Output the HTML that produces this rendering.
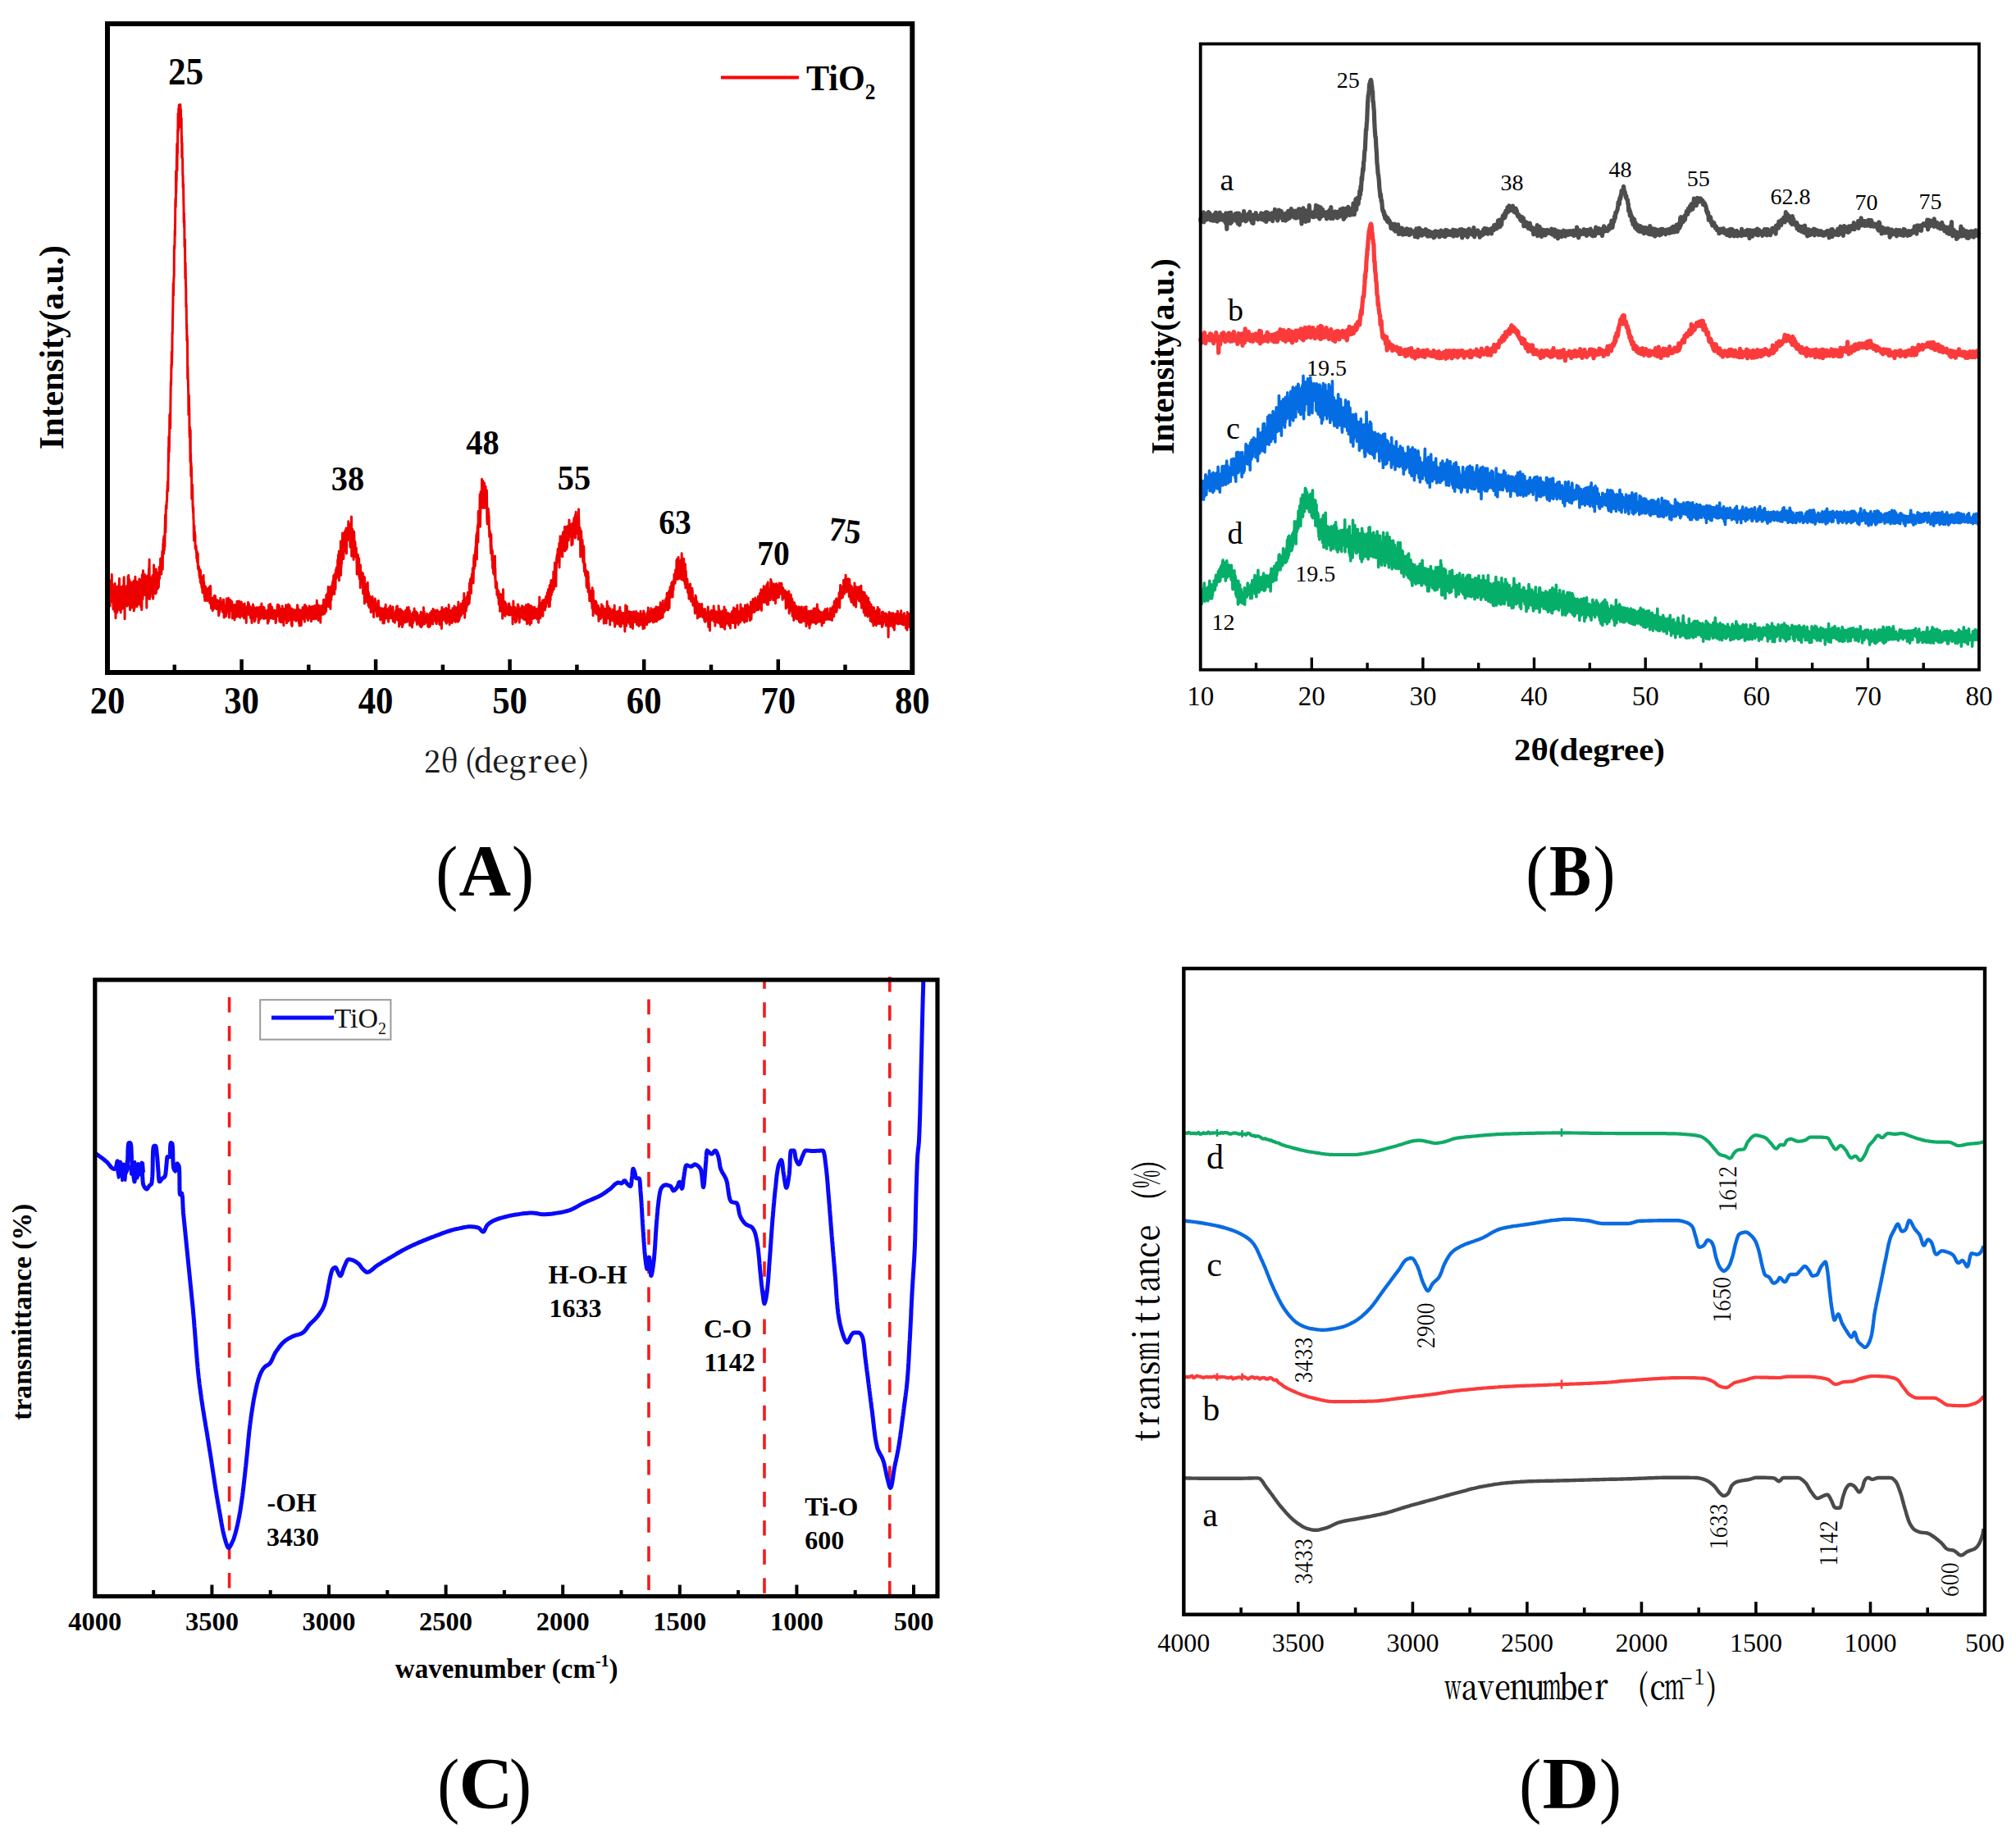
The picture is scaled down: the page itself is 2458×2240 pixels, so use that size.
<!DOCTYPE html>
<html lang="en"><head><meta charset="utf-8"><title>XRD and FTIR figure</title>
<style>
html,body{margin:0;padding:0;background:#fff;}
body{width:2458px;height:2240px;overflow:hidden;}
svg{display:block;}
text{white-space:pre;}
</style></head><body>
<svg width="2458" height="2240" viewBox="0 0 2458 2240">
<rect x="0" y="0" width="2458" height="2240" fill="#fff"/>
<g id="panelA">
<polyline points="131,731 131.2,734.6 131.4,727.7 131.6,720.4 131.8,725.6 132,719.2 132.2,731.6 132.4,746.8 132.6,725 132.8,723.5 133,736.6 133.2,735 133.5,732 133.7,719.7 133.9,730.4 134.1,739 134.3,714.7 134.5,725.2 134.7,708.1 134.9,715.3 135.1,708.7 135.3,727.8 135.5,715.5 135.7,733.8 135.9,732.4 136.1,728.3 136.3,700.6 136.5,724 136.7,729.8 136.9,731.7 137.1,712.2 137.3,724.7 137.5,718.7 137.7,720.7 138,742.9 138.2,720.7 138.4,729.8 138.6,740.7 138.8,723.2 139,728.8 139.2,731.4 139.4,730.9 139.6,715.5 139.8,730.9 140,746.2 140.2,711.6 140.4,740.2 140.6,731.4 140.8,722.3 141,753.7 141.2,738.9 141.4,715.6 141.6,718.3 141.8,736.6 142,727.5 142.2,737.8 142.4,728.9 142.7,737.6 142.9,746.7 143.1,721.5 143.3,732 143.5,724 143.7,731 143.9,715.3 144.1,722.5 144.3,727.1 144.5,740.1 144.7,743 144.9,713.5 145.1,719.8 145.3,736.9 145.5,705.5 145.7,723.7 145.9,728 146.1,744.1 146.3,737.3 146.5,725.1 146.7,724.6 146.9,726 147.2,747.1 147.4,723.8 147.6,725.2 147.8,733 148,727.3 148.2,726.4 148.4,715.4 148.6,728.5 148.8,723.3 149,742.5 149.2,736.4 149.4,728.2 149.6,736.5 149.8,724.4 150,741 150.2,728.3 150.4,735.3 150.6,712.9 150.8,732.4 151,708 151.2,703.8 151.4,724.5 151.6,717.3 151.9,730 152.1,754.8 152.3,718 152.5,720.5 152.7,730.3 152.9,733.7 153.1,725.7 153.3,725.3 153.5,736.1 153.7,733.9 153.9,715.2 154.1,726.6 154.3,727.9 154.5,714.8 154.7,730.5 154.9,717.1 155.1,739 155.3,729.6 155.5,728.3 155.7,720.1 155.9,725.7 156.1,703.1 156.4,713.5 156.6,731.3 156.8,701.4 157,737 157.2,705.9 157.4,735.8 157.6,716.6 157.8,736 158,728.2 158.2,708.1 158.4,741.5 158.6,743.7 158.8,725.6 159,723 159.2,724.3 159.4,714.5 159.6,739.3 159.8,719.6 160,725.4 160.2,716.4 160.4,718.4 160.6,710.5 160.8,740.9 161.1,723.9 161.3,737.3 161.5,725.8 161.7,717.2 161.9,721.5 162.1,718.7 162.3,725.4 162.5,720.8 162.7,721.6 162.9,708.6 163.1,715.4 163.3,744.9 163.5,716.9 163.7,712.2 163.9,728.9 164.1,741.6 164.3,707.2 164.5,722.1 164.7,716.9 164.9,703.3 165.1,733.2 165.3,724 165.5,725.1 165.8,715.1 166,729.6 166.2,717.5 166.4,722.2 166.6,710.6 166.8,709.2 167,739.7 167.2,717.5 167.4,727.1 167.6,723.1 167.8,718.1 168,717.2 168.2,730.8 168.4,719.5 168.6,721.3 168.8,723.3 169,737 169.2,731 169.4,727.3 169.6,715.9 169.8,706 170,733.9 170.3,734 170.5,720.6 170.7,728.7 170.9,731.5 171.1,732 171.3,733 171.5,716.5 171.7,739.8 171.9,706.9 172.1,731.9 172.3,727.4 172.5,731.8 172.7,743.6 172.9,738.9 173.1,707.6 173.3,701.1 173.5,730.6 173.7,708.9 173.9,720.7 174.1,730.6 174.3,701.3 174.5,695.7 174.7,723.5 175,720.8 175.2,717.4 175.4,720.6 175.6,710 175.8,702.3 176,717.9 176.2,708.5 176.4,700.6 176.6,725.4 176.8,718.7 177,724 177.2,707.9 177.4,711.6 177.6,707.6 177.8,708.8 178,721.1 178.2,709.9 178.4,722.7 178.6,722.4 178.8,741.3 179,702.7 179.2,728.2 179.5,717.2 179.7,717.9 179.9,701.9 180.1,712.8 180.3,725.9 180.5,716.7 180.7,718.4 180.9,714.3 181.1,729.9 181.3,717 181.5,693.4 181.7,709.6 181.9,695.8 182.1,682.2 182.3,711.1 182.5,730.6 182.7,716.9 182.9,704.1 183.1,706.4 183.3,727.8 183.5,717.6 183.7,716.3 183.9,715.2 184.2,716 184.4,723.6 184.6,720.9 184.8,717.4 185,704.7 185.2,720 185.4,708.1 185.6,717.3 185.8,702.2 186,713 186.2,714.1 186.4,701.4 186.6,730.2 186.8,727.5 187,709.2 187.2,720.5 187.4,716.7 187.6,688.9 187.8,715 188,712 188.2,713.1 188.4,702.4 188.7,709.5 188.9,710 189.1,721.9 189.3,714.1 189.5,710.8 189.7,723.9 189.9,705.5 190.1,706.6 190.3,694.1 190.5,722.7 190.7,717.2 190.9,716.4 191.1,713.9 191.3,708.8 191.5,709.2 191.7,704.9 191.9,704.9 192.1,706.5 192.3,718 192.5,709.6 192.7,704.1 192.9,699.3 193.1,698.2 193.4,715.9 193.6,706.3 193.8,702.1 194,698 194.2,691.2 194.4,698.8 194.6,705.6 194.8,694.6 195,695.1 195.2,694.3 195.4,696 195.6,681.3 195.8,691.2 196,685.2 196.2,698.2 196.4,683.6 196.6,693.4 196.8,699.9 197,683.6 197.2,679.9 197.4,685 197.6,682 197.9,672.2 198.1,682.8 198.3,694.2 198.5,673.4 198.7,672.1 198.9,663.1 199.1,672.8 199.3,657.4 199.5,656.5 199.7,675.2 199.9,653.8 200.1,669.1 200.3,670.7 200.5,657 200.7,657.1 200.9,667.4 201.1,644.9 201.3,638.3 201.5,628.1 201.7,638.3 201.9,649.1 202.1,640.9 202.3,618.9 202.6,616.2 202.8,616.1 203,620.5 203.2,611.6 203.4,612.1 203.6,608.9 203.8,598.5 204,597 204.2,595.2 204.4,587.6 204.6,589.2 204.8,598.9 205,580.4 205.2,569.7 205.4,546.1 205.6,562.8 205.8,532.6 206,532.8 206.2,551 206.4,543.6 206.6,528.6 206.8,506.1 207.1,514 207.3,504.4 207.5,511.8 207.7,522.2 207.9,494 208.1,476.6 208.3,465.5 208.5,470.2 208.7,461.7 208.9,444.1 209.1,449.9 209.3,429.1 209.5,445.2 209.7,436.9 209.9,429.3 210.1,404.9 210.3,407.3 210.5,392.4 210.7,381.5 210.9,373.7 211.1,355.3 211.3,345.5 211.5,360.5 211.8,341.8 212,337.6 212.2,337.3 212.4,300.2 212.6,301.7 212.8,303.3 213,297.1 213.2,280.7 213.4,287.1 213.6,270.3 213.8,247.3 214,242.2 214.2,252.5 214.4,241.1 214.6,208.8 214.8,235.4 215,220.3 215.2,221 215.4,196.1 215.6,190.5 215.8,175.5 216,207.9 216.3,173.8 216.5,186.9 216.7,158.4 216.9,162.2 217.1,138.7 217.3,148.3 217.5,159.1 217.7,132.6 217.9,154.2 218.1,144.3 218.3,128.1 218.5,132.4 218.7,131.9 218.9,135.8 219.1,130.8 219.3,128.2 219.5,134.6 219.7,128.5 219.9,127.6 220.1,142.9 220.3,155.4 220.5,133.4 220.7,153 221,150.1 221.2,144 221.4,174.9 221.6,165.7 221.8,192.2 222,174.1 222.2,192.4 222.4,192.3 222.6,193.4 222.8,214.2 223,213.5 223.2,228.7 223.4,229.4 223.6,224.6 223.8,244.2 224,253.8 224.2,271.3 224.4,259.9 224.6,277.2 224.8,268 225,301.1 225.2,291.4 225.5,292.3 225.7,319 225.9,339.7 226.1,320.6 226.3,333.7 226.5,345.7 226.7,350 226.9,374.2 227.1,370.1 227.3,379.2 227.5,401 227.7,395.1 227.9,415.6 228.1,408.8 228.3,414.1 228.5,415.4 228.7,461.7 228.9,446.4 229.1,459.7 229.3,464.2 229.5,473.4 229.7,479.3 229.9,505.7 230.2,481.8 230.4,483.1 230.6,495.4 230.8,498.5 231,526.6 231.2,533.5 231.4,521 231.6,522.5 231.8,539.1 232,563 232.2,524.6 232.4,565 232.6,553.5 232.8,580.8 233,563.7 233.2,576.9 233.4,568.9 233.6,579 233.8,608.3 234,606.8 234.2,598.3 234.4,597.6 234.6,591.2 234.9,610.6 235.1,618.1 235.3,621.3 235.5,624.8 235.7,618.4 235.9,631.9 236.1,635.4 236.3,650.9 236.5,659.1 236.7,643.7 236.9,641 237.1,650 237.3,648 237.5,649.5 237.7,657.9 237.9,652 238.1,668.3 238.3,664.6 238.5,669.7 238.7,668.3 238.9,665.9 239.1,666.2 239.4,673.8 239.6,673.2 239.8,681.1 240,681 240.2,672.2 240.4,684.8 240.6,675.6 240.8,682.7 241,686.6 241.2,674.7 241.4,692.2 241.6,693.9 241.8,692.9 242,692.2 242.2,693.7 242.4,690.5 242.6,696.7 242.8,695.7 243,701.3 243.2,693.2 243.4,704.3 243.6,704.5 243.8,703.4 244.1,702.3 244.3,709.9 244.5,695.5 244.7,710.9 244.9,710.1 245.1,707.8 245.3,712.5 245.5,706.2 245.7,709.5 245.9,716.2 246.1,715.4 246.3,714.5 246.5,703.7 246.7,717.9 246.9,722.6 247.1,722 247.3,717.5 247.5,706.3 247.7,723.1 247.9,716.5 248.1,701.6 248.3,720.9 248.6,709.3 248.8,711 249,715.7 249.2,728.3 249.4,718.2 249.6,722.7 249.8,732.5 250,731.8 250.2,721.5 250.4,721 250.6,715 250.8,718.9 251,726.2 251.2,726.4 251.4,724.9 251.6,730.7 251.8,720.1 252,724.8 252.2,730 252.4,729.4 252.6,732.7 252.8,728.8 253,724.7 253.3,729.1 253.5,721.1 253.7,717.4 253.9,731.3 254.1,727.6 254.3,730.1 254.5,718.2 254.7,726.5 254.9,725.3 255.1,724 255.3,715.8 255.5,727.6 255.7,735.3 255.9,732.4 256.1,726.7 256.3,730.4 256.5,735.3 256.7,714.4 256.9,730.4 257.1,734.6 257.3,735.6 257.5,741.8 257.8,738.6 258,733.9 258.2,734.1 258.4,737.1 258.6,729.4 258.8,732.6 259,738.3 259.2,744.7 259.4,732.4 259.6,733.2 259.8,734.8 260,741.7 260.2,733.8 260.4,742.7 260.6,728.6 260.8,733.3 261,733.4 261.2,739.3 261.4,740.9 261.6,726.2 261.8,729.8 262,737.2 262.2,731.6 262.5,726.7 262.7,741.7 262.9,738.6 263.1,738.8 263.3,733.3 263.5,742.1 263.7,734.9 263.9,742.7 264.1,731.3 264.3,731.7 264.5,737.9 264.7,732.8 264.9,740.9 265.1,738.6 265.3,731.9 265.5,737.7 265.7,735.4 265.9,742.8 266.1,734 266.3,735.2 266.5,744.7 266.7,750.7 267,749.4 267.2,738.5 267.4,739.4 267.6,747 267.8,737.7 268,732.9 268.2,739.2 268.4,741.2 268.6,734 268.8,729.5 269,730.8 269.2,742.8 269.4,734.8 269.6,738.4 269.8,740.5 270,742.8 270.2,737.5 270.4,742.3 270.6,734.5 270.8,737.6 271,733.9 271.2,746.2 271.4,739.7 271.7,735.8 271.9,738 272.1,738.8 272.3,744.1 272.5,731.3 272.7,734.5 272.9,738.2 273.1,753.1 273.3,745.8 273.5,739.9 273.7,744.6 273.9,752.2 274.1,739.4 274.3,738.8 274.5,747.6 274.7,743.7 274.9,744.7 275.1,738.2 275.3,751.8 275.5,750.7 275.7,744.4 275.9,745.1 276.2,730 276.4,744.9 276.6,740.4 276.8,743.9 277,745.4 277.2,739.7 277.4,732.3 277.6,743.8 277.8,737.6 278,740 278.2,738.5 278.4,740 278.6,729.2 278.8,748.8 279,743.5 279.2,748.3 279.4,753.1 279.6,742.3 279.8,732.3 280,737.4 280.2,735.7 280.4,739.6 280.6,742.9 280.9,731.4 281.1,744.4 281.3,734.2 281.5,744.3 281.7,742 281.9,741 282.1,742.3 282.3,739.8 282.5,739.4 282.7,733.6 282.9,742.7 283.1,753.1 283.3,753.9 283.5,750.3 283.7,746.9 283.9,739.4 284.1,751.1 284.3,742.9 284.5,742.8 284.7,741.6 284.9,743.8 285.1,740.9 285.4,742.9 285.6,737.4 285.8,741.4 286,756 286.2,743.1 286.4,742.2 286.6,746.5 286.8,747.5 287,737.5 287.2,742.5 287.4,748.7 287.6,745.2 287.8,744.4 288,752.3 288.2,740.1 288.4,744.3 288.6,741.1 288.8,752.1 289,733.3 289.2,740.3 289.4,741.1 289.6,747.7 289.8,747.4 290.1,751.7 290.3,735.6 290.5,748.3 290.7,742.6 290.9,740.6 291.1,747.2 291.3,739.3 291.5,733 291.7,742.3 291.9,736.2 292.1,740.9 292.3,746.5 292.5,746.2 292.7,753.2 292.9,743.5 293.1,736.2 293.3,740.5 293.5,739.6 293.7,738 293.9,747 294.1,741.2 294.3,734 294.5,748.5 294.8,744.2 295,746.8 295.2,745.4 295.4,748.3 295.6,745.1 295.8,751.6 296,747.3 296.2,747.1 296.4,747.2 296.6,737.1 296.8,744.2 297,743.7 297.2,746.2 297.4,737.8 297.6,754 297.8,745.7 298,738.6 298.2,736 298.4,743.7 298.6,744.8 298.8,741.4 299,745.8 299.3,741.9 299.5,740.9 299.7,741.5 299.9,745.2 300.1,750.7 300.3,759.4 300.5,740 300.7,743 300.9,741 301.1,749.8 301.3,739.4 301.5,743 301.7,745.5 301.9,740.4 302.1,740.5 302.3,743.1 302.5,734.4 302.7,737.9 302.9,743.5 303.1,746.6 303.3,744.8 303.5,736.3 303.7,743.4 304,750.2 304.2,748.9 304.4,745.5 304.6,741.2 304.8,749.4 305,742.9 305.2,739.7 305.4,741.7 305.6,753.9 305.8,747.3 306,746.3 306.2,743.6 306.4,751.2 306.6,742.9 306.8,745.4 307,759.6 307.2,750.4 307.4,743.6 307.6,745.8 307.8,748.1 308,752.9 308.2,743.7 308.5,737 308.7,744.9 308.9,746.5 309.1,747 309.3,753.6 309.5,748.2 309.7,750.9 309.9,740.6 310.1,751.2 310.3,757.9 310.5,750.8 310.7,748 310.9,747.5 311.1,756.3 311.3,741.7 311.5,746.1 311.7,749.2 311.9,750.8 312.1,744.4 312.3,748.5 312.5,745.3 312.7,747.5 312.9,746.1 313.2,740.7 313.4,746.8 313.6,751.6 313.8,741.7 314,745.7 314.2,750.6 314.4,741.3 314.6,748 314.8,741.4 315,753.2 315.2,759.5 315.4,758 315.6,746 315.8,751.1 316,747.8 316.2,747.7 316.4,755.5 316.6,740.1 316.8,752.9 317,747 317.2,754.9 317.4,748.3 317.7,743.7 317.9,748.8 318.1,751.3 318.3,747.6 318.5,750 318.7,744.6 318.9,736 319.1,752.3 319.3,751.3 319.5,748.3 319.7,747.9 319.9,753.1 320.1,745.1 320.3,743.8 320.5,746.6 320.7,754 320.9,740.2 321.1,754.1 321.3,744.3 321.5,741.8 321.7,754.5 321.9,747.2 322.1,740.8 322.4,745.9 322.6,752.8 322.8,754.2 323,745.6 323.2,750 323.4,751.7 323.6,744.5 323.8,749.8 324,747.8 324.2,745.1 324.4,745.3 324.6,748.4 324.8,748.2 325,745 325.2,745.8 325.4,754 325.6,749.2 325.8,752.9 326,754.6 326.2,751.3 326.4,760.3 326.6,743.8 326.9,752.5 327.1,746.5 327.3,758.2 327.5,757.4 327.7,737.8 327.9,743.1 328.1,751.9 328.3,752.6 328.5,752.3 328.7,748 328.9,750.8 329.1,751.9 329.3,748 329.5,754 329.7,736.4 329.9,751.9 330.1,743 330.3,753.7 330.5,747.3 330.7,743.8 330.9,750.6 331.1,743.7 331.3,743.7 331.6,740.2 331.8,748.5 332,751.3 332.2,754.2 332.4,747.9 332.6,754.3 332.8,748.8 333,748.2 333.2,751.8 333.4,754.4 333.6,747 333.8,747.5 334,748 334.2,749.3 334.4,744 334.6,754.4 334.8,746.7 335,751.4 335.2,744.5 335.4,750.9 335.6,751 335.8,746.7 336.1,759.8 336.3,751 336.5,758.5 336.7,754.2 336.9,745.5 337.1,744.6 337.3,751.4 337.5,749.4 337.7,749.4 337.9,747.6 338.1,739.4 338.3,747.9 338.5,737.3 338.7,751.2 338.9,745.3 339.1,745.4 339.3,748 339.5,750.7 339.7,741.6 339.9,739.9 340.1,743.6 340.3,738.3 340.5,744.1 340.8,757.8 341,743.7 341.2,752.8 341.4,742 341.6,751 341.8,747.7 342,749.1 342.2,752.5 342.4,758.8 342.6,750.5 342.8,750.1 343,744.2 343.2,752.6 343.4,748.2 343.6,754 343.8,749.3 344,758.8 344.2,738.9 344.4,748 344.6,754.3 344.8,747.7 345,745.3 345.3,748.2 345.5,742.2 345.7,750.2 345.9,762.7 346.1,755.8 346.3,743.7 346.5,745 346.7,747.5 346.9,755.1 347.1,745.3 347.3,746 347.5,754.4 347.7,754.3 347.9,747.7 348.1,743.7 348.3,741.4 348.5,746 348.7,737.8 348.9,753.8 349.1,746.4 349.3,752.4 349.5,759.8 349.7,756.1 350,743.6 350.2,754.5 350.4,756 350.6,745.8 350.8,744.7 351,749.2 351.2,741.2 351.4,757.7 351.6,736.9 351.8,743.9 352,748.4 352.2,748.7 352.4,750.8 352.6,751.3 352.8,748.7 353,756 353.2,738.4 353.4,749.9 353.6,746.1 353.8,750.6 354,751.1 354.2,745 354.5,746.5 354.7,754.2 354.9,751.8 355.1,746.3 355.3,760.9 355.5,762.4 355.7,742.1 355.9,751.6 356.1,763.4 356.3,754.2 356.5,751.1 356.7,748.8 356.9,747 357.1,748.8 357.3,747 357.5,754 357.7,747.8 357.9,747.6 358.1,743.5 358.3,749.7 358.5,745.2 358.7,749 358.9,755.6 359.2,751.9 359.4,752.7 359.6,751.9 359.8,750.3 360,749.3 360.2,748.3 360.4,754 360.6,744.1 360.8,757.2 361,750.1 361.2,745.9 361.4,747.3 361.6,746.3 361.8,750.8 362,746.1 362.2,756.1 362.4,745.7 362.6,737.7 362.8,746 363,739.1 363.2,749.7 363.4,755.6 363.6,753.4 363.9,742.7 364.1,745.8 364.3,759.5 364.5,751.6 364.7,749.9 364.9,755.5 365.1,763.1 365.3,756.8 365.5,750.6 365.7,751.7 365.9,753.1 366.1,746.5 366.3,744 366.5,750 366.7,744.6 366.9,749.4 367.1,750.2 367.3,762.4 367.5,745.1 367.7,749 367.9,748.8 368.1,752 368.4,755.3 368.6,747 368.8,745.2 369,740.7 369.2,744.6 369.4,752.5 369.6,749.8 369.8,744 370,747.5 370.2,749.7 370.4,752.2 370.6,746.3 370.8,748.1 371,739.6 371.2,743.2 371.4,758.2 371.6,737.5 371.8,747.5 372,750.5 372.2,747.3 372.4,744.9 372.6,748.9 372.8,749.2 373.1,748.8 373.3,739 373.5,748.4 373.7,744.5 373.9,746.1 374.1,750.3 374.3,752.6 374.5,753.9 374.7,746.3 374.9,754 375.1,755.4 375.3,755.1 375.5,756.5 375.7,748.1 375.9,747.9 376.1,753.3 376.3,741.3 376.5,749.9 376.7,745.8 376.9,746.6 377.1,739.1 377.3,743.7 377.6,748.4 377.8,753.4 378,753.9 378.2,748 378.4,747.4 378.6,743.8 378.8,750.5 379,745.5 379.2,751.6 379.4,757.8 379.6,748 379.8,739.9 380,743.3 380.2,740 380.4,741.4 380.6,755.1 380.8,749.1 381,739.4 381.2,751.3 381.4,754.6 381.6,745.6 381.8,743.8 382,745.7 382.3,749 382.5,750.9 382.7,753.9 382.9,754 383.1,753.8 383.3,754.7 383.5,750.7 383.7,738.5 383.9,746.2 384.1,748.6 384.3,744.7 384.5,751.8 384.7,744.6 384.9,741.4 385.1,754.5 385.3,750.1 385.5,747.5 385.7,751.4 385.9,752.1 386.1,747.9 386.3,732.3 386.5,742.1 386.8,743.2 387,740.2 387.2,746.7 387.4,752.1 387.6,742.6 387.8,738.9 388,756.5 388.2,742.5 388.4,738 388.6,746.1 388.8,747.1 389,740.6 389.2,748.9 389.4,741.6 389.6,739 389.8,745.1 390,748.3 390.2,740.2 390.4,745.5 390.6,742.9 390.8,759.3 391,739.2 391.2,750.9 391.5,742.6 391.7,742 391.9,746.6 392.1,747.5 392.3,749.4 392.5,743.9 392.7,738.4 392.9,738.5 393.1,744.4 393.3,744.6 393.5,749.1 393.7,743.2 393.9,746.7 394.1,749.2 394.3,741.1 394.5,731.4 394.7,732.9 394.9,731.2 395.1,748.5 395.3,734.1 395.5,746 395.7,741.9 396,748.3 396.2,743.9 396.4,737.1 396.6,736.3 396.8,737.7 397,737.9 397.2,733.4 397.4,736.1 397.6,745.5 397.8,725.5 398,736.9 398.2,729.6 398.4,735.8 398.6,739.4 398.8,733.6 399,738.3 399.2,723.7 399.4,739.6 399.6,728.9 399.8,735.9 400,732.9 400.2,715.6 400.4,726.3 400.7,731.9 400.9,739.7 401.1,731.5 401.3,730.9 401.5,720.1 401.7,737.3 401.9,739.2 402.1,727.6 402.3,725.6 402.5,716.3 402.7,731.6 402.9,742.5 403.1,729.5 403.3,732.5 403.5,727.4 403.7,717.1 403.9,731.4 404.1,714.4 404.3,720.4 404.5,723 404.7,726.3 404.9,722.7 405.2,721.9 405.4,713.8 405.6,709.7 405.8,718 406,712.3 406.2,707.6 406.4,707.2 406.6,711.7 406.8,701.9 407,704.6 407.2,702 407.4,713.5 407.6,714.4 407.8,724.6 408,699.9 408.2,704.8 408.4,715 408.6,706.5 408.8,704.9 409,718.4 409.2,703.3 409.4,696.8 409.6,694.8 409.9,705.7 410.1,704.7 410.3,691.9 410.5,693.9 410.7,704 410.9,703.5 411.1,693.8 411.3,702.1 411.5,701 411.7,682.8 411.9,692.8 412.1,697.3 412.3,689.1 412.5,676.5 412.7,689.5 412.9,696.4 413.1,701.8 413.3,672.3 413.5,708 413.7,678.5 413.9,693.6 414.1,694.9 414.4,692.1 414.6,684.7 414.8,673.6 415,686.7 415.2,675.2 415.4,660 415.6,701.5 415.8,683.8 416,691.8 416.2,669 416.4,687.3 416.6,687.5 416.8,678.3 417,672.7 417.2,662.1 417.4,669.6 417.6,650.1 417.8,655.3 418,669.3 418.2,659.5 418.4,665.5 418.6,665.2 418.8,681.6 419.1,675.5 419.3,663.4 419.5,673.3 419.7,655.6 419.9,658.7 420.1,668.7 420.3,649.5 420.5,657.1 420.7,647.5 420.9,659.3 421.1,671.8 421.3,650.5 421.5,658.5 421.7,648.1 421.9,645.4 422.1,644.1 422.3,667.3 422.5,674.9 422.7,657.9 422.9,646.9 423.1,659.2 423.3,649.6 423.6,659.4 423.8,654.6 424,654.3 424.2,657 424.4,646.3 424.6,647.7 424.8,635.8 425,647.2 425.2,638.4 425.4,649.8 425.6,642.5 425.8,652 426,655.2 426.2,638.7 426.4,644.2 426.6,643.2 426.8,658.5 427,667.2 427.2,659.9 427.4,649.5 427.6,665.9 427.8,639.9 428,666.9 428.3,648.3 428.5,630.1 428.7,678.3 428.9,669.3 429.1,647 429.3,658 429.5,655.3 429.7,658.6 429.9,645.5 430.1,653.1 430.3,663.6 430.5,662.2 430.7,671.2 430.9,662.3 431.1,682.4 431.3,657 431.5,666.1 431.7,648.5 431.9,654.9 432.1,677.4 432.3,659.2 432.5,672.3 432.7,668.2 433,660.9 433.2,667.5 433.4,667 433.6,668.1 433.8,679.1 434,679.2 434.2,670.1 434.4,668.3 434.6,678.8 434.8,676.6 435,686.5 435.2,700.3 435.4,686.8 435.6,680.8 435.8,680.6 436,676.1 436.2,676.7 436.4,676.9 436.6,682.5 436.8,683.2 437,693 437.2,685.2 437.5,687.6 437.7,680.8 437.9,703.3 438.1,695.6 438.3,706 438.5,699.5 438.7,705.5 438.9,693.5 439.1,701.4 439.3,716.8 439.5,688.9 439.7,707.2 439.9,711.8 440.1,703.4 440.3,706.7 440.5,711.1 440.7,698.1 440.9,706.6 441.1,698.1 441.3,700.3 441.5,701.6 441.7,705.7 441.9,708.6 442.2,711.5 442.4,699 442.6,723.7 442.8,718.6 443,716.3 443.2,709.4 443.4,712 443.6,717.1 443.8,716.8 444,703.2 444.2,720.4 444.4,735.9 444.6,704.1 444.8,724.1 445,720.4 445.2,717.8 445.4,728.4 445.6,711.9 445.8,721.5 446,730.7 446.2,720.3 446.4,719.4 446.7,723.3 446.9,720.4 447.1,734 447.3,718.4 447.5,730.6 447.7,717.3 447.9,730.3 448.1,725.8 448.3,710.3 448.5,727.4 448.7,721.1 448.9,725.5 449.1,738.6 449.3,722.2 449.5,723 449.7,739.3 449.9,731.4 450.1,740.8 450.3,733.5 450.5,726.3 450.7,731.9 450.9,740.3 451.1,738.9 451.4,733.4 451.6,734.1 451.8,733.5 452,731 452.2,746.8 452.4,735.3 452.6,728.6 452.8,733 453,740.7 453.2,740.5 453.4,736 453.6,733.1 453.8,737.6 454,727.6 454.2,730.2 454.4,743.2 454.6,735.7 454.8,741.1 455,746.5 455.2,743.3 455.4,739.8 455.6,752.6 455.9,744.2 456.1,738.3 456.3,745 456.5,743.3 456.7,736 456.9,741.7 457.1,740.6 457.3,730.1 457.5,740.9 457.7,740.5 457.9,739.8 458.1,732.9 458.3,740.6 458.5,742.7 458.7,743.7 458.9,736.6 459.1,747.2 459.3,736.5 459.5,742.5 459.7,751.6 459.9,740.1 460.1,741.3 460.3,750.7 460.6,742.3 460.8,743 461,746.2 461.2,751.1 461.4,732.4 461.6,740.5 461.8,739.6 462,739.3 462.2,740.7 462.4,741 462.6,747.7 462.8,740.9 463,746.9 463.2,748.6 463.4,742.2 463.6,747.2 463.8,756 464,748.5 464.2,743.2 464.4,746.5 464.6,741.8 464.8,748.7 465.1,752.1 465.3,742.6 465.5,746.2 465.7,753.8 465.9,744.7 466.1,748.7 466.3,741.9 466.5,743.2 466.7,745 466.9,760 467.1,745.8 467.3,745.2 467.5,745.1 467.7,747.4 467.9,752 468.1,749.5 468.3,759.9 468.5,749.8 468.7,756.6 468.9,750.2 469.1,752.1 469.3,740.9 469.5,748.2 469.8,748.6 470,747.7 470.2,737.3 470.4,754 470.6,747.1 470.8,746.9 471,747.9 471.2,748.1 471.4,751.7 471.6,742.5 471.8,744.5 472,751.2 472.2,750.5 472.4,747.6 472.6,746.6 472.8,745.2 473,749.5 473.2,756.4 473.4,744.2 473.6,758.3 473.8,754.7 474,747.6 474.3,754.4 474.5,742.2 474.7,740.8 474.9,743.2 475.1,748.1 475.3,748.6 475.5,747.6 475.7,751 475.9,738.8 476.1,753.2 476.3,742.8 476.5,747 476.7,748.4 476.9,744.4 477.1,743.2 477.3,745.3 477.5,750.7 477.7,754 477.9,753.9 478.1,745.5 478.3,746.6 478.5,745.9 478.7,753.4 479,739.9 479.2,757.8 479.4,748.4 479.6,746.9 479.8,753 480,756.8 480.2,753.1 480.4,756.9 480.6,752 480.8,757.9 481,758.1 481.2,750.8 481.4,759.2 481.6,752.3 481.8,751.9 482,746.5 482.2,749.9 482.4,755.7 482.6,744.4 482.8,755.1 483,753.5 483.2,753.1 483.5,739.7 483.7,751.1 483.9,755.2 484.1,747.6 484.3,752.2 484.5,738.9 484.7,755.4 484.9,748.2 485.1,756.5 485.3,741.9 485.5,755.6 485.7,750.6 485.9,756.3 486.1,746.9 486.3,748.6 486.5,764.1 486.7,747.5 486.9,748.2 487.1,750.5 487.3,746.5 487.5,758.5 487.7,761.4 487.9,748.3 488.2,742.8 488.4,758.5 488.6,758.1 488.8,756.6 489,758.4 489.2,747.5 489.4,751.3 489.6,744.8 489.8,744.6 490,757.6 490.2,748.7 490.4,764.6 490.6,752.7 490.8,748.9 491,756.7 491.2,762.1 491.4,755 491.6,745.9 491.8,754.4 492,759.8 492.2,749.8 492.4,748.3 492.6,758 492.9,753.3 493.1,746.6 493.3,750.5 493.5,748.5 493.7,754.2 493.9,753.2 494.1,758.8 494.3,756.4 494.5,744.2 494.7,754.8 494.9,757.5 495.1,755.1 495.3,758.2 495.5,749.7 495.7,747.6 495.9,757.7 496.1,747 496.3,741.1 496.5,758.2 496.7,748.9 496.9,751.1 497.1,745.3 497.4,745.7 497.6,746.6 497.8,750.9 498,754.8 498.2,740.5 498.4,756.9 498.6,746.5 498.8,747.1 499,756.5 499.2,752.5 499.4,744.6 499.6,762.8 499.8,748.3 500,754.2 500.2,754 500.4,760.5 500.6,750.5 500.8,758.3 501,749 501.2,759 501.4,748.9 501.6,751 501.8,763.1 502.1,754.7 502.3,753.6 502.5,765 502.7,754.9 502.9,748.6 503.1,756.9 503.3,746.7 503.5,759.1 503.7,759.5 503.9,750 504.1,749.7 504.3,754 504.5,753.1 504.7,747.8 504.9,756.1 505.1,742.1 505.3,750.7 505.5,750.9 505.7,751.6 505.9,754.7 506.1,746.5 506.3,756.2 506.6,752.1 506.8,749.6 507,745.8 507.2,746.8 507.4,755 507.6,747.9 507.8,753.4 508,758.8 508.2,758.6 508.4,761.5 508.6,751.5 508.8,747.3 509,758.6 509.2,754.8 509.4,759.1 509.6,753.2 509.8,759.5 510,757.7 510.2,757 510.4,755.8 510.6,755.3 510.8,754.4 511,754.3 511.3,758.4 511.5,750.4 511.7,762.4 511.9,752.6 512.1,758.4 512.3,752.7 512.5,751.8 512.7,764 512.9,751.5 513.1,746.3 513.3,749.3 513.5,751.4 513.7,764.7 513.9,754.2 514.1,758.1 514.3,747.8 514.5,755 514.7,756.7 514.9,762.8 515.1,749.4 515.3,756.4 515.5,754.7 515.8,747.7 516,753 516.2,751.7 516.4,740.7 516.6,756.3 516.8,756 517,750.8 517.2,745.9 517.4,761 517.6,754.5 517.8,758.5 518,760.6 518.2,750.3 518.4,757.4 518.6,751.8 518.8,752.7 519,752.6 519.2,753.1 519.4,759 519.6,753.7 519.8,752.2 520,751.6 520.2,754.9 520.5,748.3 520.7,750.4 520.9,752.8 521.1,750 521.3,752.4 521.5,749.7 521.7,763.7 521.9,760.1 522.1,755.4 522.3,752.7 522.5,764.7 522.7,754.7 522.9,752.5 523.1,754.6 523.3,754.6 523.5,760.5 523.7,752.8 523.9,764.2 524.1,748.2 524.3,756.6 524.5,747.5 524.7,762.6 525,751.1 525.2,752.6 525.4,757.8 525.6,759.6 525.8,746.9 526,751 526.2,745.4 526.4,753.6 526.6,752.3 526.8,750.9 527,749.1 527.2,750.7 527.4,748.8 527.6,755.6 527.8,760.9 528,742.4 528.2,752.1 528.4,750.5 528.6,755.4 528.8,747.6 529,751.9 529.2,747.1 529.4,756.4 529.7,753.2 529.9,751.8 530.1,754.6 530.3,751.3 530.5,744.3 530.7,755.8 530.9,754.1 531.1,751.7 531.3,757.8 531.5,759.1 531.7,746.6 531.9,748.3 532.1,760.8 532.3,760.1 532.5,748.5 532.7,746.1 532.9,749 533.1,749.7 533.3,743.9 533.5,752.5 533.7,745.5 533.9,745.8 534.2,757.2 534.4,748.6 534.6,751.9 534.8,755.7 535,756.6 535.2,750.4 535.4,752.4 535.6,747.7 535.8,761.6 536,755.6 536.2,746.2 536.4,752.1 536.6,755.9 536.8,754.6 537,761.9 537.2,759.4 537.4,749.1 537.6,751.5 537.8,745 538,753.3 538.2,752.7 538.4,766.5 538.6,752.4 538.9,740.5 539.1,748.2 539.3,752.4 539.5,745 539.7,747 539.9,749.7 540.1,753.5 540.3,750.8 540.5,746.8 540.7,755.9 540.9,748.6 541.1,748.8 541.3,744 541.5,747.2 541.7,755 541.9,742.7 542.1,751 542.3,755.2 542.5,749.3 542.7,752.6 542.9,745.2 543.1,758.3 543.4,757.2 543.6,752.4 543.8,741.6 544,745.4 544.2,756.4 544.4,760.3 544.6,752.6 544.8,757.7 545,747.6 545.2,749.8 545.4,750.8 545.6,753.1 545.8,742.4 546,755.8 546.2,757.9 546.4,744.4 546.6,743.2 546.8,752.5 547,746.9 547.2,737.5 547.4,754.8 547.6,751.2 547.8,747.7 548.1,761.8 548.3,751 548.5,746.1 548.7,750.7 548.9,744.4 549.1,745.9 549.3,752.1 549.5,746.9 549.7,747.4 549.9,758.9 550.1,754.5 550.3,754.1 550.5,752.6 550.7,752.3 550.9,757.5 551.1,749.4 551.3,759.6 551.5,744.1 551.7,747.9 551.9,741.7 552.1,747.3 552.3,752 552.6,757 552.8,745.3 553,748.9 553.2,746.9 553.4,744.7 553.6,742.2 553.8,749 554,739 554.2,749.1 554.4,748.5 554.6,744.7 554.8,742.7 555,740.5 555.2,758.4 555.4,740.6 555.6,756.5 555.8,751.2 556,745.7 556.2,741.2 556.4,750.2 556.6,757.1 556.8,742.2 557,745.6 557.3,753 557.5,748.9 557.7,758.1 557.9,743.7 558.1,749.8 558.3,739.7 558.5,758.2 558.7,742.3 558.9,734 559.1,745.5 559.3,745.3 559.5,756.7 559.7,743.9 559.9,745.6 560.1,748.9 560.3,754.3 560.5,744.9 560.7,751 560.9,747.9 561.1,743.2 561.3,745.1 561.5,744.7 561.7,739.2 562,751.1 562.2,736.1 562.4,750.5 562.6,749.1 562.8,742.9 563,738.9 563.2,741.8 563.4,745.6 563.6,746.9 563.8,744.1 564,747.9 564.2,738.8 564.4,743.1 564.6,732.5 564.8,745.7 565,741.9 565.2,738.3 565.4,747.2 565.6,744.2 565.8,723.5 566,739.8 566.2,730.8 566.5,745.2 566.7,753.2 566.9,735.2 567.1,738.4 567.3,736.1 567.5,739.2 567.7,740.6 567.9,744 568.1,730.1 568.3,744.9 568.5,729.5 568.7,736.3 568.9,741.1 569.1,738 569.3,727.5 569.5,728.4 569.7,729.3 569.9,731.2 570.1,738 570.3,722.4 570.5,732.6 570.7,732.9 570.9,732 571.2,730.7 571.4,736.6 571.6,729.5 571.8,731.1 572,728.5 572.2,735.5 572.4,711.2 572.6,730.7 572.8,719.9 573,718.9 573.2,713.5 573.4,706.7 573.6,715.4 573.8,712.4 574,719.2 574.2,705.1 574.4,723.5 574.6,714.6 574.8,709.9 575,705.6 575.2,703.9 575.4,700.2 575.7,703 575.9,705.6 576.1,703 576.3,692.8 576.5,699.6 576.7,693.7 576.9,699.9 577.1,710.9 577.3,700.4 577.5,691.9 577.7,680.5 577.9,680.4 578.1,676.7 578.3,693.4 578.5,680.3 578.7,684.9 578.9,677.9 579.1,681.7 579.3,690.3 579.5,671.9 579.7,672.8 579.9,667.1 580.1,678.9 580.4,661.4 580.6,658.5 580.8,654.3 581,652 581.2,666 581.4,682.1 581.6,649.3 581.8,664.2 582,656 582.2,641.9 582.4,647.2 582.6,645.5 582.8,639.2 583,661.1 583.2,623.6 583.4,642.8 583.6,640.3 583.8,629.6 584,634.5 584.2,639.4 584.4,630.5 584.6,631.1 584.9,631.8 585.1,603 585.3,636 585.5,642.2 585.7,627.5 585.9,626.1 586.1,599.7 586.3,611.3 586.5,602.5 586.7,603.3 586.9,618 587.1,598.2 587.3,604 587.5,584.2 587.7,601.4 587.9,602.9 588.1,593.7 588.3,592.7 588.5,619.3 588.7,586.3 588.9,587.5 589.1,589.6 589.3,610.3 589.6,619.5 589.8,601 590,590.1 590.2,593.3 590.4,609.2 590.6,588.9 590.8,614.1 591,614.3 591.2,601 591.4,607.8 591.6,609.8 591.8,619.2 592,593.1 592.2,617.6 592.4,602.6 592.6,599.9 592.8,610.4 593,608.6 593.2,602.2 593.4,597.7 593.6,606.1 593.8,632.1 594.1,639 594.3,627.6 594.5,634.7 594.7,619.8 594.9,626.1 595.1,631.6 595.3,620.4 595.5,623.4 595.7,624.6 595.9,634 596.1,629.1 596.3,644.7 596.5,640.8 596.7,654.6 596.9,647.3 597.1,646.8 597.3,652.7 597.5,652.1 597.7,649.8 597.9,654.2 598.1,666.2 598.3,667.3 598.5,674.6 598.8,651.5 599,664.4 599.2,666.2 599.4,672.9 599.6,669.7 599.8,671.1 600,683.4 600.2,680.3 600.4,671.5 600.6,692.9 600.8,691.9 601,681.4 601.2,693.9 601.4,683.6 601.6,699.3 601.8,690.7 602,687.9 602.2,692.7 602.4,691.3 602.6,699.8 602.8,701 603,701.4 603.3,698.6 603.5,678 603.7,705.8 603.9,693.2 604.1,709.4 604.3,716.7 604.5,711.9 604.7,708.6 604.9,711.1 605.1,712.5 605.3,710.8 605.5,711.6 605.7,710.4 605.9,725.4 606.1,718.4 606.3,725.6 606.5,718.7 606.7,721.6 606.9,720.9 607.1,725.8 607.3,728.9 607.5,725.9 607.7,720.9 608,721 608.2,737 608.4,725.5 608.6,726.1 608.8,737.7 609,736 609.2,733.1 609.4,728 609.6,745.4 609.8,733.9 610,735.4 610.2,731.5 610.4,724.5 610.6,725.5 610.8,736.5 611,736.8 611.2,733.5 611.4,728.3 611.6,727.2 611.8,734.2 612,727.9 612.2,742.2 612.5,744.1 612.7,754.3 612.9,743.1 613.1,734.8 613.3,733.5 613.5,718.7 613.7,735.7 613.9,738.4 614.1,745.4 614.3,743.6 614.5,743.7 614.7,741.7 614.9,744.6 615.1,749.3 615.3,735.1 615.5,738.8 615.7,733.7 615.9,751.2 616.1,749.5 616.3,746.6 616.5,735.6 616.7,743.6 616.9,741.5 617.2,743.4 617.4,742.1 617.6,746.3 617.8,741.2 618,748.5 618.2,745.1 618.4,742.3 618.6,743.4 618.8,741.7 619,748.9 619.2,742.9 619.4,746.3 619.6,742.5 619.8,736.5 620,750.1 620.2,739.1 620.4,749 620.6,747.7 620.8,736.1 621,740.2 621.2,742.7 621.4,741.1 621.6,739.2 621.9,750 622.1,744.6 622.3,748.2 622.5,743.8 622.7,748 622.9,742.1 623.1,746.3 623.3,749.7 623.5,746.8 623.7,744.1 623.9,740.7 624.1,747.7 624.3,748.8 624.5,745.5 624.7,742.7 624.9,750.1 625.1,761 625.3,745.5 625.5,749.1 625.7,749.4 625.9,733.1 626.1,748.1 626.4,743.6 626.6,755.2 626.8,746.2 627,743.4 627.2,746.5 627.4,748.7 627.6,744.7 627.8,747.6 628,740.4 628.2,746.7 628.4,752.3 628.6,758.9 628.8,752 629,749.6 629.2,754.7 629.4,753.9 629.6,757.5 629.8,754.3 630,747.7 630.2,749.8 630.4,749.4 630.6,750.1 630.8,749.6 631.1,744.2 631.3,736.9 631.5,744.9 631.7,737.4 631.9,749 632.1,748.7 632.3,739.5 632.5,752.5 632.7,753.5 632.9,749.3 633.1,758 633.3,759.1 633.5,742.2 633.7,754.6 633.9,751.3 634.1,751.2 634.3,754.1 634.5,745 634.7,745.7 634.9,744.4 635.1,744.8 635.3,748.5 635.6,741 635.8,743.3 636,752.2 636.2,748.7 636.4,751.2 636.6,738.7 636.8,744.8 637,746.1 637.2,749.3 637.4,745.9 637.6,754.3 637.8,748.8 638,749.2 638.2,749.2 638.4,753.1 638.6,746.6 638.8,755.3 639,751.7 639.2,750 639.4,740.2 639.6,752 639.8,754.8 640,754.4 640.3,744 640.5,754 640.7,749.8 640.9,756.1 641.1,749 641.3,737.8 641.5,756.5 641.7,749.7 641.9,742.7 642.1,748.1 642.3,744.3 642.5,760.7 642.7,751.8 642.9,740.5 643.1,752.1 643.3,746.9 643.5,759.6 643.7,743.3 643.9,736.7 644.1,749.4 644.3,747.1 644.5,746.7 644.8,737.2 645,751.3 645.2,758.1 645.4,738.4 645.6,755.3 645.8,745.7 646,761.8 646.2,751.2 646.4,747.8 646.6,754.9 646.8,751.7 647,745.5 647.2,752.6 647.4,745.9 647.6,738.8 647.8,759.8 648,746.6 648.2,745.2 648.4,750.4 648.6,739.9 648.8,741 649,745.6 649.2,745.5 649.5,748.7 649.7,754.5 649.9,745.6 650.1,750.9 650.3,751.5 650.5,742.1 650.7,749.3 650.9,742.8 651.1,753.8 651.3,750.4 651.5,747.9 651.7,740.3 651.9,748.4 652.1,743.4 652.3,751.5 652.5,746.9 652.7,742.9 652.9,752.5 653.1,751.3 653.3,743.9 653.5,753.6 653.7,745.4 654,745.3 654.2,747.6 654.4,742.6 654.6,744.3 654.8,745.8 655,755.1 655.2,754.9 655.4,744.9 655.6,755.3 655.8,745.9 656,748.2 656.2,750.9 656.4,747.5 656.6,759.3 656.8,747 657,738.7 657.2,752.7 657.4,742.9 657.6,743.3 657.8,728 658,750.4 658.2,749.2 658.4,749 658.7,749.8 658.9,753.7 659.1,743.7 659.3,749.1 659.5,739.4 659.7,741.4 659.9,749.3 660.1,745.3 660.3,735.2 660.5,744.7 660.7,741.4 660.9,737.5 661.1,744.5 661.3,739.4 661.5,732.4 661.7,734.8 661.9,751.2 662.1,732 662.3,741.7 662.5,743.7 662.7,743.6 662.9,732.5 663.2,737.4 663.4,739.8 663.6,743.4 663.8,734.6 664,731.2 664.2,743.6 664.4,743.8 664.6,739.1 664.8,733 665,738.6 665.2,736.5 665.4,740.4 665.6,727.5 665.8,735.3 666,733.2 666.2,727 666.4,734.6 666.6,733 666.8,729.8 667,734.3 667.2,722.7 667.4,730.5 667.6,733 667.9,731.6 668.1,736 668.3,721.3 668.5,718.8 668.7,729.1 668.9,729.9 669.1,739.8 669.3,729.7 669.5,719.7 669.7,729.7 669.9,718.6 670.1,713.8 670.3,739.4 670.5,724.1 670.7,725.9 670.9,724.3 671.1,731.7 671.3,721 671.5,726.4 671.7,710.9 671.9,707.7 672.1,725.7 672.4,725.3 672.6,718.1 672.8,715.4 673,714.2 673.2,707.6 673.4,721.9 673.6,715.1 673.8,713.2 674,711.5 674.2,715.3 674.4,710.7 674.6,711.5 674.8,697.2 675,708.1 675.2,719.1 675.4,699 675.6,700.9 675.8,707.3 676,706.8 676.2,703.5 676.4,686.3 676.6,700.8 676.8,687.5 677.1,689.1 677.3,698.3 677.5,691.1 677.7,698.4 677.9,715.1 678.1,696.3 678.3,695 678.5,681.7 678.7,682.7 678.9,678.5 679.1,681.6 679.3,676.3 679.5,678.7 679.7,681.3 679.9,674.1 680.1,669.9 680.3,669.4 680.5,682.9 680.7,678.9 680.9,685.7 681.1,685 681.3,673 681.6,680.4 681.8,662.4 682,691.9 682.2,682.3 682.4,670 682.6,661.4 682.8,673.4 683,654.1 683.2,662.4 683.4,674.4 683.6,668.1 683.8,662.8 684,674.2 684.2,656.9 684.4,667.5 684.6,660.4 684.8,656.9 685,667.5 685.2,654.6 685.4,678.8 685.6,657.2 685.8,678.8 686,652 686.3,666.2 686.5,650.3 686.7,648.8 686.9,661.4 687.1,665.5 687.3,648.4 687.5,669.4 687.7,652 687.9,659.8 688.1,661.8 688.3,663.4 688.5,642.5 688.7,671.9 688.9,662.6 689.1,653.8 689.3,648.5 689.5,642.5 689.7,645.2 689.9,661.7 690.1,653.8 690.3,646.8 690.5,651.9 690.7,670 691,653.3 691.2,650.9 691.4,667.7 691.6,659.8 691.8,655.9 692,650 692.2,641.5 692.4,644.7 692.6,650.6 692.8,652.6 693,657.5 693.2,659 693.4,655.8 693.6,655.6 693.8,644.4 694,634 694.2,648.1 694.4,644 694.6,646.3 694.8,649.4 695,640.4 695.2,641.2 695.5,649.8 695.7,651.4 695.9,644.1 696.1,654.1 696.3,647.2 696.5,639.6 696.7,648.7 696.9,664.9 697.1,641.4 697.3,657.6 697.5,659.1 697.7,659.8 697.9,638.2 698.1,663.7 698.3,645.9 698.5,642.1 698.7,641.8 698.9,649 699.1,643.6 699.3,641.1 699.5,654.1 699.7,635.2 699.9,631.9 700.2,648.6 700.4,647.4 700.6,650.7 700.8,630.3 701,650.1 701.2,644.3 701.4,656.1 701.6,627.8 701.8,641.4 702,636.7 702.2,624.3 702.4,632.5 702.6,649.8 702.8,634.9 703,632.7 703.2,647.7 703.4,649 703.6,649.3 703.8,633 704,640.2 704.2,650.7 704.4,635.6 704.7,635.2 704.9,650.3 705.1,657.7 705.3,633.4 705.5,620.9 705.7,632.2 705.9,637 706.1,645.9 706.3,653.6 706.5,647.6 706.7,643.6 706.9,652.3 707.1,643.4 707.3,652.7 707.5,648.5 707.7,678.9 707.9,663.7 708.1,650.5 708.3,650.4 708.5,656.5 708.7,647.4 708.9,656.6 709.1,657.9 709.4,672.9 709.6,663.2 709.8,661.6 710,658.4 710.2,661.2 710.4,671.8 710.6,671.9 710.8,684.3 711,671.4 711.2,686.3 711.4,681.3 711.6,680.6 711.8,666.3 712,673.4 712.2,690.5 712.4,696.9 712.6,689.1 712.8,694.7 713,687.1 713.2,688.8 713.4,687.9 713.6,701.4 713.9,698 714.1,695 714.3,695.6 714.5,703.3 714.7,702.8 714.9,695.7 715.1,715.1 715.3,705.9 715.5,705.3 715.7,716.7 715.9,714.6 716.1,708 716.3,713.4 716.5,703.5 716.7,707.5 716.9,697.6 717.1,722.1 717.3,702.2 717.5,720.4 717.7,711.3 717.9,711.3 718.1,717.4 718.3,721.3 718.6,724.4 718.8,732.8 719,724.5 719.2,728.6 719.4,720 719.6,729.1 719.8,726.3 720,723.2 720.2,726.2 720.4,727.1 720.6,729.4 720.8,731.4 721,726.4 721.2,725.6 721.4,735.4 721.6,721 721.8,728.2 722,742 722.2,716.7 722.4,729.5 722.6,738.3 722.8,724.8 723.1,750.7 723.3,720.3 723.5,744.7 723.7,745.9 723.9,742.5 724.1,736.2 724.3,740 724.5,733 724.7,743.4 724.9,732.5 725.1,737.8 725.3,745.6 725.5,733.7 725.7,738.4 725.9,741.7 726.1,733.4 726.3,748.1 726.5,743.7 726.7,733.3 726.9,742 727.1,734.9 727.3,739 727.5,743.5 727.8,739.2 728,749 728.2,739.8 728.4,749.5 728.6,743.9 728.8,749.2 729,741.5 729.2,741.9 729.4,738.5 729.6,748.4 729.8,750.6 730,757.4 730.2,752.9 730.4,747.2 730.6,744.8 730.8,748.3 731,746.2 731.2,754.6 731.4,751.9 731.6,742.1 731.8,743 732,754.6 732.3,748.8 732.5,745.9 732.7,753.9 732.9,745.3 733.1,746 733.3,745.1 733.5,736.9 733.7,752.7 733.9,741.3 734.1,745 734.3,744.1 734.5,752.3 734.7,748 734.9,748.6 735.1,739.3 735.3,748.2 735.5,740.6 735.7,750.5 735.9,750.9 736.1,748.9 736.3,760.3 736.5,752 736.7,752.5 737,750.1 737.2,748.3 737.4,754.7 737.6,755.5 737.8,742.4 738,755.4 738.2,752.5 738.4,755 738.6,752.3 738.8,743.1 739,743.5 739.2,759.9 739.4,751.4 739.6,742.3 739.8,752 740,748.2 740.2,733.6 740.4,737.8 740.6,741.6 740.8,751.9 741,750.2 741.2,749.1 741.5,752.1 741.7,753.9 741.9,739.2 742.1,749 742.3,746.2 742.5,744.1 742.7,747.8 742.9,750.2 743.1,749.5 743.3,743 743.5,748.4 743.7,762 743.9,745.3 744.1,742 744.3,752.6 744.5,754.4 744.7,753.7 744.9,745.2 745.1,756.7 745.3,747.1 745.5,745.2 745.7,748.1 745.9,750.8 746.2,755.3 746.4,754.9 746.6,751.4 746.8,756.6 747,752 747.2,756.5 747.4,744.1 747.6,743.2 747.8,755.9 748,744.2 748.2,750.1 748.4,751.3 748.6,749.2 748.8,749.4 749,759.4 749.2,738.3 749.4,756.7 749.6,764.3 749.8,752.1 750,751.9 750.2,756 750.4,761.9 750.7,745.7 750.9,752.6 751.1,751.1 751.3,755.2 751.5,753 751.7,755.8 751.9,750 752.1,752.5 752.3,748.7 752.5,748.7 752.7,751.6 752.9,751.6 753.1,746.1 753.3,760.8 753.5,751.7 753.7,745 753.9,758.4 754.1,748.4 754.3,755.2 754.5,752.4 754.7,753.9 754.9,753.4 755.1,749.5 755.4,752.8 755.6,763.5 755.8,740.6 756,753 756.2,755 756.4,747 756.6,745.3 756.8,764.3 757,750.7 757.2,763.9 757.4,755.6 757.6,753.1 757.8,755.3 758,756.2 758.2,759.1 758.4,755.1 758.6,753.6 758.8,753.8 759,760.1 759.2,757.2 759.4,747.5 759.6,749.5 759.8,754.6 760.1,749.5 760.3,750.9 760.5,747.8 760.7,751.5 760.9,755.2 761.1,758.3 761.3,753 761.5,764.1 761.7,752.6 761.9,770.1 762.1,758.3 762.3,755.7 762.5,750.3 762.7,737.9 762.9,752.2 763.1,754 763.3,763.3 763.5,745.6 763.7,763.3 763.9,751.7 764.1,756.9 764.3,739.5 764.6,753.8 764.8,751.2 765,756.7 765.2,753.6 765.4,747 765.6,758.2 765.8,756.8 766,756.3 766.2,758.5 766.4,759 766.6,753 766.8,745.9 767,745.7 767.2,760.4 767.4,756.9 767.6,753.7 767.8,750.8 768,753.3 768.2,753.3 768.4,751.4 768.6,749.4 768.8,764.7 769,754.4 769.3,749.9 769.5,746.2 769.7,749.3 769.9,757 770.1,757.2 770.3,752 770.5,753.5 770.7,751.5 770.9,747.2 771.1,760.1 771.3,755.2 771.5,766.4 771.7,749.1 771.9,752.4 772.1,757.9 772.3,751.9 772.5,745.7 772.7,748.1 772.9,753.7 773.1,755 773.3,752.7 773.5,758.5 773.8,758.5 774,754.9 774.2,753.3 774.4,751.8 774.6,756.1 774.8,758.1 775,753.5 775.2,755.5 775.4,751.4 775.6,745.6 775.8,747.8 776,757.2 776.2,755.5 776.4,761.6 776.6,753.4 776.8,757.7 777,760.2 777.2,758.4 777.4,749.8 777.6,752.1 777.8,753.8 778,747.8 778.2,755.6 778.5,758.5 778.7,750.5 778.9,763.6 779.1,751.5 779.3,751.9 779.5,751.7 779.7,749.2 779.9,755.2 780.1,753.1 780.3,761.9 780.5,756.2 780.7,755.7 780.9,751.7 781.1,745.3 781.3,752.4 781.5,748.3 781.7,758 781.9,752.7 782.1,761.8 782.3,756.8 782.5,757.3 782.7,754 783,753.9 783.2,756.3 783.4,757.7 783.6,748.9 783.8,755.4 784,766.8 784.2,752.2 784.4,751.3 784.6,749 784.8,744.9 785,759 785.2,753 785.4,754.2 785.6,762.5 785.8,766.1 786,747.8 786.2,758.2 786.4,755.9 786.6,754.6 786.8,755.1 787,752.3 787.2,761 787.4,755.7 787.7,754.2 787.9,759.1 788.1,757.2 788.3,754.8 788.5,754.1 788.7,761.7 788.9,755 789.1,751.7 789.3,747.6 789.5,750.3 789.7,746.5 789.9,752.7 790.1,753.5 790.3,741 790.5,752.1 790.7,755.5 790.9,752.9 791.1,746.8 791.3,758.7 791.5,748.1 791.7,745.2 791.9,746 792.2,751.7 792.4,757 792.6,758 792.8,752.8 793,745.2 793.2,748 793.4,746.7 793.6,750.5 793.8,741.8 794,752 794.2,754.9 794.4,750.5 794.6,753.8 794.8,746.1 795,743.3 795.2,747.7 795.4,757.3 795.6,756.6 795.8,748.5 796,757.4 796.2,749.1 796.4,759 796.6,753.4 796.9,748.2 797.1,754.9 797.3,746.3 797.5,745.4 797.7,742.5 797.9,751.7 798.1,750 798.3,749.8 798.5,747.9 798.7,757.9 798.9,747.7 799.1,745.9 799.3,756.6 799.5,757.5 799.7,751.5 799.9,740 800.1,746.2 800.3,752.7 800.5,749.4 800.7,757.7 800.9,741.5 801.1,752.7 801.4,745.4 801.6,756 801.8,748.2 802,754.2 802.2,744.8 802.4,740.5 802.6,742 802.8,744.6 803,742.2 803.2,754.4 803.4,755 803.6,748.9 803.8,741.5 804,746.5 804.2,743.1 804.4,754.9 804.6,748.4 804.8,749.2 805,744 805.2,734.8 805.4,741.6 805.6,739.4 805.8,747.6 806.1,745.8 806.3,740.6 806.5,742.7 806.7,753.5 806.9,739 807.1,739 807.3,742.7 807.5,739.7 807.7,741 807.9,746.2 808.1,752.8 808.3,732.5 808.5,742.3 808.7,742.3 808.9,741.3 809.1,740.4 809.3,739.3 809.5,746.7 809.7,737.9 809.9,739.5 810.1,739.9 810.3,740.2 810.6,738.2 810.8,744.7 811,738.4 811.2,739.1 811.4,737.4 811.6,731.4 811.8,732 812,730.3 812.2,737.3 812.4,731.4 812.6,728.9 812.8,736.2 813,737.5 813.2,723.3 813.4,743.6 813.6,733.2 813.8,731.8 814,738.5 814.2,731.9 814.4,727.3 814.6,743.9 814.8,723.3 815,728.8 815.3,729.5 815.5,721.6 815.7,727.1 815.9,729.6 816.1,741.6 816.3,720.3 816.5,725.1 816.7,728.9 816.9,724.7 817.1,715.8 817.3,725.5 817.5,723 817.7,724.5 817.9,728.3 818.1,726.9 818.3,722.3 818.5,721 818.7,711.1 818.9,716.8 819.1,718.4 819.3,713.6 819.5,716.2 819.7,709.4 820,724.5 820.2,728 820.4,710.2 820.6,714.8 820.8,709.8 821,719.3 821.2,712.9 821.4,709.8 821.6,707 821.8,708.7 822,700.2 822.2,711.2 822.4,700.7 822.6,708.8 822.8,705.3 823,711.4 823.2,702.9 823.4,709.6 823.6,695.1 823.8,705.4 824,698.8 824.2,701.2 824.5,699.7 824.7,705.4 824.9,683.3 825.1,699.8 825.3,686 825.5,705.3 825.7,681.4 825.9,688 826.1,682.6 826.3,706.6 826.5,684.5 826.7,694.5 826.9,689.3 827.1,679.5 827.3,690.1 827.5,697.3 827.7,690.7 827.9,698.9 828.1,689 828.3,691.6 828.5,688.5 828.7,693.8 828.9,705.5 829.2,693.9 829.4,692.6 829.6,686.5 829.8,685.5 830,702.3 830.2,683 830.4,684.7 830.6,691 830.8,688.7 831,706.8 831.2,674.7 831.4,695.4 831.6,698.3 831.8,685 832,688.9 832.2,697.3 832.4,706.6 832.6,688.2 832.8,683.8 833,703.1 833.2,707.6 833.4,694.5 833.7,681.3 833.9,708.6 834.1,690.5 834.3,707.4 834.5,699.5 834.7,697.8 834.9,697.9 835.1,712.3 835.3,712.6 835.5,687.9 835.7,697.1 835.9,717 836.1,702.5 836.3,696.3 836.5,706.5 836.7,706.5 836.9,707.2 837.1,705.3 837.3,707.2 837.5,706.9 837.7,713 837.9,705.9 838.1,710.2 838.4,711.9 838.6,722.4 838.8,716.8 839,714.2 839.2,719.3 839.4,719.1 839.6,724.3 839.8,721.1 840,730.2 840.2,727.9 840.4,719.5 840.6,717.7 840.8,726.8 841,725.1 841.2,721.8 841.4,713.6 841.6,711.9 841.8,726.5 842,729.8 842.2,730.6 842.4,718 842.6,733.2 842.9,723.9 843.1,730.3 843.3,731 843.5,724 843.7,725.8 843.9,717.3 844.1,724.9 844.3,720.1 844.5,734.3 844.7,732.5 844.9,738.2 845.1,735.3 845.3,729.7 845.5,736.1 845.7,732.2 845.9,738.6 846.1,737.3 846.3,730 846.5,736.3 846.7,737 846.9,735.3 847.1,742.8 847.3,748 847.6,736.1 847.8,736.6 848,725.9 848.2,738.6 848.4,737.2 848.6,727.5 848.8,742.1 849,744.2 849.2,736.8 849.4,739.3 849.6,736.1 849.8,746.4 850,733.6 850.2,740.8 850.4,754 850.6,743.4 850.8,746.1 851,742.8 851.2,737.3 851.4,744 851.6,746.7 851.8,738.9 852.1,746.8 852.3,752.1 852.5,751.3 852.7,736.6 852.9,740.3 853.1,736.9 853.3,752.1 853.5,749.7 853.7,750.4 853.9,741.8 854.1,740.3 854.3,747.5 854.5,747.7 854.7,742.6 854.9,748.3 855.1,751.2 855.3,749.1 855.5,742.2 855.7,736.4 855.9,746.8 856.1,749.3 856.3,747.1 856.5,746.3 856.8,744.9 857,752.8 857.2,748.7 857.4,749.8 857.6,743.9 857.8,745.9 858,750.3 858.2,744 858.4,742.7 858.6,747.9 858.8,756.4 859,750.9 859.2,758 859.4,749.4 859.6,748.5 859.8,742.7 860,747.2 860.2,758.2 860.4,752.3 860.6,754.5 860.8,754.5 861,750.6 861.3,749.7 861.5,751.5 861.7,754.5 861.9,753.5 862.1,753.7 862.3,751.9 862.5,747 862.7,749.8 862.9,746.2 863.1,756.8 863.3,740 863.5,750.2 863.7,764.4 863.9,749.7 864.1,745.4 864.3,751.5 864.5,758.6 864.7,750.9 864.9,755.1 865.1,752.4 865.3,749.8 865.5,768.9 865.7,752.3 866,749.1 866.2,749.4 866.4,754.1 866.6,754.3 866.8,756.3 867,752.9 867.2,744.5 867.4,755.1 867.6,750.6 867.8,750.8 868,744.4 868.2,749.3 868.4,748.5 868.6,752.2 868.8,744.7 869,752.8 869.2,753.2 869.4,746.5 869.6,749.2 869.8,748 870,757.5 870.2,739.1 870.5,750.8 870.7,743.8 870.9,750.4 871.1,757.3 871.3,749.4 871.5,753.6 871.7,748.3 871.9,763.3 872.1,757.8 872.3,758.9 872.5,745.8 872.7,747 872.9,758.8 873.1,751.9 873.3,751.6 873.5,754.8 873.7,746.3 873.9,757.2 874.1,753.2 874.3,755.7 874.5,748.2 874.7,755.9 874.9,749.4 875.2,758.3 875.4,759.2 875.6,758.1 875.8,756 876,756.6 876.2,738.8 876.4,757.7 876.6,751.8 876.8,753.8 877,743.7 877.2,745.9 877.4,750.5 877.6,756.9 877.8,760.9 878,750 878.2,748.6 878.4,761.2 878.6,748.7 878.8,764.5 879,753.7 879.2,748.7 879.4,758.7 879.7,762.5 879.9,745.8 880.1,761.8 880.3,752 880.5,761.4 880.7,751.5 880.9,745.1 881.1,756.2 881.3,758.5 881.5,764.7 881.7,762.7 881.9,757.3 882.1,752.3 882.3,750.8 882.5,752 882.7,749.1 882.9,752.1 883.1,740 883.3,754.5 883.5,753.4 883.7,767.3 883.9,757.7 884.1,751 884.4,756.6 884.6,747.1 884.8,750.4 885,743.7 885.2,761.3 885.4,756.8 885.6,747.4 885.8,753.3 886,758.7 886.2,756.3 886.4,755.7 886.6,749.1 886.8,750.2 887,754.1 887.2,758.5 887.4,749.2 887.6,747.6 887.8,759.7 888,748.7 888.2,759.4 888.4,754.9 888.6,758.3 888.8,762.9 889.1,757.3 889.3,757.7 889.5,748.7 889.7,749.9 889.9,757 890.1,761.8 890.3,761 890.5,765.9 890.7,755.2 890.9,754.6 891.1,758.9 891.3,753.6 891.5,753.2 891.7,747.9 891.9,758.8 892.1,747.8 892.3,756.2 892.5,745.9 892.7,759.3 892.9,748 893.1,757.9 893.3,744.9 893.6,751.1 893.8,759.7 894,749.1 894.2,753.7 894.4,750.8 894.6,741 894.8,755 895,755.6 895.2,747.4 895.4,756.3 895.6,749 895.8,747.8 896,753.2 896.2,749.5 896.4,765.4 896.6,744.8 896.8,757 897,758.4 897.2,742.4 897.4,743.7 897.6,756 897.8,750.4 898,755 898.3,759 898.5,750.9 898.7,747.1 898.9,738.1 899.1,753.8 899.3,747.7 899.5,754.3 899.7,753.9 899.9,745.1 900.1,761.8 900.3,758.3 900.5,757 900.7,746 900.9,750.2 901.1,749.4 901.3,750 901.5,746.1 901.7,754.5 901.9,753.3 902.1,754 902.3,749.2 902.5,758.9 902.8,752.9 903,737 903.2,748.3 903.4,751.3 903.6,756.8 903.8,749.9 904,750.1 904.2,747.8 904.4,754.9 904.6,748.8 904.8,747.9 905,747 905.2,754 905.4,748 905.6,741.7 905.8,754.1 906,746.8 906.2,752.5 906.4,752.5 906.6,756.9 906.8,755.9 907,747 907.2,749.1 907.5,742.9 907.7,759 907.9,752.1 908.1,757.2 908.3,747.7 908.5,738.1 908.7,757.6 908.9,749.6 909.1,749.7 909.3,749.1 909.5,752.3 909.7,751.5 909.9,739.7 910.1,754.3 910.3,745.2 910.5,745.4 910.7,757.4 910.9,752.8 911.1,745.7 911.3,737.1 911.5,748.1 911.7,750.1 912,740.3 912.2,739.8 912.4,742.2 912.6,739.4 912.8,747.5 913,750.7 913.2,751.6 913.4,741.6 913.6,746.9 913.8,748.5 914,742.3 914.2,744.1 914.4,756.8 914.6,745.7 914.8,749.4 915,741.7 915.2,744.2 915.4,734 915.6,743.4 915.8,750.1 916,755.1 916.2,749.8 916.4,746.6 916.7,742.8 916.9,738.8 917.1,741.1 917.3,745.3 917.5,737.1 917.7,746.7 917.9,735.4 918.1,730.6 918.3,734.8 918.5,730.8 918.7,732.2 918.9,746.5 919.1,738.5 919.3,740.7 919.5,746 919.7,746.3 919.9,735.8 920.1,746.3 920.3,740.5 920.5,738 920.7,740.3 920.9,729 921.2,732.5 921.4,736.3 921.6,740.3 921.8,734.2 922,735.4 922.2,741.7 922.4,744.1 922.6,740 922.8,742.7 923,732.5 923.2,732.8 923.4,736.3 923.6,732.3 923.8,730.8 924,743.6 924.2,732.1 924.4,727.2 924.6,735.8 924.8,743.7 925,732.8 925.2,739.6 925.4,729.2 925.6,728.6 925.9,727.1 926.1,730.2 926.3,742.1 926.5,723.5 926.7,740.5 926.9,724 927.1,728.5 927.3,734.9 927.5,733.4 927.7,731 927.9,718.8 928.1,731.1 928.3,722.3 928.5,744.4 928.7,726.9 928.9,729.2 929.1,720.7 929.3,724.6 929.5,719.4 929.7,733.4 929.9,725.4 930.1,730.4 930.4,722.4 930.6,723.4 930.8,734.5 931,720.1 931.2,714.8 931.4,728.5 931.6,718.6 931.8,722.9 932,731.3 932.2,720.2 932.4,730.8 932.6,720.8 932.8,734.4 933,733.3 933.2,721.8 933.4,723.3 933.6,719.2 933.8,725.7 934,731.6 934.2,715 934.4,730 934.6,715.6 934.8,718.4 935.1,712.4 935.3,737.2 935.5,724 935.7,725.1 935.9,719.2 936.1,730.2 936.3,709.9 936.5,723.4 936.7,737.3 936.9,720.7 937.1,723.1 937.3,727.3 937.5,717.7 937.7,723 937.9,728.9 938.1,723.9 938.3,725 938.5,720.3 938.7,724.5 938.9,722.8 939.1,731.7 939.3,726.9 939.6,720.6 939.8,706.4 940,726.7 940.2,726.9 940.4,716 940.6,709 940.8,714.4 941,727.7 941.2,714.8 941.4,718.6 941.6,723 941.8,729.4 942,721.3 942.2,720.7 942.4,717.7 942.6,731.8 942.8,728.1 943,720.5 943.2,712 943.4,715.9 943.6,724.7 943.8,716.2 944,726.6 944.3,723.1 944.5,722.6 944.7,724.9 944.9,723.9 945.1,715 945.3,718.4 945.5,735.7 945.7,712.6 945.9,717.3 946.1,727.3 946.3,719.3 946.5,715 946.7,711.7 946.9,723.8 947.1,726.9 947.3,729.3 947.5,720.6 947.7,727 947.9,713.5 948.1,721.3 948.3,715.8 948.5,721.4 948.7,725.1 949,727.2 949.2,713.9 949.4,728.6 949.6,717.3 949.8,713.8 950,719.4 950.2,711.1 950.4,720.6 950.6,722.6 950.8,719.5 951,724.3 951.2,718.9 951.4,721.1 951.6,711.8 951.8,721.5 952,715.9 952.2,718.6 952.4,721 952.6,723 952.8,711.3 953,712 953.2,720.3 953.5,725.5 953.7,724.9 953.9,728.5 954.1,731.3 954.3,726.3 954.5,723.2 954.7,717 954.9,717.7 955.1,721 955.3,725.9 955.5,725.8 955.7,724.7 955.9,724 956.1,729.2 956.3,726.7 956.5,727.5 956.7,727.9 956.9,722.8 957.1,720 957.3,729.8 957.5,729.6 957.7,725.9 957.9,725 958.2,742.1 958.4,723.4 958.6,727.1 958.8,730.4 959,721.9 959.2,730 959.4,740.7 959.6,735.7 959.8,734.1 960,734.2 960.2,731.5 960.4,737 960.6,730.5 960.8,729.2 961,732.7 961.2,737.9 961.4,734.7 961.6,737.1 961.8,721 962,740.8 962.2,748 962.4,742.2 962.7,732.6 962.9,729.7 963.1,736.8 963.3,729.5 963.5,740 963.7,732.9 963.9,742 964.1,744.7 964.3,724.9 964.5,738.9 964.7,733.4 964.9,729.5 965.1,734.4 965.3,737.1 965.5,744.7 965.7,730 965.9,745.3 966.1,751.2 966.3,743.2 966.5,743.2 966.7,740.2 966.9,733.7 967.1,743.9 967.4,743.3 967.6,745.6 967.8,756.4 968,746 968.2,744.5 968.4,751.3 968.6,734.9 968.8,736.3 969,740.9 969.2,739.6 969.4,747.5 969.6,742 969.8,753.9 970,752.8 970.2,748.8 970.4,742.5 970.6,748.3 970.8,749.6 971,739.3 971.2,747.4 971.4,749.6 971.6,747.1 971.9,754.9 972.1,753 972.3,741.8 972.5,747.3 972.7,742.1 972.9,750.2 973.1,742.3 973.3,752.5 973.5,749.7 973.7,753 973.9,747 974.1,739.9 974.3,757.9 974.5,747.3 974.7,756 974.9,751 975.1,752.4 975.3,758.9 975.5,750.9 975.7,756.8 975.9,741.1 976.1,754.2 976.3,748.2 976.6,748.9 976.8,749.8 977,751.8 977.2,759.1 977.4,740 977.6,750.5 977.8,746.4 978,756.8 978.2,748.2 978.4,753.1 978.6,748.6 978.8,754.5 979,756.4 979.2,748.9 979.4,751.4 979.6,743.5 979.8,752.9 980,756 980.2,748.4 980.4,757.6 980.6,740.4 980.8,741.7 981.1,744.2 981.3,749.2 981.5,752 981.7,751.5 981.9,751.6 982.1,756 982.3,749.6 982.5,745.4 982.7,745.5 982.9,763.7 983.1,739.7 983.3,751.5 983.5,760.3 983.7,755.1 983.9,748.1 984.1,752.6 984.3,757.3 984.5,759.2 984.7,747.9 984.9,756.8 985.1,754.2 985.3,758.8 985.5,760.3 985.8,751.1 986,745.2 986.2,755.1 986.4,762.5 986.6,756.7 986.8,754.3 987,766 987.2,747.6 987.4,758 987.6,750.1 987.8,753.5 988,753.7 988.2,761.4 988.4,748.3 988.6,750.4 988.8,744.8 989,755.9 989.2,750.9 989.4,755.6 989.6,747.7 989.8,751.5 990,759 990.3,752.5 990.5,756.8 990.7,756.3 990.9,751.6 991.1,745.2 991.3,758.8 991.5,754.4 991.7,758.8 991.9,742.8 992.1,744.7 992.3,742.1 992.5,748.9 992.7,759.1 992.9,756.6 993.1,753.4 993.3,754.3 993.5,757.6 993.7,752 993.9,755.7 994.1,754.3 994.3,741.9 994.5,751.5 994.7,760.8 995,751.5 995.2,752.8 995.4,750.3 995.6,751 995.8,759.6 996,752.1 996.2,748.1 996.4,736.9 996.6,750.5 996.8,743 997,743.8 997.2,757.8 997.4,757.3 997.6,743.3 997.8,758.1 998,756 998.2,749.3 998.4,757.4 998.6,744.8 998.8,747 999,745.8 999.2,747.5 999.5,758.1 999.7,746.3 999.9,747.2 1000.1,748.3 1000.3,754.4 1000.5,751.5 1000.7,757.9 1000.9,749.5 1001.1,746.4 1001.3,750.6 1001.5,753.4 1001.7,748.2 1001.9,754.7 1002.1,762.9 1002.3,750 1002.5,753.3 1002.7,760.3 1002.9,749.5 1003.1,748.4 1003.3,747.1 1003.5,755 1003.7,755.6 1003.9,752 1004.2,753 1004.4,759.6 1004.6,757.3 1004.8,745.1 1005,752.5 1005.2,753.1 1005.4,756.4 1005.6,751.2 1005.8,748.9 1006,749.9 1006.2,742.7 1006.4,752.1 1006.6,748.9 1006.8,754.6 1007,746.5 1007.2,749.6 1007.4,746.6 1007.6,746 1007.8,755.5 1008,749.1 1008.2,754 1008.4,745.4 1008.7,751.9 1008.9,742.1 1009.1,748.6 1009.3,748.4 1009.5,754.1 1009.7,751.8 1009.9,749.8 1010.1,755.2 1010.3,751.6 1010.5,753.3 1010.7,754.4 1010.9,749.8 1011.1,748.4 1011.3,751.6 1011.5,747.4 1011.7,751.7 1011.9,755.5 1012.1,753.9 1012.3,747 1012.5,741.8 1012.7,748.4 1012.9,747.8 1013.1,754.4 1013.4,746 1013.6,746.8 1013.8,751.8 1014,744.8 1014.2,746.4 1014.4,756.5 1014.6,755.1 1014.8,750 1015,747.8 1015.2,739.8 1015.4,748.9 1015.6,745.8 1015.8,746.4 1016,742 1016.2,744.5 1016.4,743.2 1016.6,745.7 1016.8,751.7 1017,743.3 1017.2,733.5 1017.4,737 1017.6,733.2 1017.8,737.3 1018.1,744.7 1018.3,743.4 1018.5,737.2 1018.7,741.8 1018.9,735.5 1019.1,731.2 1019.3,730.8 1019.5,733.5 1019.7,746.4 1019.9,729.8 1020.1,744.5 1020.3,744.5 1020.5,735.1 1020.7,735.4 1020.9,731.6 1021.1,734.6 1021.3,738.2 1021.5,733.8 1021.7,739.2 1021.9,739.9 1022.1,734.2 1022.3,733.6 1022.6,730.7 1022.8,732.7 1023,723.2 1023.2,731.9 1023.4,730.2 1023.6,723 1023.8,741.2 1024,721.2 1024.2,721.3 1024.4,727.9 1024.6,713.4 1024.8,720 1025,714.8 1025.2,717.8 1025.4,722.6 1025.6,724.9 1025.8,729.4 1026,727 1026.2,729 1026.4,724.6 1026.6,717.3 1026.8,727.1 1027,716.2 1027.3,715 1027.5,728.5 1027.7,723.3 1027.9,719.2 1028.1,722.3 1028.3,722.8 1028.5,707.6 1028.7,715.7 1028.9,708.2 1029.1,716.5 1029.3,711 1029.5,724.3 1029.7,718.5 1029.9,709.4 1030.1,714.5 1030.3,706.4 1030.5,714.7 1030.7,718 1030.9,716 1031.1,701.3 1031.3,711.9 1031.5,717.6 1031.8,716.3 1032,722 1032.2,705.7 1032.4,717.9 1032.6,710.2 1032.8,716 1033,717.5 1033.2,719.6 1033.4,711.3 1033.6,716.6 1033.8,707.8 1034,706.4 1034.2,719.7 1034.4,715.9 1034.6,705.8 1034.8,711.1 1035,717.1 1035.2,727.5 1035.4,724.4 1035.6,723.1 1035.8,706.4 1036,717.8 1036.2,721.8 1036.5,721.5 1036.7,721.9 1036.9,718 1037.1,731.2 1037.3,729.6 1037.5,719.7 1037.7,714.2 1037.9,734.1 1038.1,717.5 1038.3,729.1 1038.5,733.9 1038.7,715.7 1038.9,723.9 1039.1,720 1039.3,725.8 1039.5,724.7 1039.7,735.3 1039.9,726.8 1040.1,723.2 1040.3,730.6 1040.5,721.8 1040.7,721.4 1041,738.1 1041.2,718.8 1041.4,721 1041.6,724.5 1041.8,717.6 1042,711.1 1042.2,731.3 1042.4,719.7 1042.6,721.3 1042.8,722.5 1043,718.7 1043.2,718.2 1043.4,726 1043.6,740.2 1043.8,729.8 1044,729.9 1044.2,715.7 1044.4,725.2 1044.6,717.9 1044.8,730.3 1045,724 1045.2,725.8 1045.4,725 1045.7,722 1045.9,716.1 1046.1,729.4 1046.3,717.1 1046.5,718.5 1046.7,724.1 1046.9,721.7 1047.1,727.8 1047.3,732.7 1047.5,728 1047.7,727.8 1047.9,726.8 1048.1,732.2 1048.3,715.5 1048.5,729.5 1048.7,721.5 1048.9,719.9 1049.1,727.8 1049.3,725.6 1049.5,731.8 1049.7,735.3 1049.9,714.3 1050.2,728.5 1050.4,741.3 1050.6,734.8 1050.8,738.7 1051,730.7 1051.2,721.6 1051.4,723.8 1051.6,735.4 1051.8,737.2 1052,727.2 1052.2,730.4 1052.4,734 1052.6,722.1 1052.8,731 1053,743.2 1053.2,747 1053.4,733.5 1053.6,745.5 1053.8,731.8 1054,730.5 1054.2,722.4 1054.4,741.7 1054.6,734.2 1054.9,750.6 1055.1,739.1 1055.3,738.7 1055.5,727.3 1055.7,747.1 1055.9,736.6 1056.1,738.1 1056.3,726.6 1056.5,745.1 1056.7,745.9 1056.9,737 1057.1,741.4 1057.3,743.4 1057.5,747 1057.7,742.5 1057.9,752 1058.1,741.1 1058.3,739.4 1058.5,740.5 1058.7,729.1 1058.9,739.2 1059.1,749.8 1059.4,745.9 1059.6,740.1 1059.8,746.9 1060,733.9 1060.2,743.9 1060.4,748.7 1060.6,750 1060.8,742 1061,751.7 1061.2,757.2 1061.4,744.7 1061.6,751.4 1061.8,738.9 1062,736.9 1062.2,751.4 1062.4,748.5 1062.6,749.5 1062.8,745.4 1063,747.2 1063.2,753.5 1063.4,758.7 1063.6,748.2 1063.8,740.6 1064.1,756.7 1064.3,753.2 1064.5,753.8 1064.7,751.3 1064.9,763.1 1065.1,751 1065.3,753.5 1065.5,740.8 1065.7,747.9 1065.9,747.4 1066.1,751.1 1066.3,753.3 1066.5,747.5 1066.7,761 1066.9,746 1067.1,749.5 1067.3,753.3 1067.5,745.4 1067.7,755.3 1067.9,755.7 1068.1,750.8 1068.3,762.7 1068.6,753 1068.8,754.2 1069,747.6 1069.2,743.9 1069.4,749.5 1069.6,751.3 1069.8,750.6 1070,757.2 1070.2,740.5 1070.4,747.2 1070.6,743.6 1070.8,760.6 1071,750.4 1071.2,750.8 1071.4,747.7 1071.6,758.4 1071.8,751.5 1072,754.9 1072.2,743 1072.4,760.1 1072.6,756 1072.8,756.9 1073,760.5 1073.3,753 1073.5,753.2 1073.7,757.9 1073.9,756.4 1074.1,752.9 1074.3,754.5 1074.5,751.6 1074.7,758.1 1074.9,759.3 1075.1,754.4 1075.3,764.4 1075.5,746.3 1075.7,753.2 1075.9,763.6 1076.1,752.3 1076.3,746.1 1076.5,762 1076.7,757.5 1076.9,748.3 1077.1,758.8 1077.3,749.3 1077.5,747.6 1077.8,753.9 1078,752.2 1078.2,749 1078.4,752.9 1078.6,749.5 1078.8,755.2 1079,754.8 1079.2,758.8 1079.4,752.5 1079.6,747.9 1079.8,748 1080,753.7 1080.2,763.1 1080.4,759.5 1080.6,751.6 1080.8,760 1081,748.9 1081.2,760.5 1081.4,753.1 1081.6,759.2 1081.8,758.4 1082,753.7 1082.2,756.9 1082.5,749.6 1082.7,754.8 1082.9,761 1083.1,776.9 1083.3,759 1083.5,755.7 1083.7,749.9 1083.9,760.9 1084.1,746.6 1084.3,751.1 1084.5,757.2 1084.7,749 1084.9,763.5 1085.1,761.2 1085.3,752.4 1085.5,752.5 1085.7,748.5 1085.9,748 1086.1,757.8 1086.3,758.8 1086.5,757.3 1086.7,756.9 1086.9,752.5 1087.2,757.4 1087.4,747.8 1087.6,755.6 1087.8,763.3 1088,762.5 1088.2,753.1 1088.4,753.8 1088.6,762.9 1088.8,765 1089,747.7 1089.2,753.4 1089.4,756.9 1089.6,762.1 1089.8,751.2 1090,759.1 1090.2,754.1 1090.4,768.2 1090.6,758 1090.8,755 1091,754 1091.2,761.3 1091.4,759.3 1091.7,750 1091.9,756.9 1092.1,748.7 1092.3,751.8 1092.5,749 1092.7,748.8 1092.9,752.2 1093.1,750.6 1093.3,758.6 1093.5,760 1093.7,754.6 1093.9,749.9 1094.1,760.1 1094.3,745.2 1094.5,745.7 1094.7,759.7 1094.9,759.3 1095.1,761 1095.3,754.8 1095.5,749.3 1095.7,753.2 1095.9,758.9 1096.1,751.9 1096.4,752.2 1096.6,748.6 1096.8,749.8 1097,760.4 1097.2,758.4 1097.4,749.9 1097.6,750.3 1097.8,753 1098,758.9 1098.2,749.8 1098.4,755.1 1098.6,744.7 1098.8,749.4 1099,758.2 1099.2,760.8 1099.4,749.9 1099.6,752 1099.8,760.2 1100,754 1100.2,753.2 1100.4,758.8 1100.6,757.1 1100.9,761.9 1101.1,760.3 1101.3,753.1 1101.5,755.5 1101.7,755.8 1101.9,749 1102.1,751 1102.3,761.2 1102.5,747.8 1102.7,761.4 1102.9,757.6 1103.1,755.4 1103.3,759 1103.5,758.7 1103.7,762.5 1103.9,754.1 1104.1,755 1104.3,754.9 1104.5,766.1 1104.7,761.2 1104.9,751.3 1105.1,754.4 1105.3,752.5 1105.6,756.3 1105.8,757.3 1106,768.3 1106.2,746.6 1106.4,761.6 1106.6,758.5 1106.8,752.6 1107,755.5 1107.2,753.7 1107.4,756.5 1107.6,761.6 1107.8,748.3 1108,763.2 1108.2,754.3 1108.4,764.2 1108.6,758.5 1108.8,762.8 1109,759.3 1109.2,762 1109.4,756.6 1109.6,752 1109.8,759.9 1110.1,760.1 1110.3,767.4 1110.5,745.8 1110.7,755.3 1110.9,761.9 1111.1,749.8 1111.3,755.2 1111.5,767.5 1111.7,763.8 1111.9,751.8 1112.1,763.9 1112.3,762.6" fill="none" stroke="#ee0000" stroke-width="3.0" stroke-linejoin="round" stroke-linecap="butt" />
<rect x="131.0" y="29.0" width="981.3" height="791.0" fill="none" stroke="#000" stroke-width="6"/>
<line x1="212.8" y1="820.0" x2="212.8" y2="810.5" stroke="#000" stroke-width="4.5"/>
<line x1="294.6" y1="820.0" x2="294.6" y2="804.0" stroke="#000" stroke-width="4.5"/>
<line x1="376.3" y1="820.0" x2="376.3" y2="810.5" stroke="#000" stroke-width="4.5"/>
<line x1="458.1" y1="820.0" x2="458.1" y2="804.0" stroke="#000" stroke-width="4.5"/>
<line x1="539.9" y1="820.0" x2="539.9" y2="810.5" stroke="#000" stroke-width="4.5"/>
<line x1="621.6" y1="820.0" x2="621.6" y2="804.0" stroke="#000" stroke-width="4.5"/>
<line x1="703.4" y1="820.0" x2="703.4" y2="810.5" stroke="#000" stroke-width="4.5"/>
<line x1="785.2" y1="820.0" x2="785.2" y2="804.0" stroke="#000" stroke-width="4.5"/>
<line x1="867" y1="820.0" x2="867" y2="810.5" stroke="#000" stroke-width="4.5"/>
<line x1="948.8" y1="820.0" x2="948.8" y2="804.0" stroke="#000" stroke-width="4.5"/>
<line x1="1030.5" y1="820.0" x2="1030.5" y2="810.5" stroke="#000" stroke-width="4.5"/>
<text transform="translate(131,870) scale(0.94,1)" font-family='"Liberation Serif", "Noto Serif CJK SC", serif' font-size="45.5" font-weight="bold" text-anchor="middle" fill="#000" >20</text>
<text transform="translate(294.6,870) scale(0.94,1)" font-family='"Liberation Serif", "Noto Serif CJK SC", serif' font-size="45.5" font-weight="bold" text-anchor="middle" fill="#000" >30</text>
<text transform="translate(458.1,870) scale(0.94,1)" font-family='"Liberation Serif", "Noto Serif CJK SC", serif' font-size="45.5" font-weight="bold" text-anchor="middle" fill="#000" >40</text>
<text transform="translate(621.6,870) scale(0.94,1)" font-family='"Liberation Serif", "Noto Serif CJK SC", serif' font-size="45.5" font-weight="bold" text-anchor="middle" fill="#000" >50</text>
<text transform="translate(785.2,870) scale(0.94,1)" font-family='"Liberation Serif", "Noto Serif CJK SC", serif' font-size="45.5" font-weight="bold" text-anchor="middle" fill="#000" >60</text>
<text transform="translate(948.8,870) scale(0.94,1)" font-family='"Liberation Serif", "Noto Serif CJK SC", serif' font-size="45.5" font-weight="bold" text-anchor="middle" fill="#000" >70</text>
<text transform="translate(1112.3,870) scale(0.94,1)" font-family='"Liberation Serif", "Noto Serif CJK SC", serif' font-size="45.5" font-weight="bold" text-anchor="middle" fill="#000" >80</text>
<text transform="translate(226.5,103) scale(0.94,1)" font-family='"Liberation Serif", "Noto Serif CJK SC", serif' font-size="46" font-weight="bold" text-anchor="middle" fill="#000" >25</text>
<text transform="translate(424,598) scale(0.94,1)" font-family='"Liberation Serif", "Noto Serif CJK SC", serif' font-size="43" font-weight="bold" text-anchor="middle" fill="#000" >38</text>
<text transform="translate(588.5,554) scale(0.94,1)" font-family='"Liberation Serif", "Noto Serif CJK SC", serif' font-size="43" font-weight="bold" text-anchor="middle" fill="#000" >48</text>
<text transform="translate(700,597) scale(0.94,1)" font-family='"Liberation Serif", "Noto Serif CJK SC", serif' font-size="43" font-weight="bold" text-anchor="middle" fill="#000" >55</text>
<text transform="translate(823,651) scale(0.94,1)" font-family='"Liberation Serif", "Noto Serif CJK SC", serif' font-size="42" font-weight="bold" text-anchor="middle" fill="#000" >63</text>
<text transform="translate(943,689) scale(0.94,1)" font-family='"Liberation Serif", "Noto Serif CJK SC", serif' font-size="42" font-weight="bold" text-anchor="middle" fill="#000" >70</text>
<text transform="translate(1028.5,661) rotate(7) scale(0.94,1)" font-family='"Liberation Serif", "Noto Serif CJK SC", serif' font-size="42" font-weight="bold" text-anchor="middle" fill="#000">75</text>
<line x1="879" y1="94.6" x2="974" y2="94.6" stroke="#ff0000" stroke-width="4"/>
<text transform="translate(983,109.5) scale(0.935,1)" font-family='"Liberation Serif", "Noto Serif CJK SC", serif' font-size="45" font-weight="bold" fill="#000">TiO<tspan font-size="27" dy="11">2</tspan></text>
<text transform="translate(76.5,423.8) rotate(-90)" font-family='"Liberation Serif", "Noto Serif CJK SC", serif' font-size="41.5" font-weight="bold" text-anchor="middle" fill="#000" >Intensity(a.u.)</text>
<g transform="translate(516.9,941.5) scale(0.95,1)" font-family='"Noto Serif CJK SC", "Liberation Serif", serif' font-size="38" font-weight="500" text-anchor="middle" fill="#1c1c1c" >
<text x="10.9 32.8 59.4 76.5 98.3 120.2 142 163.9 185.7 205.5" y="0">2θ(degree)</text>
</g>
</g>
<g id="panelB">
<polyline points="1463.7,265.5 1464.1,270.1 1464.5,269.6 1464.9,263.6 1465.3,264.3 1465.7,263.5 1466.1,267.3 1466.5,265.1 1467,268 1467.4,258.9 1467.8,270.8 1468.2,265 1468.6,267.7 1469,264.9 1469.4,264 1469.8,267 1470.2,268.2 1470.6,264.6 1471,264.8 1471.4,267.7 1471.8,262.3 1472.2,260 1472.7,266.7 1473.1,263 1473.5,258.6 1473.9,262.5 1474.3,263.7 1474.7,261.2 1475.1,260.1 1475.5,265.5 1475.9,268.5 1476.3,264.5 1476.7,262.7 1477.1,266.7 1477.5,267.8 1477.9,264.3 1478.3,267.2 1478.8,269 1479.2,264.6 1479.6,262.5 1480,266.5 1480.4,266.2 1480.8,269.2 1481.2,260.8 1481.6,263 1482,262.4 1482.4,259.2 1482.8,265.8 1483.2,267.2 1483.6,262.7 1484,270.2 1484.4,268.2 1484.9,267.5 1485.3,266.7 1485.7,268.7 1486.1,260.6 1486.5,267.5 1486.9,267.4 1487.3,259.1 1487.7,266.5 1488.1,264.4 1488.5,268 1488.9,263.8 1489.3,265.2 1489.7,266.5 1490.1,262.2 1490.6,267.4 1491,264.9 1491.4,267 1491.8,263.5 1492.2,269.1 1492.6,267.4 1493,264.7 1493.4,267.5 1493.8,269.7 1494.2,271.6 1494.6,259.8 1495,268.4 1495.4,266.9 1495.8,279.3 1496.2,261.8 1496.7,269.7 1497.1,260.9 1497.5,267.3 1497.9,269.8 1498.3,259.7 1498.7,264.2 1499.1,260.7 1499.5,266.1 1499.9,270.6 1500.3,272.4 1500.7,259 1501.1,263.3 1501.5,267.7 1501.9,270.8 1502.4,266.7 1502.8,262.6 1503.2,266.3 1503.6,265.2 1504,264.5 1504.4,262.7 1504.8,266.6 1505.2,266.3 1505.6,264.9 1506,264.5 1506.4,260.7 1506.8,263.5 1507.2,269.5 1507.6,264.6 1508,260.2 1508.5,269.9 1508.9,267.1 1509.3,272.6 1509.7,265.4 1510.1,263.6 1510.5,260.1 1510.9,269.8 1511.3,274.2 1511.7,262.3 1512.1,262.9 1512.5,267.3 1512.9,262.3 1513.3,264.2 1513.7,264 1514.1,265.9 1514.6,269 1515,265.3 1515.4,268.4 1515.8,263.7 1516.2,266.3 1516.6,257.7 1517,260.1 1517.4,267.9 1517.8,263.1 1518.2,267.2 1518.6,267 1519,269.8 1519.4,268 1519.8,268.7 1520.3,264.7 1520.7,262.7 1521.1,262.5 1521.5,263.4 1521.9,261.1 1522.3,263.2 1522.7,264.7 1523.1,265.9 1523.5,263.9 1523.9,258.3 1524.3,264.8 1524.7,265.8 1525.1,268.8 1525.5,267 1525.9,262.7 1526.4,262.5 1526.8,272 1527.2,267.6 1527.6,271.4 1528,272.4 1528.4,262.1 1528.8,266.3 1529.2,266.5 1529.6,266.9 1530,266.8 1530.4,265.6 1530.8,265.5 1531.2,259.6 1531.6,264.3 1532,262.2 1532.5,265.3 1532.9,263.2 1533.3,267 1533.7,267.6 1534.1,265.8 1534.5,265.8 1534.9,265 1535.3,263.1 1535.7,264.1 1536.1,262.9 1536.5,266 1536.9,264.7 1537.3,266.7 1537.7,259.9 1538.2,267.7 1538.6,261.9 1539,262 1539.4,263.8 1539.8,262.5 1540.2,265.5 1540.6,262.4 1541,260.7 1541.4,261.4 1541.8,269 1542.2,264.5 1542.6,260.3 1543,264.3 1543.4,258.8 1543.8,270.5 1544.3,258.9 1544.7,265.9 1545.1,266.1 1545.5,259.1 1545.9,265.2 1546.3,267.6 1546.7,265.7 1547.1,265 1547.5,267.3 1547.9,264.5 1548.3,265.1 1548.7,263.5 1549.1,266.1 1549.5,260.6 1550,266.6 1550.4,262 1550.8,259.9 1551.2,265 1551.6,269.6 1552,267 1552.4,261.8 1552.8,266 1553.2,261.9 1553.6,263.1 1554,263.8 1554.4,255.3 1554.8,264.1 1555.2,259.7 1555.6,260.9 1556.1,258.1 1556.5,257.9 1556.9,259.9 1557.3,266 1557.7,268.9 1558.1,263 1558.5,266.8 1558.9,262.1 1559.3,256.2 1559.7,263.4 1560.1,264.4 1560.5,261.3 1560.9,263.8 1561.3,264.7 1561.7,259.7 1562.2,257.5 1562.6,261.8 1563,261.8 1563.4,261.3 1563.8,265.9 1564.2,268.5 1564.6,260.9 1565,264.8 1565.4,265.6 1565.8,264.7 1566.2,265.9 1566.6,260.8 1567,264.7 1567.4,269.1 1567.9,264.8 1568.3,259.8 1568.7,264 1569.1,266.3 1569.5,263.1 1569.9,259.8 1570.3,267.1 1570.7,257.3 1571.1,263.4 1571.5,261.6 1571.9,257.4 1572.3,265.8 1572.7,262.7 1573.1,257.4 1573.5,263.5 1574,259.8 1574.4,254.7 1574.8,258.9 1575.2,262.2 1575.6,263.4 1576,261.7 1576.4,261.3 1576.8,262.7 1577.2,260.3 1577.6,265.1 1578,261.5 1578.4,262 1578.8,262.8 1579.2,257.2 1579.7,258.3 1580.1,266.1 1580.5,261.9 1580.9,259.7 1581.3,261.9 1581.7,259 1582.1,261.6 1582.5,258.3 1582.9,261.5 1583.3,255 1583.7,265.2 1584.1,258.7 1584.5,254.9 1584.9,259.6 1585.3,259.1 1585.8,260.9 1586.2,256.3 1586.6,261.7 1587,273 1587.4,255.8 1587.8,261.5 1588.2,259.2 1588.6,260.9 1589,253.9 1589.4,256.2 1589.8,261.8 1590.2,260 1590.6,265.9 1591,257.7 1591.4,260.7 1591.9,270.3 1592.3,257.4 1592.7,256.9 1593.1,260 1593.5,259.9 1593.9,263 1594.3,260.5 1594.7,257.4 1595.1,260.8 1595.5,269.3 1595.9,264.5 1596.3,250.3 1596.7,259.6 1597.1,257 1597.6,262.2 1598,259.5 1598.4,259.2 1598.8,263.3 1599.2,263.2 1599.6,260.7 1600,260 1600.4,261.3 1600.8,264.6 1601.2,262 1601.6,258.9 1602,264.6 1602.4,260.8 1602.8,259.9 1603.2,257.4 1603.7,258.2 1604.1,258 1604.5,250.4 1604.9,263.8 1605.3,262.2 1605.7,259.5 1606.1,263.9 1606.5,261.8 1606.9,261.6 1607.3,251.7 1607.7,259.5 1608.1,262.2 1608.5,266 1608.9,266.8 1609.3,265.4 1609.8,256.4 1610.2,252.8 1610.6,262.5 1611,260.6 1611.4,263.9 1611.8,260.1 1612.2,261.3 1612.6,255.3 1613,262.1 1613.4,259 1613.8,261.8 1614.2,262.2 1614.6,260.2 1615,261.8 1615.5,260.6 1615.9,263.4 1616.3,262.5 1616.7,258.8 1617.1,258.7 1617.5,266.9 1617.9,260.4 1618.3,264.3 1618.7,262.2 1619.1,258.8 1619.5,258.2 1619.9,261.3 1620.3,261.7 1620.7,263 1621.1,256.4 1621.6,258.8 1622,260.6 1622.4,266.5 1622.8,252.6 1623.2,262.4 1623.6,259 1624,262.4 1624.4,259.2 1624.8,262.2 1625.2,266.4 1625.6,262.2 1626,262.4 1626.4,262.2 1626.8,258.3 1627.3,262.8 1627.7,260.2 1628.1,258 1628.5,260.7 1628.9,260.1 1629.3,263.5 1629.7,260.7 1630.1,258.9 1630.5,265.9 1630.9,258.4 1631.3,265.2 1631.7,262.8 1632.1,260.3 1632.5,259.2 1632.9,259.6 1633.4,263.9 1633.8,260.9 1634.2,255.3 1634.6,260.3 1635,255.4 1635.4,260.9 1635.8,256.1 1636.2,255.8 1636.6,260.6 1637,259.8 1637.4,254.2 1637.8,262.6 1638.2,267.4 1638.6,254.6 1639,266.1 1639.5,257.2 1639.9,257.8 1640.3,258.8 1640.7,254.3 1641.1,263.8 1641.5,260.8 1641.9,256.4 1642.3,257.9 1642.7,253.5 1643.1,257.4 1643.5,261.7 1643.9,252.4 1644.3,256.6 1644.7,258.5 1645.2,261.4 1645.6,262.3 1646,255.8 1646.4,254.7 1646.8,258.6 1647.2,255.5 1647.6,255.5 1648,260 1648.4,261.8 1648.8,256.6 1649.2,254.7 1649.6,257 1650,248.2 1650.4,254.3 1650.8,250.3 1651.3,261.7 1651.7,255.5 1652.1,253 1652.5,251.3 1652.9,242.8 1653.3,253.2 1653.7,255.6 1654.1,246.8 1654.5,250.7 1654.9,249.9 1655.3,241.2 1655.7,248.5 1656.1,248.7 1656.5,243.6 1657,241.1 1657.4,242.4 1657.8,232.8 1658.2,236.3 1658.6,237.4 1659,227.4 1659.4,232.3 1659.8,224.9 1660.2,216.4 1660.6,219.7 1661,213.4 1661.4,209.4 1661.8,205 1662.2,208 1662.6,197.6 1663.1,196.4 1663.5,188.2 1663.9,183.8 1664.3,183.1 1664.7,174.2 1665.1,166.2 1665.5,157.4 1665.9,158.8 1666.3,151.1 1666.7,147.2 1667.1,136.9 1667.5,126.8 1667.9,120.9 1668.3,115.9 1668.7,114.4 1669.2,109.7 1669.6,102.6 1670,103.9 1670.4,101.8 1670.8,98.6 1671.2,100.8 1671.6,97.4 1672,99.6 1672.4,103.9 1672.8,105.8 1673.2,112.4 1673.6,111.2 1674,124.4 1674.4,123.9 1674.9,131.9 1675.3,134.8 1675.7,147 1676.1,155.5 1676.5,161.6 1676.9,167.4 1677.3,167.2 1677.7,175.6 1678.1,182.6 1678.5,187.2 1678.9,198.4 1679.3,201.2 1679.7,205.8 1680.1,212 1680.5,212.8 1681,217.2 1681.4,221.4 1681.8,228.8 1682.2,231.9 1682.6,235.8 1683,240.2 1683.4,236.8 1683.8,241.5 1684.2,245.8 1684.6,244.2 1685,248.4 1685.4,254.3 1685.8,256.3 1686.2,257.9 1686.6,256.8 1687.1,257.6 1687.5,262.2 1687.9,259.8 1688.3,262.7 1688.7,266.2 1689.1,263 1689.5,263.4 1689.9,265.7 1690.3,268 1690.7,268.5 1691.1,268.5 1691.5,270.1 1691.9,265.6 1692.3,268 1692.8,271.1 1693.2,269 1693.6,268.5 1694,269.4 1694.4,270.6 1694.8,272.8 1695.2,271.2 1695.6,274.6 1696,278.5 1696.4,274.5 1696.8,278.3 1697.2,276.3 1697.6,273.3 1698,275.7 1698.4,274.3 1698.9,278.7 1699.3,274.4 1699.7,280.5 1700.1,279 1700.5,273.2 1700.9,280 1701.3,282 1701.7,276.8 1702.1,281.1 1702.5,274.8 1702.9,279.8 1703.3,275.5 1703.7,280.7 1704.1,275.6 1704.6,273.8 1705,281 1705.4,285.5 1705.8,279 1706.2,282.4 1706.6,280.9 1707,280 1707.4,282.3 1707.8,284.8 1708.2,278.2 1708.6,282.5 1709,282.1 1709.4,278.1 1709.8,285.3 1710.2,286.1 1710.7,279.5 1711.1,285.8 1711.5,282 1711.9,281.6 1712.3,285.5 1712.7,282.6 1713.1,282.9 1713.5,285.7 1713.9,285.3 1714.3,284.4 1714.7,279.2 1715.1,278.9 1715.5,285.1 1715.9,280.5 1716.3,283 1716.8,280.2 1717.2,282.3 1717.6,279.9 1718,286.6 1718.4,280.5 1718.8,282.7 1719.2,282.5 1719.6,285.8 1720,279.8 1720.4,283 1720.8,282.7 1721.2,284.4 1721.6,284.3 1722,282.2 1722.5,283.8 1722.9,282.4 1723.3,284.4 1723.7,283.1 1724.1,281.9 1724.5,283.4 1724.9,284.3 1725.3,288.7 1725.7,282.4 1726.1,284.2 1726.5,286.9 1726.9,278.8 1727.3,279.6 1727.7,280.9 1728.1,283.4 1728.6,289.3 1729,284.6 1729.4,286.5 1729.8,283.2 1730.2,278.1 1730.6,278.4 1731,286.1 1731.4,284.2 1731.8,280.8 1732.2,286.4 1732.6,280.3 1733,286.5 1733.4,287.2 1733.8,282.1 1734.3,281.4 1734.7,285.9 1735.1,281.4 1735.5,285.9 1735.9,281.2 1736.3,285.9 1736.7,284.2 1737.1,283 1737.5,282 1737.9,284.6 1738.3,279.7 1738.7,283.4 1739.1,283.2 1739.5,285.6 1739.9,281.2 1740.4,288.1 1740.8,283.4 1741.2,281.5 1741.6,287.3 1742,288 1742.4,283.7 1742.8,282.1 1743.2,284.2 1743.6,282.6 1744,283.5 1744.4,287.8 1744.8,285.1 1745.2,284.6 1745.6,285 1746,284.1 1746.5,286.2 1746.9,286.3 1747.3,283.4 1747.7,284.5 1748.1,289.8 1748.5,285.2 1748.9,283.8 1749.3,289 1749.7,284.3 1750.1,281.8 1750.5,285.9 1750.9,282.2 1751.3,283.2 1751.7,285.1 1752.2,284 1752.6,282.6 1753,283.1 1753.4,283 1753.8,287 1754.2,282.7 1754.6,283 1755,289 1755.4,283.1 1755.8,287.8 1756.2,287.4 1756.6,284 1757,281.1 1757.4,285.4 1757.8,285.9 1758.3,286.6 1758.7,284.5 1759.1,287.1 1759.5,287.6 1759.9,282 1760.3,287.7 1760.7,284.8 1761.1,283.1 1761.5,283.7 1761.9,288.7 1762.3,286.7 1762.7,280.3 1763.1,284.6 1763.5,284.1 1764,284 1764.4,283.2 1764.8,281 1765.2,286.4 1765.6,282.2 1766,283.5 1766.4,283 1766.8,282.7 1767.2,286.1 1767.6,285.3 1768,282.8 1768.4,282.2 1768.8,283.3 1769.2,286.6 1769.6,284.7 1770.1,284.9 1770.5,283.6 1770.9,283.8 1771.3,284.9 1771.7,280.1 1772.1,288.1 1772.5,282.6 1772.9,283.1 1773.3,287.4 1773.7,284.9 1774.1,284.5 1774.5,283 1774.9,280.8 1775.3,284.8 1775.7,287.1 1776.2,282.3 1776.6,287.5 1777,281.7 1777.4,282.6 1777.8,285.5 1778.2,284.3 1778.6,285.9 1779,282.6 1779.4,281.9 1779.8,280 1780.2,281.5 1780.6,281.8 1781,281 1781.4,285 1781.9,282.7 1782.3,279.7 1782.7,290 1783.1,282.3 1783.5,281.4 1783.9,287.1 1784.3,286.9 1784.7,281.6 1785.1,280.8 1785.5,281.9 1785.9,286.8 1786.3,283.5 1786.7,282.3 1787.1,284.1 1787.5,286.9 1788,281 1788.4,283.3 1788.8,280.9 1789.2,289.1 1789.6,288.3 1790,286.3 1790.4,283.8 1790.8,285.6 1791.2,279.2 1791.6,284.7 1792,281 1792.4,281 1792.8,282.4 1793.2,283.2 1793.6,285.3 1794.1,285.6 1794.5,284.6 1794.9,281.8 1795.3,285.5 1795.7,283.6 1796.1,286.6 1796.5,281.8 1796.9,277.5 1797.3,282.7 1797.7,288.8 1798.1,284.9 1798.5,283.3 1798.9,285.8 1799.3,284.9 1799.8,284.8 1800.2,282.5 1800.6,283.8 1801,284.1 1801.4,282.1 1801.8,281 1802.2,283.9 1802.6,285.7 1803,285 1803.4,284.6 1803.8,284.6 1804.2,289.3 1804.6,284 1805,285.7 1805.4,287.8 1805.9,283.4 1806.3,283.8 1806.7,285.6 1807.1,287 1807.5,283.8 1807.9,283.8 1808.3,283.2 1808.7,280.1 1809.1,285.4 1809.5,282.2 1809.9,278.7 1810.3,282.3 1810.7,278.6 1811.1,280.2 1811.6,282.4 1812,280.2 1812.4,284.7 1812.8,278.8 1813.2,282.6 1813.6,283.2 1814,285.2 1814.4,283.8 1814.8,282.1 1815.2,281.6 1815.6,281.2 1816,283.8 1816.4,279.5 1816.8,282.1 1817.2,280.5 1817.7,281.1 1818.1,279.7 1818.5,285 1818.9,278.4 1819.3,280.3 1819.7,280.1 1820.1,280.6 1820.5,280 1820.9,279.7 1821.3,280.7 1821.7,274.7 1822.1,277.9 1822.5,274.7 1822.9,277.8 1823.3,274.2 1823.8,274.4 1824.2,276.1 1824.6,279 1825,276.8 1825.4,275.7 1825.8,277.8 1826.2,272 1826.6,268.9 1827,272.3 1827.4,272.1 1827.8,275.1 1828.2,276.7 1828.6,268.2 1829,276.5 1829.5,273.8 1829.9,271.6 1830.3,270 1830.7,274.1 1831.1,268.2 1831.5,266.3 1831.9,267.1 1832.3,263 1832.7,266.7 1833.1,264.7 1833.5,265.1 1833.9,264.6 1834.3,260.7 1834.7,265.5 1835.1,259.6 1835.6,263.3 1836,257 1836.4,261 1836.8,257.7 1837.2,259.1 1837.6,257 1838,252.9 1838.4,254.9 1838.8,257.1 1839.2,258 1839.6,252.8 1840,250.9 1840.4,253.4 1840.8,254.6 1841.3,253.4 1841.7,252.8 1842.1,256.4 1842.5,256.5 1842.9,255.9 1843.3,252 1843.7,254.4 1844.1,253.8 1844.5,251.1 1844.9,256.5 1845.3,254.9 1845.7,253.8 1846.1,258.5 1846.5,257.3 1846.9,257.8 1847.4,259 1847.8,258.3 1848.2,254.2 1848.6,256.7 1849,260.4 1849.4,256.9 1849.8,259.3 1850.2,260.7 1850.6,263.6 1851,263.9 1851.4,263.6 1851.8,261.7 1852.2,264.8 1852.6,264.5 1853,263.6 1853.5,267.7 1853.9,266.3 1854.3,264 1854.7,269.3 1855.1,266.4 1855.5,268.9 1855.9,264.6 1856.3,268.7 1856.7,267.1 1857.1,267.6 1857.5,266 1857.9,275.9 1858.3,271.1 1858.7,272.5 1859.2,275 1859.6,272.7 1860,274.6 1860.4,270.7 1860.8,274.8 1861.2,273.8 1861.6,276.3 1862,276 1862.4,272.7 1862.8,272 1863.2,274.3 1863.6,278.7 1864,278.3 1864.4,278.6 1864.8,273.3 1865.3,272.1 1865.7,277.1 1866.1,278 1866.5,277.7 1866.9,280.1 1867.3,279.1 1867.7,277 1868.1,278 1868.5,280.5 1868.9,280.5 1869.3,280.4 1869.7,285.9 1870.1,280.3 1870.5,281.3 1870.9,278.9 1871.4,280.5 1871.8,282.7 1872.2,282.9 1872.6,281.4 1873,282.7 1873.4,282.1 1873.8,277.7 1874.2,274.6 1874.6,287.6 1875,284.2 1875.4,282.3 1875.8,278.5 1876.2,279.6 1876.6,285.8 1877.1,276.3 1877.5,282 1877.9,284.8 1878.3,283.2 1878.7,284.7 1879.1,282.7 1879.5,288.6 1879.9,280.7 1880.3,280 1880.7,283.8 1881.1,286.5 1881.5,283.1 1881.9,285.7 1882.3,282.1 1882.7,280.6 1883.2,286.6 1883.6,287 1884,287 1884.4,282.5 1884.8,280.9 1885.2,280.9 1885.6,283.1 1886,284.9 1886.4,284.8 1886.8,280.4 1887.2,284.1 1887.6,283.7 1888,283.9 1888.4,283.7 1888.9,283.3 1889.3,281.9 1889.7,284.1 1890.1,284.3 1890.5,282.2 1890.9,284.8 1891.3,283.6 1891.7,279 1892.1,285 1892.5,283.3 1892.9,286.1 1893.3,283.6 1893.7,283.7 1894.1,284.5 1894.5,284 1895,283 1895.4,279.9 1895.8,288.3 1896.2,280.4 1896.6,283.3 1897,285.6 1897.4,284.9 1897.8,285.4 1898.2,285.8 1898.6,287 1899,284.8 1899.4,290.8 1899.8,281.8 1900.2,284.6 1900.6,283.3 1901.1,282.9 1901.5,284.8 1901.9,287.5 1902.3,282.5 1902.7,282.5 1903.1,285.8 1903.5,285.4 1903.9,288.7 1904.3,286.5 1904.7,284.7 1905.1,283.4 1905.5,284.7 1905.9,283.8 1906.3,281.1 1906.8,284.2 1907.2,283.8 1907.6,283.7 1908,283.2 1908.4,288.1 1908.8,285.8 1909.2,286.4 1909.6,282.8 1910,281.9 1910.4,283.6 1910.8,284.8 1911.2,283.4 1911.6,283.8 1912,286.5 1912.4,284.9 1912.9,282 1913.3,283.3 1913.7,282.7 1914.1,284.7 1914.5,281.6 1914.9,283.8 1915.3,285.8 1915.7,284.3 1916.1,282.1 1916.5,282.8 1916.9,284.5 1917.3,285.3 1917.7,286.2 1918.1,283.9 1918.6,281.2 1919,287.5 1919.4,284.9 1919.8,285.2 1920.2,284.9 1920.6,281.8 1921,283.5 1921.4,284.8 1921.8,286.6 1922.2,284.3 1922.6,277 1923,283.6 1923.4,285 1923.8,287.1 1924.2,285.8 1924.7,289.9 1925.1,287.4 1925.5,287.2 1925.9,286.3 1926.3,280.9 1926.7,286.1 1927.1,285.5 1927.5,282.9 1927.9,285.4 1928.3,285 1928.7,283 1929.1,283.8 1929.5,283.5 1929.9,284.6 1930.3,283.1 1930.8,285.3 1931.2,279.6 1931.6,283.4 1932,280.1 1932.4,282.9 1932.8,285.1 1933.2,284 1933.6,283.7 1934,284.1 1934.4,287.5 1934.8,281.3 1935.2,285.9 1935.6,280.4 1936,282.8 1936.5,284.2 1936.9,281.8 1937.3,284.2 1937.7,285.4 1938.1,281 1938.5,283.5 1938.9,282.8 1939.3,279.2 1939.7,283.2 1940.1,281.8 1940.5,286.7 1940.9,281.6 1941.3,287.4 1941.7,282.3 1942.1,287.9 1942.6,284.7 1943,284.5 1943.4,285.2 1943.8,285.4 1944.2,286.5 1944.6,287.3 1945,282.5 1945.4,280.3 1945.8,277 1946.2,282.2 1946.6,284.8 1947,283.9 1947.4,283.3 1947.8,282.1 1948.2,281.4 1948.7,282.2 1949.1,283.7 1949.5,278.7 1949.9,284.4 1950.3,279.3 1950.7,282.2 1951.1,281 1951.5,281.6 1951.9,279.9 1952.3,279.6 1952.7,281.7 1953.1,279.6 1953.5,287.7 1953.9,281 1954.4,280.3 1954.8,280.5 1955.2,279.1 1955.6,275.8 1956,280.8 1956.4,282 1956.8,277.6 1957.2,281 1957.6,278 1958,280.5 1958.4,281.3 1958.8,281.4 1959.2,281 1959.6,278.2 1960,281.6 1960.5,278.3 1960.9,279.8 1961.3,280.3 1961.7,277.6 1962.1,275 1962.5,279 1962.9,274.6 1963.3,274.6 1963.7,273.6 1964.1,277.6 1964.5,274.6 1964.9,269.2 1965.3,275.4 1965.7,277.7 1966.2,276.3 1966.6,270 1967,270.6 1967.4,270.6 1967.8,270.5 1968.2,267.4 1968.6,263.7 1969,266.7 1969.4,265.1 1969.8,259.3 1970.2,260.1 1970.6,260.1 1971,257.9 1971.4,257.6 1971.8,256.6 1972.3,254.3 1972.7,251.1 1973.1,246.6 1973.5,249.3 1973.9,249.4 1974.3,249 1974.7,242.7 1975.1,241 1975.5,242.9 1975.9,241.4 1976.3,237.5 1976.7,237.1 1977.1,232.6 1977.5,234.8 1977.9,233.5 1978.4,231.9 1978.8,231.7 1979.2,230.9 1979.6,227.3 1980,230.6 1980.4,233.9 1980.8,233.9 1981.2,234.1 1981.6,237.2 1982,239.1 1982.4,241 1982.8,238.7 1983.2,242.2 1983.6,243.1 1984.1,243.5 1984.5,243.8 1984.9,248.8 1985.3,248.7 1985.7,257.4 1986.1,253.9 1986.5,255.2 1986.9,256.4 1987.3,263.2 1987.7,258.2 1988.1,261.4 1988.5,261.4 1988.9,264.1 1989.3,265.6 1989.7,269.4 1990.2,264.7 1990.6,268.9 1991,273.7 1991.4,269.7 1991.8,271.3 1992.2,270.5 1992.6,267.3 1993,273.8 1993.4,277.4 1993.8,274.2 1994.2,271.6 1994.6,276.9 1995,277 1995.4,279.6 1995.9,279.7 1996.3,277.4 1996.7,279.3 1997.1,274.6 1997.5,281.5 1997.9,279.7 1998.3,282 1998.7,282.2 1999.1,279.3 1999.5,279.8 1999.9,278.3 2000.3,275.7 2000.7,280.3 2001.1,281.2 2001.5,278.4 2002,282.7 2002.4,281.4 2002.8,282.3 2003.2,279.6 2003.6,277.4 2004,283.4 2004.4,284.6 2004.8,281.5 2005.2,280.9 2005.6,281.3 2006,281.7 2006.4,280.9 2006.8,277.5 2007.2,284 2007.6,278.8 2008.1,281.5 2008.5,281.6 2008.9,283 2009.3,278.7 2009.7,285.2 2010.1,284 2010.5,284.3 2010.9,285.5 2011.3,280.8 2011.7,275.5 2012.1,283.5 2012.5,285.8 2012.9,285.4 2013.3,281.6 2013.8,282.6 2014.2,283.5 2014.6,278.7 2015,281.4 2015.4,281.5 2015.8,286.6 2016.2,281.5 2016.6,286.6 2017,283 2017.4,279.1 2017.8,288.1 2018.2,280.8 2018.6,284.5 2019,287 2019.4,281.8 2019.9,280.2 2020.3,285.5 2020.7,283.2 2021.1,280.3 2021.5,280.6 2021.9,282.2 2022.3,285.3 2022.7,282.4 2023.1,284.6 2023.5,286.9 2023.9,286 2024.3,286.4 2024.7,285.9 2025.1,279.4 2025.5,285.9 2026,283.8 2026.4,282.7 2026.8,280.5 2027.2,279.3 2027.6,280.4 2028,282.9 2028.4,280.2 2028.8,281 2029.2,281.5 2029.6,284.4 2030,282.2 2030.4,282.5 2030.8,285.8 2031.2,282 2031.7,284.1 2032.1,280.2 2032.5,283.3 2032.9,282.8 2033.3,282.9 2033.7,281.3 2034.1,280 2034.5,281.6 2034.9,281.1 2035.3,284.5 2035.7,284.1 2036.1,279.2 2036.5,283.3 2036.9,280.6 2037.3,282.7 2037.8,280.4 2038.2,278 2038.6,283.5 2039,282.1 2039.4,278.1 2039.8,276.3 2040.2,279.3 2040.6,277.6 2041,279.2 2041.4,281.3 2041.8,283 2042.2,278.5 2042.6,282.2 2043,281.4 2043.5,277.5 2043.9,274.3 2044.3,279.8 2044.7,278.8 2045.1,282.5 2045.5,279.9 2045.9,278 2046.3,279.7 2046.7,272.9 2047.1,275.3 2047.5,273.7 2047.9,277.9 2048.3,274.6 2048.7,265.7 2049.1,275.4 2049.6,264.5 2050,272.8 2050.4,269.3 2050.8,270.4 2051.2,270.6 2051.6,268.9 2052,265.6 2052.4,270.4 2052.8,267.4 2053.2,265.7 2053.6,266.7 2054,263.1 2054.4,268 2054.8,264.3 2055.2,263.1 2055.7,262.3 2056.1,258.8 2056.5,257.5 2056.9,260 2057.3,259.6 2057.7,261.3 2058.1,258.6 2058.5,254.4 2058.9,257.6 2059.3,257.7 2059.7,257.6 2060.1,255.5 2060.5,251.4 2060.9,256.4 2061.4,251.6 2061.8,254.2 2062.2,248.8 2062.6,253.8 2063,249.9 2063.4,253.8 2063.8,255 2064.2,253.2 2064.6,247.5 2065,247.6 2065.4,242 2065.8,250.6 2066.2,249.5 2066.6,248.7 2067,248.6 2067.5,248.9 2067.9,248.6 2068.3,250.6 2068.7,246.2 2069.1,246.4 2069.5,241.3 2069.9,242.2 2070.3,243.2 2070.7,241.8 2071.1,244.7 2071.5,246.3 2071.9,242.7 2072.3,242.4 2072.7,242.2 2073.2,243.6 2073.6,242 2074,244.3 2074.4,244.2 2074.8,244.5 2075.2,245.8 2075.6,244.5 2076,244.6 2076.4,249.5 2076.8,246 2077.2,248.6 2077.6,247.7 2078,247.4 2078.4,248.3 2078.8,248.4 2079.3,251.4 2079.7,251 2080.1,252.5 2080.5,257.3 2080.9,255.3 2081.3,259.4 2081.7,258.5 2082.1,261 2082.5,258.7 2082.9,261.6 2083.3,268.4 2083.7,265.3 2084.1,266.7 2084.5,266 2084.9,268.4 2085.4,264.7 2085.8,266.4 2086.2,270.2 2086.6,272 2087,270 2087.4,271.3 2087.8,275.1 2088.2,272.8 2088.6,271.1 2089,271.2 2089.4,275 2089.8,271.7 2090.2,274 2090.6,275.3 2091.1,274.8 2091.5,278.3 2091.9,277.1 2092.3,278.4 2092.7,276.6 2093.1,277.5 2093.5,280.7 2093.9,280.7 2094.3,279.1 2094.7,281.2 2095.1,281 2095.5,281.2 2095.9,284.7 2096.3,280.3 2096.7,282.4 2097.2,282.5 2097.6,281.2 2098,279.2 2098.4,283.5 2098.8,282.7 2099.2,282.3 2099.6,282.3 2100,282.4 2100.4,280.4 2100.8,283.2 2101.2,278.5 2101.6,282.6 2102,279.3 2102.4,282 2102.9,284.5 2103.3,282.3 2103.7,281.9 2104.1,284.2 2104.5,282.4 2104.9,282.2 2105.3,282.2 2105.7,286.7 2106.1,284.7 2106.5,284.4 2106.9,280.5 2107.3,284.7 2107.7,280.4 2108.1,284.5 2108.5,280.8 2109,287.9 2109.4,279.6 2109.8,286.3 2110.2,285.3 2110.6,279.4 2111,283 2111.4,286.9 2111.8,286.2 2112.2,279.8 2112.6,282.4 2113,281 2113.4,281.3 2113.8,282.2 2114.2,287.9 2114.6,284 2115.1,283.2 2115.5,283 2115.9,285.3 2116.3,285.4 2116.7,281.7 2117.1,287.2 2117.5,281.3 2117.9,283.2 2118.3,284.9 2118.7,287.8 2119.1,283.1 2119.5,284.5 2119.9,286.9 2120.3,285.3 2120.8,286.5 2121.2,286.3 2121.6,284.5 2122,285.4 2122.4,286 2122.8,283.9 2123.2,287.6 2123.6,279.4 2124,281.8 2124.4,286.3 2124.8,285 2125.2,282.5 2125.6,284.9 2126,286.5 2126.4,282.7 2126.9,285.8 2127.3,283.7 2127.7,283.7 2128.1,283.9 2128.5,286.6 2128.9,281.4 2129.3,283.2 2129.7,285.5 2130.1,281.2 2130.5,280.4 2130.9,285.3 2131.3,284 2131.7,283.7 2132.1,284.3 2132.5,281.8 2133,290.7 2133.4,281.8 2133.8,283 2134.2,280.7 2134.6,283.1 2135,287.5 2135.4,284 2135.8,285.4 2136.2,282.9 2136.6,288.2 2137,284.4 2137.4,281.1 2137.8,285.7 2138.2,283.1 2138.7,285.4 2139.1,284.3 2139.5,284.5 2139.9,284.2 2140.3,281.8 2140.7,280.5 2141.1,286.1 2141.5,283.6 2141.9,284.5 2142.3,282.8 2142.7,279.2 2143.1,280.9 2143.5,287 2143.9,282 2144.3,282.9 2144.8,280.4 2145.2,282.5 2145.6,282.9 2146,283.2 2146.4,283.5 2146.8,282.2 2147.2,282.3 2147.6,283.6 2148,284.3 2148.4,283.2 2148.8,287.5 2149.2,284 2149.6,283.8 2150,281.9 2150.5,285.7 2150.9,281 2151.3,279.6 2151.7,281 2152.1,284.6 2152.5,280.5 2152.9,286.1 2153.3,283 2153.7,279.5 2154.1,282.4 2154.5,286.9 2154.9,280.7 2155.3,279.6 2155.7,283.7 2156.1,285.5 2156.6,284.7 2157,281.5 2157.4,282.5 2157.8,282.7 2158.2,284.6 2158.6,286.7 2159,281.3 2159.4,284.4 2159.8,280.5 2160.2,282.4 2160.6,278.7 2161,278.9 2161.4,281.4 2161.8,278.2 2162.2,282.1 2162.7,278.5 2163.1,279.7 2163.5,279.1 2163.9,278.2 2164.3,279 2164.7,280.9 2165.1,285.2 2165.5,275.1 2165.9,278.1 2166.3,276.7 2166.7,274.6 2167.1,277 2167.5,274 2167.9,275.4 2168.4,278.1 2168.8,270.2 2169.2,275 2169.6,275 2170,271.3 2170.4,274.3 2170.8,273.5 2171.2,271.4 2171.6,274.6 2172,268.3 2172.4,272.4 2172.8,269.9 2173.2,267.6 2173.6,269.2 2174,268.4 2174.5,270.7 2174.9,265 2175.3,267.6 2175.7,266.7 2176.1,271 2176.5,264.5 2176.9,269.2 2177.3,258.5 2177.7,267.1 2178.1,265.9 2178.5,266.9 2178.9,264.3 2179.3,261.4 2179.7,262.3 2180.2,268.9 2180.6,266.4 2181,264 2181.4,268.2 2181.8,264.6 2182.2,264.8 2182.6,264 2183,269.8 2183.4,271.9 2183.8,265.5 2184.2,268.7 2184.6,270.6 2185,273.6 2185.4,263.7 2185.8,269.9 2186.3,271.5 2186.7,267 2187.1,271.8 2187.5,271.8 2187.9,273.4 2188.3,270.9 2188.7,273.6 2189.1,271.7 2189.5,274.9 2189.9,274.3 2190.3,273.5 2190.7,271.5 2191.1,279 2191.5,278.1 2191.9,278 2192.4,274.8 2192.8,275.9 2193.2,280.9 2193.6,279.1 2194,275.8 2194.4,278.2 2194.8,278.7 2195.2,278.2 2195.6,276.8 2196,282.1 2196.4,280.9 2196.8,279.3 2197.2,276.4 2197.6,278.9 2198.1,280.4 2198.5,282.7 2198.9,280 2199.3,283.6 2199.7,281.5 2200.1,279.7 2200.5,275.1 2200.9,279 2201.3,278.4 2201.7,281.6 2202.1,282.9 2202.5,285.4 2202.9,282.3 2203.3,279.8 2203.7,288 2204.2,283.4 2204.6,282.1 2205,282.2 2205.4,279.8 2205.8,284.4 2206.2,283.9 2206.6,286.7 2207,285.7 2207.4,285.2 2207.8,286.2 2208.2,282.7 2208.6,282.3 2209,283.3 2209.4,280.6 2209.8,283.2 2210.3,282.8 2210.7,285.1 2211.1,283.6 2211.5,279.2 2211.9,283.7 2212.3,286.9 2212.7,279.5 2213.1,282 2213.5,283.8 2213.9,280.7 2214.3,282.5 2214.7,283.9 2215.1,280.8 2215.5,284.5 2216,284.8 2216.4,281 2216.8,284 2217.2,286.4 2217.6,283.5 2218,284.9 2218.4,285.4 2218.8,283.4 2219.2,286.2 2219.6,284.9 2220,281.7 2220.4,285.2 2220.8,286 2221.2,285.9 2221.6,282.5 2222.1,285.1 2222.5,287.2 2222.9,284.6 2223.3,286.8 2223.7,287 2224.1,284 2224.5,285.6 2224.9,283.4 2225.3,286.5 2225.7,283.8 2226.1,282.8 2226.5,284 2226.9,283.9 2227.3,284.9 2227.8,285.1 2228.2,281.3 2228.6,282.5 2229,284.8 2229.4,285.1 2229.8,284.2 2230.2,290 2230.6,286.5 2231,283.8 2231.4,285.6 2231.8,287 2232.2,284.7 2232.6,279.9 2233,284.1 2233.4,283.9 2233.9,288.7 2234.3,279.6 2234.7,287.3 2235.1,283.4 2235.5,285.8 2235.9,283 2236.3,284 2236.7,286.2 2237.1,283.7 2237.5,285.9 2237.9,283.2 2238.3,282.4 2238.7,282.8 2239.1,282.1 2239.5,282.9 2240,286.3 2240.4,280.4 2240.8,279.2 2241.2,282.9 2241.6,286.7 2242,285.2 2242.4,285.7 2242.8,285.5 2243.2,280.8 2243.6,282.7 2244,276.2 2244.4,280.8 2244.8,283.5 2245.2,278.4 2245.7,277.1 2246.1,278.7 2246.5,282.1 2246.9,284.1 2247.3,287.3 2247.7,284.5 2248.1,277.6 2248.5,275.6 2248.9,281.1 2249.3,283 2249.7,276.7 2250.1,279.1 2250.5,279.1 2250.9,280 2251.3,279.3 2251.8,280.8 2252.2,281.8 2252.6,279.4 2253,280.7 2253.4,283.4 2253.8,276.3 2254.2,276 2254.6,279.4 2255,282.3 2255.4,278.2 2255.8,280.2 2256.2,276.7 2256.6,279.4 2257,275.6 2257.5,278.4 2257.9,277.6 2258.3,277.4 2258.7,279.4 2259.1,278.5 2259.5,274.5 2259.9,277.7 2260.3,271.6 2260.7,277.6 2261.1,279.7 2261.5,276.2 2261.9,276 2262.3,274.8 2262.7,276.5 2263.1,273.4 2263.6,275.8 2264,273.5 2264.4,273 2264.8,274.2 2265.2,273.6 2265.6,269.6 2266,278.3 2266.4,273.7 2266.8,269.4 2267.2,275.7 2267.6,273 2268,273.5 2268.4,274.5 2268.8,270.7 2269.2,265.9 2269.7,272.4 2270.1,273.1 2270.5,274.8 2270.9,270.6 2271.3,271.7 2271.7,273.1 2272.1,271.4 2272.5,271.5 2272.9,272.6 2273.3,269.6 2273.7,275.5 2274.1,269.7 2274.5,271.9 2274.9,271 2275.4,270.1 2275.8,272.9 2276.2,274 2276.6,275 2277,273 2277.4,270.6 2277.8,273.7 2278.2,268.4 2278.6,271.9 2279,273 2279.4,273.2 2279.8,269.3 2280.2,268.6 2280.6,276 2281,271.1 2281.5,268.6 2281.9,269.7 2282.3,272.8 2282.7,275.6 2283.1,273.1 2283.5,276 2283.9,274 2284.3,274.8 2284.7,276.2 2285.1,273.2 2285.5,275 2285.9,273.7 2286.3,273.3 2286.7,275.8 2287.1,273.4 2287.6,275.7 2288,274 2288.4,275.8 2288.8,275.1 2289.2,279.1 2289.6,277 2290,277.2 2290.4,281.1 2290.8,270.9 2291.2,275.2 2291.6,271.7 2292,278.2 2292.4,279.5 2292.8,280.2 2293.3,279.5 2293.7,277.1 2294.1,285 2294.5,280.3 2294.9,279.2 2295.3,277.4 2295.7,281.1 2296.1,279.2 2296.5,279.5 2296.9,281.2 2297.3,281.4 2297.7,279.2 2298.1,284.1 2298.5,279.1 2298.9,278.9 2299.4,282.4 2299.8,282.1 2300.2,282.1 2300.6,281.1 2301,282.3 2301.4,281 2301.8,278.6 2302.2,284.2 2302.6,280.3 2303,282.2 2303.4,284.5 2303.8,282.9 2304.2,289.3 2304.6,279.8 2305.1,281.4 2305.5,283.4 2305.9,286.4 2306.3,282.8 2306.7,280.1 2307.1,286.1 2307.5,281.4 2307.9,283.1 2308.3,285.6 2308.7,282.1 2309.1,282.6 2309.5,284.8 2309.9,283.3 2310.3,284.4 2310.7,281.6 2311.2,283.6 2311.6,281.3 2312,280.3 2312.4,287.9 2312.8,285 2313.2,286 2313.6,281.7 2314,283.9 2314.4,283.5 2314.8,280.7 2315.2,285.2 2315.6,282.3 2316,283.5 2316.4,280.5 2316.8,286.3 2317.3,285.8 2317.7,284.9 2318.1,281.9 2318.5,282.8 2318.9,286.8 2319.3,283.3 2319.7,284.6 2320.1,284.3 2320.5,281.4 2320.9,287.4 2321.3,279.4 2321.7,284.4 2322.1,283.7 2322.5,280.1 2323,284.6 2323.4,285 2323.8,283.9 2324.2,281.8 2324.6,284.7 2325,286.2 2325.4,284.1 2325.8,287.5 2326.2,285.4 2326.6,285.2 2327,286.5 2327.4,281.7 2327.8,282 2328.2,284.3 2328.6,284.2 2329.1,286.4 2329.5,285.4 2329.9,283.1 2330.3,283.1 2330.7,281.8 2331.1,281.5 2331.5,281.2 2331.9,284.1 2332.3,280.8 2332.7,280.9 2333.1,281.9 2333.5,280.2 2333.9,280.7 2334.3,276 2334.8,281.7 2335.2,279.9 2335.6,280.8 2336,281 2336.4,275.7 2336.8,285.2 2337.2,279.9 2337.6,279.7 2338,274.9 2338.4,280.2 2338.8,279.5 2339.2,277.4 2339.6,278.6 2340,280.7 2340.4,276.7 2340.9,275.1 2341.3,280 2341.7,277.2 2342.1,275.9 2342.5,281.4 2342.9,276.1 2343.3,275.1 2343.7,275.8 2344.1,274 2344.5,275.2 2344.9,274.8 2345.3,272.7 2345.7,273.4 2346.1,274.5 2346.5,274.5 2347,274.8 2347.4,275.1 2347.8,273.7 2348.2,274.2 2348.6,272 2349,272.2 2349.4,275.1 2349.8,268.1 2350.2,273.4 2350.6,279.8 2351,268.2 2351.4,275.9 2351.8,268.4 2352.2,273.3 2352.7,276.2 2353.1,275.9 2353.5,270.4 2353.9,269.5 2354.3,269.3 2354.7,274.3 2355.1,271.7 2355.5,272.7 2355.9,273.3 2356.3,273.7 2356.7,274.1 2357.1,273.2 2357.5,269.3 2357.9,276.4 2358.3,266.8 2358.8,276 2359.2,271.9 2359.6,272.9 2360,272.2 2360.4,272.7 2360.8,273.6 2361.2,273.1 2361.6,271.3 2362,276 2362.4,272.8 2362.8,277.4 2363.2,274.1 2363.6,273.1 2364,275.9 2364.5,277.1 2364.9,273.2 2365.3,274.9 2365.7,279 2366.1,273.7 2366.5,274.3 2366.9,276.9 2367.3,273.9 2367.7,271.3 2368.1,273.4 2368.5,278.4 2368.9,279.3 2369.3,279.4 2369.7,279.2 2370.1,275.7 2370.6,280.4 2371,281.7 2371.4,277.7 2371.8,281.7 2372.2,279 2372.6,280.5 2373,281.1 2373.4,277.1 2373.8,284.1 2374.2,279 2374.6,280.9 2375,280.2 2375.4,282.6 2375.8,282.7 2376.2,281.9 2376.7,285.3 2377.1,282.9 2377.5,281.5 2377.9,275.9 2378.3,282 2378.7,282.1 2379.1,280.9 2379.5,270.7 2379.9,284.5 2380.3,285.7 2380.7,287.8 2381.1,286.1 2381.5,282 2381.9,284.3 2382.4,280.6 2382.8,285.5 2383.2,284.7 2383.6,282.6 2384,283.8 2384.4,283.5 2384.8,282.7 2385.2,287.3 2385.6,291.4 2386,286.2 2386.4,286.8 2386.8,284.8 2387.2,283.7 2387.6,289.5 2388,283.7 2388.5,285.5 2388.9,284.3 2389.3,286 2389.7,284.5 2390.1,286 2390.5,281.8 2390.9,276.2 2391.3,287.9 2391.7,282.4 2392.1,283.2 2392.5,287.9 2392.9,285.7 2393.3,287.3 2393.7,279.7 2394.1,285.2 2394.6,281.9 2395,281.7 2395.4,285.8 2395.8,287.6 2396.2,281.5 2396.6,282.4 2397,283.6 2397.4,284.7 2397.8,281.9 2398.2,290.2 2398.6,286.3 2399,284.2 2399.4,283.8 2399.8,290.4 2400.3,290.2 2400.7,283.9 2401.1,285.8 2401.5,287.9 2401.9,282.3 2402.3,283.7 2402.7,288.2 2403.1,283.5 2403.5,284.1 2403.9,282 2404.3,283.3 2404.7,286.7 2405.1,283.2 2405.5,282.1 2405.9,283.6 2406.4,289.2 2406.8,285.5 2407.2,283.8 2407.6,285.4 2408,286.1 2408.4,285.4 2408.8,280.9 2409.2,285.8 2409.6,284.6 2410,287.1 2410.4,282 2410.8,287.5 2411.2,284 2411.6,281.2 2412.1,288.2 2412.5,283.9 2412.9,286" fill="none" stroke="#4d4d4d" stroke-width="5.2" stroke-linejoin="round" stroke-linecap="butt" />
<polyline points="1463.7,412.3 1464.1,416 1464.5,415 1464.9,414.9 1465.3,418 1465.7,408.1 1466.1,410.2 1466.5,407.7 1467,412 1467.4,415.9 1467.8,412.3 1468.2,414.1 1468.6,405.7 1469,412.9 1469.4,409.2 1469.8,418.6 1470.2,415.5 1470.6,415.7 1471,412.2 1471.4,414.5 1471.8,414.7 1472.2,411.1 1472.7,410.6 1473.1,412 1473.5,410.2 1473.9,410.3 1474.3,411.4 1474.7,409.8 1475.1,415 1475.5,406.8 1475.9,415.2 1476.3,410.2 1476.7,410.4 1477.1,407.6 1477.5,411.8 1477.9,411.5 1478.3,413 1478.8,410.5 1479.2,412.7 1479.6,418.7 1480,413.8 1480.4,410.3 1480.8,415.7 1481.2,411.9 1481.6,414.4 1482,414.5 1482.4,411 1482.8,405.6 1483.2,411.1 1483.6,414.3 1484,411 1484.4,413.9 1484.9,415.8 1485.3,410.4 1485.7,430.1 1486.1,418 1486.5,416.1 1486.9,416.4 1487.3,416.2 1487.7,420.2 1488.1,413 1488.5,412.3 1488.9,414.4 1489.3,409.1 1489.7,406.9 1490.1,409.2 1490.6,413.6 1491,414 1491.4,406.9 1491.8,405.7 1492.2,411.2 1492.6,411.7 1493,412.1 1493.4,414.7 1493.8,416.6 1494.2,413.1 1494.6,414.5 1495,408.5 1495.4,408.2 1495.8,413.1 1496.2,414.6 1496.7,414.9 1497.1,414.4 1497.5,415.1 1497.9,415.1 1498.3,406.2 1498.7,409.7 1499.1,413.9 1499.5,414.4 1499.9,407 1500.3,416.4 1500.7,410.8 1501.1,411.5 1501.5,413.3 1501.9,414.9 1502.4,407.3 1502.8,415.8 1503.2,412.6 1503.6,409.6 1504,411.3 1504.4,404.6 1504.8,410 1505.2,412.9 1505.6,409.8 1506,411.1 1506.4,411.8 1506.8,412.4 1507.2,415.8 1507.6,412.2 1508,411.4 1508.5,414.1 1508.9,419.5 1509.3,411.1 1509.7,414 1510.1,406.7 1510.5,417 1510.9,414.6 1511.3,416.9 1511.7,412 1512.1,408.6 1512.5,415.3 1512.9,414.9 1513.3,409.2 1513.7,407.1 1514.1,413.8 1514.6,411.6 1515,421.4 1515.4,406.6 1515.8,410.4 1516.2,411.8 1516.6,406.4 1517,409.1 1517.4,417.9 1517.8,411.7 1518.2,400.9 1518.6,407.7 1519,414.2 1519.4,414.5 1519.8,413.1 1520.3,410.8 1520.7,413.2 1521.1,413.5 1521.5,405.8 1521.9,414.3 1522.3,404.7 1522.7,407.6 1523.1,411 1523.5,411.7 1523.9,408 1524.3,413.2 1524.7,415.8 1525.1,413.6 1525.5,412.8 1525.9,414.9 1526.4,413.4 1526.8,408 1527.2,411.3 1527.6,416.5 1528,408 1528.4,412.2 1528.8,410.6 1529.2,408.8 1529.6,408.4 1530,412.3 1530.4,413 1530.8,413 1531.2,406.8 1531.6,410.9 1532,413.1 1532.5,415.2 1532.9,414.2 1533.3,414.7 1533.7,415.7 1534.1,414.7 1534.5,408.9 1534.9,412 1535.3,409.3 1535.7,403.4 1536.1,405.8 1536.5,419 1536.9,407.8 1537.3,403.8 1537.7,409.6 1538.2,417 1538.6,411.5 1539,413 1539.4,410.6 1539.8,411.3 1540.2,416 1540.6,414.3 1541,411.2 1541.4,414.6 1541.8,415.2 1542.2,410.6 1542.6,412.3 1543,412.3 1543.4,409 1543.8,415.3 1544.3,410.7 1544.7,409.1 1545.1,405.4 1545.5,406.8 1545.9,416.5 1546.3,407.2 1546.7,412.6 1547.1,409.8 1547.5,412.9 1547.9,413.1 1548.3,408.3 1548.7,410 1549.1,411.3 1549.5,411.3 1550,410.8 1550.4,409.7 1550.8,413 1551.2,415.4 1551.6,412.6 1552,408.1 1552.4,412.1 1552.8,410.9 1553.2,412.2 1553.6,417 1554,409.8 1554.4,410.4 1554.8,407.3 1555.2,409.4 1555.6,408.4 1556.1,415.9 1556.5,411.4 1556.9,408.3 1557.3,417 1557.7,405.5 1558.1,413.2 1558.5,413.7 1558.9,412.1 1559.3,409.1 1559.7,409.5 1560.1,408.7 1560.5,412.6 1560.9,401.7 1561.3,408 1561.7,410.3 1562.2,407.7 1562.6,403.3 1563,408.8 1563.4,406.9 1563.8,412.3 1564.2,414.4 1564.6,409.7 1565,402.6 1565.4,408.7 1565.8,406.1 1566.2,411.7 1566.6,415.1 1567,410.3 1567.4,416.3 1567.9,414.4 1568.3,411.5 1568.7,406 1569.1,409.7 1569.5,404.2 1569.9,412.9 1570.3,409.7 1570.7,414 1571.1,410.2 1571.5,402.4 1571.9,411.4 1572.3,412.4 1572.7,414.9 1573.1,405.6 1573.5,405.8 1574,409.2 1574.4,405.2 1574.8,404.1 1575.2,405 1575.6,417.8 1576,406.5 1576.4,405.1 1576.8,407 1577.2,408.5 1577.6,413 1578,411.7 1578.4,411.1 1578.8,408.5 1579.2,408.9 1579.7,406 1580.1,403 1580.5,415.3 1580.9,406.6 1581.3,411.7 1581.7,407 1582.1,407.8 1582.5,407.5 1582.9,403.2 1583.3,407.7 1583.7,409.3 1584.1,410.8 1584.5,409.6 1584.9,411.4 1585.3,408.9 1585.8,407.8 1586.2,400.9 1586.6,405.9 1587,413.2 1587.4,408.1 1587.8,410.5 1588.2,406.9 1588.6,405.3 1589,414.8 1589.4,408.9 1589.8,412.8 1590.2,409.5 1590.6,406.6 1591,399.7 1591.4,407.9 1591.9,402.1 1592.3,399.8 1592.7,411.9 1593.1,410.1 1593.5,409.8 1593.9,407.7 1594.3,407.4 1594.7,409 1595.1,408.1 1595.5,407.8 1595.9,410.1 1596.3,398.9 1596.7,410.6 1597.1,405.3 1597.6,410.5 1598,411.6 1598.4,404.5 1598.8,410.3 1599.2,410.2 1599.6,405 1600,405.6 1600.4,407.8 1600.8,399.6 1601.2,405.8 1601.6,408 1602,405.8 1602.4,401.8 1602.8,406 1603.2,412.7 1603.7,412.1 1604.1,407 1604.5,404.6 1604.9,407.4 1605.3,407.5 1605.7,405.1 1606.1,406.3 1606.5,409.7 1606.9,410.8 1607.3,399 1607.7,411 1608.1,408.1 1608.5,411.6 1608.9,407.6 1609.3,409.2 1609.8,413.4 1610.2,397.3 1610.6,413.3 1611,408.4 1611.4,401.4 1611.8,398.4 1612.2,408.9 1612.6,404.2 1613,411.4 1613.4,408.6 1613.8,407.4 1614.2,411.4 1614.6,408.6 1615,410.5 1615.5,410.9 1615.9,409.1 1616.3,410.8 1616.7,410.8 1617.1,399.6 1617.5,407.1 1617.9,407.7 1618.3,406.8 1618.7,402.6 1619.1,406.2 1619.5,409.3 1619.9,408.8 1620.3,413.5 1620.7,406.1 1621.1,406.7 1621.6,406.2 1622,407.1 1622.4,406.1 1622.8,401.7 1623.2,409.5 1623.6,411.8 1624,412.2 1624.4,404.5 1624.8,407.6 1625.2,414.8 1625.6,408 1626,409.6 1626.4,407.8 1626.8,411.9 1627.3,411.7 1627.7,416.5 1628.1,410.1 1628.5,409.9 1628.9,404.1 1629.3,406.9 1629.7,405.9 1630.1,407.2 1630.5,403.7 1630.9,412.5 1631.3,404.6 1631.7,409.2 1632.1,403.8 1632.5,409.4 1632.9,414 1633.4,405.3 1633.8,409.4 1634.2,407.9 1634.6,409.1 1635,409.5 1635.4,405.8 1635.8,407.3 1636.2,405.9 1636.6,405 1637,403.5 1637.4,411.1 1637.8,405.1 1638.2,410 1638.6,409.5 1639,404.1 1639.5,411.1 1639.9,404.4 1640.3,409.5 1640.7,412.3 1641.1,404.7 1641.5,403.8 1641.9,403.7 1642.3,414.8 1642.7,405.5 1643.1,402.3 1643.5,409.4 1643.9,405.8 1644.3,406.2 1644.7,402.7 1645.2,398.3 1645.6,403.3 1646,402 1646.4,399.9 1646.8,401.6 1647.2,401.8 1647.6,407.7 1648,407.2 1648.4,406.3 1648.8,402.4 1649.2,399.7 1649.6,404.8 1650,405 1650.4,406.6 1650.8,402.7 1651.3,402 1651.7,403.1 1652.1,398.5 1652.5,398.4 1652.9,402.9 1653.3,395.9 1653.7,399.3 1654.1,401.6 1654.5,399.1 1654.9,399 1655.3,392.9 1655.7,395.3 1656.1,393.8 1656.5,395.7 1657,393.9 1657.4,391.2 1657.8,396 1658.2,389.9 1658.6,385.3 1659,382.3 1659.4,382.2 1659.8,378.1 1660.2,383 1660.6,376.8 1661,371 1661.4,366.8 1661.8,362.1 1662.2,361.2 1662.6,362.6 1663.1,357.1 1663.5,350 1663.9,346.2 1664.3,335.2 1664.7,338.8 1665.1,330.7 1665.5,330.8 1665.9,320.6 1666.3,314.4 1666.7,311.4 1667.1,303.5 1667.5,304.6 1667.9,296.4 1668.3,292.1 1668.7,287.7 1669.2,281.8 1669.6,281.1 1670,277.6 1670.4,280.5 1670.8,274.3 1671.2,275 1671.6,273 1672,274.6 1672.4,277 1672.8,284.6 1673.2,284.5 1673.6,291.2 1674,292.1 1674.4,296.7 1674.9,297.4 1675.3,310.6 1675.7,319.6 1676.1,318.6 1676.5,328.8 1676.9,332.6 1677.3,333.7 1677.7,343 1678.1,343.5 1678.5,350.1 1678.9,358.9 1679.3,360.5 1679.7,361.2 1680.1,372.2 1680.5,369.4 1681,375.5 1681.4,378.4 1681.8,382.1 1682.2,383.3 1682.6,384.1 1683,395.7 1683.4,390.9 1683.8,393.3 1684.2,391.4 1684.6,399.8 1685,404.7 1685.4,406.6 1685.8,411.6 1686.2,409.8 1686.6,408.4 1687.1,408.7 1687.5,413.4 1687.9,410.8 1688.3,412.3 1688.7,410.4 1689.1,413.9 1689.5,419.3 1689.9,415.1 1690.3,417 1690.7,410.8 1691.1,427.2 1691.5,418.8 1691.9,421.9 1692.3,419.7 1692.8,417.5 1693.2,416.8 1693.6,421.8 1694,420.9 1694.4,419.1 1694.8,421.7 1695.2,420.7 1695.6,424.6 1696,421.9 1696.4,420.3 1696.8,423.4 1697.2,422.5 1697.6,427.6 1698,423.3 1698.4,421.6 1698.9,424.8 1699.3,424.6 1699.7,426 1700.1,426.1 1700.5,423.4 1700.9,425.9 1701.3,426 1701.7,423.6 1702.1,425.3 1702.5,427.2 1702.9,423.2 1703.3,424.6 1703.7,426.1 1704.1,427.2 1704.6,428.7 1705,424.5 1705.4,428.4 1705.8,429.3 1706.2,431.6 1706.6,427.1 1707,426.1 1707.4,424.8 1707.8,429.7 1708.2,431.5 1708.6,427 1709,429.8 1709.4,430.8 1709.8,431.1 1710.2,428.1 1710.7,430.6 1711.1,429.1 1711.5,427.1 1711.9,430 1712.3,430.3 1712.7,427.4 1713.1,430.7 1713.5,434.3 1713.9,426.3 1714.3,431.5 1714.7,432 1715.1,430.1 1715.5,430.8 1715.9,429.5 1716.3,433.2 1716.8,428 1717.2,429.9 1717.6,425.7 1718,431 1718.4,431.1 1718.8,426.4 1719.2,428.3 1719.6,431.4 1720,429.2 1720.4,427.6 1720.8,424.7 1721.2,431.2 1721.6,434.9 1722,429.4 1722.5,431.5 1722.9,431.5 1723.3,430.3 1723.7,430.8 1724.1,430.8 1724.5,428.6 1724.9,436.4 1725.3,436.9 1725.7,431.4 1726.1,434.8 1726.5,428.8 1726.9,430.2 1727.3,433.4 1727.7,428.1 1728.1,427.8 1728.6,431.6 1729,426.3 1729.4,434.8 1729.8,432.6 1730.2,431.5 1730.6,432.5 1731,428.9 1731.4,428.8 1731.8,432.9 1732.2,433.2 1732.6,431.4 1733,431 1733.4,429.9 1733.8,434.3 1734.3,427.7 1734.7,429.2 1735.1,429.9 1735.5,427.7 1735.9,428.1 1736.3,428.8 1736.7,433.5 1737.1,435.4 1737.5,432 1737.9,427.5 1738.3,429.9 1738.7,430.9 1739.1,430.7 1739.5,430.4 1739.9,432.5 1740.4,426.8 1740.8,430 1741.2,431.8 1741.6,433 1742,432 1742.4,431.4 1742.8,431 1743.2,429.8 1743.6,431.6 1744,430.9 1744.4,429.8 1744.8,434.2 1745.2,434.2 1745.6,430.6 1746,432.9 1746.5,434.2 1746.9,432.1 1747.3,431.8 1747.7,432.6 1748.1,427.7 1748.5,428.2 1748.9,432.7 1749.3,432.2 1749.7,434.7 1750.1,430.4 1750.5,434.1 1750.9,434 1751.3,436.1 1751.7,429.7 1752.2,430.8 1752.6,432.2 1753,432.2 1753.4,429.3 1753.8,430.3 1754.2,428.6 1754.6,436.9 1755,431.4 1755.4,431.6 1755.8,430.2 1756.2,431.7 1756.6,433.4 1757,430.8 1757.4,431.5 1757.8,436.6 1758.3,433.7 1758.7,432.2 1759.1,430.6 1759.5,431.6 1759.9,429.9 1760.3,432.2 1760.7,430.1 1761.1,429.9 1761.5,430.7 1761.9,429.1 1762.3,432 1762.7,437.4 1763.1,430.1 1763.5,427.7 1764,433.7 1764.4,431.3 1764.8,436.1 1765.2,432.4 1765.6,433.6 1766,429.7 1766.4,427.8 1766.8,431 1767.2,433 1767.6,429.5 1768,427.8 1768.4,430 1768.8,430.4 1769.2,430.6 1769.6,431.3 1770.1,436.9 1770.5,431.4 1770.9,430.2 1771.3,428.9 1771.7,433.2 1772.1,427.7 1772.5,434.6 1772.9,431.3 1773.3,427.9 1773.7,431.7 1774.1,431 1774.5,434.1 1774.9,427.9 1775.3,431.7 1775.7,431.2 1776.2,433.4 1776.6,428.7 1777,429.5 1777.4,435.8 1777.8,432.5 1778.2,427.9 1778.6,432 1779,429.4 1779.4,429.6 1779.8,428.4 1780.2,433.5 1780.6,430 1781,431.6 1781.4,431.4 1781.9,427.7 1782.3,429.5 1782.7,432.9 1783.1,427.6 1783.5,431.7 1783.9,430.9 1784.3,432.6 1784.7,432.7 1785.1,436.2 1785.5,431.2 1785.9,431.7 1786.3,429.5 1786.7,429.8 1787.1,433.1 1787.5,429.7 1788,433.4 1788.4,433.4 1788.8,429.2 1789.2,432.3 1789.6,429.2 1790,431.8 1790.4,429.2 1790.8,431.8 1791.2,431.4 1791.6,428.6 1792,435.7 1792.4,433.2 1792.8,427.3 1793.2,431.7 1793.6,429.9 1794.1,435.6 1794.5,430.8 1794.9,431.8 1795.3,430.5 1795.7,432.3 1796.1,429.6 1796.5,428.8 1796.9,429.7 1797.3,429.8 1797.7,432.2 1798.1,431 1798.5,429.7 1798.9,429.8 1799.3,428.6 1799.8,431 1800.2,426 1800.6,430.1 1801,433.3 1801.4,429.8 1801.8,429.1 1802.2,430.6 1802.6,428.4 1803,428.7 1803.4,432 1803.8,428.9 1804.2,434.9 1804.6,431.3 1805,430.1 1805.4,428.8 1805.9,429.6 1806.3,425 1806.7,430.7 1807.1,432.1 1807.5,431.4 1807.9,429 1808.3,431.3 1808.7,431.3 1809.1,429.5 1809.5,430.6 1809.9,432.1 1810.3,430.7 1810.7,428.7 1811.1,429.5 1811.6,429.7 1812,425.6 1812.4,429.5 1812.8,428.8 1813.2,424 1813.6,425 1814,432.9 1814.4,428.9 1814.8,431.6 1815.2,427.6 1815.6,431.8 1816,429.5 1816.4,426.4 1816.8,428.5 1817.2,431.3 1817.7,433 1818.1,428.5 1818.5,426.1 1818.9,424.9 1819.3,428.3 1819.7,429 1820.1,426.6 1820.5,425.8 1820.9,427.6 1821.3,426.6 1821.7,420.4 1822.1,421.4 1822.5,423.8 1822.9,428.6 1823.3,423.9 1823.8,424 1824.2,424.1 1824.6,422.2 1825,423.1 1825.4,423.4 1825.8,420 1826.2,421.8 1826.6,419.8 1827,423.6 1827.4,418.8 1827.8,419.6 1828.2,415.4 1828.6,415.2 1829,417.6 1829.5,415.1 1829.9,416 1830.3,416.7 1830.7,416.9 1831.1,411.8 1831.5,414 1831.9,415.3 1832.3,411.7 1832.7,409.6 1833.1,410.4 1833.5,415.1 1833.9,410.8 1834.3,413.7 1834.7,408.8 1835.1,411.7 1835.6,405 1836,407.2 1836.4,407.4 1836.8,410.6 1837.2,407.1 1837.6,408.1 1838,404 1838.4,403.5 1838.8,406.9 1839.2,406.8 1839.6,406 1840,405.5 1840.4,401.2 1840.8,407.1 1841.3,402.3 1841.7,404.6 1842.1,403.2 1842.5,397.3 1842.9,396.8 1843.3,397.5 1843.7,401.1 1844.1,403.9 1844.5,400.8 1844.9,403.5 1845.3,398.9 1845.7,400.5 1846.1,400.2 1846.5,402.6 1846.9,400.3 1847.4,403.1 1847.8,405.1 1848.2,403.1 1848.6,402.6 1849,404.1 1849.4,402.9 1849.8,403.8 1850.2,408.6 1850.6,408.1 1851,404.6 1851.4,410.2 1851.8,410.2 1852.2,411.6 1852.6,411.8 1853,413.2 1853.5,411.5 1853.9,412.2 1854.3,412.2 1854.7,415.9 1855.1,416 1855.5,418.7 1855.9,417.8 1856.3,413.9 1856.7,412.9 1857.1,413.7 1857.5,415.4 1857.9,419.4 1858.3,415.3 1858.7,414.3 1859.2,419.1 1859.6,421.8 1860,422.2 1860.4,424.7 1860.8,421.2 1861.2,420.5 1861.6,421.4 1862,419.5 1862.4,421.4 1862.8,426.3 1863.2,428.5 1863.6,426.9 1864,425 1864.4,424.1 1864.8,425.5 1865.3,420.9 1865.7,426.8 1866.1,427.6 1866.5,425.7 1866.9,426.3 1867.3,422.6 1867.7,428.6 1868.1,428.8 1868.5,420.8 1868.9,426 1869.3,428.3 1869.7,431.6 1870.1,425.9 1870.5,427.9 1870.9,431.6 1871.4,429.4 1871.8,428 1872.2,427.6 1872.6,428.8 1873,427 1873.4,431.3 1873.8,427.1 1874.2,430.5 1874.6,431.4 1875,432.2 1875.4,429.8 1875.8,429.6 1876.2,430.5 1876.6,430 1877.1,432.4 1877.5,429.7 1877.9,434.5 1878.3,436.6 1878.7,428.7 1879.1,431.2 1879.5,427.6 1879.9,432.1 1880.3,431.3 1880.7,429.9 1881.1,428 1881.5,430.5 1881.9,435.2 1882.3,434.3 1882.7,431.7 1883.2,429.2 1883.6,430.6 1884,428.8 1884.4,427.6 1884.8,428.5 1885.2,432.1 1885.6,431.5 1886,431.2 1886.4,428.2 1886.8,427.6 1887.2,433.2 1887.6,430 1888,433.6 1888.4,429.2 1888.9,433.2 1889.3,431.5 1889.7,429.9 1890.1,430 1890.5,435.4 1890.9,433.1 1891.3,430.4 1891.7,431.4 1892.1,427.5 1892.5,435 1892.9,434.3 1893.3,430.2 1893.7,432.2 1894.1,424.7 1894.5,433.4 1895,432.2 1895.4,431.8 1895.8,433.1 1896.2,431.9 1896.6,428.9 1897,429.6 1897.4,430.7 1897.8,433.3 1898.2,431.2 1898.6,429.6 1899,432 1899.4,428.3 1899.8,436 1900.2,431.9 1900.6,428.9 1901.1,431.6 1901.5,433.7 1901.9,432.5 1902.3,435.9 1902.7,428 1903.1,434.9 1903.5,431.2 1903.9,433.3 1904.3,435.2 1904.7,428.5 1905.1,428 1905.5,430.4 1905.9,427.4 1906.3,426.6 1906.8,431.5 1907.2,434 1907.6,430.2 1908,432.5 1908.4,439.8 1908.8,432.1 1909.2,430.6 1909.6,431 1910,432.3 1910.4,430.7 1910.8,432.9 1911.2,431.9 1911.6,433.5 1912,431.7 1912.4,431.2 1912.9,429.2 1913.3,428.2 1913.7,430.7 1914.1,430.5 1914.5,432 1914.9,431.2 1915.3,430.5 1915.7,436.6 1916.1,432.1 1916.5,434.2 1916.9,429 1917.3,433.7 1917.7,434.1 1918.1,432.4 1918.6,429.3 1919,434.3 1919.4,429.7 1919.8,427.8 1920.2,427.6 1920.6,431.5 1921,430.2 1921.4,433.2 1921.8,432.9 1922.2,434.5 1922.6,428.6 1923,431.6 1923.4,431.3 1923.8,429.5 1924.2,429.4 1924.7,429.6 1925.1,431.8 1925.5,429.3 1925.9,431.1 1926.3,433.8 1926.7,425.7 1927.1,429.1 1927.5,428.9 1927.9,431.2 1928.3,427.8 1928.7,429.6 1929.1,436.5 1929.5,428 1929.9,431 1930.3,431.6 1930.8,430.4 1931.2,428.3 1931.6,433.4 1932,426.7 1932.4,428.8 1932.8,430.5 1933.2,429.6 1933.6,433.7 1934,430.2 1934.4,435.4 1934.8,430.9 1935.2,434.5 1935.6,431.8 1936,430.3 1936.5,430.2 1936.9,433.2 1937.3,429.5 1937.7,430.7 1938.1,428.9 1938.5,426 1938.9,431.9 1939.3,432.1 1939.7,427.9 1940.1,431.7 1940.5,430 1940.9,426.2 1941.3,428.4 1941.7,432.1 1942.1,432.9 1942.6,431.4 1943,436.9 1943.4,431.3 1943.8,428.7 1944.2,427 1944.6,433.8 1945,429.3 1945.4,429.5 1945.8,428.4 1946.2,428.4 1946.6,429.4 1947,431.3 1947.4,431.5 1947.8,431 1948.2,432.3 1948.7,429 1949.1,427.7 1949.5,429.9 1949.9,425.2 1950.3,431.9 1950.7,425.3 1951.1,431.1 1951.5,427.3 1951.9,428.6 1952.3,429.7 1952.7,427.3 1953.1,427 1953.5,429 1953.9,429.7 1954.4,427.8 1954.8,431.6 1955.2,434.3 1955.6,430.4 1956,428.5 1956.4,428.1 1956.8,432.4 1957.2,429.3 1957.6,429.9 1958,428.8 1958.4,426.8 1958.8,431.5 1959.2,427.2 1959.6,428 1960,422.4 1960.5,432.2 1960.9,428.7 1961.3,426.4 1961.7,424.5 1962.1,424.6 1962.5,421.8 1962.9,426.4 1963.3,422.9 1963.7,425.5 1964.1,425.1 1964.5,428 1964.9,423.5 1965.3,423.1 1965.7,423 1966.2,419.7 1966.6,419.9 1967,420.4 1967.4,421.5 1967.8,419.7 1968.2,416.5 1968.6,418.9 1969,414.2 1969.4,410.5 1969.8,416.5 1970.2,412.8 1970.6,409.4 1971,406.4 1971.4,406.8 1971.8,410.4 1972.3,404.9 1972.7,408.8 1973.1,400 1973.5,403.3 1973.9,399.3 1974.3,396.7 1974.7,395.4 1975.1,394.4 1975.5,390.8 1975.9,389.5 1976.3,392 1976.7,393 1977.1,389.6 1977.5,388.6 1977.9,385.8 1978.4,395.1 1978.8,389.7 1979.2,384.5 1979.6,387.5 1980,386.9 1980.4,384.8 1980.8,393.6 1981.2,392.6 1981.6,391.6 1982,395.3 1982.4,392 1982.8,395.2 1983.2,399 1983.6,396.7 1984.1,399.5 1984.5,398 1984.9,403.2 1985.3,405.9 1985.7,402.4 1986.1,404.2 1986.5,407.3 1986.9,412 1987.3,408.9 1987.7,409.4 1988.1,412.3 1988.5,416.3 1988.9,411.2 1989.3,415.4 1989.7,419.8 1990.2,417.6 1990.6,417.9 1991,421.4 1991.4,417.4 1991.8,425.7 1992.2,422.7 1992.6,421.3 1993,423 1993.4,423.2 1993.8,423.2 1994.2,421.5 1994.6,424.2 1995,422.6 1995.4,428.7 1995.9,423.3 1996.3,424.5 1996.7,424.6 1997.1,428.4 1997.5,426.5 1997.9,430.5 1998.3,426.3 1998.7,427.9 1999.1,427.6 1999.5,427.1 1999.9,430.7 2000.3,431.1 2000.7,431.4 2001.1,425.3 2001.5,429.4 2002,426.1 2002.4,426.2 2002.8,424.7 2003.2,426.8 2003.6,430.4 2004,432.4 2004.4,433.2 2004.8,427.2 2005.2,427.9 2005.6,430 2006,429.8 2006.4,430 2006.8,425.6 2007.2,429.2 2007.6,431 2008.1,430.3 2008.5,429.5 2008.9,428.1 2009.3,429.6 2009.7,433.6 2010.1,431.1 2010.5,432.4 2010.9,433.8 2011.3,427.5 2011.7,431.6 2012.1,431.1 2012.5,433.1 2012.9,429.6 2013.3,429.6 2013.8,428.6 2014.2,430.6 2014.6,429.5 2015,429.8 2015.4,431 2015.8,429.3 2016.2,428.1 2016.6,429.3 2017,429 2017.4,431.2 2017.8,433.1 2018.2,429.5 2018.6,424.6 2019,431.6 2019.4,430.1 2019.9,428.1 2020.3,429.7 2020.7,434.5 2021.1,426.8 2021.5,427.6 2021.9,430.1 2022.3,423.1 2022.7,429.2 2023.1,432.5 2023.5,431.5 2023.9,431.1 2024.3,429.5 2024.7,429.9 2025.1,436.5 2025.5,430.8 2026,433.3 2026.4,427.3 2026.8,430.7 2027.2,431 2027.6,430.5 2028,425.1 2028.4,429.1 2028.8,433.4 2029.2,431.3 2029.6,428.2 2030,432 2030.4,425.7 2030.8,431.3 2031.2,430.7 2031.7,428.5 2032.1,427.5 2032.5,426 2032.9,429.2 2033.3,433.7 2033.7,431.6 2034.1,430.5 2034.5,431.6 2034.9,428.1 2035.3,430.6 2035.7,422.6 2036.1,428.1 2036.5,428 2036.9,428.8 2037.3,428.5 2037.8,430.1 2038.2,427.2 2038.6,430.6 2039,427.8 2039.4,430.2 2039.8,428.3 2040.2,429.8 2040.6,428.7 2041,426 2041.4,427.6 2041.8,424 2042.2,426.9 2042.6,427.4 2043,425.6 2043.5,425.6 2043.9,427.9 2044.3,428.1 2044.7,428.3 2045.1,423.3 2045.5,423.3 2045.9,425.7 2046.3,425.5 2046.7,418.9 2047.1,427.2 2047.5,424.9 2047.9,418.9 2048.3,423.9 2048.7,419.8 2049.1,420 2049.6,417.5 2050,417.3 2050.4,417.7 2050.8,418.2 2051.2,414.9 2051.6,416.7 2052,414.6 2052.4,414.4 2052.8,413 2053.2,412.9 2053.6,417.4 2054,409.4 2054.4,409.4 2054.8,411.6 2055.2,410 2055.7,408.1 2056.1,410.8 2056.5,406.5 2056.9,408.6 2057.3,410.2 2057.7,408.7 2058.1,406.2 2058.5,406.3 2058.9,406.2 2059.3,406.6 2059.7,402.5 2060.1,407.2 2060.5,405.5 2060.9,407.7 2061.4,404.9 2061.8,404.9 2062.2,395.4 2062.6,400.8 2063,405.7 2063.4,402 2063.8,399.7 2064.2,402 2064.6,400.3 2065,400.7 2065.4,397.8 2065.8,400.3 2066.2,402.3 2066.6,399 2067,399.1 2067.5,396.1 2067.9,398.5 2068.3,396.1 2068.7,393.5 2069.1,395.3 2069.5,395.4 2069.9,396.9 2070.3,397.5 2070.7,394.5 2071.1,393.8 2071.5,395.9 2071.9,392.1 2072.3,393.3 2072.7,393.4 2073.2,393.5 2073.6,392.5 2074,397.7 2074.4,396.2 2074.8,393.9 2075.2,391.2 2075.6,393.7 2076,396.7 2076.4,391.3 2076.8,402.1 2077.2,396.9 2077.6,397.7 2078,400 2078.4,396.1 2078.8,400.4 2079.3,401.2 2079.7,403.8 2080.1,400.8 2080.5,405.6 2080.9,407.9 2081.3,406.9 2081.7,406 2082.1,406.3 2082.5,405.1 2082.9,408.9 2083.3,412.4 2083.7,415.7 2084.1,415.6 2084.5,416.9 2084.9,413.9 2085.4,414.9 2085.8,413.2 2086.2,416 2086.6,415.7 2087,418.5 2087.4,421.4 2087.8,420.2 2088.2,420.4 2088.6,423.4 2089,425.9 2089.4,425.5 2089.8,419.6 2090.2,428 2090.6,423.4 2091.1,421.6 2091.5,424.5 2091.9,428 2092.3,419.9 2092.7,427.1 2093.1,425.4 2093.5,428.3 2093.9,424.1 2094.3,426.3 2094.7,425.2 2095.1,430.7 2095.5,426.4 2095.9,429.2 2096.3,427 2096.7,424.9 2097.2,430.9 2097.6,431.7 2098,432.6 2098.4,427.9 2098.8,429.4 2099.2,431 2099.6,430.3 2100,430.1 2100.4,435.1 2100.8,428.8 2101.2,431.9 2101.6,428.7 2102,433.2 2102.4,429.4 2102.9,427.8 2103.3,431.9 2103.7,430.3 2104.1,429.3 2104.5,429.7 2104.9,428.9 2105.3,431.5 2105.7,431.1 2106.1,434.3 2106.5,428.9 2106.9,433.8 2107.3,431.8 2107.7,427.3 2108.1,434 2108.5,426.5 2109,431.8 2109.4,426.3 2109.8,431.3 2110.2,429.8 2110.6,430.1 2111,426.3 2111.4,429 2111.8,433.5 2112.2,432.3 2112.6,430.7 2113,430.6 2113.4,429.4 2113.8,434.3 2114.2,430.9 2114.6,433.5 2115.1,427.6 2115.5,427.5 2115.9,434.2 2116.3,429.1 2116.7,430.7 2117.1,432.2 2117.5,433.3 2117.9,432.6 2118.3,432.5 2118.7,435 2119.1,431.8 2119.5,433.3 2119.9,431.3 2120.3,431.6 2120.8,435.7 2121.2,430.7 2121.6,425.4 2122,431.5 2122.4,431.7 2122.8,435.5 2123.2,430.4 2123.6,428.6 2124,431.6 2124.4,435.6 2124.8,430.5 2125.2,434.2 2125.6,432.5 2126,432.8 2126.4,429.3 2126.9,431.4 2127.3,429.4 2127.7,431.3 2128.1,429.6 2128.5,433.8 2128.9,430 2129.3,430.7 2129.7,426 2130.1,428.9 2130.5,436.8 2130.9,430.2 2131.3,427.4 2131.7,431.1 2132.1,430.6 2132.5,429.9 2133,430.4 2133.4,430 2133.8,433.3 2134.2,428.3 2134.6,431.6 2135,433 2135.4,429 2135.8,436.3 2136.2,431.2 2136.6,430.8 2137,429.8 2137.4,432.9 2137.8,427.3 2138.2,432.4 2138.7,436.2 2139.1,431.8 2139.5,433 2139.9,428.9 2140.3,432.9 2140.7,429.3 2141.1,430 2141.5,431 2141.9,435.5 2142.3,429.7 2142.7,426.5 2143.1,431.3 2143.5,432.8 2143.9,432.5 2144.3,431.5 2144.8,434.2 2145.2,433 2145.6,432.9 2146,430 2146.4,427.5 2146.8,434.7 2147.2,428.9 2147.6,433.9 2148,433 2148.4,428.1 2148.8,429.3 2149.2,431.7 2149.6,433 2150,427 2150.5,430 2150.9,428.2 2151.3,427.7 2151.7,430.7 2152.1,429.3 2152.5,425.7 2152.9,431.3 2153.3,429.3 2153.7,429.2 2154.1,427 2154.5,431.7 2154.9,430.6 2155.3,430.5 2155.7,429.6 2156.1,430.5 2156.6,433.2 2157,429.8 2157.4,429.8 2157.8,428.1 2158.2,430.5 2158.6,428.3 2159,427 2159.4,431.2 2159.8,428 2160.2,426.2 2160.6,426.3 2161,426.5 2161.4,421 2161.8,430.7 2162.2,428.4 2162.7,423.7 2163.1,429.3 2163.5,425.4 2163.9,426.6 2164.3,424.8 2164.7,426.3 2165.1,425.9 2165.5,426.5 2165.9,426.3 2166.3,418 2166.7,422.4 2167.1,423.1 2167.5,422.3 2167.9,418.9 2168.4,421 2168.8,421 2169.2,416.2 2169.6,418.5 2170,421.7 2170.4,417.8 2170.8,418.7 2171.2,418.6 2171.6,419.3 2172,419.4 2172.4,419.7 2172.8,417.1 2173.2,416.8 2173.6,415.6 2174,416 2174.5,414.8 2174.9,416.4 2175.3,415.9 2175.7,410.8 2176.1,408.4 2176.5,414.3 2176.9,411.8 2177.3,409.2 2177.7,414.7 2178.1,415.8 2178.5,409.5 2178.9,409.9 2179.3,410.4 2179.7,410.1 2180.2,411.7 2180.6,409.5 2181,412.1 2181.4,411.4 2181.8,414.9 2182.2,412.5 2182.6,415 2183,416.7 2183.4,414.7 2183.8,415.4 2184.2,413.1 2184.6,414.7 2185,420.3 2185.4,418.6 2185.8,410.3 2186.3,415.4 2186.7,416.4 2187.1,419.8 2187.5,413 2187.9,418.8 2188.3,415.6 2188.7,422.4 2189.1,416.3 2189.5,422.1 2189.9,419.8 2190.3,421 2190.7,425.2 2191.1,421.8 2191.5,423.8 2191.9,423.5 2192.4,420.3 2192.8,423.3 2193.2,426.1 2193.6,425 2194,425 2194.4,423.2 2194.8,428.8 2195.2,424.2 2195.6,430 2196,426.6 2196.4,428 2196.8,423.4 2197.2,427.2 2197.6,425 2198.1,427.6 2198.5,430.4 2198.9,428.7 2199.3,428.6 2199.7,430.5 2200.1,425.6 2200.5,428.8 2200.9,427.3 2201.3,431.5 2201.7,427.4 2202.1,432.9 2202.5,434.1 2202.9,424.5 2203.3,429.2 2203.7,426 2204.2,432.6 2204.6,427.9 2205,431.4 2205.4,430.8 2205.8,428 2206.2,426.7 2206.6,432.9 2207,428.9 2207.4,431 2207.8,433.7 2208.2,430.4 2208.6,429.8 2209,428.2 2209.4,431.7 2209.8,428.8 2210.3,426.8 2210.7,429.4 2211.1,429.5 2211.5,427 2211.9,430.3 2212.3,432.7 2212.7,432.2 2213.1,435.6 2213.5,433.6 2213.9,431.6 2214.3,426.2 2214.7,431.5 2215.1,433.9 2215.5,430.4 2216,434.4 2216.4,428.9 2216.8,431.7 2217.2,433.1 2217.6,435.1 2218,431 2218.4,435.7 2218.8,430.3 2219.2,427 2219.6,430.9 2220,434.4 2220.4,430.4 2220.8,435.1 2221.2,430.7 2221.6,435.7 2222.1,426 2222.5,436.6 2222.9,426.4 2223.3,431.1 2223.7,428.4 2224.1,432 2224.5,430.7 2224.9,430.5 2225.3,432.7 2225.7,433.5 2226.1,430.4 2226.5,434.1 2226.9,427.1 2227.3,428.7 2227.8,428 2228.2,432.3 2228.6,433.3 2229,430.2 2229.4,429.6 2229.8,428.3 2230.2,432.8 2230.6,433.8 2231,429.8 2231.4,430.7 2231.8,430.1 2232.2,431 2232.6,432.1 2233,425.8 2233.4,429.7 2233.9,432.9 2234.3,428.8 2234.7,434 2235.1,434.3 2235.5,428.6 2235.9,429 2236.3,434 2236.7,426.9 2237.1,428.3 2237.5,426.9 2237.9,430.7 2238.3,431.5 2238.7,431.7 2239.1,431.2 2239.5,427.1 2240,433.2 2240.4,430.2 2240.8,429.4 2241.2,434.3 2241.6,429 2242,430.9 2242.4,432 2242.8,434.7 2243.2,429.8 2243.6,431.4 2244,424.1 2244.4,427.3 2244.8,434.4 2245.2,434.1 2245.7,428.9 2246.1,427 2246.5,425.8 2246.9,426.1 2247.3,427.5 2247.7,424.6 2248.1,428.3 2248.5,428 2248.9,425.4 2249.3,425.1 2249.7,425.2 2250.1,426.7 2250.5,427.2 2250.9,428.9 2251.3,423.3 2251.8,426.5 2252.2,427.2 2252.6,416.9 2253,428.8 2253.4,425.7 2253.8,429.4 2254.2,431.8 2254.6,427.2 2255,429.7 2255.4,428.2 2255.8,426.7 2256.2,425 2256.6,426 2257,430.1 2257.5,425.2 2257.9,423 2258.3,423.5 2258.7,426.4 2259.1,422.9 2259.5,426.4 2259.9,425.8 2260.3,424.5 2260.7,427.7 2261.1,420.5 2261.5,422.2 2261.9,422.9 2262.3,424.2 2262.7,419.9 2263.1,421.6 2263.6,425.9 2264,421.8 2264.4,424.8 2264.8,421.9 2265.2,420.6 2265.6,423.5 2266,425.3 2266.4,422 2266.8,418.9 2267.2,420.1 2267.6,420.7 2268,421.1 2268.4,419.4 2268.8,423.2 2269.2,419 2269.7,423.7 2270.1,418.9 2270.5,419 2270.9,423.9 2271.3,422.8 2271.7,420.3 2272.1,419.6 2272.5,420.5 2272.9,421 2273.3,421.5 2273.7,423.3 2274.1,418.9 2274.5,420.8 2274.9,420.9 2275.4,417.5 2275.8,423.5 2276.2,424.7 2276.6,420.7 2277,416.6 2277.4,418.8 2277.8,423 2278.2,416 2278.6,416.1 2279,419.6 2279.4,422 2279.8,422.9 2280.2,423.4 2280.6,415.6 2281,419.9 2281.5,419.1 2281.9,419.2 2282.3,423.4 2282.7,422.7 2283.1,420.2 2283.5,422.6 2283.9,422.7 2284.3,425.4 2284.7,421.3 2285.1,424.3 2285.5,421.3 2285.9,424.2 2286.3,423.3 2286.7,424.2 2287.1,423.8 2287.6,427.6 2288,422.7 2288.4,422.4 2288.8,423.4 2289.2,426 2289.6,426.8 2290,425.3 2290.4,424.1 2290.8,424.9 2291.2,424.5 2291.6,427.4 2292,426.4 2292.4,427.2 2292.8,427 2293.3,427.2 2293.7,429.9 2294.1,426.3 2294.5,428.6 2294.9,428.8 2295.3,426.3 2295.7,431.8 2296.1,428.8 2296.5,425.8 2296.9,430.7 2297.3,429.9 2297.7,430.4 2298.1,428.5 2298.5,428.2 2298.9,429.5 2299.4,426.2 2299.8,429.8 2300.2,429.7 2300.6,428.6 2301,429.2 2301.4,431.2 2301.8,426.7 2302.2,428.3 2302.6,431.8 2303,433.4 2303.4,432.2 2303.8,426.9 2304.2,428 2304.6,429 2305.1,433.3 2305.5,429.2 2305.9,431.1 2306.3,431.7 2306.7,431.7 2307.1,430.4 2307.5,431.5 2307.9,432.7 2308.3,431.2 2308.7,430.8 2309.1,432.7 2309.5,434.4 2309.9,436.5 2310.3,428.5 2310.7,431.7 2311.2,431.3 2311.6,428.6 2312,430.5 2312.4,429.6 2312.8,428.9 2313.2,429.8 2313.6,432.6 2314,428.8 2314.4,430 2314.8,430.9 2315.2,428.9 2315.6,428.4 2316,427.6 2316.4,429.5 2316.8,434.3 2317.3,427.3 2317.7,433 2318.1,429.1 2318.5,429 2318.9,432.8 2319.3,432.3 2319.7,432.5 2320.1,431.1 2320.5,433 2320.9,429.6 2321.3,431.8 2321.7,433.2 2322.1,430.9 2322.5,429 2323,434.7 2323.4,430.4 2323.8,428.7 2324.2,432.3 2324.6,433.7 2325,432.1 2325.4,428 2325.8,430.8 2326.2,431.3 2326.6,432 2327,427.3 2327.4,427.6 2327.8,430.8 2328.2,430.3 2328.6,431.3 2329.1,432.8 2329.5,427 2329.9,427.4 2330.3,428.5 2330.7,433.1 2331.1,429.1 2331.5,431.7 2331.9,424 2332.3,429.7 2332.7,431.1 2333.1,432.1 2333.5,427.2 2333.9,433.2 2334.3,426.6 2334.8,431.6 2335.2,432 2335.6,427.7 2336,424.7 2336.4,432.5 2336.8,428.2 2337.2,424.4 2337.6,428 2338,424.2 2338.4,426.8 2338.8,423.6 2339.2,420.7 2339.6,427.1 2340,423.7 2340.4,424.7 2340.9,425 2341.3,424.1 2341.7,422.6 2342.1,424.8 2342.5,425.1 2342.9,424 2343.3,422.4 2343.7,420.6 2344.1,426.2 2344.5,425.3 2344.9,421.8 2345.3,423.6 2345.7,423.4 2346.1,423.2 2346.5,421.8 2347,422.7 2347.4,420.7 2347.8,422.9 2348.2,422.4 2348.6,422.7 2349,422.6 2349.4,422.3 2349.8,419.2 2350.2,418.2 2350.6,421.2 2351,420 2351.4,422.5 2351.8,419.4 2352.2,419.8 2352.7,417.8 2353.1,420.6 2353.5,420 2353.9,423.6 2354.3,421.1 2354.7,424.2 2355.1,419.4 2355.5,417.6 2355.9,423.7 2356.3,422.4 2356.7,424.9 2357.1,419.9 2357.5,417.6 2357.9,425.1 2358.3,422.3 2358.8,420.5 2359.2,426.7 2359.6,422.1 2360,420.2 2360.4,423.1 2360.8,421.1 2361.2,420.6 2361.6,423.5 2362,422.8 2362.4,422.4 2362.8,422.7 2363.2,420 2363.6,424.9 2364,427.8 2364.5,424.3 2364.9,426.7 2365.3,428.5 2365.7,423.7 2366.1,422.9 2366.5,422.5 2366.9,423.8 2367.3,426.9 2367.7,425 2368.1,428.2 2368.5,423.3 2368.9,429.7 2369.3,425.5 2369.7,426.3 2370.1,426.8 2370.6,426.4 2371,426.9 2371.4,428.7 2371.8,427.3 2372.2,428.8 2372.6,426.2 2373,426.4 2373.4,425.2 2373.8,430.2 2374.2,426.8 2374.6,429.9 2375,429.3 2375.4,429.5 2375.8,428.9 2376.2,430.8 2376.7,430.8 2377.1,433.6 2377.5,429.5 2377.9,429.3 2378.3,427.5 2378.7,435.3 2379.1,428.9 2379.5,432.4 2379.9,432.4 2380.3,428.1 2380.7,429.5 2381.1,432.6 2381.5,431 2381.9,428.2 2382.4,431.5 2382.8,434.7 2383.2,432.1 2383.6,432.6 2384,434.3 2384.4,436.3 2384.8,431.6 2385.2,430.2 2385.6,431.4 2386,430.6 2386.4,428.6 2386.8,431.3 2387.2,429.5 2387.6,432.6 2388,431.5 2388.5,425.9 2388.9,429.4 2389.3,432.6 2389.7,430.5 2390.1,429.9 2390.5,430.5 2390.9,429.9 2391.3,433.1 2391.7,430.7 2392.1,429.7 2392.5,433.7 2392.9,429.1 2393.3,432.3 2393.7,429.5 2394.1,430.8 2394.6,430.6 2395,429.2 2395.4,430.4 2395.8,435.1 2396.2,429.3 2396.6,436.3 2397,433.7 2397.4,435.4 2397.8,430.7 2398.2,434.3 2398.6,432.3 2399,436.5 2399.4,430.2 2399.8,434.7 2400.3,430.5 2400.7,435.1 2401.1,431.1 2401.5,429.4 2401.9,428.8 2402.3,430.6 2402.7,435.5 2403.1,428.9 2403.5,430.2 2403.9,431.7 2404.3,432 2404.7,432.5 2405.1,435.6 2405.5,431.5 2405.9,428.6 2406.4,433.7 2406.8,431 2407.2,431.5 2407.6,432.3 2408,435.7 2408.4,434.8 2408.8,432.1 2409.2,431.2 2409.6,433.1 2410,430.3 2410.4,428 2410.8,430.5 2411.2,434.3 2411.6,430.5 2412.1,430.9 2412.5,435.4 2412.9,435.5" fill="none" stroke="#fb3b3b" stroke-width="5.2" stroke-linejoin="round" stroke-linecap="butt" />
<polyline points="1463.7,600.8 1464,594.7 1464.2,598.2 1464.5,585.9 1464.8,595.2 1465.1,608.1 1465.3,592 1465.6,587.9 1465.9,600.1 1466.1,594.6 1466.4,587.2 1466.7,594.7 1467,603.5 1467.2,593.6 1467.5,609.2 1467.8,595.3 1468,592.8 1468.3,586 1468.6,605.4 1468.9,590.2 1469.1,590.9 1469.4,596.4 1469.7,586.6 1469.9,578.8 1470.2,579 1470.5,598.4 1470.8,603.5 1471,594.7 1471.3,596.2 1471.6,586.7 1471.8,593.8 1472.1,585 1472.4,590.5 1472.7,591.5 1472.9,594.3 1473.2,590.2 1473.5,581.3 1473.7,585.1 1474,589.1 1474.3,582.9 1474.5,574.1 1474.8,585.9 1475.1,598.8 1475.4,595.9 1475.6,597.3 1475.9,594.3 1476.2,594.6 1476.4,589.5 1476.7,591.1 1477,578.2 1477.3,592.9 1477.5,598.8 1477.8,593.2 1478.1,579.3 1478.3,592.1 1478.6,577.7 1478.9,600.5 1479.2,576.3 1479.4,576.7 1479.7,577.6 1480,579.9 1480.2,598.5 1480.5,586.2 1480.8,588.8 1481.1,580.5 1481.3,584 1481.6,583.5 1481.9,589.1 1482.1,593.1 1482.4,588.4 1482.7,583.3 1483,576.8 1483.2,584 1483.5,577.3 1483.8,595 1484,595.8 1484.3,593.2 1484.6,578 1484.9,588.7 1485.1,569.3 1485.4,573.9 1485.7,590.5 1485.9,577.1 1486.2,596.5 1486.5,588.7 1486.8,583.7 1487,586.7 1487.3,600.1 1487.6,591.1 1487.8,581.3 1488.1,592.6 1488.4,578.3 1488.7,579.7 1488.9,585.5 1489.2,584.9 1489.5,580.6 1489.7,591.7 1490,570.5 1490.3,568.6 1490.6,591.8 1490.8,585.9 1491.1,573.2 1491.4,591.6 1491.6,568.5 1491.9,590 1492.2,574.7 1492.5,571.8 1492.7,577 1493,581.8 1493.3,579.2 1493.5,584.7 1493.8,570.4 1494.1,581.8 1494.3,576.4 1494.6,591 1494.9,566.7 1495.2,583.8 1495.4,581.4 1495.7,562 1496,581 1496.2,580.6 1496.5,589.1 1496.8,567.7 1497.1,573.5 1497.3,587.1 1497.6,588.9 1497.9,578.6 1498.1,571.5 1498.4,584.2 1498.7,571.7 1499,578.1 1499.2,581.3 1499.5,577 1499.8,570.5 1500,585 1500.3,587.1 1500.6,576 1500.9,568.7 1501.1,579.7 1501.4,560.3 1501.7,574.6 1501.9,573.5 1502.2,578.1 1502.5,579.1 1502.8,559.7 1503,562.8 1503.3,568 1503.6,574.3 1503.8,562 1504.1,566.9 1504.4,559.4 1504.7,572.9 1504.9,576.3 1505.2,560.2 1505.5,571.8 1505.7,562 1506,582.8 1506.3,579 1506.6,567.5 1506.8,587.3 1507.1,570.6 1507.4,569.6 1507.6,551.7 1507.9,562 1508.2,557.9 1508.5,566.9 1508.7,568.3 1509,559.6 1509.3,553.4 1509.5,551.2 1509.8,576.6 1510.1,574.4 1510.4,574.8 1510.6,560.1 1510.9,570.1 1511.2,562.8 1511.4,572.4 1511.7,565.8 1512,571.9 1512.2,553.1 1512.5,552.1 1512.8,561.8 1513.1,557.3 1513.3,559 1513.6,563.5 1513.9,573.4 1514.1,581.7 1514.4,551.6 1514.7,565.7 1515,571.4 1515.2,565.6 1515.5,562.7 1515.8,558.2 1516,576.7 1516.3,559.4 1516.6,568.7 1516.9,562.7 1517.1,574.1 1517.4,560.4 1517.7,565.7 1517.9,556.8 1518.2,558.2 1518.5,550.7 1518.8,565.4 1519,541.5 1519.3,556.3 1519.6,565.1 1519.8,547.2 1520.1,551.4 1520.4,555.3 1520.7,549.4 1520.9,560.5 1521.2,543.6 1521.5,566.1 1521.7,560.5 1522,547.6 1522.3,552.7 1522.6,565.9 1522.8,559.7 1523.1,564.1 1523.4,555 1523.6,550.7 1523.9,552.8 1524.2,573.3 1524.5,539.8 1524.7,553.1 1525,544.4 1525.3,554.8 1525.5,548.7 1525.8,560.1 1526.1,536.5 1526.4,550.4 1526.6,539.3 1526.9,557.2 1527.2,557 1527.4,542.1 1527.7,550.5 1528,545 1528.3,544.5 1528.5,533.9 1528.8,550.5 1529.1,539.7 1529.3,547.2 1529.6,535.6 1529.9,543.9 1530.2,544.5 1530.4,539 1530.7,535.2 1531,557.8 1531.2,550.2 1531.5,538 1531.8,546.7 1532,542.2 1532.3,540.9 1532.6,553.3 1532.9,542.9 1533.1,541.4 1533.4,562.2 1533.7,547.4 1533.9,523.1 1534.2,541.9 1534.5,542.1 1534.8,542.5 1535,534.1 1535.3,530 1535.6,552.9 1535.8,543.8 1536.1,533.1 1536.4,528.1 1536.7,550.3 1536.9,528.5 1537.2,540.7 1537.5,543.1 1537.7,530.8 1538,537.6 1538.3,527.3 1538.6,549.7 1538.8,536.5 1539.1,538.5 1539.4,549.6 1539.6,532.1 1539.9,522.2 1540.2,516.8 1540.5,529.5 1540.7,529.4 1541,537.5 1541.3,526.1 1541.5,516.5 1541.8,531.5 1542.1,551.4 1542.4,533.6 1542.6,542.5 1542.9,542.9 1543.2,536.5 1543.4,534.2 1543.7,521.5 1544,524.5 1544.3,541.4 1544.5,536.5 1544.8,541.1 1545.1,539.8 1545.3,537.1 1545.6,508.2 1545.9,511.9 1546.2,522.1 1546.4,518.9 1546.7,531.5 1547,510.8 1547.2,542.3 1547.5,506.2 1547.8,530.1 1548.1,508.5 1548.3,531.1 1548.6,507.3 1548.9,506.4 1549.1,516.8 1549.4,524.5 1549.7,538.5 1550,524.7 1550.2,507 1550.5,518.2 1550.8,512.3 1551,519.5 1551.3,533 1551.6,535.1 1551.8,518.3 1552.1,501.6 1552.4,509.6 1552.7,513.3 1552.9,510.7 1553.2,529.1 1553.5,503.9 1553.7,514.1 1554,504.5 1554.3,522.4 1554.6,507.9 1554.8,539 1555.1,506.6 1555.4,513.2 1555.6,515.7 1555.9,504.6 1556.2,496.7 1556.5,500.4 1556.7,507.5 1557,514.5 1557.3,526.5 1557.5,509.8 1557.8,507.2 1558.1,525.3 1558.4,503.7 1558.6,513.1 1558.9,521.2 1559.2,520.6 1559.4,482.5 1559.7,502.2 1560,506.2 1560.3,506 1560.5,504.3 1560.8,496.4 1561.1,525.8 1561.3,498.4 1561.6,506.7 1561.9,498.4 1562.2,497.3 1562.4,531.3 1562.7,489.6 1563,515.2 1563.2,493.3 1563.5,514.2 1563.8,501.2 1564.1,508.9 1564.3,505.7 1564.6,486.9 1564.9,502.9 1565.1,515.8 1565.4,494.7 1565.7,496.3 1566,519.3 1566.2,498.7 1566.5,521.2 1566.8,492.2 1567,515.4 1567.3,484.4 1567.6,509 1567.9,502.9 1568.1,495.9 1568.4,502.2 1568.7,494 1568.9,510.6 1569.2,498.2 1569.5,497.7 1569.8,478.7 1570,503.9 1570.3,506 1570.6,505.7 1570.8,499 1571.1,489.7 1571.4,492.3 1571.6,485 1571.9,507 1572.2,490.9 1572.5,493.1 1572.7,518.7 1573,489.8 1573.3,511.5 1573.5,490.7 1573.8,477.4 1574.1,488.8 1574.4,498.8 1574.6,482.1 1574.9,485.2 1575.2,491.7 1575.4,489.9 1575.7,492.6 1576,486.1 1576.3,472.1 1576.5,487.6 1576.8,512.9 1577.1,479.3 1577.3,475.8 1577.6,494.3 1577.9,500.3 1578.2,497.6 1578.4,495.7 1578.7,489.1 1579,503 1579.2,494 1579.5,473.3 1579.8,508.8 1580.1,487.1 1580.3,481.2 1580.6,471.7 1580.9,498.9 1581.1,486.8 1581.4,485.1 1581.7,481.8 1582,487 1582.2,481.9 1582.5,477.1 1582.8,468.3 1583,492 1583.3,469.5 1583.6,487.7 1583.9,502.6 1584.1,498.2 1584.4,475.8 1584.7,486.6 1584.9,493 1585.2,488.6 1585.5,482.6 1585.8,505.4 1586,478.1 1586.3,500.9 1586.6,493.9 1586.8,473.5 1587.1,478.3 1587.4,493.3 1587.7,501.1 1587.9,469.8 1588.2,494 1588.5,471.6 1588.7,483.5 1589,458.2 1589.3,502.2 1589.6,510.8 1589.8,474.5 1590.1,488.1 1590.4,474.4 1590.6,500.5 1590.9,477.3 1591.2,491.4 1591.4,465.8 1591.7,480.2 1592,482.1 1592.3,486.1 1592.5,478.5 1592.8,486.9 1593.1,484.3 1593.3,477.8 1593.6,492.1 1593.9,474.2 1594.2,492.9 1594.4,461.9 1594.7,481.7 1595,493.4 1595.2,484.8 1595.5,505.5 1595.8,473.1 1596.1,493 1596.3,505.8 1596.6,501.4 1596.9,490 1597.1,491.2 1597.4,491.1 1597.7,460.1 1598,491.8 1598.2,465.1 1598.5,483 1598.8,468.3 1599,483.7 1599.3,481.6 1599.6,481 1599.9,503.6 1600.1,495.2 1600.4,476.5 1600.7,472 1600.9,472 1601.2,479.8 1601.5,488.4 1601.8,467.6 1602,484.2 1602.3,470 1602.6,474.1 1602.8,477.8 1603.1,471 1603.4,488.5 1603.7,483.1 1603.9,489 1604.2,487.1 1604.5,478.4 1604.7,499.9 1605,500.9 1605.3,467.7 1605.6,480.9 1605.8,478 1606.1,477.9 1606.4,488.8 1606.6,501.9 1606.9,501.5 1607.2,505.1 1607.5,472.8 1607.7,497.4 1608,489.9 1608.3,501.1 1608.5,481.3 1608.8,469.1 1609.1,494.2 1609.3,499 1609.6,470.3 1609.9,508.7 1610.2,490.9 1610.4,474.6 1610.7,474.5 1611,487.4 1611.2,495.4 1611.5,516.3 1611.8,483.3 1612.1,512.4 1612.3,488 1612.6,483.2 1612.9,512.1 1613.1,504.6 1613.4,467.6 1613.7,472.5 1614,500.3 1614.2,506.6 1614.5,479.1 1614.8,472.8 1615,491.6 1615.3,493 1615.6,500.5 1615.9,469.4 1616.1,484.9 1616.4,492.4 1616.7,485.9 1616.9,489.2 1617.2,480.2 1617.5,483.3 1617.8,510.8 1618,493.9 1618.3,486 1618.6,484.9 1618.8,477 1619.1,487.4 1619.4,495.6 1619.7,481.1 1619.9,495.5 1620.2,468.9 1620.5,486.9 1620.7,507.2 1621,470.9 1621.3,475.3 1621.6,501.8 1621.8,515.5 1622.1,509.4 1622.4,511.7 1622.6,472.4 1622.9,488 1623.2,511.2 1623.5,479.1 1623.7,498.1 1624,505.3 1624.3,488 1624.5,464.9 1624.8,503.2 1625.1,500.5 1625.4,499.1 1625.6,492.1 1625.9,513.2 1626.2,484.8 1626.4,497 1626.7,517.5 1627,519.2 1627.3,502.2 1627.5,509.1 1627.8,507 1628.1,492.7 1628.3,488.5 1628.6,492.8 1628.9,496.4 1629.1,512.3 1629.4,516.4 1629.7,493 1630,505 1630.2,518.3 1630.5,521.4 1630.8,495.6 1631,498.5 1631.3,511.1 1631.6,480.7 1631.9,487 1632.1,501.8 1632.4,501.1 1632.7,514.6 1632.9,493 1633.2,491.8 1633.5,518.5 1633.8,507.6 1634,500.9 1634.3,500.3 1634.6,486.8 1634.8,492 1635.1,503.7 1635.4,507 1635.7,506.7 1635.9,506.9 1636.2,523.1 1636.5,527.2 1636.7,497 1637,518.6 1637.3,504.6 1637.6,511.4 1637.8,516.9 1638.1,504.1 1638.4,511.4 1638.6,515 1638.9,517.1 1639.2,519.5 1639.5,509.8 1639.7,496.4 1640,502.7 1640.3,520.1 1640.5,487.9 1640.8,517.3 1641.1,519.7 1641.4,517.1 1641.6,518.7 1641.9,503.4 1642.2,514.8 1642.4,511.4 1642.7,525.1 1643,515.8 1643.3,513.5 1643.5,512.3 1643.8,507.9 1644.1,489.7 1644.3,529.5 1644.6,511.2 1644.9,504.5 1645.2,510.6 1645.4,518.1 1645.7,511.8 1646,497.3 1646.2,504.9 1646.5,521.9 1646.8,523.1 1647.1,539.1 1647.3,533.9 1647.6,525.6 1647.9,510.4 1648.1,508.9 1648.4,527.3 1648.7,522.3 1648.9,513.4 1649.2,513.9 1649.5,505.5 1649.8,544.3 1650,508.8 1650.3,535.4 1650.6,522.8 1650.8,521.4 1651.1,509.9 1651.4,522.5 1651.7,521.3 1651.9,517.7 1652.2,506 1652.5,532.7 1652.7,531.1 1653,504.8 1653.3,510.9 1653.6,518.8 1653.8,512.5 1654.1,524.3 1654.4,538.2 1654.6,524.3 1654.9,525.5 1655.2,528.7 1655.5,526.1 1655.7,521.4 1656,521.3 1656.3,518.9 1656.5,520.6 1656.8,514.7 1657.1,516.1 1657.4,549.3 1657.6,546.2 1657.9,516.2 1658.2,536.6 1658.4,519.6 1658.7,519.3 1659,532.6 1659.3,510.8 1659.5,537.1 1659.8,539 1660.1,546.1 1660.3,525.1 1660.6,546.1 1660.9,519.7 1661.2,525.3 1661.4,518.8 1661.7,538.9 1662,524.9 1662.2,519.3 1662.5,518.1 1662.8,526.3 1663.1,538.2 1663.3,531.5 1663.6,553.2 1663.9,541.9 1664.1,557 1664.4,531.3 1664.7,556.1 1665,537.2 1665.2,542.5 1665.5,516.1 1665.8,538.3 1666,502.4 1666.3,516.3 1666.6,537.9 1666.9,527.8 1667.1,545.4 1667.4,540.8 1667.7,518.2 1667.9,522.8 1668.2,550.3 1668.5,525.3 1668.7,546.7 1669,551.8 1669.3,539.2 1669.6,533.6 1669.8,535.5 1670.1,532.5 1670.4,514.2 1670.6,553.2 1670.9,521.8 1671.2,532.6 1671.5,530.5 1671.7,516.3 1672,543.9 1672.3,528.2 1672.5,546.6 1672.8,525.7 1673.1,542.1 1673.4,554.3 1673.6,536.9 1673.9,527.4 1674.2,538.9 1674.4,538.8 1674.7,555.4 1675,555.6 1675.3,531.8 1675.5,537.8 1675.8,558.6 1676.1,546.7 1676.3,539.7 1676.6,527.3 1676.9,547.4 1677.2,543.7 1677.4,550.8 1677.7,535 1678,538.9 1678.2,541.1 1678.5,529.7 1678.8,548.7 1679.1,529.9 1679.3,541.7 1679.6,538.3 1679.9,545.2 1680.1,540 1680.4,530 1680.7,529.2 1681,546.9 1681.2,552.6 1681.5,543.5 1681.8,562.5 1682,544.8 1682.3,535.7 1682.6,555.4 1682.9,558.4 1683.1,531.1 1683.4,537.3 1683.7,533.4 1683.9,538.9 1684.2,557.7 1684.5,545 1684.8,549.7 1685,545.9 1685.3,558.2 1685.6,540.3 1685.8,562.5 1686.1,548.3 1686.4,570.5 1686.6,529.6 1686.9,539.5 1687.2,554.8 1687.5,543.1 1687.7,550.2 1688,544.5 1688.3,560.5 1688.5,529 1688.8,554.4 1689.1,541.5 1689.4,566.3 1689.6,554.4 1689.9,550.7 1690.2,546.9 1690.4,563.5 1690.7,536.7 1691,565.1 1691.3,556 1691.5,541.1 1691.8,548 1692.1,538 1692.3,550.2 1692.6,547.3 1692.9,543.1 1693.2,555.8 1693.4,545.9 1693.7,560.5 1694,542.2 1694.2,544.8 1694.5,560.8 1694.8,542.6 1695.1,551.9 1695.3,541.9 1695.6,554.7 1695.9,557.6 1696.1,558 1696.4,570.3 1696.7,533.6 1697,567.4 1697.2,545 1697.5,553.2 1697.8,555 1698,563.6 1698.3,553.3 1698.6,543.9 1698.9,565.5 1699.1,554 1699.4,555.3 1699.7,552 1699.9,556.6 1700.2,551.6 1700.5,555.1 1700.8,545.8 1701,572.8 1701.3,559 1701.6,561.1 1701.8,544.5 1702.1,550.5 1702.4,538.3 1702.7,553 1702.9,561.7 1703.2,556.6 1703.5,557.2 1703.7,560.2 1704,568.1 1704.3,555.4 1704.6,557.3 1704.8,550.8 1705.1,564.7 1705.4,566.7 1705.6,547.5 1705.9,558.2 1706.2,569.3 1706.4,560.9 1706.7,556.4 1707,558.8 1707.3,544.1 1707.5,567.3 1707.8,559.3 1708.1,567.8 1708.3,556.6 1708.6,565.1 1708.9,565.3 1709.2,548.2 1709.4,560.1 1709.7,566.9 1710,546.2 1710.2,563 1710.5,571 1710.8,550.4 1711.1,564.9 1711.3,578.2 1711.6,555 1711.9,569.1 1712.1,571 1712.4,561.1 1712.7,553.2 1713,561.7 1713.2,572.7 1713.5,564 1713.8,563.8 1714,553.1 1714.3,570.8 1714.6,570.1 1714.9,556.2 1715.1,567.5 1715.4,553 1715.7,562.3 1715.9,564.3 1716.2,567.6 1716.5,567.8 1716.8,544.9 1717,551.8 1717.3,567.6 1717.6,568.2 1717.8,553.4 1718.1,556.3 1718.4,572.7 1718.7,549.6 1718.9,576.4 1719.2,576.9 1719.5,548.5 1719.7,570 1720,558.9 1720.3,548.4 1720.6,563.7 1720.8,575.4 1721.1,580.3 1721.4,572.4 1721.6,552.7 1721.9,560.9 1722.2,545.8 1722.5,580.1 1722.7,558 1723,572.3 1723.3,566.3 1723.5,580 1723.8,578.7 1724.1,559.9 1724.4,585.7 1724.6,566.9 1724.9,580.6 1725.2,573.5 1725.4,548.2 1725.7,557.3 1726,556 1726.2,569.9 1726.5,569.5 1726.8,572.6 1727.1,561.4 1727.3,565.1 1727.6,563.8 1727.9,571.7 1728.1,576.6 1728.4,575.9 1728.7,566.3 1729,549.7 1729.2,550.9 1729.5,573 1729.8,575.2 1730,582.6 1730.3,567.1 1730.6,570.9 1730.9,570.8 1731.1,558.1 1731.4,588 1731.7,562.5 1731.9,568.6 1732.2,578 1732.5,573.9 1732.8,577.7 1733,572.6 1733.3,564.1 1733.6,576.6 1733.8,565.3 1734.1,564.7 1734.4,583.7 1734.7,565.4 1734.9,580 1735.2,570.7 1735.5,565.9 1735.7,580 1736,566.7 1736.3,567.1 1736.6,577.1 1736.8,562.3 1737.1,558.1 1737.4,547.3 1737.6,569.1 1737.9,578.3 1738.2,568.3 1738.5,568.1 1738.7,569.3 1739,585.9 1739.3,559.3 1739.5,573.7 1739.8,569.7 1740.1,560.5 1740.4,588.8 1740.6,570.1 1740.9,570 1741.2,583.7 1741.4,565.4 1741.7,557.3 1742,572.7 1742.3,588.2 1742.5,579.2 1742.8,574.2 1743.1,579.7 1743.3,594.2 1743.6,558.5 1743.9,572.2 1744.2,574.3 1744.4,582.6 1744.7,554.1 1745,569.1 1745.2,573.1 1745.5,570.1 1745.8,580.3 1746,579 1746.3,581.1 1746.6,586.8 1746.9,568.5 1747.1,582.2 1747.4,583.9 1747.7,570.6 1747.9,564 1748.2,573.7 1748.5,570.7 1748.8,563.7 1749,580.2 1749.3,583.9 1749.6,583.9 1749.8,577.3 1750.1,576.5 1750.4,582.9 1750.7,559.1 1750.9,573.3 1751.2,582.6 1751.5,568.9 1751.7,588.9 1752,582.7 1752.3,572.6 1752.6,581.4 1752.8,569.8 1753.1,572.1 1753.4,581 1753.6,582.8 1753.9,574.9 1754.2,578.6 1754.5,575.4 1754.7,571.2 1755,588.2 1755.3,577.5 1755.5,586 1755.8,583 1756.1,588.4 1756.4,577.5 1756.6,564.9 1756.9,586.7 1757.2,573.4 1757.4,583.5 1757.7,583.1 1758,586.1 1758.3,565.6 1758.5,571.8 1758.8,562 1759.1,585.2 1759.3,580.2 1759.6,577.8 1759.9,572.4 1760.2,580 1760.4,565.4 1760.7,574.2 1761,575.5 1761.2,582.4 1761.5,583.8 1761.8,573.4 1762.1,581.9 1762.3,574.1 1762.6,572.3 1762.9,578.9 1763.1,586.2 1763.4,591.7 1763.7,564.4 1764,567.1 1764.2,587.2 1764.5,560.8 1764.8,568.8 1765,590.6 1765.3,578.5 1765.6,591.2 1765.8,589.7 1766.1,567.5 1766.4,576.8 1766.7,592.2 1766.9,565.3 1767.2,573.1 1767.5,568.6 1767.7,562.8 1768,586.8 1768.3,562.7 1768.6,582.7 1768.8,584.4 1769.1,578.7 1769.4,581.4 1769.6,575.1 1769.9,583 1770.2,581.5 1770.5,572.4 1770.7,591.1 1771,580.8 1771.3,568.9 1771.5,576.6 1771.8,595 1772.1,583.8 1772.4,578.2 1772.6,581.5 1772.9,565.4 1773.2,583.1 1773.4,593.3 1773.7,599.1 1774,580.6 1774.3,586.9 1774.5,587.6 1774.8,581.6 1775.1,582.4 1775.3,563.8 1775.6,566.9 1775.9,593.5 1776.2,569.8 1776.4,588.1 1776.7,591.7 1777,585.7 1777.2,572.3 1777.5,578.8 1777.8,583.2 1778.1,594.7 1778.3,569.7 1778.6,586.2 1778.9,574.9 1779.1,589.3 1779.4,577.8 1779.7,584.9 1780,582.2 1780.2,591.5 1780.5,595.8 1780.8,593 1781,580.2 1781.3,580.6 1781.6,600.1 1781.9,586.5 1782.1,587.5 1782.4,597.6 1782.7,591.1 1782.9,591 1783.2,580.6 1783.5,572.7 1783.7,569.6 1784,593.4 1784.3,588.3 1784.6,591 1784.8,585.3 1785.1,581.8 1785.4,575.8 1785.6,580.9 1785.9,576.2 1786.2,594.1 1786.5,579.2 1786.7,579.3 1787,576.4 1787.3,586.3 1787.5,581.3 1787.8,578.7 1788.1,571.5 1788.4,592.1 1788.6,576.7 1788.9,583.6 1789.2,599.9 1789.4,569.6 1789.7,588.7 1790,586.2 1790.3,581.2 1790.5,571.1 1790.8,588.9 1791.1,594.7 1791.3,576.3 1791.6,584.5 1791.9,584.7 1792.2,568.1 1792.4,573.6 1792.7,588 1793,582.7 1793.2,591.1 1793.5,594 1793.8,593.8 1794.1,595.9 1794.3,588.3 1794.6,588.5 1794.9,585.8 1795.1,569.8 1795.4,578.6 1795.7,582.4 1796,590.4 1796.2,584.2 1796.5,588.1 1796.8,586.3 1797,596.8 1797.3,576 1797.6,593.4 1797.9,580.2 1798.1,582.5 1798.4,582.3 1798.7,581.8 1798.9,596 1799.2,582.9 1799.5,576.1 1799.8,584.5 1800,571.7 1800.3,571.6 1800.6,569.3 1800.8,567.5 1801.1,579.9 1801.4,591 1801.7,589.9 1801.9,591.5 1802.2,573.3 1802.5,593.1 1802.7,593.9 1803,599.5 1803.3,584.6 1803.5,576.2 1803.8,586.4 1804.1,573.5 1804.4,586.4 1804.6,597.4 1804.9,586.7 1805.2,570.6 1805.4,584 1805.7,586.3 1806,608.5 1806.3,589.7 1806.5,583.8 1806.8,592.7 1807.1,587.3 1807.3,584 1807.6,583.5 1807.9,569.3 1808.2,587.5 1808.4,580.1 1808.7,584.8 1809,588.4 1809.2,578.8 1809.5,578.8 1809.8,597.5 1810.1,588.4 1810.3,580 1810.6,598.6 1810.9,573.2 1811.1,579.7 1811.4,571 1811.7,597.5 1812,591.8 1812.2,583.9 1812.5,585.2 1812.8,572.2 1813,599 1813.3,574.2 1813.6,571.3 1813.9,581.8 1814.1,582.5 1814.4,596 1814.7,590.3 1814.9,588.6 1815.2,579.5 1815.5,585.9 1815.8,588.8 1816,587.8 1816.3,588.6 1816.6,579.8 1816.8,581.7 1817.1,577 1817.4,579.1 1817.7,593.5 1817.9,594.8 1818.2,575.2 1818.5,589.3 1818.7,574.1 1819,579 1819.3,584.6 1819.6,581.8 1819.8,585.9 1820.1,575.2 1820.4,584.8 1820.6,597.3 1820.9,596.4 1821.2,598.2 1821.5,591.2 1821.7,597.7 1822,585.6 1822.3,594.5 1822.5,590.4 1822.8,595.7 1823.1,592 1823.3,589.4 1823.6,603.6 1823.9,599.5 1824.2,571 1824.4,591.4 1824.7,597 1825,588.4 1825.2,585.8 1825.5,580.7 1825.8,606 1826.1,588.2 1826.3,595.3 1826.6,585.3 1826.9,588 1827.1,578 1827.4,583.7 1827.7,584.7 1828,588.6 1828.2,592.2 1828.5,579 1828.8,595.9 1829,583.7 1829.3,597.1 1829.6,589.8 1829.9,582.9 1830.1,586.1 1830.4,588.1 1830.7,588.9 1830.9,579.1 1831.2,593 1831.5,581.3 1831.8,583.2 1832,584.2 1832.3,597.6 1832.6,591 1832.8,579.5 1833.1,579.2 1833.4,578.2 1833.7,574 1833.9,592.7 1834.2,579.5 1834.5,579.5 1834.7,581.4 1835,576.6 1835.3,576.3 1835.6,583.1 1835.8,593.1 1836.1,590.2 1836.4,585.5 1836.6,595.7 1836.9,595.6 1837.2,583.7 1837.5,593.3 1837.7,598.9 1838,597.2 1838.3,589.1 1838.5,598.2 1838.8,589.7 1839.1,580 1839.4,593.9 1839.6,590.3 1839.9,587 1840.2,589.8 1840.4,584.6 1840.7,581.4 1841,588.9 1841.3,595.9 1841.5,588.2 1841.8,605.4 1842.1,596.2 1842.3,587.7 1842.6,588.3 1842.9,586.3 1843.1,581 1843.4,589.6 1843.7,598.4 1844,597.3 1844.2,583.5 1844.5,585.5 1844.8,581.9 1845,589.7 1845.3,582.5 1845.6,592.9 1845.9,597.3 1846.1,585.8 1846.4,591.3 1846.7,598.9 1846.9,584.4 1847.2,592 1847.5,595.9 1847.8,595.8 1848,589.8 1848.3,589.1 1848.6,580.6 1848.8,593.5 1849.1,595.9 1849.4,601.1 1849.7,594.3 1849.9,589 1850.2,604.2 1850.5,576.2 1850.7,587.3 1851,591.6 1851.3,588 1851.6,593.1 1851.8,597.2 1852.1,600.3 1852.4,596.8 1852.6,591.7 1852.9,588 1853.2,576.1 1853.5,575.3 1853.7,603.7 1854,593.1 1854.3,589.8 1854.5,595 1854.8,589.4 1855.1,597.9 1855.4,585.6 1855.6,598.7 1855.9,585.7 1856.2,593.2 1856.4,591.6 1856.7,578.3 1857,596.4 1857.3,605.2 1857.5,585.4 1857.8,586.5 1858.1,592.8 1858.3,592.4 1858.6,582.7 1858.9,580.8 1859.2,589.5 1859.4,586.3 1859.7,594.2 1860,586.2 1860.2,594.3 1860.5,597.4 1860.8,604.2 1861,599.4 1861.3,601.5 1861.6,600.8 1861.9,599.9 1862.1,598.2 1862.4,596.6 1862.7,597.2 1862.9,596.8 1863.2,598.9 1863.5,586.1 1863.8,601.9 1864,588.2 1864.3,594.7 1864.6,600.6 1864.8,591 1865.1,599.2 1865.4,582.2 1865.7,599 1865.9,592.3 1866.2,589 1866.5,590.9 1866.7,592.7 1867,599 1867.3,590.5 1867.6,599.7 1867.8,599.6 1868.1,598.9 1868.4,598.5 1868.6,585.8 1868.9,595.3 1869.2,603.1 1869.5,591.4 1869.7,594.4 1870,584.2 1870.3,588.2 1870.5,582.7 1870.8,589.3 1871.1,597.1 1871.4,595.6 1871.6,581.7 1871.9,597.5 1872.2,596 1872.4,584.9 1872.7,595.2 1873,597.4 1873.3,609.9 1873.5,591.7 1873.8,586 1874.1,581.2 1874.3,591.7 1874.6,593.1 1874.9,603.6 1875.2,601.8 1875.4,590 1875.7,592.9 1876,583.9 1876.2,587.2 1876.5,603.2 1876.8,605.3 1877.1,593.9 1877.3,588 1877.6,601.6 1877.9,589.5 1878.1,582.6 1878.4,589.8 1878.7,605.6 1879,601 1879.2,594.2 1879.5,587.3 1879.8,599.3 1880,590.5 1880.3,603.9 1880.6,587.6 1880.8,595 1881.1,593 1881.4,601.9 1881.7,595.6 1881.9,597 1882.2,603.6 1882.5,591.8 1882.7,589.1 1883,590.8 1883.3,592.2 1883.6,589.3 1883.8,591.4 1884.1,595 1884.4,595.3 1884.6,594.8 1884.9,600.4 1885.2,589.6 1885.5,582.3 1885.7,603.8 1886,606.4 1886.3,582.7 1886.5,609 1886.8,600 1887.1,606.8 1887.4,601.2 1887.6,588.1 1887.9,595.4 1888.2,595.4 1888.4,589.1 1888.7,604.7 1889,593.3 1889.3,610.8 1889.5,588.7 1889.8,584.3 1890.1,602.1 1890.3,601.8 1890.6,606.9 1890.9,604.5 1891.2,606.4 1891.4,597.6 1891.7,593.4 1892,607.3 1892.2,584.3 1892.5,600 1892.8,583.3 1893.1,591.2 1893.3,590.7 1893.6,583.3 1893.9,608.5 1894.1,604.1 1894.4,596.4 1894.7,594.2 1895,603.6 1895.2,594.7 1895.5,590.6 1895.8,604.8 1896,601.8 1896.3,593.7 1896.6,603.8 1896.9,596.9 1897.1,600.1 1897.4,596 1897.7,595.1 1897.9,596.3 1898.2,608.8 1898.5,590.2 1898.8,594.5 1899,588.4 1899.3,603.8 1899.6,599.1 1899.8,606.1 1900.1,596.9 1900.4,604.4 1900.6,600.9 1900.9,600 1901.2,587.6 1901.5,596.4 1901.7,599.9 1902,594.2 1902.3,608.1 1902.5,595.4 1902.8,607.8 1903.1,601.3 1903.4,606.5 1903.6,592 1903.9,604.7 1904.2,599.1 1904.4,592.1 1904.7,602.7 1905,605.6 1905.3,594.2 1905.5,599.5 1905.8,613.1 1906.1,597.9 1906.3,609.2 1906.6,605.7 1906.9,594.8 1907.2,606.5 1907.4,596.8 1907.7,617 1908,606.3 1908.2,601.4 1908.5,587.7 1908.8,593.4 1909.1,601.8 1909.3,605.9 1909.6,602.2 1909.9,602.5 1910.1,598.8 1910.4,610.6 1910.7,597.6 1911,598 1911.2,599.8 1911.5,593.7 1911.8,594.9 1912,601.6 1912.3,587.2 1912.6,598 1912.9,608.1 1913.1,602.5 1913.4,596.3 1913.7,612.7 1913.9,596.6 1914.2,595.3 1914.5,607.4 1914.8,600.1 1915,604.3 1915.3,608.4 1915.6,594 1915.8,600.9 1916.1,610.2 1916.4,613.6 1916.7,589.1 1916.9,589.9 1917.2,604.6 1917.5,599.2 1917.7,600.3 1918,601.8 1918.3,598.4 1918.6,603.6 1918.8,609.6 1919.1,598.5 1919.4,606.5 1919.6,599.1 1919.9,600.9 1920.2,606.3 1920.4,598.7 1920.7,598.7 1921,601.9 1921.3,596.7 1921.5,599 1921.8,608.7 1922.1,605.3 1922.3,591.7 1922.6,605.4 1922.9,606.2 1923.2,597.6 1923.4,595.5 1923.7,606.5 1924,597.5 1924.2,592.8 1924.5,597.4 1924.8,593.5 1925.1,600.9 1925.3,596.6 1925.6,610.8 1925.9,619 1926.1,598.5 1926.4,602.4 1926.7,607 1927,606.5 1927.2,608.2 1927.5,596.3 1927.8,600.4 1928,600 1928.3,598.8 1928.6,614.8 1928.9,609.3 1929.1,614.3 1929.4,611.8 1929.7,599.1 1929.9,603.1 1930.2,605.5 1930.5,601.8 1930.8,610.7 1931,608.6 1931.3,596.2 1931.6,600.7 1931.8,597.8 1932.1,599.4 1932.4,616.2 1932.7,614.4 1932.9,608 1933.2,595.1 1933.5,600.1 1933.7,611.1 1934,599.8 1934.3,606.2 1934.6,608.3 1934.8,595 1935.1,606.1 1935.4,604 1935.6,594.2 1935.9,606.3 1936.2,614.7 1936.5,607 1936.7,603.7 1937,598.3 1937.3,607.6 1937.5,594.1 1937.8,603.8 1938.1,610.7 1938.3,613.1 1938.6,617.1 1938.9,603.4 1939.2,595.3 1939.4,609.3 1939.7,592.4 1940,611.3 1940.2,588.8 1940.5,598 1940.8,612.4 1941.1,605.2 1941.3,602 1941.6,600.9 1941.9,607.3 1942.1,607.6 1942.4,617.7 1942.7,610.2 1943,600.2 1943.2,606 1943.5,594.7 1943.8,602.2 1944,613 1944.3,623.8 1944.6,612.5 1944.9,606.4 1945.1,592.5 1945.4,608.9 1945.7,612.4 1945.9,606 1946.2,611.4 1946.5,598.9 1946.8,601.5 1947,604.5 1947.3,595.5 1947.6,614.3 1947.8,600.3 1948.1,606.2 1948.4,611.5 1948.7,609.4 1948.9,611 1949.2,602.1 1949.5,618.4 1949.7,618.6 1950,616.1 1950.3,618.1 1950.6,620.2 1950.8,615.8 1951.1,612.4 1951.4,606.9 1951.6,608.9 1951.9,613.3 1952.2,609.8 1952.5,615.6 1952.7,607.7 1953,605.9 1953.3,607.3 1953.5,617.5 1953.8,601.2 1954.1,601.5 1954.4,602.3 1954.6,605.1 1954.9,607.6 1955.2,612.6 1955.4,614.2 1955.7,612.8 1956,612.9 1956.3,614.2 1956.5,606 1956.8,604.4 1957.1,615.7 1957.3,608.7 1957.6,602.9 1957.9,603.5 1958.1,607.7 1958.4,616.1 1958.7,610.8 1959,606.8 1959.2,601.7 1959.5,611.2 1959.8,605.3 1960,597.4 1960.3,607 1960.6,607.5 1960.9,620.6 1961.1,614.9 1961.4,622.6 1961.7,612.8 1961.9,607 1962.2,612.3 1962.5,614.6 1962.8,614.5 1963,611.1 1963.3,605.4 1963.6,597.9 1963.8,620.5 1964.1,617.6 1964.4,624.1 1964.7,603 1964.9,605.6 1965.2,600.3 1965.5,606.2 1965.7,598.4 1966,618.4 1966.3,600 1966.6,618.3 1966.8,609.6 1967.1,601.7 1967.4,620.1 1967.6,616.1 1967.9,603.5 1968.2,608.1 1968.5,615.8 1968.7,611 1969,610.7 1969.3,608.7 1969.5,610.6 1969.8,616 1970.1,605.9 1970.4,623.4 1970.6,614.7 1970.9,602.7 1971.2,605.2 1971.4,615.8 1971.7,609.3 1972,608 1972.3,603.7 1972.5,613.1 1972.8,603.7 1973.1,619 1973.3,613.3 1973.6,606 1973.9,613.7 1974.2,614.1 1974.4,622 1974.7,602 1975,597.2 1975.2,611.2 1975.5,619.7 1975.8,607.7 1976.1,620.8 1976.3,605 1976.6,607 1976.9,624.1 1977.1,624.7 1977.4,602.9 1977.7,615.4 1977.9,605.7 1978.2,607.6 1978.5,605.9 1978.8,616.3 1979,612.9 1979.3,606.9 1979.6,611.9 1979.8,617.8 1980.1,612.6 1980.4,608.3 1980.7,615.8 1980.9,619.6 1981.2,619.9 1981.5,620.2 1981.7,624.6 1982,606.7 1982.3,613 1982.6,603 1982.8,620.2 1983.1,610.8 1983.4,615.1 1983.6,613.8 1983.9,605.2 1984.2,617.6 1984.5,618.5 1984.7,619.7 1985,617.7 1985.3,622.8 1985.5,608.7 1985.8,626.6 1986.1,611.6 1986.4,604.3 1986.6,618.6 1986.9,615.3 1987.2,619.9 1987.4,610.9 1987.7,613.6 1988,616 1988.3,616.2 1988.5,619.4 1988.8,620.1 1989.1,609.3 1989.3,619.7 1989.6,610 1989.9,600.8 1990.2,625.5 1990.4,609.3 1990.7,624.4 1991,605.3 1991.2,625.7 1991.5,608.1 1991.8,627 1992.1,619.3 1992.3,617.8 1992.6,615 1992.9,622.8 1993.1,607 1993.4,602.7 1993.7,608.9 1994,624.7 1994.2,624.6 1994.5,614.5 1994.8,601.8 1995,618.3 1995.3,610.7 1995.6,622.5 1995.9,613.8 1996.1,613.6 1996.4,621.3 1996.7,621.1 1996.9,614.1 1997.2,617.9 1997.5,616.3 1997.7,612.8 1998,619.8 1998.3,615.5 1998.6,619.4 1998.8,627.5 1999.1,604.5 1999.4,614.7 1999.6,611.1 1999.9,610.8 2000.2,616.5 2000.5,605.9 2000.7,610.1 2001,617.2 2001.3,612.9 2001.5,624.7 2001.8,625.9 2002.1,620 2002.4,615.3 2002.6,617.3 2002.9,618.4 2003.2,608.3 2003.4,620.3 2003.7,615.2 2004,616.8 2004.3,617.1 2004.5,614.6 2004.8,621.5 2005.1,607.9 2005.3,625.6 2005.6,625.9 2005.9,621.2 2006.2,612 2006.4,617.9 2006.7,625.6 2007,608.9 2007.2,625.8 2007.5,615 2007.8,619.2 2008.1,614.2 2008.3,611.6 2008.6,622.2 2008.9,617.4 2009.1,622 2009.4,621 2009.7,621.8 2010,616.2 2010.2,611.5 2010.5,619.5 2010.8,616.3 2011,627.2 2011.3,616.4 2011.6,625.6 2011.9,620.5 2012.1,625.1 2012.4,628.6 2012.7,613.6 2012.9,618.6 2013.2,610 2013.5,616 2013.8,620.4 2014,615 2014.3,620.4 2014.6,609.9 2014.8,612.8 2015.1,623.1 2015.4,626.7 2015.7,622.5 2015.9,619.1 2016.2,610.2 2016.5,613.2 2016.7,611.1 2017,620.4 2017.3,626.5 2017.5,621.3 2017.8,621.1 2018.1,614.1 2018.4,619.8 2018.6,622.7 2018.9,622.2 2019.2,626.2 2019.4,613.2 2019.7,612.5 2020,611.6 2020.3,612.3 2020.5,625.1 2020.8,612.4 2021.1,611 2021.3,629.6 2021.6,622.4 2021.9,608.9 2022.2,613.5 2022.4,619.5 2022.7,624.2 2023,629.9 2023.2,626.5 2023.5,618.9 2023.8,622.4 2024.1,622.2 2024.3,618.2 2024.6,623.1 2024.9,621.9 2025.1,622.6 2025.4,616.7 2025.7,618 2026,629.4 2026.2,607.2 2026.5,627.5 2026.8,619.3 2027,623.6 2027.3,617 2027.6,629 2027.9,611.7 2028.1,622.6 2028.4,630.5 2028.7,625.9 2028.9,621.3 2029.2,613 2029.5,610.5 2029.8,613.3 2030,620.2 2030.3,613.1 2030.6,615.2 2030.8,611.6 2031.1,617.8 2031.4,611.1 2031.7,628.4 2031.9,627.4 2032.2,621.4 2032.5,614.7 2032.7,619.3 2033,617 2033.3,621.1 2033.6,623.5 2033.8,611.9 2034.1,625.9 2034.4,619 2034.6,617.2 2034.9,615.4 2035.2,625 2035.4,614.8 2035.7,630.8 2036,633 2036.3,623.1 2036.5,618.6 2036.8,621.9 2037.1,625.3 2037.3,616.9 2037.6,627.9 2037.9,633.9 2038.2,616.8 2038.4,620.7 2038.7,618.2 2039,617.2 2039.2,624 2039.5,617.3 2039.8,628.3 2040.1,623 2040.3,623 2040.6,625.2 2040.9,618.4 2041.1,629.2 2041.4,629.9 2041.7,617.9 2042,620.1 2042.2,625.6 2042.5,609.1 2042.8,618.4 2043,616.5 2043.3,629.5 2043.6,622.7 2043.9,616.1 2044.1,620 2044.4,612.7 2044.7,620.9 2044.9,624.6 2045.2,627.3 2045.5,613.4 2045.8,623.4 2046,615.7 2046.3,622.9 2046.6,624.7 2046.8,618.4 2047.1,624.8 2047.4,626.2 2047.7,615 2047.9,628.5 2048.2,629.2 2048.5,625.4 2048.7,631.6 2049,623.6 2049.3,615 2049.6,624 2049.8,629.5 2050.1,617.5 2050.4,618.8 2050.6,620.3 2050.9,626.4 2051.2,617.1 2051.5,620.8 2051.7,625.9 2052,623.1 2052.3,613.7 2052.5,624.3 2052.8,613 2053.1,616.4 2053.4,626.6 2053.6,623.2 2053.9,619.9 2054.2,619 2054.4,624.5 2054.7,626.2 2055,626.9 2055.2,621.9 2055.5,624.9 2055.8,619.7 2056.1,627.8 2056.3,624.8 2056.6,612.8 2056.9,619.7 2057.1,623.3 2057.4,623.7 2057.7,622.1 2058,618.3 2058.2,612.6 2058.5,630.8 2058.8,626.5 2059,629.5 2059.3,626.9 2059.6,616.9 2059.9,618.5 2060.1,621.5 2060.4,613.2 2060.7,633.6 2060.9,614.1 2061.2,621.2 2061.5,623.2 2061.8,625.3 2062,618 2062.3,627.1 2062.6,633.7 2062.8,620.8 2063.1,623 2063.4,627.5 2063.7,612.7 2063.9,628.5 2064.2,625.7 2064.5,618.2 2064.7,615.3 2065,618.6 2065.3,616.6 2065.6,630.7 2065.8,619.2 2066.1,620 2066.4,624 2066.6,617.5 2066.9,619.8 2067.2,617 2067.5,620.7 2067.7,632.1 2068,630.7 2068.3,633.1 2068.5,614.8 2068.8,627.5 2069.1,615.3 2069.4,624.2 2069.6,627.4 2069.9,633.4 2070.2,630.9 2070.4,625.2 2070.7,620.4 2071,624.9 2071.3,618.7 2071.5,624.2 2071.8,623.1 2072.1,620.1 2072.3,625.4 2072.6,615.5 2072.9,630.9 2073.2,623 2073.4,625 2073.7,616.9 2074,623.3 2074.2,621.5 2074.5,631.2 2074.8,619.1 2075,620.5 2075.3,622.5 2075.6,626.4 2075.9,619.8 2076.1,623.5 2076.4,628.1 2076.7,618 2076.9,619.7 2077.2,620.1 2077.5,621.4 2077.8,618.1 2078,623.6 2078.3,628.3 2078.6,631.2 2078.8,629.6 2079.1,620.9 2079.4,624.1 2079.7,627.4 2079.9,617.8 2080.2,629.7 2080.5,637.4 2080.7,631.7 2081,616.2 2081.3,626.7 2081.6,621 2081.8,624.1 2082.1,632 2082.4,627 2082.6,624.5 2082.9,620.5 2083.2,632.3 2083.5,619.6 2083.7,617.8 2084,629.9 2084.3,616.9 2084.5,624.7 2084.8,620.1 2085.1,620.4 2085.4,634.3 2085.6,624.5 2085.9,618.3 2086.2,630.5 2086.4,618.1 2086.7,628.1 2087,634.8 2087.3,629.5 2087.5,625.5 2087.8,618.9 2088.1,630.6 2088.3,626.1 2088.6,629.6 2088.9,625.5 2089.2,618.7 2089.4,625.1 2089.7,623.8 2090,618.8 2090.2,627.3 2090.5,621.8 2090.8,629.5 2091.1,625.4 2091.3,619.6 2091.6,630.8 2091.9,623.4 2092.1,620.8 2092.4,630.8 2092.7,623.3 2093,631.6 2093.2,616.7 2093.5,631.7 2093.8,629.6 2094,628.7 2094.3,630.8 2094.6,629.5 2094.8,631.1 2095.1,623.1 2095.4,631.7 2095.7,626.6 2095.9,625.7 2096.2,630 2096.5,631 2096.7,613.1 2097,626.7 2097.3,630 2097.6,625.6 2097.8,628.9 2098.1,630.7 2098.4,626.4 2098.6,625.5 2098.9,626.9 2099.2,626.1 2099.5,622.1 2099.7,630.8 2100,628.6 2100.3,619.9 2100.5,632.3 2100.8,624.3 2101.1,622.3 2101.4,625.2 2101.6,617.9 2101.9,631.2 2102.2,625.5 2102.4,636.3 2102.7,628.5 2103,620.2 2103.3,628.7 2103.5,639.7 2103.8,623.6 2104.1,633 2104.3,624.7 2104.6,622.3 2104.9,623.5 2105.2,624.5 2105.4,625.5 2105.7,619.9 2106,621.9 2106.2,631.4 2106.5,620.7 2106.8,623.7 2107.1,624.6 2107.3,620.6 2107.6,627.5 2107.9,631.1 2108.1,626.1 2108.4,631.2 2108.7,622.5 2109,623.7 2109.2,630.2 2109.5,619.3 2109.8,630.1 2110,627.4 2110.3,628.3 2110.6,622.9 2110.9,623.6 2111.1,627.5 2111.4,633.8 2111.7,627 2111.9,629.5 2112.2,630.7 2112.5,626.4 2112.7,626.7 2113,622 2113.3,627.9 2113.6,625.4 2113.8,628.3 2114.1,627.6 2114.4,632.5 2114.6,627.9 2114.9,623.8 2115.2,621.6 2115.5,633.3 2115.7,619.5 2116,627 2116.3,624.4 2116.5,625.4 2116.8,626.2 2117.1,630.6 2117.4,617.4 2117.6,626.2 2117.9,637.2 2118.2,621.7 2118.4,624 2118.7,625.7 2119,631.6 2119.3,627.1 2119.5,625.1 2119.8,630.2 2120.1,628.3 2120.3,632.9 2120.6,624.1 2120.9,623.8 2121.2,629.6 2121.4,623.2 2121.7,626.7 2122,623.4 2122.2,631.4 2122.5,622.5 2122.8,637.8 2123.1,622 2123.3,627.3 2123.6,623.4 2123.9,632.6 2124.1,631.1 2124.4,628.4 2124.7,618 2125,631.1 2125.2,626.2 2125.5,632.4 2125.8,624.9 2126,625.8 2126.3,624.2 2126.6,632.7 2126.9,625.4 2127.1,622.1 2127.4,623.3 2127.7,626.7 2127.9,624.7 2128.2,635.5 2128.5,621.1 2128.8,628.5 2129,619.4 2129.3,628.8 2129.6,624.6 2129.8,627.7 2130.1,628.9 2130.4,622.1 2130.7,632.6 2130.9,633.5 2131.2,621.5 2131.5,631.2 2131.7,624 2132,627.9 2132.3,622 2132.5,626.5 2132.8,621.3 2133.1,626.4 2133.4,631.1 2133.6,631.1 2133.9,629 2134.2,627.1 2134.4,628.2 2134.7,626.7 2135,627.6 2135.3,633.2 2135.5,620.4 2135.8,625.6 2136.1,635.5 2136.3,633.7 2136.6,631.4 2136.9,634.4 2137.2,621.7 2137.4,625.1 2137.7,628.9 2138,622.2 2138.2,632.2 2138.5,625.2 2138.8,620.9 2139.1,622.1 2139.3,618.7 2139.6,619.7 2139.9,628.9 2140.1,628.8 2140.4,627.1 2140.7,626.1 2141,631.2 2141.2,627.8 2141.5,633 2141.8,635.7 2142,624.9 2142.3,625.5 2142.6,624.8 2142.9,624.4 2143.1,635.1 2143.4,630.3 2143.7,622.5 2143.9,620.3 2144.2,624.5 2144.5,621.2 2144.8,622.4 2145,623.4 2145.3,622.3 2145.6,633.1 2145.8,617.6 2146.1,625.5 2146.4,623.7 2146.7,623.2 2146.9,628.8 2147.2,627.7 2147.5,630.4 2147.7,622.4 2148,627.3 2148.3,636 2148.6,629.1 2148.8,625.2 2149.1,635.5 2149.4,633.6 2149.6,626.5 2149.9,628.2 2150.2,624.5 2150.5,632.5 2150.7,629.3 2151,620.1 2151.3,623.5 2151.5,619.8 2151.8,622.6 2152.1,632.9 2152.3,633.4 2152.6,631.2 2152.9,630.5 2153.2,624.5 2153.4,629.5 2153.7,634.5 2154,627.3 2154.2,629.3 2154.5,637 2154.8,633.2 2155.1,638.2 2155.3,633 2155.6,634.8 2155.9,625 2156.1,624.4 2156.4,635.3 2156.7,636 2157,627.4 2157.2,628.7 2157.5,628.3 2157.8,627.2 2158,630.6 2158.3,629.5 2158.6,636 2158.9,633.9 2159.1,634.9 2159.4,624.5 2159.7,626.8 2159.9,625 2160.2,625.8 2160.5,628.4 2160.8,627.5 2161,633.1 2161.3,632.6 2161.6,628.8 2161.8,632.5 2162.1,629.3 2162.4,623.9 2162.7,631.8 2162.9,631.2 2163.2,634.6 2163.5,627.8 2163.7,629.5 2164,624.7 2164.3,628.5 2164.6,628.3 2164.8,630.2 2165.1,633.4 2165.4,628.3 2165.6,628.2 2165.9,633.4 2166.2,634 2166.5,629.5 2166.7,628.8 2167,624 2167.3,630.3 2167.5,635 2167.8,628.9 2168.1,630.2 2168.4,625.2 2168.6,626.2 2168.9,628.5 2169.2,631.8 2169.4,626.7 2169.7,632.1 2170,625.3 2170.3,628.7 2170.5,635.6 2170.8,630.8 2171.1,626.1 2171.3,634.1 2171.6,632.8 2171.9,624.5 2172.1,624 2172.4,626.6 2172.7,627.6 2173,636.2 2173.2,628.7 2173.5,633 2173.8,620 2174,629.2 2174.3,624.5 2174.6,619.3 2174.9,632.4 2175.1,618.9 2175.4,628.8 2175.7,631.1 2175.9,633.2 2176.2,633.9 2176.5,623.1 2176.8,626.4 2177,632.1 2177.3,629.6 2177.6,633.9 2177.8,631 2178.1,622.7 2178.4,632.2 2178.7,629.2 2178.9,623.7 2179.2,633.3 2179.5,626.9 2179.7,632 2180,637.3 2180.3,625.2 2180.6,623.1 2180.8,628.8 2181.1,628.5 2181.4,632.8 2181.6,626.2 2181.9,634.3 2182.2,619.4 2182.5,636.5 2182.7,628.4 2183,630.7 2183.3,622.5 2183.5,632.7 2183.8,629.4 2184.1,632.6 2184.4,633.9 2184.6,626.4 2184.9,628.3 2185.2,636.1 2185.4,628.9 2185.7,637.5 2186,625.1 2186.3,628 2186.5,636.3 2186.8,631.8 2187.1,634.8 2187.3,632.9 2187.6,632.9 2187.9,633.5 2188.2,632.5 2188.4,630.4 2188.7,629.2 2189,628.1 2189.2,637.5 2189.5,636.3 2189.8,636.5 2190.1,637.3 2190.3,625.5 2190.6,633.6 2190.9,629.8 2191.1,634.7 2191.4,625.8 2191.7,626.7 2191.9,626.2 2192.2,628.3 2192.5,630.2 2192.8,628.4 2193,632.2 2193.3,630.7 2193.6,629.7 2193.8,628.1 2194.1,625 2194.4,636.1 2194.7,630.3 2194.9,626.3 2195.2,628.5 2195.5,627.9 2195.7,629.7 2196,628.8 2196.3,625 2196.6,628.5 2196.8,625.6 2197.1,634.5 2197.4,630.9 2197.6,633.5 2197.9,630.4 2198.2,632.5 2198.5,637.5 2198.7,630.9 2199,630.2 2199.3,632.5 2199.5,631 2199.8,631.9 2200.1,635.7 2200.4,636.1 2200.6,635.9 2200.9,632.8 2201.2,633.6 2201.4,626.2 2201.7,633.3 2202,634.9 2202.3,629.1 2202.5,632.7 2202.8,626.1 2203.1,624 2203.3,635.4 2203.6,631.9 2203.9,637.4 2204.2,629.7 2204.4,629.9 2204.7,633.1 2205,623.9 2205.2,628 2205.5,635.3 2205.8,631.3 2206.1,622.5 2206.3,628.8 2206.6,623.8 2206.9,628.6 2207.1,622.4 2207.4,623.7 2207.7,626.1 2208,634.8 2208.2,636.5 2208.5,631.4 2208.8,636.1 2209,629.9 2209.3,622.8 2209.6,633.8 2209.8,636.9 2210.1,633 2210.4,627 2210.7,634 2210.9,621.8 2211.2,629.8 2211.5,622 2211.7,629.4 2212,624.2 2212.3,626.6 2212.6,628.3 2212.8,626.8 2213.1,639.2 2213.4,635.1 2213.6,629.9 2213.9,631.3 2214.2,632 2214.5,632.8 2214.7,635.8 2215,628.1 2215.3,628.5 2215.5,631.9 2215.8,630.5 2216.1,628.5 2216.4,627.8 2216.6,634.2 2216.9,625.3 2217.2,628.7 2217.4,634 2217.7,634.3 2218,633.4 2218.3,636.4 2218.5,628.5 2218.8,632.7 2219.1,635.7 2219.3,631.2 2219.6,627.3 2219.9,636.3 2220.2,626.2 2220.4,628.8 2220.7,627.9 2221,625.8 2221.2,629.9 2221.5,632.7 2221.8,623.7 2222.1,636.7 2222.3,632.7 2222.6,635.9 2222.9,634.5 2223.1,625.1 2223.4,628.4 2223.7,628.9 2224,624.6 2224.2,635 2224.5,625.8 2224.8,635.7 2225,625.4 2225.3,634.2 2225.6,636.4 2225.9,623.1 2226.1,639 2226.4,631.7 2226.7,629.5 2226.9,627.4 2227.2,635.3 2227.5,620.2 2227.8,623.7 2228,624.3 2228.3,637.4 2228.6,625.9 2228.8,629.2 2229.1,631 2229.4,630.6 2229.6,629.8 2229.9,628.8 2230.2,634.5 2230.5,625.4 2230.7,624.7 2231,626.7 2231.3,633.3 2231.5,628.1 2231.8,635.4 2232.1,631.1 2232.4,627.3 2232.6,630.9 2232.9,624.4 2233.2,634.6 2233.4,636.4 2233.7,631 2234,634.4 2234.3,633.3 2234.5,627 2234.8,623.2 2235.1,635.9 2235.3,627.8 2235.6,629.9 2235.9,629.9 2236.2,630 2236.4,625.8 2236.7,630.3 2237,628 2237.2,629.8 2237.5,629.6 2237.8,627.2 2238.1,629.8 2238.3,624.7 2238.6,628.5 2238.9,629.9 2239.1,631.4 2239.4,630.1 2239.7,623.8 2240,626 2240.2,629.8 2240.5,632.1 2240.8,635.5 2241,626.7 2241.3,637.8 2241.6,633.5 2241.9,630.4 2242.1,627.7 2242.4,625.7 2242.7,628.7 2242.9,624.6 2243.2,632.2 2243.5,632.1 2243.8,635.3 2244,633.3 2244.3,631.3 2244.6,624.4 2244.8,629.5 2245.1,635.6 2245.4,630.7 2245.7,626.5 2245.9,630.9 2246.2,626.9 2246.5,631.2 2246.7,637.3 2247,625.7 2247.3,635 2247.6,633.6 2247.8,635 2248.1,632.6 2248.4,626.3 2248.6,623.4 2248.9,631.4 2249.2,626.1 2249.4,632.8 2249.7,628.5 2250,635.2 2250.3,634.4 2250.5,630.3 2250.8,634.8 2251.1,629.7 2251.3,637.9 2251.6,631.2 2251.9,634.4 2252.2,631.4 2252.4,624.6 2252.7,627.7 2253,630.3 2253.2,636.2 2253.5,630.6 2253.8,635.2 2254.1,631 2254.3,633.2 2254.6,626.2 2254.9,629.5 2255.1,635.4 2255.4,624.6 2255.7,630.8 2256,632 2256.2,624.1 2256.5,635.1 2256.8,626 2257,637.6 2257.3,629.9 2257.6,623.2 2257.9,623.3 2258.1,626.2 2258.4,635.6 2258.7,627.5 2258.9,630.1 2259.2,636.1 2259.5,624.7 2259.8,633.4 2260,628.7 2260.3,624 2260.6,623.3 2260.8,627.3 2261.1,624.1 2261.4,632.4 2261.7,634.6 2261.9,634.5 2262.2,626.2 2262.5,625.4 2262.7,633.7 2263,629 2263.3,631.5 2263.6,635.3 2263.8,629.6 2264.1,635.5 2264.4,632.7 2264.6,629 2264.9,638.1 2265.2,629 2265.5,629.1 2265.7,629.8 2266,629.5 2266.3,634.7 2266.5,626.3 2266.8,639.8 2267.1,637.2 2267.4,625.1 2267.6,626.2 2267.9,628.2 2268.2,633.6 2268.4,630.6 2268.7,620 2269,632.5 2269.2,630.9 2269.5,626.3 2269.8,634.2 2270.1,633.9 2270.3,635.1 2270.6,634.1 2270.9,628.4 2271.1,626.6 2271.4,633.1 2271.7,631.6 2272,627.8 2272.2,625.5 2272.5,634.4 2272.8,626.6 2273,622.2 2273.3,633.6 2273.6,631.2 2273.9,630.9 2274.1,627 2274.4,625.7 2274.7,633 2274.9,638.1 2275.2,625.3 2275.5,631.1 2275.8,633.9 2276,633.5 2276.3,635.5 2276.6,636.3 2276.8,632.3 2277.1,630.4 2277.4,630.8 2277.7,632.6 2277.9,633.5 2278.2,641 2278.5,626.2 2278.7,628.2 2279,629.1 2279.3,632.7 2279.6,637.2 2279.8,631.9 2280.1,629.6 2280.4,634.2 2280.6,629.1 2280.9,623.6 2281.2,637.8 2281.5,638.1 2281.7,639.9 2282,628.8 2282.3,632.7 2282.5,637.6 2282.8,629.3 2283.1,635.1 2283.4,636.2 2283.6,626.8 2283.9,634.3 2284.2,636 2284.4,628.7 2284.7,631.8 2285,632.9 2285.3,625.6 2285.5,623.6 2285.8,627.5 2286.1,634.7 2286.3,635.9 2286.6,637.3 2286.9,639.9 2287.1,632.5 2287.4,627.7 2287.7,631.2 2288,633.2 2288.2,632.5 2288.5,638.1 2288.8,622.8 2289,627.7 2289.3,632.2 2289.6,628.2 2289.9,636.5 2290.1,633.6 2290.4,623.9 2290.7,634.8 2290.9,627.5 2291.2,631.1 2291.5,626.6 2291.8,636.6 2292,633.5 2292.3,627.7 2292.6,634.9 2292.8,627.2 2293.1,626.2 2293.4,629.2 2293.7,632.2 2293.9,636.3 2294.2,634.1 2294.5,632.2 2294.7,629.3 2295,633.3 2295.3,631.9 2295.6,633.8 2295.8,631.4 2296.1,630.8 2296.4,628 2296.6,632.7 2296.9,627.6 2297.2,632.3 2297.5,634.9 2297.7,631.2 2298,638.1 2298.3,626.4 2298.5,633 2298.8,631.7 2299.1,628.5 2299.4,633.2 2299.6,628.2 2299.9,627.1 2300.2,626.2 2300.4,633.5 2300.7,635.8 2301,630.6 2301.3,630.6 2301.5,636.8 2301.8,625.7 2302.1,628.2 2302.3,634.2 2302.6,632.3 2302.9,633.3 2303.2,634.1 2303.4,628.3 2303.7,624.6 2304,636.9 2304.2,631.2 2304.5,629.7 2304.8,632.3 2305.1,638.7 2305.3,632.6 2305.6,635.5 2305.9,628 2306.1,634.3 2306.4,629.4 2306.7,622.2 2306.9,634.5 2307.2,628 2307.5,628.7 2307.8,633.1 2308,634.1 2308.3,636.5 2308.6,631.3 2308.8,638.2 2309.1,626.9 2309.4,634.9 2309.7,622.8 2309.9,632.4 2310.2,634.6 2310.5,632.9 2310.7,638.2 2311,624.5 2311.3,630.8 2311.6,637.5 2311.8,625.9 2312.1,630.2 2312.4,633.8 2312.6,633.7 2312.9,631.2 2313.2,628.3 2313.5,633.3 2313.7,632.4 2314,637.3 2314.3,635.6 2314.5,633.2 2314.8,629.8 2315.1,634.5 2315.4,638 2315.6,632.7 2315.9,634.8 2316.2,626.6 2316.4,630 2316.7,638.6 2317,629.6 2317.3,629.1 2317.5,625.7 2317.8,630.3 2318.1,634.1 2318.3,628.4 2318.6,626.7 2318.9,628.8 2319.2,629.7 2319.4,628.1 2319.7,633.8 2320,631.3 2320.2,635.2 2320.5,632 2320.8,628.6 2321.1,632.5 2321.3,638.4 2321.6,630.7 2321.9,635.2 2322.1,635.4 2322.4,629.1 2322.7,633.4 2323,641.3 2323.2,629.2 2323.5,632 2323.8,634.1 2324,633.1 2324.3,637.2 2324.6,629.5 2324.9,630.9 2325.1,631.3 2325.4,632.9 2325.7,631.7 2325.9,629.7 2326.2,630.6 2326.5,637 2326.7,631.7 2327,630.8 2327.3,633.5 2327.6,630.3 2327.8,629.5 2328.1,636.7 2328.4,630.5 2328.6,630.9 2328.9,633.3 2329.2,626.2 2329.5,629.8 2329.7,622.3 2330,625.1 2330.3,634.1 2330.5,636.4 2330.8,630.5 2331.1,631.5 2331.4,631.4 2331.6,629.3 2331.9,637.9 2332.2,630.3 2332.4,634 2332.7,628.8 2333,640.1 2333.3,627.8 2333.5,634.7 2333.8,638.6 2334.1,637.9 2334.3,638.3 2334.6,628.7 2334.9,635.7 2335.2,636.5 2335.4,635.2 2335.7,638.7 2336,629.3 2336.2,635 2336.5,628.9 2336.8,633.3 2337.1,629.5 2337.3,632.8 2337.6,635.1 2337.9,634.7 2338.1,624.9 2338.4,636 2338.7,629.4 2339,625.9 2339.2,634.8 2339.5,637.3 2339.8,633.4 2340,631.5 2340.3,626.1 2340.6,628.2 2340.9,636.4 2341.1,636.8 2341.4,630.4 2341.7,632.2 2341.9,627 2342.2,637.3 2342.5,628.6 2342.8,632.6 2343,635.6 2343.3,633.6 2343.6,635.9 2343.8,629.5 2344.1,630.1 2344.4,626.7 2344.7,630.1 2344.9,634.9 2345.2,636.1 2345.5,628.7 2345.7,636 2346,634.1 2346.3,632.3 2346.5,625.5 2346.8,631.4 2347.1,627.3 2347.4,631.5 2347.6,631.2 2347.9,625.9 2348.2,633.8 2348.4,627.6 2348.7,628.5 2349,631.2 2349.3,632.9 2349.5,626 2349.8,632.8 2350.1,637 2350.3,628.4 2350.6,628.9 2350.9,631.4 2351.2,629.3 2351.4,629.9 2351.7,625.4 2352,633.3 2352.2,634.6 2352.5,630.2 2352.8,631.2 2353.1,632 2353.3,630.6 2353.6,632.1 2353.9,639.3 2354.1,635.7 2354.4,632.2 2354.7,629.6 2355,635 2355.2,629.3 2355.5,631 2355.8,636.6 2356,626.5 2356.3,629.7 2356.6,634.6 2356.9,639 2357.1,635.4 2357.4,631.9 2357.7,641.3 2357.9,632.7 2358.2,633.4 2358.5,625.1 2358.8,634.4 2359,633.1 2359.3,627.4 2359.6,630.1 2359.8,635.9 2360.1,625.8 2360.4,637.6 2360.7,637.5 2360.9,637 2361.2,630.8 2361.5,630.5 2361.7,631.6 2362,636.4 2362.3,625.6 2362.6,636.7 2362.8,634.6 2363.1,632.9 2363.4,632.7 2363.6,636.8 2363.9,635.6 2364.2,625.3 2364.5,625.8 2364.7,633.3 2365,639.6 2365.3,631.8 2365.5,639 2365.8,637.1 2366.1,634.1 2366.3,635.3 2366.6,633.9 2366.9,628.4 2367.2,636 2367.4,633.9 2367.7,638.2 2368,624.4 2368.2,627.3 2368.5,633.1 2368.8,629.3 2369.1,632.4 2369.3,632.7 2369.6,639.4 2369.9,629.5 2370.1,636.6 2370.4,636.4 2370.7,630.5 2371,627.2 2371.2,627.2 2371.5,636.2 2371.8,639.3 2372,634.1 2372.3,632.7 2372.6,633.8 2372.9,634.3 2373.1,632.7 2373.4,632.8 2373.7,624.9 2373.9,628.9 2374.2,635.8 2374.5,627 2374.8,634.7 2375,636.1 2375.3,633.1 2375.6,640.1 2375.8,628.2 2376.1,630.4 2376.4,632.4 2376.7,634 2376.9,638.7 2377.2,630.8 2377.5,633.6 2377.7,629.4 2378,637.2 2378.3,630.6 2378.6,627.9 2378.8,628 2379.1,629.1 2379.4,628.5 2379.6,632.6 2379.9,632.2 2380.2,627.3 2380.5,631 2380.7,636.7 2381,634 2381.3,635.5 2381.5,633.9 2381.8,634.6 2382.1,637.6 2382.4,632.2 2382.6,631.5 2382.9,632 2383.2,631.3 2383.4,636.4 2383.7,636.9 2384,626.8 2384.2,637.1 2384.5,634.6 2384.8,628.1 2385.1,629.9 2385.3,633.1 2385.6,636.8 2385.9,634 2386.1,628.4 2386.4,625.4 2386.7,634.7 2387,637.1 2387.2,636.9 2387.5,629.2 2387.8,636.6 2388,627 2388.3,625.6 2388.6,637.6 2388.9,630.6 2389.1,635.5 2389.4,635.7 2389.7,629.1 2389.9,631.4 2390.2,637.7 2390.5,636.9 2390.8,633.2 2391,626.4 2391.3,627.6 2391.6,634.9 2391.8,636.6 2392.1,636.4 2392.4,631.3 2392.7,628.2 2392.9,629.2 2393.2,629.1 2393.5,632.9 2393.7,630.4 2394,633.5 2394.3,627.1 2394.6,629.5 2394.8,629.2 2395.1,635.5 2395.4,633.7 2395.6,636.6 2395.9,633.1 2396.2,635 2396.5,634.6 2396.7,631.6 2397,633 2397.3,633.7 2397.5,631.3 2397.8,631 2398.1,634 2398.4,633.9 2398.6,627.5 2398.9,636.7 2399.2,630.1 2399.4,637.1 2399.7,630.8 2400,632.4 2400.3,627.5 2400.5,625.8 2400.8,629.8 2401.1,629.3 2401.3,632.4 2401.6,633.7 2401.9,635.7 2402.2,636.6 2402.4,631.2 2402.7,637.1 2403,632.2 2403.2,633.4 2403.5,634.7 2403.8,636.7 2404,635.7 2404.3,636 2404.6,633.1 2404.9,635.4 2405.1,633.5 2405.4,638.6 2405.7,629 2405.9,628.9 2406.2,633.1 2406.5,634.6 2406.8,627 2407,634.8 2407.3,632.1 2407.6,636.8 2407.8,631.6 2408.1,630.4 2408.4,634 2408.7,637.6 2408.9,631.6 2409.2,635 2409.5,631.1 2409.7,626.3 2410,633.4 2410.3,629.7 2410.6,630.6 2410.8,635.7 2411.1,632 2411.4,629.5 2411.6,637.7 2411.9,639.7 2412.2,629.4 2412.5,630.5 2412.7,639.3 2413,635.9" fill="none" stroke="#056de4" stroke-width="3.6" stroke-linejoin="round" stroke-linecap="butt" />
<polyline points="1463.7,719.9 1464,723 1464.2,720.6 1464.5,728.2 1464.8,731.1 1465.1,736.5 1465.3,734.2 1465.6,723.2 1465.9,719.1 1466.1,731.6 1466.4,724.3 1466.7,720.8 1467,724.7 1467.2,721.6 1467.5,719.1 1467.8,726.1 1468,716.2 1468.3,711 1468.6,726.3 1468.9,733.4 1469.1,716.8 1469.4,721.2 1469.7,718.1 1469.9,723.3 1470.2,729.4 1470.5,724.6 1470.8,731.4 1471,728.2 1471.3,726.1 1471.6,725.2 1471.8,730.7 1472.1,728.9 1472.4,716.5 1472.7,732.8 1472.9,727.9 1473.2,721.5 1473.5,723.5 1473.7,719.1 1474,714.5 1474.3,726.7 1474.5,718.8 1474.8,708.3 1475.1,726.7 1475.4,723.8 1475.6,724.7 1475.9,729.9 1476.2,724.9 1476.4,716.8 1476.7,712.7 1477,728.5 1477.3,721.9 1477.5,729.7 1477.8,727.1 1478.1,717.6 1478.3,726.2 1478.6,722.7 1478.9,715.9 1479.2,720.7 1479.4,718.3 1479.7,713.6 1480,712 1480.2,708.1 1480.5,711.5 1480.8,710.9 1481.1,711.6 1481.3,719.5 1481.6,714.9 1481.9,709.4 1482.1,709.3 1482.4,702.3 1482.7,701.3 1483,714 1483.2,702.8 1483.5,708.9 1483.8,706.9 1484,710.3 1484.3,709.8 1484.6,707.6 1484.9,700.9 1485.1,707 1485.4,696.7 1485.7,697.3 1485.9,704.5 1486.2,702.3 1486.5,703.5 1486.8,694.6 1487,709.1 1487.3,696 1487.6,696.8 1487.8,707.9 1488.1,694.2 1488.4,691.4 1488.7,691 1488.9,692.4 1489.2,696.1 1489.5,689.1 1489.7,696.1 1490,690.7 1490.3,695.3 1490.6,703.2 1490.8,684.8 1491.1,683 1491.4,694 1491.6,688.6 1491.9,690.5 1492.2,699.7 1492.5,692.7 1492.7,688.9 1493,690.2 1493.3,686.2 1493.5,688 1493.8,689.5 1494.1,702.4 1494.3,708.3 1494.6,687.1 1494.9,688.1 1495.2,694.3 1495.4,688 1495.7,683.7 1496,702.3 1496.2,704.1 1496.5,689.7 1496.8,699.1 1497.1,692.1 1497.3,695.1 1497.6,694.2 1497.9,692.4 1498.1,697.8 1498.4,689.1 1498.7,689.6 1499,702.4 1499.2,696.4 1499.5,697.8 1499.8,701.7 1500,698.9 1500.3,700.6 1500.6,698 1500.9,689.9 1501.1,706.7 1501.4,689.2 1501.7,707.4 1501.9,702 1502.2,699.3 1502.5,698.9 1502.8,713.6 1503,718.7 1503.3,707.1 1503.6,714.6 1503.8,702 1504.1,708.6 1504.4,704.3 1504.7,710.3 1504.9,695.7 1505.2,715 1505.5,718.3 1505.7,712.9 1506,702.1 1506.3,715 1506.6,705.3 1506.8,724.9 1507.1,723.5 1507.4,709.7 1507.6,722.9 1507.9,727.8 1508.2,715.3 1508.5,726.1 1508.7,724.6 1509,726.8 1509.3,710.5 1509.5,737 1509.8,708.3 1510.1,714.8 1510.4,720 1510.6,720.3 1510.9,720.6 1511.2,734.7 1511.4,716.8 1511.7,713.1 1512,728.1 1512.2,718.4 1512.5,733.1 1512.8,719.4 1513.1,723.2 1513.3,718.8 1513.6,731.4 1513.9,733.9 1514.1,723.4 1514.4,722.6 1514.7,735.4 1515,731.4 1515.2,731 1515.5,731.4 1515.8,725.2 1516,732.1 1516.3,726 1516.6,724.1 1516.9,736.8 1517.1,734.7 1517.4,716.9 1517.7,737.3 1517.9,722.7 1518.2,728.6 1518.5,718.3 1518.8,725.7 1519,724.2 1519.3,725.3 1519.6,720.3 1519.8,722.8 1520.1,728 1520.4,725.2 1520.7,717.5 1520.9,724.8 1521.2,711.1 1521.5,724 1521.7,716.6 1522,722.6 1522.3,724 1522.6,722.3 1522.8,725.1 1523.1,719.7 1523.4,715 1523.6,721.8 1523.9,715 1524.2,717.2 1524.5,721.2 1524.7,729.6 1525,717.6 1525.3,712.8 1525.5,714.8 1525.8,724.8 1526.1,712 1526.4,729.4 1526.6,711.9 1526.9,707.5 1527.2,719 1527.4,720.8 1527.7,717.5 1528,708.5 1528.3,719.5 1528.5,716.8 1528.8,714.1 1529.1,708 1529.3,718.5 1529.6,717 1529.9,701.5 1530.2,723.9 1530.4,716.2 1530.7,709 1531,716.9 1531.2,703 1531.5,715.7 1531.8,727.7 1532,711.5 1532.3,709.7 1532.6,713.3 1532.9,705.3 1533.1,721.8 1533.4,718.1 1533.7,709.2 1533.9,695.2 1534.2,721.5 1534.5,709.5 1534.8,717.1 1535,722.3 1535.3,714.6 1535.6,711.5 1535.8,714.1 1536.1,719.9 1536.4,706.2 1536.7,713.5 1536.9,704.1 1537.2,714.4 1537.5,719 1537.7,716.3 1538,711.5 1538.3,704.3 1538.6,713 1538.8,712.5 1539.1,703.5 1539.4,705.4 1539.6,705.2 1539.9,702.2 1540.2,719.1 1540.5,711.7 1540.7,699 1541,708.2 1541.3,720.4 1541.5,704.2 1541.8,713.4 1542.1,705.7 1542.4,713.7 1542.6,719.3 1542.9,712.4 1543.2,716.7 1543.4,709.1 1543.7,713.6 1544,713.3 1544.3,701.9 1544.5,702.3 1544.8,708 1545.1,709.6 1545.3,702.2 1545.6,704.1 1545.9,709.8 1546.2,706 1546.4,712.1 1546.7,715.5 1547,706.8 1547.2,712.4 1547.5,702.4 1547.8,702 1548.1,707.6 1548.3,713 1548.6,700.9 1548.9,703.9 1549.1,721 1549.4,709.8 1549.7,700 1550,693.3 1550.2,697.6 1550.5,701.3 1550.8,695 1551,700.2 1551.3,709.5 1551.6,693.8 1551.8,696.4 1552.1,704.3 1552.4,705.1 1552.7,708.6 1552.9,698.9 1553.2,701.9 1553.5,704.1 1553.7,690.2 1554,701.2 1554.3,698.1 1554.6,692.8 1554.8,694.1 1555.1,704.6 1555.4,700.6 1555.6,690.5 1555.9,707.5 1556.2,687.1 1556.5,686.3 1556.7,701.4 1557,697.4 1557.3,690.9 1557.5,697 1557.8,692.7 1558.1,691.1 1558.4,692.8 1558.6,692.2 1558.9,692.4 1559.2,676.9 1559.4,688.7 1559.7,694.5 1560,676 1560.3,687.5 1560.5,678.7 1560.8,682 1561.1,695 1561.3,678.3 1561.6,691.8 1561.9,689.8 1562.2,680.3 1562.4,688.2 1562.7,689.8 1563,682.9 1563.2,685.8 1563.5,682 1563.8,689.3 1564.1,686.6 1564.3,681.4 1564.6,668.8 1564.9,686.4 1565.1,677.6 1565.4,682.4 1565.7,685.4 1566,674.4 1566.2,674.7 1566.5,671.6 1566.8,676.7 1567,680 1567.3,686.1 1567.6,685.9 1567.9,677.2 1568.1,674.3 1568.4,672.5 1568.7,668.1 1568.9,684.5 1569.2,676.3 1569.5,658.5 1569.8,673.8 1570,674.5 1570.3,680.8 1570.6,654.9 1570.8,670.3 1571.1,674.1 1571.4,677.1 1571.6,671.3 1571.9,653.3 1572.2,671.7 1572.5,665.1 1572.7,664.5 1573,662.9 1573.3,664.1 1573.5,666.3 1573.8,661.5 1574.1,669.1 1574.4,669.9 1574.6,671.8 1574.9,656.8 1575.2,669.2 1575.4,669.7 1575.7,651.3 1576,651.5 1576.3,666 1576.5,653.6 1576.8,649.1 1577.1,652.3 1577.3,660.8 1577.6,655.1 1577.9,646.4 1578.2,647 1578.4,635.8 1578.7,646.2 1579,651.9 1579.2,653.3 1579.5,638.7 1579.8,646.4 1580.1,663.3 1580.3,636.4 1580.6,642 1580.9,640.5 1581.1,648.7 1581.4,646.6 1581.7,641.9 1582,639.5 1582.2,639.5 1582.5,632.4 1582.8,644.5 1583,623 1583.3,632 1583.6,640.6 1583.9,633.2 1584.1,632.2 1584.4,635.9 1584.7,616.9 1584.9,623.9 1585.2,625.8 1585.5,632.3 1585.8,641.5 1586,630.8 1586.3,607.9 1586.6,608.3 1586.8,617 1587.1,625.6 1587.4,608.1 1587.7,621.8 1587.9,610 1588.2,603.4 1588.5,630.3 1588.7,614.9 1589,622.6 1589.3,610.7 1589.6,620.5 1589.8,621.1 1590.1,607.4 1590.4,624 1590.6,613.9 1590.9,618.8 1591.2,603.8 1591.4,595.4 1591.7,609.5 1592,612.3 1592.3,596.6 1592.5,603.4 1592.8,612.3 1593.1,600.3 1593.3,606.3 1593.6,600.2 1593.9,619.9 1594.2,609 1594.4,607 1594.7,606.7 1595,607.9 1595.2,608.1 1595.5,613.8 1595.8,618.4 1596.1,611.2 1596.3,624.3 1596.6,624.2 1596.9,619.2 1597.1,603.6 1597.4,612.4 1597.7,607 1598,602.4 1598.2,619.1 1598.5,605.8 1598.8,617.3 1599,620 1599.3,629.7 1599.6,609.5 1599.9,615.1 1600.1,628.6 1600.4,597.7 1600.7,631.8 1600.9,612.1 1601.2,615.7 1601.5,609.3 1601.8,610.9 1602,611.8 1602.3,625.5 1602.6,627.8 1602.8,627.8 1603.1,629.7 1603.4,613.4 1603.7,610 1603.9,641 1604.2,623.5 1604.5,620.7 1604.7,628.3 1605,615.3 1605.3,639.5 1605.6,624.6 1605.8,641.5 1606.1,638 1606.4,625 1606.6,642.5 1606.9,626.2 1607.2,630 1607.5,648.9 1607.7,634.8 1608,654.1 1608.3,641.3 1608.5,650.9 1608.8,658 1609.1,637 1609.3,641.7 1609.6,636.2 1609.9,652 1610.2,647.6 1610.4,649.9 1610.7,651.2 1611,633.1 1611.2,654.1 1611.5,636.7 1611.8,651.2 1612.1,637.7 1612.3,634.6 1612.6,661.4 1612.9,636.1 1613.1,647.8 1613.4,628.4 1613.7,645.7 1614,667.4 1614.2,652.2 1614.5,649.4 1614.8,642 1615,657.2 1615.3,643.9 1615.6,635.3 1615.9,639.6 1616.1,625.2 1616.4,659.2 1616.7,662.3 1616.9,641 1617.2,645.3 1617.5,669.2 1617.8,662.4 1618,665.6 1618.3,642.4 1618.6,655 1618.8,641.9 1619.1,657.2 1619.4,659.8 1619.7,655.3 1619.9,657.6 1620.2,647.7 1620.5,651.8 1620.7,656.7 1621,663.7 1621.3,643.5 1621.6,665.4 1621.8,656.7 1622.1,664.9 1622.4,656.6 1622.6,671 1622.9,648.3 1623.2,641.9 1623.5,666.8 1623.7,659.9 1624,653.3 1624.3,655.4 1624.5,659.6 1624.8,657.2 1625.1,656.8 1625.4,661.4 1625.6,666.9 1625.9,668.9 1626.2,655.5 1626.4,642.4 1626.7,641.8 1627,640.2 1627.3,661.6 1627.5,656.1 1627.8,650.3 1628.1,649.5 1628.3,648.7 1628.6,636.8 1628.9,652 1629.1,645 1629.4,643.1 1629.7,670.4 1630,663.4 1630.2,650.9 1630.5,664.7 1630.8,650.7 1631,673.3 1631.3,664.2 1631.6,665.7 1631.9,647.4 1632.1,654.5 1632.4,666 1632.7,667 1632.9,664.1 1633.2,653.6 1633.5,669.6 1633.8,659 1634,655.2 1634.3,649.6 1634.6,647.1 1634.8,647.3 1635.1,651.5 1635.4,646.8 1635.7,672.6 1635.9,653.6 1636.2,651.1 1636.5,649.1 1636.7,646.6 1637,660.2 1637.3,662.2 1637.6,663.8 1637.8,657.6 1638.1,664.4 1638.4,659.8 1638.6,645.8 1638.9,657.7 1639.2,646.7 1639.5,661.1 1639.7,633.9 1640,672.9 1640.3,649 1640.5,664.4 1640.8,660.5 1641.1,657.4 1641.4,662.3 1641.6,654.3 1641.9,661.2 1642.2,649.5 1642.4,646.6 1642.7,653.9 1643,666.4 1643.3,649.2 1643.5,653.9 1643.8,661.8 1644.1,645 1644.3,646.7 1644.6,663.1 1644.9,674.2 1645.2,641.8 1645.4,655.6 1645.7,661.7 1646,678.3 1646.2,666.5 1646.5,663.9 1646.8,683.9 1647.1,669.2 1647.3,659.5 1647.6,665.2 1647.9,655.4 1648.1,653 1648.4,670.7 1648.7,657.8 1648.9,667.5 1649.2,679.9 1649.5,634.4 1649.8,670.3 1650,649.5 1650.3,650.5 1650.6,665.5 1650.8,663.8 1651.1,659.7 1651.4,658 1651.7,666.8 1651.9,640.6 1652.2,663.2 1652.5,664.9 1652.7,649.8 1653,672.4 1653.3,674.1 1653.6,659.1 1653.8,661.5 1654.1,674.6 1654.4,652.1 1654.6,652 1654.9,659.3 1655.2,645.4 1655.5,662.4 1655.7,654.7 1656,655.2 1656.3,658.7 1656.5,664 1656.8,657.2 1657.1,660.9 1657.4,672.6 1657.6,653.8 1657.9,650.6 1658.2,670.2 1658.4,674.3 1658.7,681.2 1659,653.8 1659.3,651.1 1659.5,669.7 1659.8,671.5 1660.1,664.8 1660.3,685 1660.6,644.3 1660.9,666.1 1661.2,648.8 1661.4,674.6 1661.7,681.5 1662,651.7 1662.2,674.3 1662.5,660.2 1662.8,676.9 1663.1,658.5 1663.3,651.2 1663.6,667.9 1663.9,665.8 1664.1,678.5 1664.4,660.5 1664.7,667.8 1665,667.7 1665.2,660.8 1665.5,652.5 1665.8,663.3 1666,659.6 1666.3,666.7 1666.6,654 1666.9,650.8 1667.1,679.5 1667.4,671.4 1667.7,673.8 1667.9,664.9 1668.2,681.9 1668.5,680.5 1668.7,671.7 1669,643.4 1669.3,675.7 1669.6,667.2 1669.8,673.9 1670.1,642.7 1670.4,658.9 1670.6,670 1670.9,671.3 1671.2,662.1 1671.5,655.7 1671.7,678.1 1672,668.6 1672.3,651 1672.5,671.7 1672.8,657.2 1673.1,668.8 1673.4,662.9 1673.6,668.8 1673.9,675.2 1674.2,675.2 1674.4,679.1 1674.7,649.2 1675,676 1675.3,659.9 1675.5,661.4 1675.8,679.1 1676.1,673 1676.3,660 1676.6,665.5 1676.9,667.2 1677.2,670.3 1677.4,653.2 1677.7,680.1 1678,656.2 1678.2,654.8 1678.5,676.2 1678.8,677.6 1679.1,648 1679.3,678.1 1679.6,669.7 1679.9,652.2 1680.1,653.6 1680.4,667.9 1680.7,691.6 1681,678.8 1681.2,666.9 1681.5,657.9 1681.8,668.7 1682,671.3 1682.3,668.2 1682.6,653.4 1682.9,685.1 1683.1,663.1 1683.4,677.3 1683.7,662.6 1683.9,670.3 1684.2,663.2 1684.5,689.3 1684.8,684.6 1685,664.3 1685.3,666.4 1685.6,683.4 1685.8,660.9 1686.1,664.2 1686.4,682.5 1686.6,649.4 1686.9,670.2 1687.2,677.5 1687.5,681.6 1687.7,683.9 1688,667.5 1688.3,665.2 1688.5,689.8 1688.8,681.1 1689.1,673.7 1689.4,675 1689.6,661.2 1689.9,663.4 1690.2,654.3 1690.4,665.5 1690.7,684.4 1691,665.7 1691.3,649.8 1691.5,668.9 1691.8,676.3 1692.1,667.5 1692.3,686.9 1692.6,681.3 1692.9,663.5 1693.2,680.2 1693.4,692 1693.7,669 1694,654.9 1694.2,660.3 1694.5,676.7 1694.8,679.7 1695.1,669.3 1695.3,675.4 1695.6,686.9 1695.9,659.5 1696.1,683.4 1696.4,681.2 1696.7,664.5 1697,660.5 1697.2,693.9 1697.5,670.7 1697.8,665.5 1698,666 1698.3,674.7 1698.6,659.4 1698.9,675.5 1699.1,678.2 1699.4,679.5 1699.7,675.9 1699.9,691.6 1700.2,668.5 1700.5,664.5 1700.8,681 1701,667.8 1701.3,684.4 1701.6,682.2 1701.8,693.3 1702.1,693.2 1702.4,671.8 1702.7,677.7 1702.9,678.9 1703.2,687.4 1703.5,678 1703.7,672.2 1704,669 1704.3,679.7 1704.6,661.5 1704.8,686.4 1705.1,693.6 1705.4,678.4 1705.6,678.7 1705.9,686.4 1706.2,670.8 1706.4,692.9 1706.7,692.6 1707,670.2 1707.3,661.8 1707.5,685.3 1707.8,685.6 1708.1,672.7 1708.3,686.5 1708.6,694 1708.9,698.8 1709.2,671.2 1709.4,681.8 1709.7,687.5 1710,689.4 1710.2,672 1710.5,697.8 1710.8,681.1 1711.1,678.6 1711.3,687.7 1711.6,703.1 1711.9,689.3 1712.1,683.2 1712.4,685.4 1712.7,699.1 1713,693 1713.2,678.4 1713.5,683.7 1713.8,688.2 1714,692.9 1714.3,694.5 1714.6,687.2 1714.9,697.1 1715.1,694.7 1715.4,698.1 1715.7,701.6 1715.9,695.8 1716.2,689.1 1716.5,676.6 1716.8,698.7 1717,684.4 1717.3,704.6 1717.6,675.1 1717.8,687 1718.1,699.8 1718.4,688.1 1718.7,703.1 1718.9,705.2 1719.2,687.9 1719.5,701.2 1719.7,706.9 1720,682.7 1720.3,697.8 1720.6,700.5 1720.8,698.4 1721.1,697.1 1721.4,710.1 1721.6,707.6 1721.9,714.2 1722.2,687.9 1722.5,707.2 1722.7,693.2 1723,695.5 1723.3,691.7 1723.5,704.4 1723.8,689.5 1724.1,704.8 1724.4,701.4 1724.6,701.2 1724.9,688.8 1725.2,702.7 1725.4,704.8 1725.7,711.1 1726,703.5 1726.2,712.2 1726.5,700.4 1726.8,707.9 1727.1,697.9 1727.3,693.6 1727.6,697.7 1727.9,699.8 1728.1,706.6 1728.4,693.1 1728.7,690.7 1729,699.4 1729.2,710.9 1729.5,703.4 1729.8,701.2 1730,697.6 1730.3,702.9 1730.6,690.6 1730.9,694.7 1731.1,694.1 1731.4,687.5 1731.7,697.2 1731.9,710.5 1732.2,687.9 1732.5,696.2 1732.8,704.3 1733,713 1733.3,713.9 1733.6,705.4 1733.8,713.6 1734.1,683.3 1734.4,698.2 1734.7,706.4 1734.9,695.2 1735.2,710.6 1735.5,709.8 1735.7,694.9 1736,695.1 1736.3,692.6 1736.6,705.8 1736.8,699.4 1737.1,707.2 1737.4,701.3 1737.6,694.5 1737.9,694.8 1738.2,712.7 1738.5,693.2 1738.7,711.4 1739,702.6 1739.3,696.4 1739.5,699.2 1739.8,706.4 1740.1,698 1740.4,704.6 1740.6,720.8 1740.9,695.3 1741.2,716.8 1741.4,694 1741.7,704.4 1742,721 1742.3,715.4 1742.5,701.8 1742.8,696.7 1743.1,698.6 1743.3,702.4 1743.6,699.7 1743.9,695.9 1744.2,708 1744.4,690.5 1744.7,697.3 1745,706.2 1745.2,713.6 1745.5,695.9 1745.8,699.6 1746,695.7 1746.3,717 1746.6,712.3 1746.9,708.7 1747.1,715.5 1747.4,699.1 1747.7,698 1747.9,716.4 1748.2,709.3 1748.5,712.6 1748.8,719 1749,710.2 1749.3,696.5 1749.6,719.9 1749.8,699.2 1750.1,708.8 1750.4,703.1 1750.7,691.8 1750.9,704.9 1751.2,714.8 1751.5,703.8 1751.7,716.2 1752,697.5 1752.3,718.9 1752.6,708.6 1752.8,711.3 1753.1,698.9 1753.4,701 1753.6,691.6 1753.9,701.1 1754.2,700.5 1754.5,702.9 1754.7,715.7 1755,695.1 1755.3,701.4 1755.5,709.4 1755.8,710.7 1756.1,703.1 1756.4,703.8 1756.6,683.5 1756.9,712.6 1757.2,712.9 1757.4,688.5 1757.7,725.6 1758,705.4 1758.3,698.3 1758.5,700.8 1758.8,725.7 1759.1,698.2 1759.3,715 1759.6,703.8 1759.9,696.4 1760.2,721.2 1760.4,693.3 1760.7,712.8 1761,698.4 1761.2,711.2 1761.5,706.4 1761.8,717.1 1762.1,729.7 1762.3,698.1 1762.6,695 1762.9,706 1763.1,705.4 1763.4,709.3 1763.7,718.6 1764,719.9 1764.2,719 1764.5,709.8 1764.8,709.7 1765,704.2 1765.3,720.6 1765.6,714.2 1765.8,702 1766.1,704.3 1766.4,718.2 1766.7,717.7 1766.9,708.3 1767.2,722.9 1767.5,696.7 1767.7,702.6 1768,722.4 1768.3,707.1 1768.6,705.7 1768.8,710.8 1769.1,721.5 1769.4,711.2 1769.6,721.5 1769.9,705.7 1770.2,716.9 1770.5,695.2 1770.7,700.2 1771,708.7 1771.3,706.2 1771.5,707.2 1771.8,706 1772.1,710.9 1772.4,716 1772.6,708.5 1772.9,704.3 1773.2,708.2 1773.4,710.3 1773.7,712 1774,702.9 1774.3,716.5 1774.5,717.9 1774.8,714.9 1775.1,721.5 1775.3,727.7 1775.6,714.4 1775.9,723.7 1776.2,710.8 1776.4,701.3 1776.7,714.3 1777,704 1777.2,702.8 1777.5,705 1777.8,711.8 1778.1,717.2 1778.3,707.7 1778.6,724.8 1778.9,702 1779.1,708.3 1779.4,718.8 1779.7,699 1780,711.2 1780.2,716 1780.5,705.4 1780.8,707.1 1781,713.8 1781.3,708.9 1781.6,711.6 1781.9,716.8 1782.1,716.3 1782.4,721.9 1782.7,707.8 1782.9,717.5 1783.2,707.4 1783.5,716.7 1783.7,701 1784,724.4 1784.3,722.8 1784.6,718.9 1784.8,719.1 1785.1,718.3 1785.4,716.3 1785.6,706.3 1785.9,725.1 1786.2,728.6 1786.5,729.5 1786.7,719.4 1787,718 1787.3,711.2 1787.5,722.2 1787.8,704 1788.1,723.1 1788.4,707.4 1788.6,702.8 1788.9,715.2 1789.2,712.5 1789.4,726.9 1789.7,701.4 1790,708.9 1790.3,722.8 1790.5,701.4 1790.8,717.9 1791.1,721.8 1791.3,708.7 1791.6,704.5 1791.9,722.5 1792.2,701.5 1792.4,717.5 1792.7,727.5 1793,713.2 1793.2,714.4 1793.5,717.1 1793.8,725.5 1794.1,727.6 1794.3,727.3 1794.6,706.7 1794.9,712.5 1795.1,726.6 1795.4,722.2 1795.7,706.7 1796,720.4 1796.2,708 1796.5,712.2 1796.8,713.5 1797,707 1797.3,719.9 1797.6,728.3 1797.9,719.5 1798.1,730.6 1798.4,717.8 1798.7,704.8 1798.9,719 1799.2,715.9 1799.5,727.4 1799.8,712.6 1800,706.1 1800.3,713.1 1800.6,711.6 1800.8,705.4 1801.1,714.9 1801.4,709.8 1801.7,728.7 1801.9,718.5 1802.2,717.5 1802.5,720.5 1802.7,724 1803,702.1 1803.3,720.3 1803.5,721.4 1803.8,713.3 1804.1,723.9 1804.4,712 1804.6,714.6 1804.9,719.7 1805.2,726.2 1805.4,715.7 1805.7,731.2 1806,707.9 1806.3,724.4 1806.5,719.2 1806.8,728.4 1807.1,709.6 1807.3,717.1 1807.6,722.4 1807.9,723 1808.2,723.3 1808.4,702.1 1808.7,714.3 1809,714.5 1809.2,723 1809.5,706.9 1809.8,720.2 1810.1,724.3 1810.3,728.2 1810.6,716.9 1810.9,711.9 1811.1,717.8 1811.4,731.3 1811.7,708.4 1812,724.3 1812.2,714.4 1812.5,713.5 1812.8,723.4 1813,730.2 1813.3,716.1 1813.6,727.5 1813.9,707.9 1814.1,708.8 1814.4,701.5 1814.7,733.2 1814.9,714.8 1815.2,722.6 1815.5,711.1 1815.8,726.2 1816,722.6 1816.3,730.1 1816.6,716.7 1816.8,721.6 1817.1,711.7 1817.4,715.9 1817.7,734.4 1817.9,730.6 1818.2,729.7 1818.5,728.4 1818.7,726.4 1819,715.5 1819.3,723.2 1819.6,729.5 1819.8,723.9 1820.1,719.3 1820.4,738.2 1820.6,726.9 1820.9,711.3 1821.2,722.7 1821.5,722.8 1821.7,738.7 1822,727.5 1822.3,719.2 1822.5,714.2 1822.8,715.3 1823.1,721.9 1823.3,726.1 1823.6,710.6 1823.9,703.6 1824.2,725.4 1824.4,738 1824.7,737.5 1825,720.9 1825.2,730 1825.5,715.7 1825.8,717.6 1826.1,733.6 1826.3,718.7 1826.6,731.4 1826.9,718.7 1827.1,709.9 1827.4,719.7 1827.7,734 1828,734.3 1828.2,735.9 1828.5,720.5 1828.8,721.7 1829,728.4 1829.3,725.2 1829.6,730.5 1829.9,737.2 1830.1,726 1830.4,730.7 1830.7,734.7 1830.9,704.9 1831.2,726.1 1831.5,710.6 1831.8,735.3 1832,719.1 1832.3,717 1832.6,727.4 1832.8,722.5 1833.1,727.4 1833.4,730.2 1833.7,713.4 1833.9,736.7 1834.2,720.7 1834.5,735.9 1834.7,724.1 1835,713.2 1835.3,725.2 1835.6,706.4 1835.8,723.3 1836.1,729.4 1836.4,730.7 1836.6,720.7 1836.9,724.7 1837.2,712.7 1837.5,711 1837.7,715.2 1838,724.5 1838.3,726.7 1838.5,732.5 1838.8,714.6 1839.1,738.2 1839.4,718.7 1839.6,723.6 1839.9,736 1840.2,713.9 1840.4,735.3 1840.7,737.8 1841,734.6 1841.3,728.9 1841.5,725.9 1841.8,718.3 1842.1,728.3 1842.3,733.6 1842.6,718.7 1842.9,718.6 1843.1,726.3 1843.4,741.4 1843.7,727.9 1844,730.5 1844.2,716.3 1844.5,727.3 1844.8,721 1845,730.1 1845.3,740.9 1845.6,725.4 1845.9,705.3 1846.1,714 1846.4,718.8 1846.7,716.1 1846.9,733.6 1847.2,723 1847.5,727.8 1847.8,717.4 1848,732.7 1848.3,723.4 1848.6,713.4 1848.8,736.8 1849.1,734.5 1849.4,724.2 1849.7,727.9 1849.9,729.1 1850.2,726.6 1850.5,727.1 1850.7,732 1851,717.9 1851.3,734.7 1851.6,733.2 1851.8,713.3 1852.1,722.5 1852.4,711.9 1852.6,728.5 1852.9,721.1 1853.2,740 1853.5,724 1853.7,725.5 1854,723.5 1854.3,735.5 1854.5,742.5 1854.8,719.6 1855.1,725 1855.4,730.6 1855.6,722.2 1855.9,719.2 1856.2,724.7 1856.4,728.1 1856.7,719 1857,732.7 1857.3,717.2 1857.5,720.9 1857.8,716.3 1858.1,721.3 1858.3,730.7 1858.6,719.3 1858.9,733 1859.2,736.7 1859.4,731.9 1859.7,727.2 1860,734.4 1860.2,722.6 1860.5,725.2 1860.8,738.3 1861,745.6 1861.3,739.6 1861.6,730.6 1861.9,720.5 1862.1,734.4 1862.4,736.9 1862.7,724 1862.9,722.8 1863.2,741.6 1863.5,727.6 1863.8,732.1 1864,712.6 1864.3,722.5 1864.6,720.7 1864.8,717.1 1865.1,726.9 1865.4,723.3 1865.7,725.5 1865.9,735.7 1866.2,727.9 1866.5,735.7 1866.7,737.9 1867,728.4 1867.3,730.9 1867.6,725 1867.8,719.2 1868.1,734.4 1868.4,727.7 1868.6,722 1868.9,721.7 1869.2,740.3 1869.5,744.9 1869.7,726.1 1870,730.3 1870.3,734.3 1870.5,736.3 1870.8,742.3 1871.1,736.9 1871.4,739.5 1871.6,739.4 1871.9,741.9 1872.2,716.8 1872.4,716.1 1872.7,736.1 1873,735.7 1873.3,737.3 1873.5,733.2 1873.8,726.1 1874.1,740.9 1874.3,741.6 1874.6,734.2 1874.9,734.6 1875.2,730.7 1875.4,728.9 1875.7,736.4 1876,724.6 1876.2,741.2 1876.5,739.4 1876.8,717.1 1877.1,746.8 1877.3,727 1877.6,716.8 1877.9,726.7 1878.1,721.3 1878.4,736.3 1878.7,732 1879,727.6 1879.2,739.1 1879.5,730.5 1879.8,723 1880,735.3 1880.3,732.1 1880.6,736.1 1880.8,732.4 1881.1,722.9 1881.4,724.5 1881.7,731.1 1881.9,726 1882.2,742.3 1882.5,724.3 1882.7,732.4 1883,740.1 1883.3,723.9 1883.6,738.9 1883.8,734.1 1884.1,733.8 1884.4,724.5 1884.6,721 1884.9,723.4 1885.2,742.9 1885.5,725.6 1885.7,740.2 1886,743.2 1886.3,722.3 1886.5,735.9 1886.8,722.9 1887.1,732.2 1887.4,746.2 1887.6,741 1887.9,738.3 1888.2,724.4 1888.4,733.9 1888.7,735 1889,733.1 1889.3,731 1889.5,740.4 1889.8,719.7 1890.1,725.6 1890.3,729.2 1890.6,743.4 1890.9,745.6 1891.2,730.6 1891.4,732 1891.7,725.7 1892,747.4 1892.2,731.5 1892.5,747.8 1892.8,716.9 1893.1,735.4 1893.3,724 1893.6,736.4 1893.9,721.5 1894.1,735.5 1894.4,743.4 1894.7,721 1895,739.2 1895.2,726.4 1895.5,719.1 1895.8,731.7 1896,742.5 1896.3,739 1896.6,734.6 1896.9,729.5 1897.1,728.6 1897.4,713.2 1897.7,733.3 1897.9,729 1898.2,740.2 1898.5,742 1898.8,733.6 1899,736 1899.3,724.3 1899.6,727.5 1899.8,725.8 1900.1,737.3 1900.4,744.2 1900.6,733.6 1900.9,729.5 1901.2,736.4 1901.5,738.9 1901.7,719.6 1902,735.4 1902.3,738.4 1902.5,735.9 1902.8,729 1903.1,736.3 1903.4,740.7 1903.6,728 1903.9,728.8 1904.2,736.6 1904.4,738.2 1904.7,742 1905,749.9 1905.3,726.6 1905.5,723.9 1905.8,727.9 1906.1,720.9 1906.3,742 1906.6,732.1 1906.9,726 1907.2,741.7 1907.4,748.2 1907.7,727.6 1908,737.1 1908.2,737.3 1908.5,737.9 1908.8,750.3 1909.1,726 1909.3,744.1 1909.6,727 1909.9,734.5 1910.1,728.7 1910.4,747.6 1910.7,745.1 1911,722.6 1911.2,730.5 1911.5,746 1911.8,730 1912,732.5 1912.3,734.5 1912.6,723.2 1912.9,742 1913.1,727 1913.4,732.8 1913.7,722.6 1913.9,738 1914.2,734.8 1914.5,740.7 1914.8,737.6 1915,746.5 1915.3,744.7 1915.6,734.1 1915.8,738.6 1916.1,742.9 1916.4,730.1 1916.7,723.6 1916.9,723.6 1917.2,733.6 1917.5,749.1 1917.7,725.3 1918,744.5 1918.3,732.8 1918.6,738.2 1918.8,729.9 1919.1,743.3 1919.4,751.4 1919.6,729.5 1919.9,742.9 1920.2,750.4 1920.4,743.1 1920.7,745.3 1921,747.8 1921.3,739.6 1921.5,745.2 1921.8,731.4 1922.1,745.6 1922.3,740.6 1922.6,736.3 1922.9,741 1923.2,743.8 1923.4,730.4 1923.7,747.5 1924,733.7 1924.2,738 1924.5,731.6 1924.8,747.4 1925.1,746.5 1925.3,735.5 1925.6,747.3 1925.9,756.5 1926.1,744.7 1926.4,741.6 1926.7,748.2 1927,736.5 1927.2,733.2 1927.5,733.5 1927.8,730.5 1928,750.1 1928.3,742.9 1928.6,743.1 1928.9,737.3 1929.1,743.8 1929.4,745.6 1929.7,747.3 1929.9,746.2 1930.2,748.2 1930.5,747.7 1930.8,729.8 1931,742.1 1931.3,744.6 1931.6,729.7 1931.8,757.4 1932.1,736.8 1932.4,735.4 1932.7,746.7 1932.9,734.4 1933.2,753.5 1933.5,751.1 1933.7,735.9 1934,751.4 1934.3,733.3 1934.6,728.7 1934.8,746.5 1935.1,745.7 1935.4,748.9 1935.6,745.4 1935.9,738.7 1936.2,746.5 1936.5,749.1 1936.7,744.3 1937,746.4 1937.3,739.6 1937.5,741.6 1937.8,736.6 1938.1,741.1 1938.3,751.7 1938.6,747.2 1938.9,739.2 1939.2,738.3 1939.4,752.2 1939.7,748.8 1940,756.1 1940.2,755 1940.5,742.5 1940.8,749.3 1941.1,750.3 1941.3,742.9 1941.6,747.6 1941.9,731.2 1942.1,742.1 1942.4,745.4 1942.7,739 1943,743.2 1943.2,741.5 1943.5,735 1943.8,737.9 1944,744.6 1944.3,736.6 1944.6,752.7 1944.9,746.3 1945.1,740.3 1945.4,746.3 1945.7,746.2 1945.9,742.8 1946.2,738.4 1946.5,732.1 1946.8,740.1 1947,738.2 1947.3,748.2 1947.6,749 1947.8,739.4 1948.1,735.3 1948.4,742 1948.7,747.4 1948.9,738.8 1949.2,749.4 1949.5,752.1 1949.7,741.2 1950,738.1 1950.3,749.3 1950.6,756.5 1950.8,753.6 1951.1,741.3 1951.4,751.2 1951.6,751.7 1951.9,760.4 1952.2,750.9 1952.5,744 1952.7,735.7 1953,744.4 1953.3,741.2 1953.5,737.8 1953.8,762.5 1954.1,756.4 1954.4,747.4 1954.6,733.8 1954.9,738.2 1955.2,736.2 1955.4,736.6 1955.7,744.2 1956,747.1 1956.3,744.6 1956.5,745.6 1956.8,731.2 1957.1,737.4 1957.3,758.3 1957.6,752.8 1957.9,747.4 1958.1,745.6 1958.4,751 1958.7,748.6 1959,734.8 1959.2,745.6 1959.5,760.7 1959.8,744.6 1960,739 1960.3,751.3 1960.6,750.6 1960.9,752.6 1961.1,752.8 1961.4,747.8 1961.7,749.1 1961.9,758.2 1962.2,743.3 1962.5,753.3 1962.8,746.6 1963,749.1 1963.3,754.4 1963.6,753.7 1963.8,742 1964.1,749.9 1964.4,746.3 1964.7,738.5 1964.9,743.6 1965.2,746.2 1965.5,739.7 1965.7,740.3 1966,741.7 1966.3,739.7 1966.6,743 1966.8,747.9 1967.1,748 1967.4,756.3 1967.6,740.7 1967.9,742.2 1968.2,745.5 1968.5,753.4 1968.7,762.7 1969,751.4 1969.3,741.1 1969.5,740.4 1969.8,754.9 1970.1,739.9 1970.4,731.6 1970.6,757.1 1970.9,759.8 1971.2,744.3 1971.4,753.8 1971.7,755.6 1972,741.4 1972.3,745.9 1972.5,744.6 1972.8,749.2 1973.1,741.6 1973.3,738.9 1973.6,752.8 1973.9,740.9 1974.2,754.4 1974.4,750.2 1974.7,736.9 1975,745 1975.2,742.2 1975.5,757.9 1975.8,747.9 1976.1,757.8 1976.3,751.2 1976.6,740.3 1976.9,744.2 1977.1,750.9 1977.4,745.9 1977.7,740.9 1977.9,746.7 1978.2,752.2 1978.5,750 1978.8,758.8 1979,746.9 1979.3,748.7 1979.6,746 1979.8,742.8 1980.1,741 1980.4,756.8 1980.7,758.6 1980.9,755.9 1981.2,746.1 1981.5,756.2 1981.7,757.6 1982,741.7 1982.3,744.3 1982.6,756.6 1982.8,752.4 1983.1,752.3 1983.4,747 1983.6,744 1983.9,743.9 1984.2,742.5 1984.5,742 1984.7,753.7 1985,750.3 1985.3,744.7 1985.5,758.2 1985.8,757.5 1986.1,758.5 1986.4,754.8 1986.6,759.5 1986.9,757.2 1987.2,759.5 1987.4,753.9 1987.7,754 1988,748.4 1988.3,742 1988.5,749.1 1988.8,745.7 1989.1,760.4 1989.3,755.3 1989.6,758.3 1989.9,747.1 1990.2,760.8 1990.4,754.1 1990.7,750.9 1991,756 1991.2,743.5 1991.5,757.9 1991.8,761.4 1992.1,755 1992.3,752.3 1992.6,746.5 1992.9,750.2 1993.1,744.3 1993.4,761.7 1993.7,751.8 1994,747.4 1994.2,759.2 1994.5,759 1994.8,752.7 1995,749.5 1995.3,752.9 1995.6,754.5 1995.9,753.4 1996.1,750.3 1996.4,753.8 1996.7,745.9 1996.9,754 1997.2,760.1 1997.5,745.2 1997.7,754.4 1998,751.5 1998.3,750 1998.6,757.7 1998.8,755.1 1999.1,747.8 1999.4,758.9 1999.6,744.1 1999.9,748.2 2000.2,741.3 2000.5,755.8 2000.7,761.9 2001,757.6 2001.3,747.5 2001.5,750.4 2001.8,748.1 2002.1,750.9 2002.4,745.3 2002.6,753.3 2002.9,758.3 2003.2,758 2003.4,743.3 2003.7,764.4 2004,757.7 2004.3,746.7 2004.5,748.3 2004.8,760.6 2005.1,745.1 2005.3,761.5 2005.6,754.1 2005.9,754.2 2006.2,765.1 2006.4,762.9 2006.7,748.5 2007,761.1 2007.2,757.8 2007.5,764.4 2007.8,754.3 2008.1,760 2008.3,760.2 2008.6,745.1 2008.9,757.2 2009.1,754.8 2009.4,759 2009.7,758.3 2010,755.1 2010.2,752.3 2010.5,744.9 2010.8,749.4 2011,764.3 2011.3,758.8 2011.6,767.6 2011.9,754.5 2012.1,762.9 2012.4,759.9 2012.7,755.6 2012.9,752.3 2013.2,756.9 2013.5,757.7 2013.8,761.2 2014,758.9 2014.3,747.3 2014.6,762.9 2014.8,760.9 2015.1,759.6 2015.4,768.9 2015.7,750.1 2015.9,763.7 2016.2,759.9 2016.5,761.8 2016.7,751.9 2017,765.3 2017.3,761.9 2017.5,757.2 2017.8,750.2 2018.1,751.8 2018.4,757.4 2018.6,763.1 2018.9,759.9 2019.2,762.8 2019.4,766.8 2019.7,767.7 2020,754.4 2020.3,760.4 2020.5,755 2020.8,742.2 2021.1,766.7 2021.3,766.2 2021.6,757.5 2021.9,769.1 2022.2,755.1 2022.4,763.2 2022.7,752 2023,759.3 2023.2,762.7 2023.5,757.7 2023.8,769.2 2024.1,757.2 2024.3,754.9 2024.6,756.1 2024.9,753.1 2025.1,767.3 2025.4,758.9 2025.7,756.5 2026,761.1 2026.2,759.4 2026.5,762.6 2026.8,764.1 2027,764.3 2027.3,763.5 2027.6,750.4 2027.9,751.2 2028.1,770 2028.4,764.6 2028.7,759.1 2028.9,763.3 2029.2,769.8 2029.5,762.6 2029.8,754.2 2030,766 2030.3,763.1 2030.6,767.5 2030.8,757.8 2031.1,764.5 2031.4,755.7 2031.7,757.1 2031.9,761.6 2032.2,772.6 2032.5,763 2032.7,768.9 2033,755.2 2033.3,754.3 2033.6,765 2033.8,757.2 2034.1,766.5 2034.4,763.4 2034.6,759.3 2034.9,761.1 2035.2,764.4 2035.4,765.5 2035.7,765.3 2036,755.9 2036.3,750.4 2036.5,768.5 2036.8,769.7 2037.1,759.8 2037.3,766.9 2037.6,775 2037.9,756.9 2038.2,769.1 2038.4,762.6 2038.7,772.2 2039,766.1 2039.2,769.4 2039.5,760 2039.8,770.7 2040.1,766.1 2040.3,755.3 2040.6,759.5 2040.9,759.6 2041.1,759.3 2041.4,759.6 2041.7,760.9 2042,773.7 2042.2,772.2 2042.5,766.1 2042.8,777.5 2043,760.6 2043.3,771.2 2043.6,765.1 2043.9,765.8 2044.1,765.7 2044.4,764.9 2044.7,772.9 2044.9,767.3 2045.2,757.2 2045.5,765.5 2045.8,757.2 2046,753.2 2046.3,755.8 2046.6,762.5 2046.8,761.6 2047.1,761.3 2047.4,760.9 2047.7,769.4 2047.9,759.7 2048.2,771.7 2048.5,776.6 2048.7,774.1 2049,768.1 2049.3,763.3 2049.6,766.2 2049.8,764 2050.1,768.7 2050.4,764.5 2050.6,763 2050.9,767.4 2051.2,774.9 2051.5,761 2051.7,758.1 2052,757 2052.3,750.9 2052.5,771.5 2052.8,758.2 2053.1,763.2 2053.4,759.6 2053.6,761.1 2053.9,774.7 2054.2,762.2 2054.4,767.8 2054.7,764.7 2055,777.2 2055.2,765.8 2055.5,775.1 2055.8,766.5 2056.1,778.1 2056.3,762.5 2056.6,772.2 2056.9,772.8 2057.1,765.9 2057.4,763.4 2057.7,776.7 2058,777.8 2058.2,768.3 2058.5,775.5 2058.8,762.3 2059,773 2059.3,754.6 2059.6,777.7 2059.9,777.4 2060.1,769.7 2060.4,760.6 2060.7,768.5 2060.9,768.4 2061.2,776.3 2061.5,763.3 2061.8,762.9 2062,772.2 2062.3,765.6 2062.6,760.8 2062.8,771.4 2063.1,767.3 2063.4,764.6 2063.7,765.2 2063.9,760.7 2064.2,773.7 2064.5,777.6 2064.7,769.2 2065,758.1 2065.3,764.2 2065.6,761.8 2065.8,768.2 2066.1,769.1 2066.4,757.4 2066.6,766.9 2066.9,773.8 2067.2,767.1 2067.5,757.7 2067.7,776.2 2068,762.1 2068.3,758.1 2068.5,761.4 2068.8,761.4 2069.1,762.2 2069.4,773.1 2069.6,757.3 2069.9,762.4 2070.2,763.9 2070.4,763.9 2070.7,766.8 2071,773.2 2071.3,774.1 2071.5,773 2071.8,767.8 2072.1,767.1 2072.3,759.9 2072.6,772.7 2072.9,763.8 2073.2,772.5 2073.4,767.6 2073.7,766.5 2074,767.5 2074.2,767.6 2074.5,776.3 2074.8,765.7 2075,770.6 2075.3,774.9 2075.6,770.6 2075.9,760 2076.1,761.6 2076.4,762.6 2076.7,782.1 2076.9,769.2 2077.2,776.1 2077.5,766.4 2077.8,763.4 2078,772.6 2078.3,766.2 2078.6,766.8 2078.8,777.5 2079.1,768 2079.4,768 2079.7,762.3 2079.9,763 2080.2,757.3 2080.5,776.1 2080.7,778.9 2081,759.4 2081.3,771.2 2081.6,771.4 2081.8,770.9 2082.1,759.5 2082.4,776.2 2082.6,770.1 2082.9,763.2 2083.2,778.9 2083.5,764.7 2083.7,777.7 2084,779.5 2084.3,766 2084.5,764.4 2084.8,761.7 2085.1,769.9 2085.4,763 2085.6,766.2 2085.9,774.6 2086.2,765.8 2086.4,771.8 2086.7,772.9 2087,768.5 2087.3,772.9 2087.5,765.5 2087.8,764.1 2088.1,762 2088.3,778.2 2088.6,761.6 2088.9,759.4 2089.2,768.9 2089.4,768.7 2089.7,773 2090,777.3 2090.2,768.1 2090.5,776.6 2090.8,764.6 2091.1,773.9 2091.3,753.2 2091.6,773.2 2091.9,759.5 2092.1,770.6 2092.4,767.9 2092.7,771.6 2093,766 2093.2,778.1 2093.5,765.7 2093.8,773.8 2094,761.2 2094.3,764.5 2094.6,763.2 2094.8,773.3 2095.1,774.5 2095.4,767.1 2095.7,769 2095.9,773.3 2096.2,779.9 2096.5,771.8 2096.7,762.8 2097,774 2097.3,759.8 2097.6,775.7 2097.8,774.2 2098.1,768.3 2098.4,772.8 2098.6,779.5 2098.9,771.4 2099.2,762.2 2099.5,780.8 2099.7,765.3 2100,766.5 2100.3,772 2100.5,768 2100.8,761.8 2101.1,768.7 2101.4,766.6 2101.6,772.7 2101.9,768.5 2102.2,777.4 2102.4,763.3 2102.7,767.3 2103,771.9 2103.3,777.5 2103.5,764.6 2103.8,769.2 2104.1,778.8 2104.3,775.2 2104.6,768.2 2104.9,777 2105.2,777.8 2105.4,768.9 2105.7,774.7 2106,772.2 2106.2,762.6 2106.5,761.3 2106.8,766.2 2107.1,775.8 2107.3,773.9 2107.6,774.7 2107.9,768.8 2108.1,764.6 2108.4,767.6 2108.7,776.2 2109,769.6 2109.2,772.9 2109.5,768.7 2109.8,780.8 2110,771.9 2110.3,778 2110.6,775.2 2110.9,767.9 2111.1,776.7 2111.4,777.4 2111.7,779.8 2111.9,763.1 2112.2,761 2112.5,770 2112.7,777.1 2113,773.8 2113.3,768.7 2113.6,770.5 2113.8,766.1 2114.1,779.3 2114.4,763.7 2114.6,773.2 2114.9,773.3 2115.2,765.6 2115.5,767.4 2115.7,763.3 2116,770.1 2116.3,764.2 2116.5,765.5 2116.8,757.9 2117.1,762.8 2117.4,778 2117.6,770.3 2117.9,775.6 2118.2,771.8 2118.4,761.5 2118.7,771.6 2119,776.3 2119.3,769.9 2119.5,779.1 2119.8,773.3 2120.1,763.4 2120.3,766.2 2120.6,779 2120.9,774.7 2121.2,766.8 2121.4,776.4 2121.7,772 2122,766.9 2122.2,772 2122.5,773.4 2122.8,775.5 2123.1,770.3 2123.3,777.5 2123.6,763.3 2123.9,766.2 2124.1,766.5 2124.4,770.1 2124.7,774.6 2125,773.4 2125.2,761.5 2125.5,772.1 2125.8,774.6 2126,762.2 2126.3,776.7 2126.6,777 2126.9,764.9 2127.1,764.2 2127.4,781.1 2127.7,770.9 2127.9,770.1 2128.2,762.2 2128.5,769.2 2128.8,771.8 2129,761.6 2129.3,779.7 2129.6,773.3 2129.8,770.5 2130.1,773.4 2130.4,775 2130.7,778.3 2130.9,779.2 2131.2,771.1 2131.5,767.7 2131.7,774.5 2132,772.8 2132.3,772 2132.5,772.2 2132.8,779.6 2133.1,778.5 2133.4,776.5 2133.6,767.4 2133.9,777.8 2134.2,761.7 2134.4,762.9 2134.7,767.1 2135,771.2 2135.3,765.6 2135.5,770.2 2135.8,773.7 2136.1,768.6 2136.3,779.6 2136.6,763.8 2136.9,765.5 2137.2,771.4 2137.4,764.2 2137.7,770 2138,774.6 2138.2,775.5 2138.5,772.4 2138.8,770.9 2139.1,773.4 2139.3,766.8 2139.6,760.5 2139.9,778.4 2140.1,764.5 2140.4,770.3 2140.7,768.7 2141,765 2141.2,766.1 2141.5,773 2141.8,772.7 2142,770.5 2142.3,769.9 2142.6,776.1 2142.9,775.4 2143.1,775.7 2143.4,771.1 2143.7,765.8 2143.9,774.1 2144.2,770.1 2144.5,781.3 2144.8,775 2145,767.8 2145.3,772.9 2145.6,765.4 2145.8,767.8 2146.1,767 2146.4,775.5 2146.7,770.5 2146.9,767.6 2147.2,778.1 2147.5,767.2 2147.7,770.2 2148,779.7 2148.3,771.9 2148.6,768.7 2148.8,769.5 2149.1,776.4 2149.4,769.5 2149.6,774.1 2149.9,765 2150.2,767.3 2150.5,767.9 2150.7,770.8 2151,770 2151.3,765.8 2151.5,767.1 2151.8,770.3 2152.1,765.7 2152.3,774.6 2152.6,766.7 2152.9,772.3 2153.2,767 2153.4,774.6 2153.7,773.5 2154,770 2154.2,774.5 2154.5,761.8 2154.8,777.3 2155.1,774.4 2155.3,781.9 2155.6,762.6 2155.9,768.5 2156.1,769.4 2156.4,778.4 2156.7,771.4 2157,778.4 2157.2,774 2157.5,772 2157.8,778.6 2158,777.6 2158.3,764.3 2158.6,773.2 2158.9,764.9 2159.1,767.8 2159.4,767.3 2159.7,763.8 2159.9,777.4 2160.2,773.8 2160.5,760.1 2160.8,776.7 2161,769.1 2161.3,782.5 2161.6,774.2 2161.8,774.8 2162.1,768.6 2162.4,763.7 2162.7,769.1 2162.9,772.9 2163.2,768.9 2163.5,766.4 2163.7,782.6 2164,775.1 2164.3,766.8 2164.6,769.6 2164.8,765.1 2165.1,774.9 2165.4,766.1 2165.6,770.2 2165.9,773 2166.2,776.3 2166.5,772.6 2166.7,765 2167,772.2 2167.3,768.4 2167.5,772 2167.8,770.7 2168.1,761.6 2168.4,772.5 2168.6,764.2 2168.9,768.4 2169.2,769.3 2169.4,766.8 2169.7,774.9 2170,766.9 2170.3,781.5 2170.5,780.3 2170.8,764.4 2171.1,771.2 2171.3,767.7 2171.6,776.5 2171.9,771.9 2172.1,762 2172.4,774.1 2172.7,766.6 2173,776.6 2173.2,775 2173.5,771.7 2173.8,763.9 2174,777.3 2174.3,765.1 2174.6,770 2174.9,770.7 2175.1,773.9 2175.4,760 2175.7,768.7 2175.9,778.9 2176.2,775.8 2176.5,777.9 2176.8,763.6 2177,771.6 2177.3,762.6 2177.6,781.9 2177.8,776.5 2178.1,775.4 2178.4,778.4 2178.7,767.5 2178.9,768.3 2179.2,766.4 2179.5,774.1 2179.7,763.6 2180,771.1 2180.3,775.4 2180.6,779.4 2180.8,767.3 2181.1,768.8 2181.4,765.8 2181.6,771.4 2181.9,778.9 2182.2,766.5 2182.5,772.1 2182.7,773.8 2183,770.5 2183.3,772 2183.5,767.6 2183.8,771.4 2184.1,772.9 2184.4,773.4 2184.6,766.9 2184.9,762.2 2185.2,765.7 2185.4,772.9 2185.7,766 2186,765.8 2186.3,763.6 2186.5,779.2 2186.8,775.7 2187.1,768.1 2187.3,768 2187.6,767.8 2187.9,781.5 2188.2,775.9 2188.4,767.3 2188.7,765.4 2189,776.4 2189.2,764.1 2189.5,773.4 2189.8,770.1 2190.1,776.1 2190.3,765.4 2190.6,768.5 2190.9,776.8 2191.1,770.8 2191.4,764 2191.7,767.5 2191.9,766.7 2192.2,778.2 2192.5,768.4 2192.8,780.2 2193,764.4 2193.3,779.6 2193.6,762.8 2193.8,777.4 2194.1,780.1 2194.4,766.6 2194.7,775.1 2194.9,764.6 2195.2,772.1 2195.5,776.4 2195.7,778.6 2196,780.9 2196.3,783.3 2196.6,778.3 2196.8,765.8 2197.1,765.7 2197.4,775 2197.6,776.9 2197.9,765.2 2198.2,767.1 2198.5,764.6 2198.7,775.3 2199,769.6 2199.3,769.9 2199.5,763.4 2199.8,775.8 2200.1,771.6 2200.4,772.1 2200.6,773 2200.9,769.6 2201.2,780.7 2201.4,776.1 2201.7,777.7 2202,770.2 2202.3,774.3 2202.5,773.8 2202.8,774.8 2203.1,780.4 2203.3,764.5 2203.6,777.4 2203.9,780.3 2204.2,770.9 2204.4,774.5 2204.7,777.1 2205,774.5 2205.2,769.5 2205.5,771.6 2205.8,772.1 2206.1,782.3 2206.3,783.4 2206.6,773.4 2206.9,780 2207.1,777.6 2207.4,776.5 2207.7,779.6 2208,780.4 2208.2,770.7 2208.5,776.4 2208.8,783.3 2209,763.8 2209.3,767.1 2209.6,777.6 2209.8,773.8 2210.1,773.6 2210.4,765.6 2210.7,766.4 2210.9,768.4 2211.2,766.7 2211.5,769.8 2211.7,768.1 2212,774.6 2212.3,775.6 2212.6,772.2 2212.8,778.2 2213.1,763.2 2213.4,768.6 2213.6,769.3 2213.9,767.7 2214.2,772.1 2214.5,768.7 2214.7,764.2 2215,772.1 2215.3,781 2215.5,766.5 2215.8,772.2 2216.1,769.7 2216.4,778 2216.6,769.1 2216.9,780.5 2217.2,767.5 2217.4,772.4 2217.7,769.2 2218,773.1 2218.3,776.3 2218.5,778.1 2218.8,778.4 2219.1,771 2219.3,772.6 2219.6,781.5 2219.9,765.2 2220.2,777.7 2220.4,775 2220.7,774.2 2221,771.1 2221.2,776.1 2221.5,774.7 2221.8,774.6 2222.1,766.5 2222.3,777.6 2222.6,766.7 2222.9,775.4 2223.1,776.9 2223.4,767.9 2223.7,774 2224,773.1 2224.2,769.2 2224.5,769.4 2224.8,768.1 2225,774.8 2225.3,785.9 2225.6,775.3 2225.9,770.4 2226.1,776.6 2226.4,767.8 2226.7,769.1 2226.9,771 2227.2,775.5 2227.5,779.1 2227.8,771.7 2228,771.4 2228.3,777.6 2228.6,770.3 2228.8,771.2 2229.1,777.8 2229.4,782.5 2229.6,760.6 2229.9,776 2230.2,771.8 2230.5,776.6 2230.7,773.8 2231,767.6 2231.3,773.6 2231.5,769 2231.8,777.4 2232.1,783.3 2232.4,769.4 2232.6,771.9 2232.9,770 2233.2,777.1 2233.4,773 2233.7,770.1 2234,765.5 2234.3,777.8 2234.5,772.5 2234.8,776.4 2235.1,772.8 2235.3,769.2 2235.6,777.6 2235.9,774.7 2236.2,765.9 2236.4,768.6 2236.7,776.7 2237,763.6 2237.2,774.5 2237.5,773.1 2237.8,774.8 2238.1,771.5 2238.3,775.3 2238.6,767.1 2238.9,779.5 2239.1,771.4 2239.4,766.9 2239.7,778.4 2240,775.4 2240.2,771.4 2240.5,773.7 2240.8,769.1 2241,770.7 2241.3,780.2 2241.6,778.1 2241.9,766 2242.1,771.4 2242.4,781.7 2242.7,774.9 2242.9,777.1 2243.2,774.6 2243.5,781.4 2243.8,779.1 2244,769.9 2244.3,777.4 2244.6,769.5 2244.8,776.5 2245.1,771.9 2245.4,777.6 2245.7,774.6 2245.9,781.4 2246.2,764.5 2246.5,782.4 2246.7,769.1 2247,772.5 2247.3,771.3 2247.6,775.5 2247.8,768.1 2248.1,773.8 2248.4,778.1 2248.6,774.2 2248.9,781.6 2249.2,771.8 2249.4,768.2 2249.7,775.9 2250,775.4 2250.3,774.1 2250.5,771.1 2250.8,777.5 2251.1,775.5 2251.3,774.4 2251.6,770.8 2251.9,773.4 2252.2,768.6 2252.4,772 2252.7,772.7 2253,774.1 2253.2,782.1 2253.5,767.3 2253.8,769.1 2254.1,767.4 2254.3,773.4 2254.6,768.5 2254.9,772.1 2255.1,778.3 2255.4,773.9 2255.7,772.6 2256,766.4 2256.2,781.6 2256.5,769.9 2256.8,768.4 2257,774.9 2257.3,766.4 2257.6,770.1 2257.9,775.1 2258.1,776.9 2258.4,776.6 2258.7,776.7 2258.9,769 2259.2,770 2259.5,765.8 2259.8,774.5 2260,766.6 2260.3,771 2260.6,773.3 2260.8,775.7 2261.1,771.2 2261.4,769.1 2261.7,775.3 2261.9,780.6 2262.2,767.7 2262.5,770.8 2262.7,772.1 2263,772.8 2263.3,773.8 2263.6,770 2263.8,772.1 2264.1,767 2264.4,780.6 2264.6,770.8 2264.9,777.9 2265.2,773.4 2265.5,775.9 2265.7,772.9 2266,782.1 2266.3,778.8 2266.5,768 2266.8,771 2267.1,770 2267.4,769.4 2267.6,768 2267.9,771.6 2268.2,763.7 2268.4,773.2 2268.7,768.1 2269,774.6 2269.2,772.5 2269.5,772.6 2269.8,774.8 2270.1,779.2 2270.3,774.8 2270.6,783.9 2270.9,772.2 2271.1,770.3 2271.4,773.7 2271.7,773.6 2272,777.9 2272.2,770.5 2272.5,777.8 2272.8,780.5 2273,776.1 2273.3,769.3 2273.6,771 2273.9,769 2274.1,778.2 2274.4,768.2 2274.7,773.1 2274.9,772.6 2275.2,775 2275.5,776.4 2275.8,774.5 2276,768 2276.3,769.4 2276.6,772.6 2276.8,776.2 2277.1,775.3 2277.4,774.6 2277.7,768.2 2277.9,779.2 2278.2,771.8 2278.5,775.3 2278.7,779.7 2279,777.3 2279.3,781.7 2279.6,786.1 2279.8,774.7 2280.1,776.3 2280.4,779.7 2280.6,770.7 2280.9,776.6 2281.2,782.8 2281.5,774.6 2281.7,768.9 2282,777.6 2282.3,775.7 2282.5,773.8 2282.8,772.3 2283.1,780.5 2283.4,776.1 2283.6,780.9 2283.9,777.2 2284.2,771.3 2284.4,773.4 2284.7,771.2 2285,773.2 2285.3,783.4 2285.5,780 2285.8,767.5 2286.1,771.6 2286.3,778.7 2286.6,784.6 2286.9,779.3 2287.1,770.6 2287.4,778.6 2287.7,773.5 2288,778.8 2288.2,771.6 2288.5,772.1 2288.8,783 2289,776.4 2289.3,771.1 2289.6,779.7 2289.9,780.6 2290.1,777 2290.4,769 2290.7,768 2290.9,775.1 2291.2,771.8 2291.5,780.9 2291.8,778.2 2292,780.6 2292.3,768.5 2292.6,777.6 2292.8,773 2293.1,773.1 2293.4,769 2293.7,768.1 2293.9,777.8 2294.2,769.3 2294.5,780.8 2294.7,774.4 2295,776.4 2295.3,782.4 2295.6,774.3 2295.8,771.7 2296.1,764.4 2296.4,773 2296.6,772.1 2296.9,784.4 2297.2,772.4 2297.5,776.5 2297.7,776.8 2298,778.1 2298.3,778 2298.5,775.1 2298.8,774.2 2299.1,768 2299.4,782.7 2299.6,779.2 2299.9,771.6 2300.2,767.6 2300.4,765.1 2300.7,773.5 2301,770.9 2301.3,765.7 2301.5,778.6 2301.8,772.2 2302.1,774.3 2302.3,777.4 2302.6,780.1 2302.9,770.2 2303.2,770.4 2303.4,764.8 2303.7,776.4 2304,778 2304.2,767.9 2304.5,771.4 2304.8,768.8 2305.1,778.7 2305.3,767.1 2305.6,772.9 2305.9,779.6 2306.1,776.7 2306.4,770 2306.7,775.4 2306.9,773.8 2307.2,779.5 2307.5,775.7 2307.8,778 2308,769 2308.3,763.7 2308.6,777.8 2308.8,766.1 2309.1,777.5 2309.4,776.6 2309.7,779.5 2309.9,770.2 2310.2,776.6 2310.5,778.2 2310.7,776.6 2311,771.9 2311.3,778.6 2311.6,775 2311.8,770.2 2312.1,779.3 2312.4,772.7 2312.6,778.7 2312.9,773.9 2313.2,775.4 2313.5,776 2313.7,776.5 2314,776.6 2314.3,779 2314.5,781 2314.8,779.2 2315.1,779.5 2315.4,773.1 2315.6,776.5 2315.9,770.5 2316.2,769.3 2316.4,767.9 2316.7,772.2 2317,772.4 2317.3,777.9 2317.5,771 2317.8,771.3 2318.1,774.6 2318.3,769.4 2318.6,768.2 2318.9,775.6 2319.2,769.4 2319.4,772.5 2319.7,775.9 2320,772.2 2320.2,779.7 2320.5,779.1 2320.8,776.1 2321.1,773.5 2321.3,777.9 2321.6,773.6 2321.9,772.8 2322.1,769.4 2322.4,776.6 2322.7,774.3 2323,769.9 2323.2,775.5 2323.5,776.7 2323.8,775.1 2324,770 2324.3,777.8 2324.6,770.2 2324.9,774.3 2325.1,769.5 2325.4,782.3 2325.7,773.8 2325.9,771.6 2326.2,780.9 2326.5,776.9 2326.7,769 2327,774.3 2327.3,775.9 2327.6,778.4 2327.8,780.5 2328.1,775.6 2328.4,774.6 2328.6,784.2 2328.9,779.1 2329.2,770.3 2329.5,778.6 2329.7,769 2330,769.2 2330.3,774.9 2330.5,778.3 2330.8,775.8 2331.1,774.4 2331.4,769 2331.6,769.2 2331.9,780.3 2332.2,770.3 2332.4,774 2332.7,773.5 2333,775.5 2333.3,770.6 2333.5,768.2 2333.8,775.1 2334.1,771.4 2334.3,771.7 2334.6,774.8 2334.9,768.5 2335.2,768 2335.4,775.2 2335.7,766.2 2336,776 2336.2,772.9 2336.5,776.8 2336.8,770.8 2337.1,777.9 2337.3,777.7 2337.6,773.7 2337.9,779.1 2338.1,783.3 2338.4,770.7 2338.7,780 2339,770.7 2339.2,783 2339.5,771.9 2339.8,767.1 2340,773.7 2340.3,781.3 2340.6,779.4 2340.9,771.1 2341.1,774.4 2341.4,778.2 2341.7,774.3 2341.9,774.9 2342.2,775.1 2342.5,772.5 2342.8,773.5 2343,779.6 2343.3,772.2 2343.6,778 2343.8,777.1 2344.1,783.4 2344.4,770.7 2344.7,772 2344.9,773.3 2345.2,775.1 2345.5,780.7 2345.7,782.5 2346,770.7 2346.3,779.8 2346.5,780 2346.8,780.3 2347.1,776.4 2347.4,777.5 2347.6,772.1 2347.9,780 2348.2,771.2 2348.4,777.2 2348.7,783.4 2349,775.3 2349.3,768.4 2349.5,774.9 2349.8,765 2350.1,774.5 2350.3,780.5 2350.6,771.1 2350.9,771.1 2351.2,783.3 2351.4,775.9 2351.7,771.7 2352,776.5 2352.2,778.8 2352.5,771.6 2352.8,770.5 2353.1,776.1 2353.3,776.1 2353.6,781.8 2353.9,783.9 2354.1,780.4 2354.4,770.3 2354.7,772.4 2355,768.3 2355.2,776.8 2355.5,768.6 2355.8,774.2 2356,764.8 2356.3,773 2356.6,772.3 2356.9,780.4 2357.1,778 2357.4,784.2 2357.7,771.1 2357.9,773.8 2358.2,767 2358.5,774.8 2358.8,774.9 2359,772.2 2359.3,780.3 2359.6,770.8 2359.8,780.8 2360.1,780.2 2360.4,780.3 2360.7,776 2360.9,771.2 2361.2,781.3 2361.5,779.6 2361.7,767.1 2362,768.6 2362.3,774.5 2362.6,773.2 2362.8,781.9 2363.1,782.8 2363.4,770.9 2363.6,781.8 2363.9,777.3 2364.2,773.6 2364.5,783.1 2364.7,775.5 2365,768.8 2365.3,771.2 2365.5,782.7 2365.8,776.3 2366.1,775.8 2366.3,782.2 2366.6,781.9 2366.9,783.2 2367.2,780.7 2367.4,774.1 2367.7,782.6 2368,778.1 2368.2,782.4 2368.5,776.5 2368.8,775.5 2369.1,770.7 2369.3,781 2369.6,770.8 2369.9,780.5 2370.1,772 2370.4,770.8 2370.7,773.7 2371,769.9 2371.2,771.6 2371.5,770.7 2371.8,780.3 2372,773.4 2372.3,772.2 2372.6,780.9 2372.9,779.3 2373.1,770.1 2373.4,774.7 2373.7,770.5 2373.9,775 2374.2,769.5 2374.5,784.9 2374.8,774.1 2375,771.3 2375.3,785 2375.6,770.4 2375.8,779.8 2376.1,782.2 2376.4,771.5 2376.7,776 2376.9,777.9 2377.2,773.4 2377.5,779.7 2377.7,777.9 2378,776 2378.3,772.6 2378.6,769.1 2378.8,772 2379.1,774.4 2379.4,772.5 2379.6,780.4 2379.9,780 2380.2,782.2 2380.5,769.7 2380.7,774.3 2381,771.5 2381.3,777.3 2381.5,772 2381.8,777.4 2382.1,778.4 2382.4,777.5 2382.6,772.8 2382.9,772.5 2383.2,780.4 2383.4,776 2383.7,775.4 2384,784.3 2384.2,775.2 2384.5,772.1 2384.8,772.8 2385.1,776.7 2385.3,778.5 2385.6,773.2 2385.9,771.6 2386.1,771.4 2386.4,778.6 2386.7,784.4 2387,777.6 2387.2,776.2 2387.5,783.3 2387.8,780.5 2388,774.4 2388.3,767.8 2388.6,773.7 2388.9,777.8 2389.1,773.7 2389.4,775.7 2389.7,774.8 2389.9,781 2390.2,769.9 2390.5,771.9 2390.8,773.7 2391,773.9 2391.3,788.1 2391.6,779.4 2391.8,779.7 2392.1,772.3 2392.4,777.4 2392.7,770.3 2392.9,778.1 2393.2,782.3 2393.5,775.7 2393.7,782.1 2394,774 2394.3,764.8 2394.6,780.2 2394.8,782.8 2395.1,776.7 2395.4,771.7 2395.6,774.4 2395.9,780.9 2396.2,779.9 2396.5,778.2 2396.7,775.6 2397,772.7 2397.3,769 2397.5,771.1 2397.8,784 2398.1,773.6 2398.4,782.4 2398.6,780.1 2398.9,777.7 2399.2,773.2 2399.4,785.8 2399.7,771.2 2400,773.4 2400.3,777 2400.5,766.7 2400.8,774.7 2401.1,779.3 2401.3,773.9 2401.6,775.7 2401.9,780.2 2402.2,774.4 2402.4,778.8 2402.7,780.4 2403,777.3 2403.2,779.8 2403.5,778 2403.8,780.4 2404,780.6 2404.3,774.8 2404.6,788.3 2404.9,776.2 2405.1,781.9 2405.4,769.7 2405.7,775.8 2405.9,779.1 2406.2,776 2406.5,779.5 2406.8,780.4 2407,779.9 2407.3,776 2407.6,773.1 2407.8,778.5 2408.1,767.8 2408.4,772.4 2408.7,780.3 2408.9,772.7 2409.2,777.5 2409.5,768.2 2409.7,769.9 2410,772.7 2410.3,772.8 2410.6,780.2 2410.8,775 2411.1,773.4 2411.4,772 2411.6,778.7 2411.9,776.4 2412.2,779.7 2412.5,775.1 2412.7,777.3 2413,783.3" fill="none" stroke="#05ae69" stroke-width="3.6" stroke-linejoin="round" stroke-linecap="butt" />
<rect x="1463.7" y="53.5" width="949.3" height="763.2" fill="none" stroke="#000" stroke-width="3.8"/>
<line x1="1531.5" y1="816.7" x2="1531.5" y2="808.2" stroke="#000" stroke-width="3.4"/>
<line x1="1599.3" y1="816.7" x2="1599.3" y2="801.7" stroke="#000" stroke-width="3.4"/>
<line x1="1667.1" y1="816.7" x2="1667.1" y2="808.2" stroke="#000" stroke-width="3.4"/>
<line x1="1734.9" y1="816.7" x2="1734.9" y2="801.7" stroke="#000" stroke-width="3.4"/>
<line x1="1802.7" y1="816.7" x2="1802.7" y2="808.2" stroke="#000" stroke-width="3.4"/>
<line x1="1870.5" y1="816.7" x2="1870.5" y2="801.7" stroke="#000" stroke-width="3.4"/>
<line x1="1938.3" y1="816.7" x2="1938.3" y2="808.2" stroke="#000" stroke-width="3.4"/>
<line x1="2006.2" y1="816.7" x2="2006.2" y2="801.7" stroke="#000" stroke-width="3.4"/>
<line x1="2074" y1="816.7" x2="2074" y2="808.2" stroke="#000" stroke-width="3.4"/>
<line x1="2141.8" y1="816.7" x2="2141.8" y2="801.7" stroke="#000" stroke-width="3.4"/>
<line x1="2209.6" y1="816.7" x2="2209.6" y2="808.2" stroke="#000" stroke-width="3.4"/>
<line x1="2277.4" y1="816.7" x2="2277.4" y2="801.7" stroke="#000" stroke-width="3.4"/>
<line x1="2345.2" y1="816.7" x2="2345.2" y2="808.2" stroke="#000" stroke-width="3.4"/>
<text x="1463.7" y="859.5" font-family='"Liberation Serif", "Noto Serif CJK SC", serif' font-size="33" font-weight="normal" text-anchor="middle" fill="#000" >10</text>
<text x="1599.3" y="859.5" font-family='"Liberation Serif", "Noto Serif CJK SC", serif' font-size="33" font-weight="normal" text-anchor="middle" fill="#000" >20</text>
<text x="1734.9" y="859.5" font-family='"Liberation Serif", "Noto Serif CJK SC", serif' font-size="33" font-weight="normal" text-anchor="middle" fill="#000" >30</text>
<text x="1870.5" y="859.5" font-family='"Liberation Serif", "Noto Serif CJK SC", serif' font-size="33" font-weight="normal" text-anchor="middle" fill="#000" >40</text>
<text x="2006.2" y="859.5" font-family='"Liberation Serif", "Noto Serif CJK SC", serif' font-size="33" font-weight="normal" text-anchor="middle" fill="#000" >50</text>
<text x="2141.8" y="859.5" font-family='"Liberation Serif", "Noto Serif CJK SC", serif' font-size="33" font-weight="normal" text-anchor="middle" fill="#000" >60</text>
<text x="2277.4" y="859.5" font-family='"Liberation Serif", "Noto Serif CJK SC", serif' font-size="33" font-weight="normal" text-anchor="middle" fill="#000" >70</text>
<text x="2413" y="859.5" font-family='"Liberation Serif", "Noto Serif CJK SC", serif' font-size="33" font-weight="normal" text-anchor="middle" fill="#000" >80</text>
<text x="1643.7" y="107" font-family='"Liberation Serif", "Noto Serif CJK SC", serif' font-size="28" font-weight="normal" text-anchor="middle" fill="#000" >25</text>
<text x="1843.4" y="232" font-family='"Liberation Serif", "Noto Serif CJK SC", serif' font-size="28" font-weight="normal" text-anchor="middle" fill="#000" >38</text>
<text x="1975.5" y="216.4" font-family='"Liberation Serif", "Noto Serif CJK SC", serif' font-size="28" font-weight="normal" text-anchor="middle" fill="#000" >48</text>
<text x="2070.7" y="227" font-family='"Liberation Serif", "Noto Serif CJK SC", serif' font-size="28" font-weight="normal" text-anchor="middle" fill="#000" >55</text>
<text x="2183" y="248.5" font-family='"Liberation Serif", "Noto Serif CJK SC", serif' font-size="28" font-weight="normal" text-anchor="middle" fill="#000" >62.8</text>
<text x="2275.6" y="255.7" font-family='"Liberation Serif", "Noto Serif CJK SC", serif' font-size="28" font-weight="normal" text-anchor="middle" fill="#000" >70</text>
<text x="2353.6" y="254.5" font-family='"Liberation Serif", "Noto Serif CJK SC", serif' font-size="28" font-weight="normal" text-anchor="middle" fill="#000" >75</text>
<text x="1617.5" y="458" font-family='"Liberation Serif", "Noto Serif CJK SC", serif' font-size="28" font-weight="normal" text-anchor="middle" fill="#000" >19.5</text>
<text x="1603.8" y="709" font-family='"Liberation Serif", "Noto Serif CJK SC", serif' font-size="28" font-weight="normal" text-anchor="middle" fill="#000" >19.5</text>
<text x="1491.6" y="767.6" font-family='"Liberation Serif", "Noto Serif CJK SC", serif' font-size="28" font-weight="normal" text-anchor="middle" fill="#000" >12</text>
<text x="1496" y="232" font-family='"Liberation Serif", "Noto Serif CJK SC", serif' font-size="38" font-weight="normal" text-anchor="middle" fill="#000" >a</text>
<text x="1506.5" y="390.5" font-family='"Liberation Serif", "Noto Serif CJK SC", serif' font-size="38" font-weight="normal" text-anchor="middle" fill="#000" >b</text>
<text x="1503.5" y="534.6" font-family='"Liberation Serif", "Noto Serif CJK SC", serif' font-size="38" font-weight="normal" text-anchor="middle" fill="#000" >c</text>
<text x="1506" y="662.6" font-family='"Liberation Serif", "Noto Serif CJK SC", serif' font-size="38" font-weight="normal" text-anchor="middle" fill="#000" >d</text>
<text transform="translate(1430.5,434.6) rotate(-90)" font-family='"Liberation Serif", "Noto Serif CJK SC", serif' font-size="39.8" font-weight="bold" text-anchor="middle" fill="#000" >Intensity(a.u.)</text>
<text transform="translate(1938,926.6) scale(1.075,1)" font-family='"Liberation Serif", "Noto Serif CJK SC", serif' font-size="38" font-weight="bold" text-anchor="middle" fill="#000" >2θ(degree)</text>
</g>
<g id="panelC">
<line x1="279.6" y1="1215.9" x2="279.6" y2="1946" stroke="#f21c1c" stroke-width="3.6" stroke-dasharray="18.5 16.6" stroke-dashoffset="0"/>
<line x1="791.0" y1="1218.5" x2="791.0" y2="1946" stroke="#f21c1c" stroke-width="3.6" stroke-dasharray="18.5 16.6" stroke-dashoffset="0"/>
<line x1="932.0" y1="1196.5" x2="932.0" y2="1946" stroke="#f21c1c" stroke-width="3.6" stroke-dasharray="18.5 16.6" stroke-dashoffset="9.3"/>
<line x1="1084.8" y1="1190.9" x2="1084.8" y2="1946" stroke="#f21c1c" stroke-width="3.6" stroke-dasharray="18.5 16.6" stroke-dashoffset="0"/>
<polyline points="117.1,1406.9 118.8,1408 120.4,1409.2 122,1410.4 123.6,1411.6 125.2,1412.8 126.8,1414 128.3,1415.3 129.9,1416.6 131.4,1418.1 132.8,1419.8 134.2,1421.6 135.6,1423.3 137.1,1424.6 138.6,1425.4 140.2,1425.2 141.6,1423.7 142.2,1421.6 142.5,1419 142.8,1416.8 143.2,1415.8 143.7,1417.2 144.3,1419.9 144.9,1421.9 145.5,1421 146.1,1418.3 146.6,1417 146.9,1418.2 147.1,1420.7 147.4,1423.6 147.6,1426.2 147.9,1427.8 148.2,1427.5 148.6,1425.3 149,1422.4 149.4,1420.3 149.6,1420.3 149.8,1422 150,1424.7 150.2,1427.6 150.4,1430.1 150.6,1431.4 150.8,1430.7 151.1,1428.4 151.4,1425.5 151.7,1423 152,1422 152.4,1423.3 152.7,1426 153.1,1428.7 153.5,1430 154,1429 154.5,1426.7 155,1424.2 155.2,1422.2 155.4,1419.9 155.5,1417.4 155.7,1414.9 155.7,1412.2 155.8,1409.6 155.9,1406.9 155.9,1404.4 156,1402 156.1,1399.8 156.2,1397.9 156.4,1396.2 156.6,1394.9 156.8,1394 157.2,1393.5 158.5,1393.5 159,1393.8 159.3,1394.6 159.6,1395.8 159.8,1397.5 160,1399.5 160.1,1401.8 160.2,1404.3 160.3,1406.9 160.4,1409.5 160.5,1412.2 160.6,1414.7 160.8,1417.1 161,1419.3 161.2,1421.3 161.5,1423.2 161.8,1425.2 162.1,1427.2 162.4,1429.2 162.7,1431.3 162.9,1433.8 163.2,1436.4 163.5,1438.7 163.8,1440.4 164,1441 164.2,1440.1 164.5,1438 164.7,1435.2 164.9,1432.3 165.1,1429.8 165.4,1428.2 165.7,1428.3 166,1430.4 166.5,1433.3 166.8,1435.6 167.1,1435.9 167.3,1434.7 167.5,1432.6 167.7,1429.9 167.8,1426.9 168,1424.1 168.1,1421.6 168.3,1420 168.5,1419.5 168.8,1420.6 169.1,1422.8 169.4,1425.7 169.8,1428.5 170.1,1430.8 170.4,1432 170.8,1431.5 171.2,1429.7 171.5,1427.2 171.9,1424.3 172.3,1421.4 172.6,1419.2 172.8,1418.1 173,1418.2 173.2,1418.9 173.3,1420.2 173.4,1421.9 173.4,1423.9 173.5,1426.2 173.6,1428.8 173.6,1431.4 173.7,1434.1 173.9,1436.7 174,1439.1 174.2,1441.4 174.4,1443.4 175,1445.4 176.2,1447.6 177.6,1449.3 178.9,1450 180.1,1449 181.3,1447 182.7,1445.3 184.4,1444 185,1442.5 185.2,1440.7 185.4,1438.7 185.6,1436.6 185.8,1434.4 185.9,1432.1 186,1429.6 186.1,1427.1 186.1,1424.6 186.2,1422 186.2,1419.4 186.2,1416.9 186.3,1414.4 186.3,1412 186.4,1409.7 186.4,1407.5 186.5,1405.5 186.6,1403.6 186.7,1401.9 186.9,1400.4 187.1,1399.2 187.3,1398.2 187.6,1397.5 188.6,1397.1 189.8,1397.4 190.3,1399.2 190.7,1401.7 190.9,1404.1 191.2,1406.1 191.4,1408.1 191.6,1410.1 191.8,1412.1 191.9,1414.1 192.1,1416.1 192.2,1418.1 192.4,1420.1 192.5,1422.1 192.7,1424.1 192.8,1426.1 193,1428.1 193.2,1430.3 193.3,1432.9 193.5,1435.5 193.7,1437.9 194,1439.8 194.3,1440.8 194.8,1440.7 196.2,1439.2 197.7,1437.3 199.5,1436 201,1434.7 201.5,1433.2 201.9,1431.4 202.1,1429.4 202.3,1427.4 202.5,1425.2 202.7,1423.1 202.9,1421 203.1,1418.9 203.3,1416.4 203.5,1413.8 203.7,1411.7 204.1,1410.6 205.8,1410.9 206.7,1410.7 207.1,1409.4 207.3,1407.2 207.4,1404.5 207.5,1401.5 207.6,1398.6 207.8,1396.1 208.1,1394.3 208.5,1393.5 209.9,1394.2 210.1,1395.4 210.3,1396.8 210.5,1398.4 210.6,1400.3 210.7,1402.3 210.7,1404.4 210.8,1406.6 210.8,1408.9 210.8,1411.3 210.9,1413.6 211,1415.9 211.1,1418.2 211.2,1420.3 211.4,1422.4 211.7,1424.3 212.6,1426.6 213.7,1428 214.3,1427.2 214.7,1424.8 215.1,1421.9 215.5,1419.6 216.1,1418.8 217.4,1420.3 218.3,1422.4 218.5,1424.4 218.6,1426.5 218.7,1428.9 218.8,1431.4 218.8,1434 218.9,1436.6 218.9,1439.3 218.9,1441.9 218.9,1444.5 219,1446.9 219,1449.2 219,1451.2 219.1,1453 219.2,1454.5 219.3,1455.6 219.4,1456.4 219.6,1456.7 220.9,1455.3 221.6,1455.1 221.9,1455.8 222.1,1457.1 222.4,1458.7 222.5,1460.8 222.7,1463.1 222.8,1465.6 222.9,1468.2 223,1470.9 223.1,1473.5 223.3,1475.9 223.4,1478.2 223.6,1480.2 223.8,1482.2 224,1484.2 224.2,1486.2 224.4,1488.2 224.6,1490.2 224.8,1492.1 225,1494.1 225.2,1496.1 225.4,1498.1 225.6,1500.1 225.8,1502.1 226,1504.1 226.2,1506.1 226.4,1508.1 226.6,1510 226.8,1512 227,1514 227.2,1516 227.4,1518 227.6,1520 227.8,1522 228,1524 228.2,1526 228.4,1528 228.6,1529.9 228.8,1531.9 229,1533.9 229.2,1535.9 229.4,1537.9 229.6,1539.9 229.8,1541.9 230,1543.9 230.2,1545.9 230.4,1547.9 230.6,1549.8 230.8,1551.8 231,1553.8 231.2,1555.8 231.4,1557.8 231.6,1559.8 231.8,1561.8 232,1563.8 232.2,1565.8 232.4,1567.8 232.6,1569.7 232.8,1571.7 233,1573.7 233.2,1575.7 233.4,1577.7 233.6,1579.7 233.8,1581.7 234,1583.7 234.2,1585.7 234.4,1587.7 234.6,1589.6 234.8,1591.6 235,1593.6 235.2,1595.6 235.4,1597.6 235.5,1599.6 235.7,1601.6 235.9,1603.6 236.1,1605.6 236.2,1607.6 236.4,1609.6 236.6,1611.6 236.7,1613.6 236.9,1615.6 237,1617.5 237.2,1619.5 237.4,1621.5 237.5,1623.5 237.7,1625.5 237.8,1627.5 238,1629.5 238.1,1631.5 238.3,1633.5 238.4,1635.5 238.6,1637.5 238.7,1639.5 238.9,1641.5 239,1643.5 239.2,1645.5 239.3,1647.5 239.5,1649.5 239.7,1651.5 239.8,1653.5 240,1655.5 240.2,1657.4 240.3,1659.4 240.5,1661.4 240.7,1663.4 240.9,1665.4 241,1667.4 241.2,1669.4 241.4,1671.4 241.6,1673.4 241.8,1675.4 242,1677.3 242.2,1679.3 242.5,1681.3 242.7,1683.3 242.9,1685.3 243.1,1687.3 243.4,1689.2 243.6,1691.2 243.9,1693.2 244.2,1695.2 244.4,1697.2 244.7,1699.1 245,1701.1 245.3,1703.1 245.5,1705.1 245.8,1707.1 246.1,1709 246.4,1711 246.7,1713 247,1715 247.3,1717 247.6,1718.9 248,1720.9 248.3,1722.9 248.6,1724.9 248.9,1726.8 249.2,1728.8 249.5,1730.8 249.9,1732.8 250.2,1734.7 250.5,1736.7 250.8,1738.7 251.2,1740.7 251.5,1742.6 251.8,1744.6 252.2,1746.6 252.5,1748.6 252.8,1750.5 253.1,1752.5 253.4,1754.5 253.8,1756.5 254.1,1758.4 254.4,1760.4 254.7,1762.4 255,1764.4 255.3,1766.3 255.6,1768.3 256,1770.3 256.3,1772.3 256.6,1774.2 256.9,1776.2 257.2,1778.2 257.5,1780.2 257.8,1782.2 258.1,1784.1 258.4,1786.1 258.7,1788.1 259,1790.1 259.3,1792.1 259.6,1794 259.9,1796 260.2,1798 260.5,1800 260.8,1801.9 261.1,1803.9 261.4,1805.9 261.7,1807.9 262,1809.8 262.3,1811.8 262.6,1813.8 262.9,1815.8 263.2,1817.8 263.6,1819.7 263.9,1821.7 264.2,1823.7 264.5,1825.6 264.9,1827.6 265.2,1829.6 265.5,1831.6 265.9,1833.5 266.2,1835.5 266.6,1837.5 266.9,1839.4 267.3,1841.4 267.6,1843.4 268,1845.3 268.3,1847.3 268.7,1849.3 269,1851.3 269.3,1853.3 269.7,1855.3 270,1857.2 270.4,1859.2 270.8,1861.2 271.1,1863.2 271.5,1865.2 271.9,1867.1 272.4,1869.1 272.8,1871 273.3,1872.9 273.8,1874.9 274.3,1876.8 274.9,1878.6 275.5,1880.7 276.3,1883.1 277.1,1885.4 278,1886.9 279,1887.4 280.1,1886.4 281.3,1884.4 282.4,1882.2 283.3,1880.3 284.1,1878.5 284.9,1876.6 285.5,1874.7 286.1,1872.8 286.6,1870.9 287.2,1869 287.7,1867.1 288.2,1865.1 288.7,1863.2 289.1,1861.2 289.6,1859.3 290,1857.3 290.4,1855.4 290.8,1853.4 291.2,1851.4 291.6,1849.5 292,1847.5 292.3,1845.5 292.7,1843.5 293,1841.6 293.3,1839.6 293.6,1837.6 293.9,1835.7 294.2,1833.7 294.5,1831.7 294.8,1829.7 295,1827.8 295.3,1825.8 295.6,1823.8 295.8,1821.8 296.1,1819.8 296.3,1817.8 296.6,1815.9 296.8,1813.9 297,1811.9 297.2,1809.9 297.5,1807.9 297.7,1805.9 297.9,1803.9 298.1,1801.9 298.4,1799.9 298.6,1797.9 298.8,1795.9 299,1794 299.2,1792 299.4,1790 299.7,1788 299.9,1786 300.1,1784 300.3,1782 300.5,1780 300.7,1778 300.9,1776.1 301.1,1774.1 301.3,1772.1 301.5,1770.1 301.7,1768.1 301.9,1766.1 302.1,1764.1 302.3,1762.1 302.4,1760.1 302.6,1758.1 302.8,1756.1 303,1754.1 303.2,1752.2 303.4,1750.2 303.6,1748.2 303.8,1746.2 304,1744.2 304.3,1742.2 304.5,1740.2 304.7,1738.2 305,1736.3 305.2,1734.3 305.5,1732.3 305.8,1730.3 306,1728.3 306.3,1726.3 306.6,1724.4 306.9,1722.4 307.2,1720.4 307.5,1718.4 307.8,1716.4 308.1,1714.5 308.4,1712.5 308.8,1710.5 309.1,1708.5 309.4,1706.6 309.8,1704.6 310.2,1702.6 310.6,1700.7 311,1698.7 311.4,1696.8 311.8,1694.8 312.2,1692.8 312.7,1690.9 313.1,1688.9 313.6,1686.9 314.2,1685 314.7,1683.1 315.3,1681.2 316,1679.3 316.6,1677.5 317.4,1675.6 318.2,1673.7 319.2,1671.9 320.2,1670.1 321.4,1668.5 322.6,1667 324.1,1665.8 325.9,1664.8 327.7,1663.7 329,1662.4 330.1,1660.9 331.1,1659.2 331.9,1657.4 332.8,1655.5 333.6,1653.6 334.5,1651.7 335.4,1649.9 336.5,1648.2 337.6,1646.5 338.8,1644.9 340,1643.2 341.2,1641.6 342.5,1640 343.8,1638.5 345.2,1637.1 346.6,1635.8 348.1,1634.6 349.8,1633.5 351.5,1632.4 353.3,1631.4 355.1,1630.5 356.9,1629.6 358.7,1628.8 360.7,1628.2 362.7,1627.6 364.7,1627.1 366.6,1626.4 368.3,1625.7 369.8,1624.7 371.2,1623.4 372.5,1621.9 373.7,1620.2 374.9,1618.5 376.1,1616.8 377.4,1615.2 378.8,1613.7 380.3,1612.3 381.7,1611 383.2,1609.6 384.6,1608.2 385.9,1606.7 387.2,1605.2 388.4,1603.6 389.5,1601.9 390.7,1600.2 391.8,1598.5 392.9,1596.8 393.8,1595 394.7,1593.2 395.4,1591.4 396,1589.5 396.5,1587.7 397,1585.8 397.5,1583.8 398,1581.9 398.4,1579.9 398.8,1577.9 399.1,1575.9 399.5,1573.9 399.9,1571.9 400.2,1570 400.6,1568 401,1566 401.4,1564 401.7,1562.1 402.1,1560.1 402.5,1558.1 402.9,1556.2 403.4,1554.2 403.9,1552.1 404.5,1550 405.2,1548.2 406.2,1546.8 408.1,1545.6 409.5,1545.7 410.5,1547.3 411.3,1549.6 412.3,1551.6 413.3,1553.8 414.3,1555.5 415.3,1555.7 416.1,1554.6 416.9,1552.9 417.6,1550.6 418.4,1548.2 419.2,1545.9 420.1,1543.9 421,1541.8 421.9,1539.6 422.9,1537.5 424.1,1536.1 425.4,1535.6 427.2,1535.9 429.3,1536.4 431.3,1537.1 433,1538 434.7,1539.1 436.3,1540.4 437.8,1541.7 439.1,1543.2 440.3,1544.9 441.5,1546.5 442.9,1547.9 444.4,1549.4 446.1,1550.8 447.7,1551.4 449.4,1551.1 451,1550.3 452.6,1549.1 454.3,1547.7 456,1546.3 457.6,1544.8 459.3,1543.5 461,1542.4 462.7,1541.3 464.4,1540.3 466.1,1539.2 467.8,1538.2 469.5,1537.2 471.3,1536.2 473,1535.2 474.7,1534.1 476.4,1533.1 478.2,1532.1 479.9,1531.1 481.6,1530.1 483.3,1529 485,1528 486.8,1527 488.5,1526 490.2,1525 492,1524.1 493.8,1523.1 495.5,1522.2 497.3,1521.3 499.1,1520.4 500.9,1519.6 502.7,1518.7 504.5,1517.9 506.3,1517.1 508.2,1516.2 510,1515.4 511.9,1514.6 513.7,1513.9 515.6,1513.1 517.4,1512.3 519.3,1511.6 521.1,1510.8 523,1510.1 524.9,1509.4 526.7,1508.7 528.6,1508 530.5,1507.2 532.3,1506.5 534.2,1505.8 536.1,1505.1 538,1504.4 539.8,1503.7 541.7,1503 543.6,1502.3 545.5,1501.7 547.4,1501.1 549.3,1500.5 551.3,1499.9 553.2,1499.4 555.1,1498.9 557,1498.5 559,1498.1 561,1497.6 562.9,1497.2 564.9,1496.7 566.9,1496.4 568.9,1496.1 570.9,1495.8 572.8,1495.7 574.8,1495.7 576.9,1495.9 578.9,1496.1 580.9,1496.5 582.8,1496.9 584.5,1497.9 586.1,1499.6 587.6,1501.2 588.9,1502 590.1,1501.4 591.1,1499.7 592.1,1497.5 593.1,1495.3 594.3,1493.7 595.8,1492.3 597.4,1491.1 599.1,1489.9 600.8,1489 602.6,1488.1 604.4,1487.4 606.3,1486.6 608.2,1486 610.1,1485.4 612.1,1484.8 614,1484.3 616,1483.8 617.9,1483.3 619.8,1482.8 621.8,1482.4 623.8,1482 625.7,1481.6 627.7,1481.2 629.7,1480.9 631.7,1480.7 633.6,1480.4 635.6,1480.1 637.6,1479.8 639.6,1479.6 641.6,1479.4 643.6,1479.2 645.6,1479.1 647.6,1479 649.6,1479 651.6,1479.2 653.5,1479.5 655.5,1479.8 657.5,1480.2 659.5,1480.5 661.5,1480.7 663.5,1480.8 665.5,1480.8 667.4,1480.6 669.4,1480.5 671.4,1480.2 673.4,1480 675.4,1479.7 677.4,1479.4 679.4,1479.1 681.4,1478.8 683.3,1478.5 685.3,1478.1 687.3,1477.7 689.2,1477.2 691.2,1476.7 693.1,1476.2 694.9,1475.6 696.8,1474.8 698.6,1474 700.4,1473.1 702.1,1472.1 703.9,1471.1 705.6,1470.1 707.4,1469.1 709.2,1468.1 710.9,1467.2 712.8,1466.4 714.6,1465.5 716.4,1464.7 718.3,1464 720.1,1463.2 722,1462.4 723.8,1461.6 725.7,1460.8 727.5,1460 729.3,1459.2 731.1,1458.3 732.8,1457.3 734.5,1456.3 736.2,1455.3 737.9,1454.1 739.5,1453 741.1,1451.8 742.8,1450.6 744.4,1449.4 745.9,1448 747.5,1446.4 749,1444.8 750.6,1443.5 752.2,1442.5 753.9,1442 755.9,1442.4 757.8,1443 759.3,1442 760.7,1440 762,1439.7 763.2,1441.3 764.4,1443.3 766,1444.8 767.8,1446.2 768.8,1446.5 769.3,1445.5 769.7,1443.5 770,1441 770.2,1438.4 770.5,1436.1 770.8,1433.8 771,1431.2 771.2,1428.7 771.5,1426.6 771.8,1425.2 772.2,1425.2 773,1427 773.8,1429.4 774.4,1431.6 774.7,1434.1 775.2,1436.2 776,1436.8 778.4,1436.8 779.3,1436.9 779.7,1437.9 780,1439.5 780.3,1441.6 780.4,1444.1 780.6,1446.7 780.8,1449.3 780.9,1451.7 781.1,1453.8 781.2,1455.8 781.4,1457.8 781.6,1459.8 781.7,1461.8 781.8,1463.8 782,1465.7 782.1,1467.7 782.2,1469.7 782.3,1471.7 782.5,1473.7 782.6,1475.7 782.7,1477.7 782.8,1479.7 782.9,1481.7 783,1483.7 783.1,1485.7 783.3,1487.7 783.4,1489.7 783.5,1491.7 783.7,1493.7 783.8,1495.7 783.9,1497.7 784.1,1499.7 784.2,1501.7 784.4,1503.7 784.5,1505.7 784.6,1507.7 784.8,1509.7 784.9,1511.7 785,1513.7 785.2,1515.7 785.3,1517.7 785.5,1519.7 785.6,1521.7 785.8,1523.7 785.9,1525.7 786.1,1527.7 786.3,1529.6 786.5,1531.6 786.7,1533.6 786.9,1535.6 787.2,1537.6 787.4,1539.6 787.8,1542.2 788.2,1544.7 788.6,1546.7 789,1547.5 789.3,1546.8 789.7,1545 790,1542.4 790.4,1539.4 790.7,1536.6 791,1534.4 791.3,1533.1 791.6,1533.2 791.8,1534.2 792,1536 792.2,1538.4 792.4,1541.1 792.6,1544.1 792.8,1547 793,1549.8 793.2,1552.2 793.5,1554.1 793.7,1555.2 794,1555.5 794.3,1554.8 794.7,1553.4 795.1,1551.5 795.5,1549.2 795.9,1546.7 796.3,1544.1 796.6,1541.5 796.9,1539.2 797.2,1537.2 797.4,1535.3 797.6,1533.3 797.7,1531.3 797.9,1529.3 798.1,1527.3 798.2,1525.3 798.4,1523.3 798.5,1521.3 798.7,1519.3 798.8,1517.3 798.9,1515.3 799,1513.3 799.2,1511.3 799.3,1509.3 799.4,1507.3 799.5,1505.3 799.6,1503.3 799.8,1501.3 799.9,1499.3 800,1497.3 800.2,1495.3 800.3,1493.3 800.5,1491.3 800.6,1489.4 800.8,1487.4 801,1485.4 801.1,1483.4 801.3,1481.4 801.5,1479.4 801.7,1477.4 801.8,1475.4 802,1473.4 802.2,1471.4 802.5,1469.4 802.7,1467.4 802.9,1465.4 803.2,1463.5 803.4,1461.5 803.7,1459.5 804,1457.4 804.4,1455.3 804.8,1453.2 805.3,1451.4 805.8,1449.7 806.8,1448 808.3,1446.4 810.1,1445.1 811.9,1444.8 813.9,1445.1 815.9,1445.8 817.7,1446.6 818.9,1448.2 819.9,1450.4 821,1451.9 822.3,1451.6 823.8,1450.1 825.2,1448.2 826.3,1446.4 827.1,1444 827.8,1441.9 828.6,1441.4 829.3,1442.9 830.1,1445.5 830.8,1448.1 831.4,1449.3 831.8,1448.9 832.2,1447.5 832.5,1445.6 832.8,1443.1 833,1440.5 833.3,1438 833.7,1435.6 834.1,1433.5 834.4,1431.1 834.8,1428.6 835.1,1426 835.6,1423.8 836.1,1422 836.8,1420.9 837.6,1420.8 839.4,1421.5 841.7,1422.3 843.5,1422.2 845.3,1420.8 846.9,1419.8 848.6,1420.2 850.5,1421.3 852.2,1422.9 853.6,1424.6 854.4,1426.2 854.9,1428.1 855.3,1430.3 855.7,1432.8 856,1435.4 856.2,1438.1 856.5,1440.6 856.7,1442.9 856.9,1444.9 857.1,1446.4 857.3,1447.3 857.6,1447.5 857.8,1447.1 858,1446.2 858.3,1444.9 858.5,1443.2 858.7,1441.2 858.9,1438.9 859.1,1436.5 859.3,1434 859.5,1431.3 859.7,1428.7 859.9,1426.1 860.1,1423.6 860.3,1421.2 860.5,1419.1 860.7,1416.9 860.9,1414.4 861,1411.8 861.2,1409.2 861.3,1406.8 861.6,1404.9 861.9,1403.5 862.2,1402.9 863.1,1403.6 864.8,1405.3 866.7,1406.9 868.2,1407.1 869.7,1405.5 871.1,1403.5 872.3,1403 873.4,1404.1 874.4,1406.2 875.2,1408.5 875.9,1410.5 876.3,1412.5 876.7,1414.4 877,1416.4 877.3,1418.4 877.6,1420.4 877.9,1422.4 878.4,1424.3 879,1426.2 879.9,1428 880.8,1429.8 881.9,1431.5 882.9,1433.3 883.9,1435 884.8,1436.8 885.5,1438.7 886.1,1440.6 886.6,1442.7 887,1445 887.3,1447.3 887.7,1449.7 888,1452 888.3,1454.3 888.6,1456.5 889,1458.6 889.4,1460.5 889.9,1462.2 890.5,1463.6 891.2,1464.8 892.1,1465.6 894.1,1466.1 896.5,1466.5 898.1,1467 898.9,1468.1 899.5,1469.6 900,1471.6 900.4,1473.7 900.8,1476 901.2,1478.3 901.7,1480.6 902.3,1482.6 903.1,1484.3 904.1,1486.2 905.2,1487.9 906.4,1489.6 907.7,1491.2 909.1,1492.6 910.6,1493.6 912.5,1494.5 914.5,1495.2 916.2,1496.2 917.5,1497.4 918.7,1499.1 919.6,1500.9 920.4,1502.8 921,1504.7 921.5,1506.6 921.9,1508.5 922.4,1510.5 922.7,1512.5 923.1,1514.5 923.4,1516.5 923.7,1518.5 924,1520.5 924.2,1522.5 924.5,1524.4 924.7,1526.4 924.9,1528.4 925.1,1530.4 925.3,1532.4 925.5,1534.4 925.7,1536.4 925.9,1538.4 926,1540.4 926.2,1542.4 926.4,1544.3 926.5,1546.3 926.7,1548.3 926.9,1550.3 927.1,1552.3 927.3,1554.3 927.5,1556.3 927.7,1558.3 927.9,1560.3 928.1,1562.3 928.3,1564.3 928.5,1566.3 928.8,1568.2 929,1570.2 929.2,1572.2 929.5,1574.2 929.7,1576.2 930,1578.2 930.3,1580.2 930.6,1582.6 930.9,1585.2 931.3,1587.5 931.7,1589.1 932.1,1589.5 932.6,1588.5 933.2,1586.5 933.8,1584.1 934.3,1581.5 934.6,1579.4 934.9,1577.4 935.2,1575.4 935.4,1573.5 935.6,1571.5 935.8,1569.5 936,1567.5 936.2,1565.5 936.4,1563.5 936.6,1561.5 936.7,1559.5 936.9,1557.5 937,1555.5 937.1,1553.5 937.3,1551.5 937.4,1549.5 937.6,1547.5 937.7,1545.5 937.8,1543.5 938,1541.5 938.1,1539.5 938.3,1537.5 938.4,1535.5 938.6,1533.5 938.7,1531.5 938.9,1529.5 939,1527.5 939.2,1525.5 939.3,1523.5 939.4,1521.6 939.6,1519.6 939.7,1517.6 939.9,1515.6 940,1513.6 940.1,1511.6 940.3,1509.6 940.4,1507.6 940.5,1505.6 940.7,1503.6 940.8,1501.6 941,1499.6 941.1,1497.6 941.3,1495.6 941.4,1493.6 941.6,1491.6 941.7,1489.6 941.9,1487.6 942,1485.6 942.2,1483.7 942.4,1481.7 942.5,1479.7 942.7,1477.7 942.9,1475.7 943,1473.7 943.2,1471.7 943.4,1469.7 943.6,1467.7 943.8,1465.7 943.9,1463.7 944.1,1461.7 944.3,1459.7 944.5,1457.8 944.7,1455.8 944.9,1453.8 945.1,1451.8 945.3,1449.8 945.6,1447.8 945.8,1445.8 946,1443.8 946.2,1441.8 946.4,1439.8 946.6,1437.8 946.8,1435.7 947,1433.7 947.3,1431.7 947.6,1429.8 947.9,1427.8 948.2,1425.9 948.6,1423.9 949,1422 949.7,1419.7 950.7,1417.4 951.7,1415.4 952.4,1414.5 952.9,1414.8 953.3,1415.9 953.7,1417.5 954,1419.7 954.3,1422.1 954.6,1424.7 954.8,1427.3 955.1,1429.8 955.5,1431.9 955.9,1434.1 956.2,1436.6 956.6,1439.2 957,1441.7 957.4,1444.1 957.8,1446.1 958.2,1447.6 958.6,1448.3 959,1448.2 959.5,1447.3 959.9,1445.8 960.4,1443.8 960.8,1441.4 961.3,1438.8 961.6,1436.2 962,1433.7 962.3,1431.5 962.5,1429.4 962.7,1427.1 962.8,1424.6 963,1422 963.1,1419.4 963.1,1416.8 963.2,1414.2 963.3,1411.7 963.5,1409.5 963.6,1407.4 963.8,1405.7 964,1404.3 964.3,1403.4 964.6,1402.9 965.9,1402.9 967.9,1402.9 968.5,1403.8 969,1405.6 969.3,1408 969.7,1410.6 970.2,1412.9 970.9,1415 971.9,1417.2 973,1419.1 974,1419.8 974.9,1419.1 975.7,1417.4 976.5,1415.2 977.3,1412.7 978.1,1410.6 979,1408.6 979.9,1406.3 980.9,1404.2 982,1403 983.4,1402.9 985.2,1403.1 987.3,1403.2 989.6,1403.4 991.7,1403.5 993.8,1403.5 996.2,1403.3 998.6,1403.2 1000.7,1403 1002.3,1402.9 1003.2,1403 1003.8,1403.6 1004.4,1404.9 1004.9,1406.8 1005.3,1409 1005.7,1411.4 1006,1414 1006.3,1416.6 1006.6,1419 1006.9,1421.3 1007.1,1423.2 1007.4,1425.2 1007.6,1427.2 1007.8,1429.2 1008,1431.2 1008.2,1433.2 1008.4,1435.1 1008.6,1437.1 1008.7,1439.1 1008.9,1441.1 1009.1,1443.1 1009.2,1445.1 1009.4,1447.1 1009.5,1449.1 1009.7,1451.1 1009.8,1453.1 1010,1455.1 1010.2,1457.1 1010.3,1459.1 1010.5,1461.1 1010.7,1463.1 1010.8,1465.1 1011,1467.1 1011.2,1469.1 1011.3,1471.1 1011.5,1473.1 1011.6,1475 1011.8,1477 1011.9,1479 1012.1,1481 1012.3,1483 1012.4,1485 1012.6,1487 1012.7,1489 1012.9,1491 1013,1493 1013.2,1495 1013.3,1497 1013.5,1499 1013.7,1501 1013.8,1503 1014,1505 1014.1,1506.9 1014.3,1508.9 1014.5,1510.9 1014.6,1512.9 1014.8,1514.9 1015,1516.9 1015.1,1518.9 1015.3,1520.9 1015.5,1522.9 1015.6,1524.9 1015.8,1526.9 1016,1528.9 1016.1,1530.9 1016.3,1532.9 1016.5,1534.8 1016.6,1536.8 1016.8,1538.8 1017,1540.8 1017.1,1542.8 1017.3,1544.8 1017.5,1546.8 1017.6,1548.8 1017.8,1550.8 1018,1552.8 1018.1,1554.8 1018.3,1556.8 1018.5,1558.8 1018.6,1560.8 1018.8,1562.8 1018.9,1564.8 1019,1566.8 1019.2,1568.8 1019.3,1570.8 1019.4,1572.8 1019.6,1574.8 1019.7,1576.8 1019.8,1578.8 1020,1580.7 1020.1,1582.7 1020.3,1584.7 1020.4,1586.7 1020.6,1588.7 1020.8,1590.7 1021,1592.7 1021.1,1594.7 1021.4,1596.7 1021.6,1598.6 1021.8,1600.6 1022.1,1602.6 1022.4,1604.6 1022.7,1606.6 1023,1608.6 1023.4,1610.6 1023.8,1612.5 1024.2,1614.5 1024.7,1616.5 1025.2,1618.4 1025.7,1620.3 1026.2,1622.2 1026.8,1624.1 1027.4,1626.3 1028.2,1628.7 1029.1,1631.1 1030,1633.3 1031,1635.1 1031.9,1636.4 1032.9,1637 1033.8,1636.5 1034.7,1635 1035.6,1632.8 1036.6,1630.5 1037.6,1628.5 1038.9,1626.8 1040.4,1625.3 1042.1,1625 1044.3,1625 1046.3,1625 1047.9,1625.3 1049.4,1626.6 1050.7,1628.6 1051.6,1630.7 1052.1,1632.5 1052.5,1634.3 1052.8,1636.2 1053.1,1638.1 1053.4,1640.1 1053.6,1642.1 1053.8,1644.2 1054,1646.2 1054.2,1648.3 1054.4,1650.3 1054.6,1652.4 1054.8,1654.4 1055.1,1656.4 1055.3,1658.4 1055.6,1660.4 1055.8,1662.4 1056.1,1664.3 1056.3,1666.3 1056.6,1668.3 1056.8,1670.3 1057.1,1672.3 1057.4,1674.3 1057.6,1676.2 1057.9,1678.2 1058.1,1680.2 1058.4,1682.2 1058.6,1684.2 1058.9,1686.2 1059.1,1688.1 1059.4,1690.1 1059.6,1692.1 1059.9,1694.1 1060.1,1696.1 1060.4,1698.1 1060.6,1700 1060.9,1702 1061.1,1704 1061.4,1706 1061.6,1708 1061.9,1710 1062.1,1712 1062.4,1713.9 1062.6,1715.9 1062.9,1717.9 1063.2,1719.9 1063.4,1721.9 1063.7,1723.9 1063.9,1725.9 1064.1,1727.9 1064.4,1729.9 1064.6,1731.9 1064.8,1733.9 1065,1735.9 1065.3,1737.9 1065.5,1739.9 1065.7,1741.9 1066,1743.9 1066.2,1745.9 1066.5,1747.9 1066.7,1749.9 1067,1751.9 1067.3,1753.9 1067.6,1755.8 1068,1757.8 1068.4,1759.7 1068.8,1761.6 1069.2,1763.5 1069.6,1765.4 1070.3,1767.2 1071.1,1769.1 1072,1770.9 1072.9,1772.7 1073.9,1774.5 1074.9,1776.3 1075.7,1778.1 1076.5,1779.9 1077.1,1781.8 1077.7,1783.7 1078.2,1785.6 1078.6,1787.6 1079.1,1789.5 1079.5,1791.5 1079.9,1793.4 1080.3,1795.4 1080.7,1797.4 1081.1,1799.4 1081.6,1801.3 1082,1803.3 1082.6,1805.2 1083.1,1807.5 1083.8,1810 1084.4,1812.3 1085.1,1813.9 1085.6,1814.3 1086.1,1813.9 1086.5,1812.9 1087,1811.6 1087.4,1809.8 1087.8,1807.7 1088.2,1805.4 1088.6,1802.9 1088.9,1800.4 1089.3,1797.7 1089.7,1795.2 1090,1792.7 1090.4,1790.5 1090.8,1788.4 1091.2,1786.5 1091.6,1784.5 1092,1782.5 1092.5,1780.6 1092.9,1778.6 1093.3,1776.7 1093.7,1774.7 1094.1,1772.8 1094.5,1770.8 1094.8,1768.8 1095.2,1766.9 1095.5,1764.9 1095.9,1762.9 1096.2,1760.9 1096.5,1759 1096.8,1757 1097.1,1755 1097.4,1753 1097.7,1751.1 1097.9,1749.1 1098.2,1747.1 1098.5,1745.1 1098.8,1743.1 1099,1741.2 1099.3,1739.2 1099.5,1737.2 1099.8,1735.2 1100,1733.2 1100.3,1731.2 1100.6,1729.2 1100.8,1727.3 1101.1,1725.3 1101.3,1723.3 1101.6,1721.3 1101.8,1719.3 1102.1,1717.3 1102.3,1715.4 1102.6,1713.4 1102.9,1711.4 1103.1,1709.4 1103.4,1707.4 1103.7,1705.4 1103.9,1703.5 1104.2,1701.5 1104.4,1699.5 1104.7,1697.5 1104.9,1695.5 1105.2,1693.5 1105.4,1691.5 1105.6,1689.5 1105.8,1687.6 1106,1685.6 1106.2,1683.6 1106.4,1681.6 1106.5,1679.6 1106.7,1677.6 1106.8,1675.6 1107,1673.6 1107.1,1671.6 1107.3,1669.6 1107.4,1667.6 1107.5,1665.6 1107.6,1663.7 1107.8,1661.7 1107.9,1659.7 1108,1657.7 1108.1,1655.7 1108.2,1653.7 1108.3,1651.7 1108.4,1649.7 1108.5,1647.7 1108.6,1645.7 1108.7,1643.7 1108.8,1641.7 1108.9,1639.7 1109,1637.7 1109.1,1635.7 1109.3,1633.7 1109.4,1631.7 1109.5,1629.7 1109.6,1627.7 1109.7,1625.7 1109.8,1623.7 1109.9,1621.7 1110,1619.7 1110.1,1617.7 1110.2,1615.7 1110.3,1613.7 1110.4,1611.7 1110.5,1609.7 1110.6,1607.7 1110.7,1605.7 1110.8,1603.7 1110.9,1601.7 1110.9,1599.7 1111,1597.7 1111.1,1595.7 1111.2,1593.7 1111.3,1591.7 1111.4,1589.7 1111.5,1587.7 1111.6,1585.7 1111.7,1583.7 1111.8,1581.7 1111.9,1579.7 1112,1577.8 1112.1,1575.8 1112.2,1573.8 1112.3,1571.8 1112.5,1569.8 1112.6,1567.8 1112.7,1565.8 1112.8,1563.8 1112.9,1561.8 1113.1,1559.8 1113.2,1557.8 1113.3,1555.8 1113.4,1553.8 1113.6,1551.8 1113.7,1549.8 1113.8,1547.8 1114,1545.8 1114.1,1543.8 1114.2,1541.8 1114.3,1539.8 1114.5,1537.8 1114.6,1535.8 1114.7,1533.8 1114.8,1531.8 1114.9,1529.8 1115,1527.8 1115.1,1525.8 1115.2,1523.8 1115.3,1521.8 1115.4,1519.8 1115.5,1517.8 1115.5,1515.9 1115.6,1513.9 1115.7,1511.9 1115.7,1509.9 1115.8,1507.9 1115.8,1505.9 1115.9,1503.9 1116,1501.9 1116,1499.9 1116,1497.9 1116.1,1495.9 1116.1,1493.9 1116.2,1491.9 1116.2,1489.9 1116.3,1487.9 1116.3,1485.9 1116.4,1483.9 1116.4,1481.9 1116.4,1479.9 1116.5,1477.9 1116.5,1475.9 1116.6,1473.9 1116.6,1471.9 1116.7,1469.9 1116.7,1467.9 1116.8,1465.9 1116.8,1463.9 1116.9,1461.9 1116.9,1459.9 1117,1457.9 1117,1455.9 1117.1,1453.9 1117.2,1451.9 1117.2,1449.9 1117.3,1447.9 1117.3,1445.9 1117.4,1443.9 1117.5,1441.9 1117.5,1439.9 1117.6,1437.9 1117.6,1435.9 1117.7,1433.9 1117.8,1431.9 1117.8,1429.9 1117.9,1427.9 1118,1425.9 1118.1,1423.9 1118.1,1421.9 1118.2,1419.9 1118.3,1417.9 1118.4,1415.9 1118.5,1413.9 1118.6,1411.9 1118.7,1409.9 1118.8,1407.9 1119,1405.9 1119.2,1403.9 1119.4,1401.9 1119.7,1399.9 1119.9,1398 1120.1,1396 1120.3,1394 1120.4,1392 1120.5,1390 1120.6,1388 1120.7,1386 1120.8,1384 1120.9,1382 1121,1380 1121,1378 1121.1,1376 1121.2,1374 1121.3,1372 1121.3,1370 1121.4,1368 1121.5,1366 1121.5,1364 1121.6,1362 1121.7,1360 1121.7,1358 1121.8,1356 1121.8,1354 1121.9,1352 1121.9,1350 1122,1348 1122,1346 1122.1,1344 1122.1,1342 1122.2,1340 1122.2,1338 1122.3,1336 1122.3,1334 1122.4,1332 1122.4,1330 1122.5,1328 1122.5,1326 1122.6,1324 1122.6,1322 1122.7,1320 1122.7,1318 1122.8,1316 1122.8,1314 1122.9,1312 1122.9,1310 1123,1308 1123,1306 1123.1,1304 1123.1,1302 1123.2,1300 1123.2,1298 1123.3,1296 1123.3,1294 1123.4,1292 1123.4,1290 1123.5,1288 1123.5,1286 1123.6,1284 1123.6,1282 1123.7,1280 1123.7,1278 1123.8,1276 1123.8,1274 1123.9,1272 1123.9,1270 1124,1268 1124,1266 1124,1264 1124.1,1262 1124.1,1260 1124.2,1258 1124.2,1256 1124.3,1254 1124.3,1252 1124.4,1250 1124.4,1248 1124.5,1246 1124.5,1244 1124.6,1242 1124.6,1240 1124.7,1238 1124.7,1236 1124.8,1234 1124.8,1232 1124.9,1230 1124.9,1228 1125,1226 1125,1224 1125.1,1222 1125.1,1220 1125.2,1218 1125.2,1216 1125.3,1214 1125.4,1212 1125.4,1210 1125.5,1208 1125.5,1206.1 1125.6,1204.1 1125.6,1202.1 1125.7,1200.1 1125.7,1198.1 1125.8,1196.1 1125.8,1195" fill="none" stroke="#0909fb" stroke-width="5" stroke-linejoin="round" stroke-linecap="butt" />
<polyline points="141,1422.4 141.9,1418.7 142.8,1426.3 143.7,1430.9 144.6,1436 145.5,1428.8 146.4,1424.1 147.3,1422.5 148.2,1433.2 149.1,1439.4 150,1429.9 150.9,1419.4 151.8,1421.3 152.7,1439.2 153.6,1429.4 154.5,1415.9 155.4,1427.4 156.3,1419.9 157.2,1423.6 158.1,1424.6 159,1423 159.9,1431.9 160.8,1427.6 161.7,1423.9 162.6,1430.9 163.5,1433.8 164.4,1416.5 165.3,1426.2 166.2,1421.1 167.1,1426.8 168,1419 168.9,1428.1 169.8,1427.7 170.7,1425.9 171.6,1420.7 172.5,1425.2 173.4,1420.4 174.3,1418.5 175.2,1429.6" fill="none" stroke="#0909fb" stroke-width="3.6" stroke-linejoin="round" stroke-linecap="butt" />
<rect x="115.8" y="1194.8" width="1027.2" height="751.7" fill="none" stroke="#000" stroke-width="5.2"/>
<line x1="187.1" y1="1946.5" x2="187.1" y2="1939.0" stroke="#000" stroke-width="4"/>
<line x1="258.4" y1="1946.5" x2="258.4" y2="1932.5" stroke="#000" stroke-width="4"/>
<line x1="329.7" y1="1946.5" x2="329.7" y2="1939.0" stroke="#000" stroke-width="4"/>
<line x1="401" y1="1946.5" x2="401" y2="1932.5" stroke="#000" stroke-width="4"/>
<line x1="472.3" y1="1946.5" x2="472.3" y2="1939.0" stroke="#000" stroke-width="4"/>
<line x1="543.6" y1="1946.5" x2="543.6" y2="1932.5" stroke="#000" stroke-width="4"/>
<line x1="614.9" y1="1946.5" x2="614.9" y2="1939.0" stroke="#000" stroke-width="4"/>
<line x1="686.2" y1="1946.5" x2="686.2" y2="1932.5" stroke="#000" stroke-width="4"/>
<line x1="757.5" y1="1946.5" x2="757.5" y2="1939.0" stroke="#000" stroke-width="4"/>
<line x1="828.8" y1="1946.5" x2="828.8" y2="1932.5" stroke="#000" stroke-width="4"/>
<line x1="900.1" y1="1946.5" x2="900.1" y2="1939.0" stroke="#000" stroke-width="4"/>
<line x1="971.4" y1="1946.5" x2="971.4" y2="1932.5" stroke="#000" stroke-width="4"/>
<line x1="1042.7" y1="1946.5" x2="1042.7" y2="1939.0" stroke="#000" stroke-width="4"/>
<line x1="1114" y1="1946.5" x2="1114" y2="1932.5" stroke="#000" stroke-width="4"/>
<text x="115.8" y="1987.6" font-family='"Liberation Serif", "Noto Serif CJK SC", serif' font-size="32.5" font-weight="bold" text-anchor="middle" fill="#000" >4000</text>
<text x="258.4" y="1987.6" font-family='"Liberation Serif", "Noto Serif CJK SC", serif' font-size="32.5" font-weight="bold" text-anchor="middle" fill="#000" >3500</text>
<text x="401" y="1987.6" font-family='"Liberation Serif", "Noto Serif CJK SC", serif' font-size="32.5" font-weight="bold" text-anchor="middle" fill="#000" >3000</text>
<text x="543.6" y="1987.6" font-family='"Liberation Serif", "Noto Serif CJK SC", serif' font-size="32.5" font-weight="bold" text-anchor="middle" fill="#000" >2500</text>
<text x="686.2" y="1987.6" font-family='"Liberation Serif", "Noto Serif CJK SC", serif' font-size="32.5" font-weight="bold" text-anchor="middle" fill="#000" >2000</text>
<text x="828.8" y="1987.6" font-family='"Liberation Serif", "Noto Serif CJK SC", serif' font-size="32.5" font-weight="bold" text-anchor="middle" fill="#000" >1500</text>
<text x="971.4" y="1987.6" font-family='"Liberation Serif", "Noto Serif CJK SC", serif' font-size="32.5" font-weight="bold" text-anchor="middle" fill="#000" >1000</text>
<text x="1114" y="1987.6" font-family='"Liberation Serif", "Noto Serif CJK SC", serif' font-size="32.5" font-weight="bold" text-anchor="middle" fill="#000" >500</text>
<rect x="317.2" y="1219.2" width="159.2" height="48.4" fill="#fff" stroke="#9a9a9a" stroke-width="2"/>
<line x1="331" y1="1241" x2="407" y2="1241" stroke="#0909fb" stroke-width="5"/>
<text x="407.5" y="1253" font-family='"Liberation Serif", "Noto Serif CJK SC", serif' font-size="34" fill="#111">TiO<tspan font-size="20" dy="8">2</tspan></text>
<text x="325.5" y="1842.7" font-family='"Liberation Serif", "Noto Serif CJK SC", serif' font-size="32" font-weight="bold" text-anchor="start" fill="#000" >-OH</text>
<text x="325" y="1885" font-family='"Liberation Serif", "Noto Serif CJK SC", serif' font-size="32" font-weight="bold" text-anchor="start" fill="#000" >3430</text>
<text x="668.6" y="1564.5" font-family='"Liberation Serif", "Noto Serif CJK SC", serif' font-size="32" font-weight="bold" text-anchor="start" fill="#000" >H-O-H</text>
<text x="669.5" y="1605.5" font-family='"Liberation Serif", "Noto Serif CJK SC", serif' font-size="32" font-weight="bold" text-anchor="start" fill="#000" >1633</text>
<text x="858" y="1631.4" font-family='"Liberation Serif", "Noto Serif CJK SC", serif' font-size="32" font-weight="bold" text-anchor="start" fill="#000" >C-O</text>
<text x="858.5" y="1671.8" font-family='"Liberation Serif", "Noto Serif CJK SC", serif' font-size="32" font-weight="bold" text-anchor="start" fill="#000" >1142</text>
<text x="981.3" y="1847.8" font-family='"Liberation Serif", "Noto Serif CJK SC", serif' font-size="32" font-weight="bold" text-anchor="start" fill="#000" >Ti-O</text>
<text x="981.3" y="1889.4" font-family='"Liberation Serif", "Noto Serif CJK SC", serif' font-size="32" font-weight="bold" text-anchor="start" fill="#000" >600</text>
<text transform="translate(37.8,1599.8) rotate(-90)" font-family='"Liberation Serif", "Noto Serif CJK SC", serif' font-size="33.6" font-weight="bold" text-anchor="middle" fill="#000" >transmittance (%)</text>
<text x="481.8" y="2045.6" font-family='"Liberation Serif", "Noto Serif CJK SC", serif' font-size="33" font-weight="bold" fill="#000">wavenumber (cm<tspan font-size="20" dy="-14">-1</tspan><tspan dy="14">)</tspan></text>
</g>
<g id="panelD">
<polyline points="1443.3,1381.2 1445.3,1381.7 1447.3,1381.9 1449.3,1380.8 1451.3,1382.1 1453.3,1381.7 1455.3,1382.1 1457.3,1381.8 1459.3,1382.4 1461.3,1380.9 1463.3,1382.9 1465.3,1382.5 1467.3,1381.2 1469.3,1382.1 1471.3,1382 1473.3,1380.5 1475.3,1382.2 1477.3,1381.4 1479.3,1381.6 1481.3,1381.4 1483.3,1381.5 1485.3,1381.9 1487.3,1382 1489.3,1380.8 1491.3,1381.8 1493.3,1381 1495.3,1381.1 1497.3,1381.8 1499.4,1382.7 1501.4,1382.6 1503.4,1381.7 1505.4,1381.7 1507.3,1381.7 1509.3,1382.4 1511.3,1383 1513.3,1382.5 1515.3,1383 1517.3,1382.9 1519.2,1383.9 1521.2,1381.8 1523.2,1382.1 1525.1,1383.9 1527.1,1384.9 1529,1384.7 1531,1385.8 1532.9,1385.2 1534.9,1385.7 1536.8,1386.6 1538.7,1388.3 1540.7,1388.7 1542.6,1388.2 1544.5,1389.4 1546.4,1389.5 1548.3,1390.6 1550.2,1390.4 1552.1,1391.9 1554,1392.1 1555.8,1393.2 1557.7,1393.5 1559.6,1394.1 1561.5,1395.3 1563.4,1396 1565.3,1396.6 1567.2,1397.2 1569.1,1397.8 1571,1398.3 1573,1398.8 1574.9,1399.3 1576.8,1399.9 1578.8,1400.4 1580.7,1400.9 1582.6,1401.4 1584.6,1401.9 1586.5,1402.4 1588.5,1402.8 1590.5,1403.2 1592.4,1403.7 1594.4,1404 1596.3,1404.4 1598.3,1404.7 1600.3,1405 1602.2,1405.3 1604.2,1405.6 1606.2,1405.9 1608.2,1406.2 1610.2,1406.5 1612.2,1406.8 1614.1,1407 1616.1,1407.3 1618.1,1407.5 1620.1,1407.7 1622.1,1407.8 1624.1,1407.9 1626.1,1408 1628.1,1408 1630.1,1408 1632.1,1408 1634.1,1408 1636.1,1408 1638.1,1408 1640.1,1408 1642.1,1408 1644.1,1408 1646.1,1408 1648.1,1408 1650.1,1408 1652.1,1408 1654.1,1407.8 1656.1,1407.7 1658.1,1407.4 1660.1,1407.1 1662,1406.8 1664,1406.5 1666,1406.1 1668,1405.7 1669.9,1405.4 1671.9,1405 1673.9,1404.7 1675.8,1404.3 1677.8,1403.8 1679.7,1403.4 1681.7,1402.9 1683.6,1402.4 1685.5,1401.9 1687.5,1401.4 1689.4,1400.8 1691.3,1400.3 1693.3,1399.8 1695.2,1399.2 1697.1,1398.7 1699.1,1398.2 1701,1397.7 1703,1397.2 1704.9,1396.6 1706.8,1396 1708.8,1395.4 1710.7,1394.8 1712.6,1394.1 1714.6,1393.5 1716.5,1392.9 1718.5,1392.4 1720.4,1391.9 1722.3,1391.4 1724.3,1391.1 1726.2,1390.8 1728.2,1390.6 1730.1,1390.5 1732.1,1390.6 1734.1,1390.8 1736,1391.2 1738,1391.6 1740,1392.1 1742,1392.5 1743.9,1392.9 1745.9,1393.4 1747.9,1393.8 1749.8,1394 1751.8,1393.9 1753.8,1393.7 1755.8,1393.3 1757.8,1393 1759.7,1392.6 1761.7,1392.1 1763.6,1391.6 1765.5,1390.9 1767.4,1390.3 1769.3,1389.6 1771.2,1388.9 1773.1,1388.4 1775,1388 1777,1387.7 1779,1387.4 1781,1387.1 1782.9,1386.9 1784.9,1386.7 1786.9,1386.4 1788.9,1386.2 1790.9,1386.1 1792.9,1385.9 1794.9,1385.7 1796.9,1385.5 1798.9,1385.3 1800.9,1385.1 1802.9,1384.9 1804.9,1384.7 1806.9,1384.6 1808.9,1384.4 1810.9,1384.2 1812.8,1384.1 1814.8,1383.9 1816.8,1383.8 1818.8,1383.6 1820.8,1383.5 1822.8,1383.3 1824.8,1383.2 1826.8,1383.1 1828.8,1383 1830.8,1382.9 1832.8,1382.8 1834.8,1382.7 1836.8,1382.7 1838.8,1382.6 1840.8,1382.6 1842.8,1382.5 1844.8,1382.4 1846.8,1382.4 1848.8,1382.3 1850.8,1382.3 1852.8,1382.2 1854.8,1382.1 1856.8,1382.1 1858.8,1382 1860.8,1382 1862.8,1381.9 1864.8,1381.9 1866.8,1381.9 1868.8,1381.8 1870.8,1381.8 1872.8,1381.7 1874.8,1381.7 1876.8,1381.7 1878.8,1381.6 1880.8,1381.6 1882.8,1381.6 1884.8,1381.5 1886.8,1381.5 1888.8,1381.5 1890.8,1381.5 1892.8,1381.4 1894.8,1381.4 1896.8,1381.4 1898.8,1381.4 1900.8,1381.4 1902.8,1381.4 1904.8,1381.4 1906.8,1381.4 1908.8,1381.4 1910.8,1381.4 1912.8,1381.4 1914.8,1381.4 1916.8,1381.5 1918.8,1381.5 1920.8,1381.5 1922.8,1381.5 1924.8,1381.6 1926.8,1381.6 1928.8,1381.6 1930.8,1381.6 1932.8,1381.7 1934.8,1381.7 1936.8,1381.7 1938.8,1381.8 1940.8,1381.8 1942.8,1381.8 1944.8,1381.8 1946.8,1381.9 1948.8,1381.9 1950.8,1381.9 1952.8,1381.9 1954.8,1382 1956.8,1382 1958.8,1382 1960.8,1382 1962.8,1382 1964.8,1382 1966.8,1382 1968.8,1382 1970.8,1382.1 1972.8,1382.1 1974.8,1382.1 1976.8,1382.1 1978.8,1382.1 1980.8,1382.1 1982.8,1382.1 1984.8,1382.1 1986.8,1382.1 1988.8,1382.1 1990.8,1382.1 1992.8,1382.1 1994.8,1382.1 1996.8,1382.1 1998.8,1382.1 2000.8,1382.1 2002.8,1382.1 2004.8,1382.1 2006.8,1382.1 2008.8,1382.1 2010.8,1382.2 2012.8,1382.2 2014.8,1382.2 2016.8,1382.2 2018.8,1382.2 2020.8,1382.2 2022.8,1382.2 2024.8,1382.2 2026.8,1382.2 2028.8,1382.2 2030.8,1382.2 2032.8,1382.3 2034.8,1382.3 2036.8,1382.3 2038.8,1382.3 2040.8,1382.3 2042.8,1382.4 2044.8,1382.5 2046.8,1382.6 2048.8,1382.7 2050.8,1382.9 2052.8,1383 2054.8,1383.2 2056.8,1383.3 2058.8,1383.5 2060.8,1383.7 2062.7,1383.9 2064.8,1384.1 2066.8,1384.4 2068.8,1384.7 2070.8,1385.1 2072.7,1385.5 2074.5,1386.1 2076.2,1386.9 2077.9,1388.1 2079.6,1389.3 2081.2,1390.6 2082.7,1392 2084.1,1393.3 2085.4,1394.8 2086.7,1396.3 2088,1397.9 2089.2,1399.5 2090.5,1401 2091.9,1402.5 2093.2,1404.2 2094.5,1405.8 2096,1407.2 2097.5,1408.1 2099.4,1408.7 2101.4,1409.1 2103.4,1409.6 2105.3,1410.6 2107.1,1411.8 2108.8,1412.5 2110.2,1412.1 2111.5,1410.7 2112.6,1408.7 2113.8,1406.7 2115.1,1405 2116.6,1403.6 2118.3,1402.4 2120.1,1401.9 2122.3,1401.8 2124.4,1401.7 2125.9,1401.5 2127.1,1400.4 2128.1,1398.7 2129,1396.6 2129.9,1394.4 2130.9,1392.4 2132.2,1390.9 2133.5,1389.2 2135,1387.5 2136.6,1386 2138.2,1384.9 2139.9,1384.3 2141.7,1384.4 2143.7,1384.6 2145.7,1385.1 2147.8,1385.7 2149.8,1386.3 2151.6,1387 2153.2,1387.9 2154.7,1389.1 2156.1,1390.6 2157.4,1392.2 2158.8,1393.8 2160.2,1395.3 2161.6,1397.2 2163,1399 2164.4,1400.3 2165.8,1400.7 2167.3,1399.6 2168.7,1397.7 2170.3,1396.1 2172,1395.7 2174,1396.4 2175.4,1396 2176.5,1394.3 2177.5,1392 2178.8,1390.4 2180.5,1389.5 2182.5,1388.9 2184.4,1388.9 2186.3,1389.6 2188.2,1390.5 2190.1,1391.4 2192,1391.8 2193.9,1391.7 2196,1391.5 2198,1391.1 2199.9,1390.6 2201.8,1390 2203.5,1388.8 2205.1,1387.4 2206.8,1386.7 2208.7,1386.7 2210.7,1386.7 2212.7,1386.7 2214.7,1386.7 2216.8,1386.7 2218.8,1386.7 2220.9,1386.7 2223.1,1386.8 2225.2,1387 2227,1387.2 2228.5,1387.6 2229.7,1388.7 2230.8,1390.5 2231.8,1392.6 2232.8,1394.6 2234,1396.4 2235.2,1398.4 2236.4,1400.3 2237.7,1401.5 2239.1,1401.2 2240.7,1399.7 2242.3,1397.9 2243.9,1396.8 2245.4,1397.2 2247,1398.5 2248.5,1400.2 2249.9,1401.9 2251.2,1403.5 2252.3,1405.6 2253.4,1407.7 2254.5,1409.6 2255.7,1411.2 2257,1411.9 2258.6,1411.6 2260.4,1410.3 2262.2,1409.6 2263.8,1410.6 2265.2,1412.5 2266.7,1414.3 2268.1,1415 2269.5,1414.3 2270.8,1412.8 2272.1,1410.8 2273.3,1408.8 2274.3,1407.1 2275.1,1405.3 2275.9,1403.4 2276.6,1401.4 2277.3,1399.6 2278.2,1397.8 2279.3,1396.2 2280.6,1394.7 2282,1393.2 2283.4,1391.8 2284.7,1390.2 2286,1388.3 2287.3,1386.4 2288.7,1384.9 2290.1,1384.4 2291.7,1385.4 2293.5,1386.9 2295.2,1387.2 2296.8,1386.2 2298.3,1384.5 2299.9,1382.9 2301.6,1382 2303.5,1382.1 2305.4,1382.3 2307.5,1382.6 2309.5,1382.8 2311.5,1382.9 2313.5,1382.7 2315.5,1382.3 2317.5,1382 2319.5,1382.1 2321.4,1382.5 2323.3,1383.1 2325.2,1383.8 2327.1,1384.6 2329,1385.3 2330.9,1385.9 2332.8,1386.6 2334.7,1387.3 2336.6,1387.9 2338.5,1388.5 2340.4,1389 2342.3,1389.6 2344.3,1390.1 2346.2,1390.6 2348.2,1391 2350.1,1391.3 2352.1,1391.6 2354.1,1391.9 2356.1,1392.1 2358.1,1392.3 2360.1,1392.5 2362.1,1392.6 2364.1,1392.7 2366.1,1392.7 2368.1,1392.7 2370.1,1392.7 2372.1,1392.7 2374.1,1392.7 2376.1,1392.7 2378,1393 2379.9,1393.7 2381.7,1394.6 2383.6,1395.6 2385.4,1396.5 2387.3,1397 2389.3,1397 2391.2,1396.7 2393.2,1396.4 2395.2,1395.9 2397.2,1395.5 2399.1,1395.1 2401.1,1394.9 2403.1,1394.7 2405.1,1394.5 2407.1,1394.3 2409.1,1394.1 2411.1,1393.9 2413.1,1393.6 2415,1393.2 2417,1392.7 2418.3,1392.4" fill="none" stroke="#10aa66" stroke-width="4.2" stroke-linejoin="round" stroke-linecap="butt" />
<polyline points="1443.3,1488.7 1445.3,1488.8 1447.3,1489 1449.3,1489.2 1451.3,1489.4 1453.3,1489.6 1455.3,1489.9 1457.3,1490.1 1459.3,1490.4 1461.3,1490.7 1463.2,1491 1465.2,1491.3 1467.2,1491.6 1469.2,1492 1471.1,1492.3 1473.1,1492.7 1475,1493 1477,1493.4 1478.9,1493.8 1480.9,1494.2 1482.8,1494.6 1484.8,1495 1486.8,1495.5 1488.7,1496 1490.7,1496.5 1492.7,1497 1494.6,1497.6 1496.5,1498.2 1498.5,1498.8 1500.4,1499.4 1502.3,1500.1 1504.1,1500.8 1506,1501.5 1507.8,1502.3 1509.5,1503 1511.4,1503.9 1513.2,1504.8 1515,1505.8 1516.8,1506.8 1518.6,1507.9 1520.3,1509.1 1522,1510.3 1523.5,1511.5 1525,1512.8 1526.3,1514.2 1527.5,1515.5 1528.6,1517 1529.7,1518.6 1530.7,1520.3 1531.7,1522 1532.6,1523.8 1533.5,1525.7 1534.4,1527.6 1535.2,1529.5 1536.1,1531.4 1536.9,1533.3 1537.7,1535.2 1538.6,1537 1539.4,1538.8 1540.2,1540.6 1541,1542.4 1541.8,1544.3 1542.6,1546.1 1543.3,1548 1544.1,1549.9 1544.8,1551.7 1545.5,1553.6 1546.3,1555.5 1547,1557.3 1547.7,1559.2 1548.5,1561 1549.2,1562.9 1550,1564.8 1550.8,1566.6 1551.6,1568.4 1552.4,1570.2 1553.2,1572 1554.1,1573.8 1555,1575.7 1555.8,1577.5 1556.7,1579.3 1557.6,1581.1 1558.5,1582.9 1559.4,1584.7 1560.4,1586.5 1561.3,1588.3 1562.3,1590.1 1563.3,1591.8 1564.3,1593.5 1565.4,1595.2 1566.5,1596.8 1567.6,1598.4 1568.8,1600 1570,1601.6 1571.2,1603.2 1572.5,1604.8 1573.9,1606.3 1575.3,1607.8 1576.8,1609.3 1578.3,1610.7 1579.8,1612 1581.4,1613.1 1583,1614.2 1584.6,1615.1 1586.4,1616 1588.2,1616.9 1590.1,1617.7 1592,1618.4 1594,1619 1595.9,1619.6 1597.8,1620 1599.8,1620.3 1601.7,1620.6 1603.7,1620.9 1605.7,1621.2 1607.7,1621.4 1609.7,1621.6 1611.7,1621.7 1613.7,1621.7 1615.7,1621.6 1617.7,1621.5 1619.7,1621.3 1621.7,1621 1623.7,1620.7 1625.7,1620.4 1627.7,1620.1 1629.7,1619.7 1631.6,1619.3 1633.6,1618.9 1635.5,1618.4 1637.4,1617.9 1639.3,1617.2 1641.2,1616.5 1643.1,1615.7 1644.9,1614.9 1646.7,1614 1648.5,1613 1650.3,1612.1 1652,1611.1 1653.6,1610.1 1655.3,1609 1656.9,1607.9 1658.5,1606.6 1660.1,1605.4 1661.6,1604 1663.1,1602.7 1664.6,1601.3 1666.1,1599.9 1667.5,1598.4 1668.9,1597 1670.3,1595.6 1671.6,1594.1 1672.8,1592.6 1674.1,1591.1 1675.3,1589.5 1676.5,1587.9 1677.7,1586.3 1678.9,1584.7 1680,1583 1681.2,1581.3 1682.3,1579.7 1683.5,1578 1684.6,1576.4 1685.8,1574.7 1687,1573.1 1688.2,1571.5 1689.4,1569.9 1690.6,1568.3 1691.8,1566.7 1693,1565.1 1694.2,1563.5 1695.4,1561.9 1696.6,1560.3 1697.7,1558.7 1698.9,1557.1 1700.1,1555.5 1701.3,1553.9 1702.5,1552.3 1703.8,1550.7 1705,1549.1 1706.2,1547.5 1707.3,1545.7 1708.4,1543.8 1709.6,1542 1710.7,1540.2 1711.9,1538.6 1713.2,1537.2 1714.6,1536 1716.2,1535.2 1718.2,1534.5 1720.2,1534 1721.8,1534.3 1723.2,1535.3 1724.5,1537 1725.6,1539.1 1726.7,1541.2 1727.7,1543 1728.5,1544.8 1729.2,1546.6 1729.9,1548.5 1730.6,1550.4 1731.1,1552.3 1731.7,1554.3 1732.3,1556.2 1732.9,1558.1 1733.5,1560.1 1734.2,1561.9 1735,1563.8 1735.9,1565.8 1736.9,1568.1 1737.9,1570.3 1738.9,1572.2 1740,1573.5 1741.1,1574 1742.1,1573.3 1743.2,1571.8 1744.2,1569.7 1745.3,1567.5 1746.5,1565.5 1747.8,1564 1749.3,1562.6 1750.9,1561.3 1752.4,1559.9 1753.7,1558.5 1754.8,1556.9 1755.7,1555.2 1756.5,1553.4 1757.3,1551.6 1758,1549.7 1758.6,1547.7 1759.3,1545.8 1760,1543.9 1760.8,1542 1761.7,1540.2 1762.6,1538.4 1763.5,1536.6 1764.6,1534.8 1765.6,1533.1 1766.7,1531.3 1767.9,1529.7 1769.1,1528.2 1770.4,1526.8 1771.8,1525.5 1773.4,1524.3 1775,1523.2 1776.8,1522.1 1778.6,1521.1 1780.4,1520.1 1782.2,1519.2 1784,1518.4 1785.8,1517.6 1787.6,1516.8 1789.5,1516.1 1791.4,1515.4 1793.3,1514.8 1795.2,1514.1 1797.1,1513.5 1799,1512.8 1800.9,1512.1 1802.8,1511.5 1804.6,1510.7 1806.5,1510 1808.3,1509.1 1810.1,1508.2 1811.9,1507.3 1813.6,1506.3 1815.4,1505.2 1817.2,1504.2 1818.9,1503.2 1820.7,1502.2 1822.5,1501.3 1824.3,1500.4 1826.1,1499.6 1827.9,1498.9 1829.7,1498.3 1831.6,1497.8 1833.5,1497.4 1835.4,1497 1837.4,1496.6 1839.3,1496.2 1841.3,1495.9 1843.3,1495.5 1845.2,1495.2 1847.2,1494.9 1849.2,1494.7 1851.2,1494.4 1853.2,1494.1 1855.3,1493.8 1857.3,1493.6 1859.3,1493.3 1861.3,1493 1863.3,1492.7 1865.2,1492.4 1867.2,1492.1 1869.2,1491.8 1871.2,1491.5 1873.1,1491.1 1875.1,1490.8 1877.1,1490.5 1879.1,1490.1 1881,1489.8 1883,1489.5 1885,1489.2 1887,1488.9 1888.9,1488.6 1890.9,1488.3 1892.9,1488.1 1894.9,1487.9 1896.9,1487.7 1898.9,1487.5 1900.9,1487.3 1902.9,1487.1 1904.9,1486.9 1906.9,1486.8 1908.9,1486.7 1910.8,1486.7 1912.8,1486.7 1914.8,1486.8 1916.8,1486.9 1918.8,1486.9 1920.8,1487.1 1922.8,1487.2 1924.8,1487.4 1926.8,1487.5 1928.8,1487.7 1930.8,1487.9 1932.8,1488.1 1934.8,1488.3 1936.8,1488.5 1938.7,1488.9 1940.7,1489.4 1942.7,1489.9 1944.6,1490.4 1946.6,1490.8 1948.5,1491.3 1950.5,1491.6 1952.5,1491.9 1954.5,1492 1956.4,1492 1958.4,1492 1960.4,1492 1962.4,1492 1964.4,1492 1966.5,1492 1968.5,1492 1970.5,1492 1972.5,1492 1974.5,1492 1976.5,1492 1978.5,1492 1980.5,1492 1982.5,1492 1984.5,1492 1986.4,1491.9 1988.4,1491.5 1990.3,1491 1992.3,1490.4 1994.2,1489.8 1996.2,1489.2 1998.1,1488.9 2000.1,1488.8 2002.1,1488.7 2004.1,1488.7 2006.1,1488.6 2008.1,1488.6 2010.1,1488.5 2012.1,1488.5 2014.1,1488.5 2016.1,1488.4 2018.1,1488.4 2020.1,1488.4 2022.1,1488.3 2024.1,1488.3 2026.1,1488.3 2028.2,1488.3 2030.2,1488.3 2032.2,1488.2 2034.2,1488.2 2036.2,1488.2 2038.2,1488.2 2040.2,1488.2 2042.1,1488.2 2044.1,1488.2 2046.1,1488.3 2048.1,1488.5 2050.2,1488.9 2052.2,1489.4 2054.1,1490 2056,1490.6 2057.7,1491.3 2059.5,1492.2 2061.3,1493.5 2062.7,1494.9 2063.7,1496.4 2064.5,1498.1 2065.1,1500 2065.7,1501.9 2066.2,1504 2066.8,1506 2067.4,1508 2068,1510 2068.6,1512.3 2069.1,1514.8 2069.7,1517.1 2070.4,1519.1 2071.2,1520.4 2072.2,1520.8 2074.1,1520.3 2076.2,1519.5 2077.7,1518.3 2078.9,1516.4 2080.1,1514.3 2081.3,1512.6 2082.6,1512 2084.4,1512.7 2086.2,1514.1 2087.4,1515.4 2088.1,1517 2088.8,1518.7 2089.4,1520.5 2089.9,1522.5 2090.3,1524.5 2090.7,1526.6 2091.2,1528.8 2091.6,1530.9 2092.1,1532.9 2092.7,1534.9 2093.3,1536.8 2094,1538.8 2094.7,1540.7 2095.4,1542.6 2096.3,1544.4 2097.3,1546 2098.6,1547.7 2100.2,1549.2 2101.8,1549.9 2103.4,1549.3 2105,1547.9 2106.5,1546.2 2107.7,1544.5 2108.6,1542.8 2109.5,1541 2110.2,1539.1 2110.8,1537.2 2111.4,1535.2 2112,1533.3 2112.6,1531.4 2113.1,1529.4 2113.6,1527.5 2114,1525.5 2114.4,1523.5 2114.9,1521.6 2115.3,1519.6 2115.8,1517.7 2116.3,1515.8 2116.9,1513.8 2117.5,1511.7 2118.2,1509.5 2119,1507.5 2119.8,1505.8 2120.9,1504.6 2122.3,1503.8 2124.3,1503.1 2126.5,1502.6 2128.5,1502.4 2130.3,1502.9 2132.1,1504 2133.7,1505.4 2135.2,1506.7 2136.6,1508.1 2137.9,1509.7 2139.1,1511.4 2140.1,1513.1 2141,1514.8 2141.7,1516.6 2142.4,1518.5 2143,1520.4 2143.6,1522.4 2144.2,1524.3 2144.7,1526.3 2145.2,1528.2 2145.7,1530.2 2146.1,1532.1 2146.5,1534.1 2146.9,1536 2147.3,1538 2147.7,1540 2148.2,1541.9 2148.6,1543.9 2149.1,1545.8 2149.7,1547.8 2150.2,1549.9 2150.8,1552 2151.5,1553.8 2152.4,1555.1 2154.2,1555.9 2156.2,1556.8 2157.6,1558.1 2158.9,1560 2160,1562.2 2161.1,1563.9 2162.4,1564.7 2164.1,1564.3 2166,1563.1 2167.5,1561.7 2168.6,1559.6 2169.6,1558 2171,1558.3 2172.5,1560 2174,1561.9 2175.5,1563.1 2176.9,1562.8 2178.1,1561.3 2179.2,1559.1 2180.4,1556.8 2181.6,1554.9 2183,1554 2184.8,1554 2187,1554 2189,1554 2190.7,1553.6 2192.2,1552.3 2193.7,1550.6 2195.2,1549 2196.6,1547.4 2198.1,1545.6 2199.5,1544.3 2201,1544.1 2202.5,1545.1 2203.9,1546.8 2205.3,1548.6 2206.5,1550.4 2207.4,1552.6 2208.4,1554.6 2209.6,1555.7 2211.3,1555.7 2213.5,1555.2 2215,1554.6 2216.2,1553.4 2217.1,1551.6 2218,1549.6 2218.8,1547.5 2219.8,1545.5 2220.9,1543.7 2222.4,1541.8 2223.9,1539.9 2225.1,1538.8 2225.9,1538.8 2226.5,1540.2 2227,1542.5 2227.4,1545.1 2227.8,1547.4 2228.1,1549.3 2228.4,1551.3 2228.6,1553.3 2228.9,1555.3 2229.1,1557.3 2229.3,1559.3 2229.5,1561.2 2229.7,1563.2 2229.9,1565.2 2230.1,1567.2 2230.2,1569.2 2230.5,1571.2 2230.7,1573.2 2230.9,1575.2 2231.2,1577.2 2231.4,1579.2 2231.6,1581.2 2231.9,1583.2 2232.1,1585.2 2232.3,1587.1 2232.6,1589.1 2232.8,1591.1 2233.1,1593.1 2233.4,1595.1 2233.7,1597 2234.1,1599 2234.4,1601 2234.8,1603.3 2235.2,1605.8 2235.8,1608.1 2236.3,1609.6 2237,1609.6 2238,1607.9 2239.1,1605.4 2240.3,1603.2 2241.3,1602.4 2242.1,1603.1 2242.9,1604.8 2243.6,1607 2244.4,1609.4 2245.1,1611.7 2246,1613.6 2246.9,1615.4 2247.9,1617.2 2248.9,1618.9 2249.9,1620.6 2251,1622.3 2252.1,1624 2253.4,1626 2254.7,1628 2256,1629.7 2257.2,1630.6 2258.3,1629.9 2259.4,1627.6 2260.3,1625.3 2261.2,1624.6 2261.9,1625.6 2262.6,1627.5 2263.2,1629.8 2263.9,1632.3 2264.7,1634.4 2265.7,1636.1 2267,1637.6 2268.5,1639 2270.1,1640.3 2271.7,1641.7 2273.4,1642.9 2274.7,1642.8 2276,1641.8 2277.2,1640.2 2278.4,1638.2 2279.4,1636 2280.2,1633.7 2280.9,1631.6 2281.4,1629.7 2281.9,1627.8 2282.3,1625.9 2282.6,1624 2282.9,1622.1 2283.2,1620.1 2283.5,1618.1 2283.7,1616.1 2284,1614 2284.2,1612 2284.4,1610 2284.7,1608 2284.9,1605.9 2285.2,1603.9 2285.5,1601.9 2285.9,1600 2286.2,1598 2286.6,1596 2287,1594.1 2287.3,1592.1 2287.7,1590.2 2288.1,1588.2 2288.6,1586.2 2289,1584.3 2289.4,1582.3 2289.8,1580.4 2290.2,1578.4 2290.6,1576.5 2291.1,1574.5 2291.5,1572.5 2291.9,1570.6 2292.3,1568.6 2292.7,1566.7 2293.1,1564.7 2293.5,1562.7 2293.9,1560.8 2294.3,1558.8 2294.7,1556.9 2295.1,1554.9 2295.5,1552.9 2295.9,1551 2296.2,1549 2296.6,1547.1 2297,1545.1 2297.4,1543.1 2297.8,1541.2 2298.2,1539.2 2298.6,1537.3 2299.1,1535.3 2299.5,1533.3 2299.9,1531.4 2300.2,1529.4 2300.6,1527.4 2301,1525.4 2301.4,1523.4 2301.8,1521.5 2302.2,1519.5 2302.6,1517.6 2303.1,1515.6 2303.6,1513.7 2304.1,1511.8 2304.7,1509.9 2305.3,1508 2306.1,1506.2 2307,1504.4 2308,1502.6 2308.9,1500.9 2309.9,1499 2310.9,1496.8 2312,1494.6 2313,1493.1 2314.1,1492.6 2315,1493.8 2315.9,1496 2316.9,1498.5 2317.9,1500.6 2319.2,1501.5 2321.1,1501 2322.9,1499.9 2323.9,1498.4 2324.8,1496.2 2325.5,1493.7 2326.2,1491.3 2326.9,1489.4 2327.6,1488.3 2328.6,1488.4 2329.6,1489.4 2330.6,1491.2 2331.7,1493.3 2332.8,1495.5 2334,1497.6 2335.1,1499.3 2336.4,1500.8 2337.8,1502.4 2339.1,1503.9 2340.3,1505.5 2341.2,1507.3 2342,1509.5 2342.8,1512 2343.4,1514.3 2344.1,1516.4 2344.9,1518 2345.7,1518.7 2346.7,1518.1 2347.7,1516.1 2348.8,1513.7 2350.1,1511.8 2351.5,1511.4 2353.2,1512.7 2354.5,1514.2 2355.5,1516.1 2356.3,1518.3 2357,1520.7 2357.7,1523.2 2358.3,1525.4 2359,1527.4 2359.9,1528.8 2360.8,1529.6 2362,1529.4 2363.5,1528 2365.3,1526.3 2367,1525.3 2368.8,1525.4 2370.8,1525.7 2372.8,1526.3 2374.9,1527 2376.9,1527.8 2378.7,1528.6 2380.4,1529.6 2381.7,1530.8 2382.9,1532.6 2384,1534.8 2385,1537 2386.1,1538.8 2387.3,1539.9 2388.8,1539.7 2390.5,1538.3 2392.2,1537 2393.6,1537.6 2395,1539.4 2396.3,1541.7 2397.4,1543.7 2398.4,1544.5 2399.2,1543.9 2399.9,1542.3 2400.5,1539.9 2401,1537.2 2401.5,1534.4 2402.1,1531.8 2402.8,1529.7 2403.6,1528.5 2404.8,1528.3 2406.7,1528.8 2408.9,1529.5 2410.7,1529.7 2412.2,1529.3 2413.6,1528.4 2414.9,1527 2416.1,1525.1 2417.2,1522.9 2418.1,1520.2 2418.3,1519.3" fill="none" stroke="#0a6be2" stroke-width="4.4" stroke-linejoin="round" stroke-linecap="butt" />
<polyline points="1443.3,1679.5 1445.3,1679.4 1447.3,1678.9 1449.3,1679.4 1451.3,1678.5 1453.3,1677.6 1455.3,1680.1 1457.3,1679.3 1459.3,1677.5 1461.3,1678.2 1463.3,1678.6 1465.3,1679.3 1467.3,1680 1469.3,1679.3 1471.3,1678.8 1473.3,1679.4 1475.3,1679 1477.3,1679.3 1479.3,1678.7 1481.3,1678.4 1483.3,1680.1 1485.3,1679 1487.3,1679.4 1489.3,1678.9 1491.3,1679 1493.3,1679.1 1495.3,1679.9 1497.3,1680.3 1499.3,1679.9 1501.3,1679.1 1503.3,1681.5 1505.3,1680.2 1507.4,1680.3 1509.4,1679.3 1511.5,1679.5 1513.5,1680.1 1515.6,1678.5 1517.6,1679.2 1519.7,1680.1 1521.8,1681.6 1523.8,1680.2 1525.9,1679.2 1527.9,1679.2 1529.9,1680.7 1531.9,1679.6 1533.9,1679.9 1535.9,1681.6 1537.9,1680.4 1539.9,1680.2 1541.8,1680 1543.7,1681.5 1545.6,1681.6 1547.5,1680.4 1549.3,1680 1551.1,1681.1 1552.9,1682.6 1554.6,1682.8 1556.3,1682.6 1558,1684.9 1559.6,1686.5 1561.3,1687.4 1563,1688.7 1564.6,1690 1566.3,1691.2 1568.1,1692.2 1569.9,1693.1 1571.7,1693.9 1573.5,1694.8 1575.3,1695.7 1577.1,1696.5 1579,1697.3 1580.8,1698.1 1582.7,1698.9 1584.6,1699.6 1586.4,1700.4 1588.3,1701.1 1590.2,1701.7 1592.1,1702.3 1594,1702.9 1595.9,1703.5 1597.9,1704 1599.8,1704.4 1601.7,1704.9 1603.6,1705.4 1605.6,1705.9 1607.6,1706.3 1609.5,1706.8 1611.5,1707.2 1613.5,1707.6 1615.5,1708 1617.5,1708.3 1619.4,1708.6 1621.4,1708.8 1623.4,1709 1625.4,1709.1 1627.4,1709.2 1629.4,1709.2 1631.4,1709.2 1633.4,1709.2 1635.4,1709.2 1637.4,1709.2 1639.4,1709.2 1641.4,1709.1 1643.4,1709.1 1645.4,1709.1 1647.4,1709.1 1649.4,1709 1651.4,1709 1653.4,1709 1655.4,1709 1657.4,1708.9 1659.4,1708.9 1661.4,1708.8 1663.4,1708.8 1665.4,1708.8 1667.4,1708.7 1669.4,1708.7 1671.4,1708.6 1673.4,1708.6 1675.4,1708.5 1677.4,1708.4 1679.4,1708.3 1681.4,1708.1 1683.3,1707.9 1685.3,1707.7 1687.3,1707.5 1689.3,1707.3 1691.3,1707 1693.3,1706.8 1695.3,1706.5 1697.3,1706.2 1699.2,1706 1701.2,1705.7 1703.2,1705.4 1705.2,1705.1 1707.2,1704.8 1709.2,1704.6 1711.2,1704.3 1713.1,1704.1 1715.1,1703.8 1717.1,1703.6 1719.1,1703.4 1721.1,1703.2 1723.1,1702.9 1725.1,1702.7 1727.1,1702.5 1729,1702.3 1731,1702.1 1733,1701.9 1735,1701.7 1737,1701.4 1739,1701.2 1741,1701 1743,1700.7 1744.9,1700.5 1746.9,1700.2 1748.9,1699.9 1750.9,1699.6 1752.9,1699.3 1754.8,1699 1756.8,1698.7 1758.8,1698.4 1760.8,1698.1 1762.7,1697.8 1764.7,1697.4 1766.7,1697.1 1768.7,1696.8 1770.6,1696.6 1772.6,1696.3 1774.6,1696 1776.6,1695.8 1778.6,1695.6 1780.6,1695.4 1782.6,1695.2 1784.5,1695 1786.5,1694.8 1788.5,1694.6 1790.5,1694.4 1792.5,1694.2 1794.5,1694 1796.5,1693.8 1798.5,1693.6 1800.5,1693.4 1802.5,1693.2 1804.5,1693.1 1806.5,1692.9 1808.4,1692.7 1810.4,1692.5 1812.4,1692.4 1814.4,1692.2 1816.4,1692.1 1818.4,1691.9 1820.4,1691.8 1822.4,1691.6 1824.4,1691.5 1826.4,1691.4 1828.4,1691.2 1830.4,1691.1 1832.4,1691 1834.4,1690.9 1836.4,1690.8 1838.4,1690.7 1840.4,1690.6 1842.4,1690.5 1844.4,1690.4 1846.4,1690.3 1848.4,1690.2 1850.4,1690.1 1852.4,1690 1854.4,1689.9 1856.4,1689.9 1858.4,1689.8 1860.4,1689.7 1862.4,1689.6 1864.4,1689.6 1866.4,1689.5 1868.4,1689.4 1870.3,1689.3 1872.3,1689.3 1874.3,1689.2 1876.3,1689.1 1878.3,1689.1 1880.3,1689 1882.3,1688.9 1884.3,1688.8 1886.3,1688.8 1888.3,1688.7 1890.3,1688.6 1892.3,1688.5 1894.3,1688.5 1896.3,1688.4 1898.3,1688.3 1900.3,1688.2 1902.3,1688.1 1904.3,1688.1 1906.3,1688 1908.3,1687.9 1910.3,1687.8 1912.3,1687.8 1914.3,1687.7 1916.3,1687.6 1918.3,1687.6 1920.3,1687.5 1922.3,1687.4 1924.3,1687.3 1926.3,1687.3 1928.3,1687.2 1930.3,1687.1 1932.3,1687 1934.3,1687 1936.3,1686.9 1938.3,1686.8 1940.3,1686.7 1942.3,1686.6 1944.3,1686.5 1946.3,1686.4 1948.3,1686.3 1950.3,1686.2 1952.3,1686.1 1954.3,1686 1956.3,1685.9 1958.3,1685.8 1960.3,1685.7 1962.3,1685.5 1964.3,1685.4 1966.3,1685.2 1968.2,1685 1970.2,1684.8 1972.2,1684.6 1974.2,1684.4 1976.2,1684.2 1978.2,1684 1980.2,1683.9 1982.2,1683.7 1984.2,1683.6 1986.2,1683.5 1988.2,1683.3 1990.2,1683.2 1992.2,1683 1994.2,1682.9 1996.2,1682.7 1998.2,1682.6 2000.2,1682.4 2002.1,1682.3 2004.1,1682.1 2006.1,1682 2008.1,1681.8 2010.1,1681.7 2012.1,1681.6 2014.1,1681.4 2016.1,1681.3 2018.1,1681.2 2020.1,1681.1 2022.1,1681 2024.1,1680.8 2026.1,1680.7 2028.1,1680.6 2030.1,1680.6 2032.1,1680.5 2034.1,1680.4 2036.1,1680.3 2038.1,1680.2 2040.1,1680.2 2042.1,1680.1 2044.1,1680.1 2046.1,1680.1 2048.1,1680 2050.1,1680 2052.1,1680 2054.1,1680 2056.1,1680 2058.1,1680 2060.1,1680.1 2062.1,1680.1 2064.2,1680.2 2066.2,1680.2 2068.2,1680.3 2070.2,1680.4 2072.2,1680.5 2074.1,1680.6 2076.1,1680.7 2078,1680.9 2080,1681.3 2081.9,1681.8 2083.9,1682.5 2085.8,1683.3 2087.6,1684.1 2089.3,1685 2091,1686.1 2092.6,1687.5 2094.2,1688.8 2095.9,1689.9 2097.6,1690.6 2099.6,1691.2 2101.6,1691.6 2103.6,1691.9 2105.4,1691.9 2107.2,1691.3 2108.9,1690.2 2110.6,1688.9 2112.3,1687.6 2114,1686.4 2115.8,1685.7 2117.7,1685.2 2119.6,1684.7 2121.6,1684.2 2123.6,1683.8 2125.5,1683.3 2127.5,1682.9 2129.4,1682.3 2131.4,1681.7 2133.3,1681.1 2135.3,1680.5 2137.2,1680.1 2139.2,1679.7 2141.1,1679.5 2143.1,1679.5 2145.1,1679.5 2147.1,1679.6 2149.1,1679.6 2151.1,1679.6 2153.1,1679.7 2155.1,1679.7 2157.1,1679.8 2159.1,1679.9 2161.1,1679.9 2163.1,1679.9 2165.1,1680 2167.1,1680 2169.1,1680 2171.1,1679.8 2173.1,1679.5 2175.1,1679.2 2177,1678.9 2179,1678.7 2181,1678.6 2183,1678.6 2185,1678.6 2187,1678.6 2189,1678.6 2191,1678.6 2193,1678.6 2195,1678.6 2197,1678.6 2199,1678.6 2201,1678.6 2203,1678.6 2205,1678.6 2207,1678.7 2209.1,1678.8 2211.1,1678.9 2213.1,1679.1 2215.2,1679.3 2217.2,1679.6 2219.2,1679.9 2221.2,1680.2 2223.1,1680.6 2225,1681 2226.9,1681.4 2228.7,1681.9 2230.5,1683 2232.1,1684.3 2233.8,1685.8 2235.4,1687.1 2237.2,1687.9 2238.9,1688 2240.8,1687.5 2242.7,1686.9 2244.7,1686.1 2246.6,1685.4 2248.6,1685 2250.6,1684.9 2252.6,1684.8 2254.6,1684.7 2256.6,1684.6 2258.6,1684.4 2260.5,1683.9 2262.4,1683.2 2264.3,1682.5 2266.1,1681.7 2268,1681.1 2270,1680.6 2271.9,1680.1 2273.9,1679.6 2275.8,1679.1 2277.8,1678.7 2279.8,1678.4 2281.8,1678.1 2283.7,1678 2285.7,1678 2287.7,1678 2289.7,1678.1 2291.7,1678.2 2293.8,1678.3 2295.8,1678.4 2297.7,1678.5 2299.7,1678.7 2301.8,1678.9 2303.9,1679.2 2305.9,1679.6 2308,1680.1 2309.9,1680.6 2311.6,1681.3 2313.1,1682 2314.5,1683.2 2315.8,1684.8 2317,1686.5 2318.2,1688.3 2319.4,1690.1 2320.7,1691.6 2321.9,1693.3 2323.2,1695 2324.4,1696.6 2325.7,1698.2 2327,1699.6 2328.5,1700.8 2330.1,1701.8 2331.9,1702.9 2333.8,1703.8 2335.7,1704.5 2337.7,1704.7 2339.6,1704.7 2341.6,1704.7 2343.6,1704.7 2345.6,1704.7 2347.7,1704.7 2349.7,1704.7 2351.8,1704.7 2353.8,1704.7 2355.8,1704.7 2357.7,1704.7 2359.6,1704.8 2361.4,1705.5 2363.2,1706.5 2364.9,1707.7 2366.7,1708.8 2368.4,1709.9 2370.1,1711.1 2371.9,1712.2 2373.6,1713.1 2375.5,1713.4 2377.4,1713.5 2379.3,1713.7 2381.3,1713.8 2383.3,1713.9 2385.4,1714 2387.4,1714.1 2389.5,1714.2 2391.5,1714.2 2393.5,1714.2 2395.5,1714.1 2397.5,1713.9 2399.5,1713.6 2401.5,1713.2 2403.4,1712.7 2405.3,1712.1 2407.2,1711.5 2409.1,1710.7 2410.9,1709.8 2412.6,1708.7 2414.1,1707.6 2415.5,1706.2 2416.8,1704.6 2418,1702.9 2418.3,1702.3" fill="none" stroke="#fb3b3b" stroke-width="4.2" stroke-linejoin="round" stroke-linecap="butt" />
<polyline points="1443.3,1802.4 1445.3,1802.4 1447.3,1802.5 1449.3,1802.5 1451.3,1802.5 1453.3,1802.6 1455.3,1802.6 1457.3,1802.6 1459.3,1802.6 1461.3,1802.7 1463.3,1802.7 1465.3,1802.7 1467.3,1802.7 1469.3,1802.7 1471.3,1802.7 1473.3,1802.7 1475.3,1802.8 1477.3,1802.8 1479.3,1802.8 1481.3,1802.8 1483.3,1802.8 1485.3,1802.8 1487.3,1802.8 1489.3,1802.8 1491.3,1802.8 1493.3,1802.8 1495.3,1802.8 1497.3,1802.8 1499.3,1802.8 1501.3,1802.8 1503.4,1802.8 1505.5,1802.8 1507.6,1802.8 1509.7,1802.7 1511.9,1802.7 1514,1802.7 1516.1,1802.6 1518.3,1802.6 1520.4,1802.6 1522.4,1802.5 1524.4,1802.5 1526.4,1802.5 1528.3,1802.4 1530.1,1802.4 1531.8,1802.4 1533.4,1802.4 1535,1802.6 1536.4,1803.3 1537.8,1804.6 1539.1,1806.2 1540.4,1808.1 1541.6,1810.1 1542.9,1812.1 1544.1,1813.8 1545.4,1815.4 1546.6,1817 1547.8,1818.6 1549,1820.2 1550.2,1821.8 1551.4,1823.4 1552.6,1825.1 1553.7,1826.7 1554.9,1828.3 1556.1,1829.9 1557.3,1831.6 1558.5,1833.1 1559.7,1834.7 1560.9,1836.3 1562.2,1837.8 1563.5,1839.3 1564.8,1840.8 1566.2,1842.3 1567.5,1843.9 1568.9,1845.4 1570.2,1846.9 1571.6,1848.3 1573,1849.8 1574.5,1851.2 1575.9,1852.5 1577.4,1853.8 1579,1855.1 1580.5,1856.2 1582.1,1857.4 1583.8,1858.6 1585.5,1859.7 1587.2,1860.8 1589,1861.9 1590.8,1862.8 1592.6,1863.5 1594.5,1864.2 1596.4,1864.6 1598.3,1865.1 1600.3,1865.5 1602.3,1865.7 1604.3,1865.8 1606.3,1865.7 1608.3,1865.4 1610.2,1864.9 1612.2,1864.4 1614.2,1863.9 1616.1,1863.4 1618,1862.8 1619.8,1862.1 1621.7,1861.3 1623.5,1860.4 1625.3,1859.5 1627.1,1858.6 1629,1857.8 1630.8,1857 1632.7,1856.3 1634.6,1855.8 1636.5,1855.3 1638.4,1854.9 1640.4,1854.5 1642.3,1854.1 1644.3,1853.8 1646.3,1853.4 1648.3,1853.1 1650.3,1852.8 1652.3,1852.5 1654.2,1852.1 1656.2,1851.8 1658.2,1851.4 1660.1,1851 1662.1,1850.6 1664.1,1850.3 1666,1849.9 1668,1849.5 1670,1849.2 1671.9,1848.8 1673.9,1848.4 1675.9,1848 1677.8,1847.6 1679.8,1847.2 1681.7,1846.8 1683.7,1846.4 1685.6,1845.9 1687.6,1845.5 1689.5,1845 1691.4,1844.5 1693.4,1843.9 1695.3,1843.4 1697.2,1842.8 1699.1,1842.2 1701,1841.6 1702.9,1841 1704.8,1840.4 1706.7,1839.8 1708.6,1839.2 1710.6,1838.5 1712.5,1838 1714.4,1837.4 1716.3,1836.8 1718.2,1836.3 1720.2,1835.7 1722.1,1835.2 1724,1834.6 1725.9,1834.1 1727.9,1833.6 1729.8,1833.1 1731.7,1832.5 1733.7,1832 1735.6,1831.5 1737.5,1831 1739.4,1830.4 1741.4,1829.9 1743.3,1829.4 1745.2,1828.9 1747.2,1828.3 1749.1,1827.8 1751,1827.3 1752.9,1826.7 1754.9,1826.2 1756.8,1825.6 1758.7,1825.1 1760.6,1824.6 1762.6,1824 1764.5,1823.5 1766.4,1823 1768.4,1822.4 1770.3,1821.9 1772.2,1821.4 1774.2,1820.9 1776.1,1820.4 1778,1819.9 1780,1819.3 1781.9,1818.8 1783.8,1818.3 1785.8,1817.8 1787.7,1817.3 1789.6,1816.7 1791.6,1816.2 1793.5,1815.7 1795.4,1815.2 1797.4,1814.8 1799.3,1814.3 1801.3,1813.9 1803.2,1813.4 1805.2,1813 1807.1,1812.7 1809.1,1812.3 1811.1,1811.9 1813,1811.6 1815,1811.2 1817,1810.9 1819,1810.6 1820.9,1810.2 1822.9,1809.9 1824.9,1809.6 1826.9,1809.4 1828.9,1809.1 1830.9,1808.8 1832.8,1808.6 1834.8,1808.4 1836.8,1808.2 1838.8,1808 1840.8,1807.9 1842.8,1807.7 1844.8,1807.5 1846.8,1807.4 1848.8,1807.2 1850.8,1807.1 1852.8,1807 1854.8,1806.8 1856.8,1806.7 1858.8,1806.6 1860.8,1806.5 1862.8,1806.4 1864.8,1806.3 1866.7,1806.3 1868.7,1806.2 1870.7,1806.1 1872.7,1806.1 1874.7,1806 1876.7,1806 1878.7,1805.9 1880.7,1805.9 1882.7,1805.9 1884.7,1805.8 1886.7,1805.8 1888.7,1805.7 1890.7,1805.7 1892.7,1805.7 1894.7,1805.6 1896.7,1805.6 1898.7,1805.5 1900.7,1805.5 1902.7,1805.4 1904.7,1805.4 1906.7,1805.3 1908.7,1805.3 1910.7,1805.2 1912.7,1805.2 1914.7,1805.1 1916.7,1805.1 1918.7,1805 1920.7,1805 1922.7,1804.9 1924.7,1804.9 1926.7,1804.8 1928.7,1804.7 1930.7,1804.7 1932.7,1804.6 1934.7,1804.6 1936.7,1804.5 1938.7,1804.5 1940.7,1804.4 1942.7,1804.3 1944.7,1804.3 1946.7,1804.2 1948.7,1804.2 1950.7,1804.1 1952.7,1804.1 1954.7,1804 1956.7,1804 1958.7,1803.9 1960.7,1803.9 1962.7,1803.8 1964.7,1803.8 1966.7,1803.8 1968.7,1803.7 1970.7,1803.7 1972.7,1803.6 1974.7,1803.6 1976.7,1803.5 1978.7,1803.5 1980.7,1803.4 1982.7,1803.4 1984.7,1803.3 1986.7,1803.3 1988.7,1803.2 1990.7,1803.1 1992.7,1803 1994.7,1803 1996.7,1802.9 1998.7,1802.8 2000.7,1802.7 2002.7,1802.6 2004.7,1802.6 2006.7,1802.5 2008.7,1802.4 2010.7,1802.3 2012.7,1802.3 2014.7,1802.2 2016.7,1802.1 2018.7,1802 2020.7,1802 2022.7,1801.9 2024.7,1801.9 2026.7,1801.8 2028.7,1801.8 2030.7,1801.8 2032.7,1801.7 2034.7,1801.7 2036.7,1801.7 2038.7,1801.7 2040.7,1801.7 2042.7,1801.7 2044.7,1801.7 2046.7,1801.7 2048.7,1801.7 2050.7,1801.7 2052.7,1801.8 2054.7,1801.8 2056.7,1801.8 2058.7,1801.8 2060.7,1801.9 2062.7,1801.9 2064.7,1801.9 2066.7,1802 2068.7,1802 2070.7,1802.3 2072.7,1802.6 2074.7,1803.1 2076.6,1803.7 2078.5,1804.3 2080.3,1805 2082,1805.9 2083.8,1806.9 2085.4,1808.1 2087.1,1809.4 2088.6,1810.7 2090.1,1812.1 2091.4,1813.5 2092.6,1815.1 2093.8,1816.8 2095,1818.4 2096.3,1820 2097.7,1821.3 2099.3,1822.8 2101,1823.9 2102.8,1823.8 2104.8,1822.9 2106.3,1821.8 2107.5,1820.4 2108.4,1818.6 2109.2,1816.6 2110,1814.6 2110.8,1812.6 2111.9,1811 2113.2,1809.7 2114.8,1808.4 2116.6,1807.4 2118.4,1806.7 2120.3,1806.2 2122.2,1805.8 2124.2,1805.4 2126.2,1805.1 2128.2,1804.8 2130.3,1804.5 2132.2,1804.2 2134.2,1803.7 2136.1,1803 2138.1,1802.4 2140,1801.9 2141.9,1801.7 2143.9,1801.7 2145.9,1801.7 2148,1801.7 2150.1,1801.8 2152.1,1801.8 2154.2,1801.9 2156.2,1802 2158.2,1802 2160.1,1802.1 2162,1802.3 2163.8,1802.7 2165.5,1804 2167.2,1805.4 2168.9,1806.2 2170.4,1805.5 2172,1803.7 2173.6,1802.2 2175.3,1802 2177.2,1802 2179.1,1802 2181.2,1802 2183.3,1802 2185.4,1802 2187.5,1802 2189.5,1802 2191.5,1802 2193.3,1802.1 2195.1,1802.8 2196.9,1804 2198.6,1805.4 2200.1,1806.8 2201.5,1808.2 2202.7,1809.7 2203.7,1811.3 2204.7,1813.1 2205.7,1814.9 2206.7,1816.7 2207.8,1818.4 2209,1820 2210.3,1821.8 2211.6,1823.7 2213.1,1825.4 2214.5,1826.6 2216.1,1827 2217.8,1826.6 2219.7,1825.8 2221.6,1824.8 2223.5,1823.9 2225.5,1823.1 2227.4,1822.5 2228.9,1822.9 2230.1,1824.5 2231.3,1826.5 2232.3,1828.5 2233.3,1830.4 2234.2,1832.7 2235.1,1835 2236,1836.9 2237,1838.3 2238.3,1838.8 2240.4,1838.8 2242.5,1838.8 2243.5,1838.5 2244.2,1837.2 2244.8,1835.3 2245.3,1833 2245.8,1830.5 2246.3,1828 2246.9,1825.8 2247.5,1823.9 2248.1,1821.9 2248.8,1819.9 2249.4,1818 2250.2,1816.1 2251.1,1814.5 2252.1,1812.9 2253.6,1811.2 2255.3,1810.1 2257.1,1810.2 2259,1811.1 2260.7,1812.2 2262.2,1813.7 2263.5,1815.7 2264.8,1817.6 2266,1819.1 2267.2,1819.5 2268.4,1818.4 2269.6,1816.5 2270.6,1814.3 2271.4,1812.4 2271.9,1810.4 2272.4,1808.4 2273,1806.4 2273.8,1804.8 2275.1,1803.2 2276.8,1801.9 2278.6,1801.9 2280.4,1803 2282.2,1803.9 2284.1,1803.8 2286,1803.1 2288,1802.4 2289.9,1802 2291.9,1802 2294,1802 2296,1802 2298.1,1802 2300.1,1802 2302.1,1802 2304,1802 2305.8,1802.1 2307.7,1803 2309.4,1804.4 2310.8,1805.9 2311.9,1807.4 2312.8,1809 2313.7,1810.8 2314.4,1812.7 2315.2,1814.7 2315.8,1816.7 2316.5,1818.6 2317.2,1820.5 2317.8,1822.4 2318.4,1824.3 2318.9,1826.2 2319.4,1828.2 2320,1830.1 2320.5,1832.1 2321,1834 2321.5,1835.9 2322.1,1837.9 2322.6,1839.8 2323.2,1841.7 2323.8,1843.6 2324.3,1845.6 2324.9,1847.6 2325.5,1849.5 2326.1,1851.4 2326.7,1853.3 2327.4,1855.2 2328.2,1857 2329.1,1858.7 2330.1,1860.4 2331.3,1862.2 2332.6,1863.8 2334,1865.1 2335.6,1866.1 2337.4,1867 2339.3,1867.8 2341.3,1868.3 2343.2,1868.7 2345.3,1868.9 2347.3,1869.1 2349.2,1869.3 2351.1,1869.9 2352.9,1870.7 2354.6,1871.8 2356.3,1872.9 2358,1874.1 2359.6,1875.3 2361.2,1876.5 2362.7,1877.7 2364.3,1879.1 2365.8,1880.4 2367.2,1881.7 2368.7,1883.2 2370,1884.9 2371.3,1886.5 2372.7,1888 2374.3,1889 2376,1889.6 2378,1889.9 2380.1,1890.2 2382,1890.7 2383.8,1891.6 2385.5,1893 2387.1,1894.5 2388.7,1895.8 2390.4,1896.5 2392.1,1896.4 2393.8,1895.5 2395.5,1894.3 2397.2,1892.9 2399,1891.9 2400.9,1891.1 2402.9,1890.4 2404.8,1889.7 2406.7,1889 2408.3,1888.1 2409.7,1886.9 2411,1885.5 2412.2,1883.8 2413.3,1881.9 2414.2,1880.1 2414.9,1878.2 2415.6,1876.4 2416.2,1874.6 2416.8,1872.7 2417.3,1870.7 2417.7,1868.7 2418.1,1866.7 2418.3,1864.6 2418.3,1864" fill="none" stroke="#4a4a4a" stroke-width="4.4" stroke-linejoin="round" stroke-linecap="butt" />
<path d="M1904,1376v10M1484,1377v9M1514.5,1378v9" stroke="#10aa66" stroke-width="2.6" fill="none"/>
<path d="M1904,1682.5v11M1484,1674.5v9M1514.5,1674.5v9" stroke="#fb3b3b" stroke-width="2.6" fill="none"/>
<rect x="1443.3" y="1181.0" width="976.7" height="787.7" fill="none" stroke="#000" stroke-width="4.4"/>
<line x1="1513.1" y1="1968.7" x2="1513.1" y2="1960.2" stroke="#000" stroke-width="3.6"/>
<line x1="1582.8" y1="1968.7" x2="1582.8" y2="1953.2" stroke="#000" stroke-width="3.6"/>
<line x1="1652.6" y1="1968.7" x2="1652.6" y2="1960.2" stroke="#000" stroke-width="3.6"/>
<line x1="1722.4" y1="1968.7" x2="1722.4" y2="1953.2" stroke="#000" stroke-width="3.6"/>
<line x1="1792.1" y1="1968.7" x2="1792.1" y2="1960.2" stroke="#000" stroke-width="3.6"/>
<line x1="1861.9" y1="1968.7" x2="1861.9" y2="1953.2" stroke="#000" stroke-width="3.6"/>
<line x1="1931.7" y1="1968.7" x2="1931.7" y2="1960.2" stroke="#000" stroke-width="3.6"/>
<line x1="2001.4" y1="1968.7" x2="2001.4" y2="1953.2" stroke="#000" stroke-width="3.6"/>
<line x1="2071.2" y1="1968.7" x2="2071.2" y2="1960.2" stroke="#000" stroke-width="3.6"/>
<line x1="2140.9" y1="1968.7" x2="2140.9" y2="1953.2" stroke="#000" stroke-width="3.6"/>
<line x1="2210.7" y1="1968.7" x2="2210.7" y2="1960.2" stroke="#000" stroke-width="3.6"/>
<line x1="2280.5" y1="1968.7" x2="2280.5" y2="1953.2" stroke="#000" stroke-width="3.6"/>
<line x1="2350.2" y1="1968.7" x2="2350.2" y2="1960.2" stroke="#000" stroke-width="3.6"/>
<text x="1443.3" y="2013.5" font-family='"Liberation Serif", "Noto Serif CJK SC", serif' font-size="32" font-weight="normal" text-anchor="middle" fill="#000" >4000</text>
<text x="1582.8" y="2013.5" font-family='"Liberation Serif", "Noto Serif CJK SC", serif' font-size="32" font-weight="normal" text-anchor="middle" fill="#000" >3500</text>
<text x="1722.4" y="2013.5" font-family='"Liberation Serif", "Noto Serif CJK SC", serif' font-size="32" font-weight="normal" text-anchor="middle" fill="#000" >3000</text>
<text x="1861.9" y="2013.5" font-family='"Liberation Serif", "Noto Serif CJK SC", serif' font-size="32" font-weight="normal" text-anchor="middle" fill="#000" >2500</text>
<text x="2001.4" y="2013.5" font-family='"Liberation Serif", "Noto Serif CJK SC", serif' font-size="32" font-weight="normal" text-anchor="middle" fill="#000" >2000</text>
<text x="2140.9" y="2013.5" font-family='"Liberation Serif", "Noto Serif CJK SC", serif' font-size="32" font-weight="normal" text-anchor="middle" fill="#000" >1500</text>
<text x="2280.5" y="2013.5" font-family='"Liberation Serif", "Noto Serif CJK SC", serif' font-size="32" font-weight="normal" text-anchor="middle" fill="#000" >1000</text>
<text x="2420" y="2013.5" font-family='"Liberation Serif", "Noto Serif CJK SC", serif' font-size="32" font-weight="normal" text-anchor="middle" fill="#000" >500</text>
<text x="1481.4" y="1425.3" font-family='"Liberation Serif", "Noto Serif CJK SC", serif' font-size="42" font-weight="normal" text-anchor="middle" fill="#000" >d</text>
<text x="1480.5" y="1556.3" font-family='"Liberation Serif", "Noto Serif CJK SC", serif' font-size="42" font-weight="normal" text-anchor="middle" fill="#000" >c</text>
<text x="1476.7" y="1732.4" font-family='"Liberation Serif", "Noto Serif CJK SC", serif' font-size="42" font-weight="normal" text-anchor="middle" fill="#000" >b</text>
<text x="1475.5" y="1861.3" font-family='"Liberation Serif", "Noto Serif CJK SC", serif' font-size="42" font-weight="normal" text-anchor="middle" fill="#000" >a</text>
<g transform="translate(2116.7,1478) rotate(-90) scale(0.9,1)" font-family='"Noto Serif CJK SC", "Liberation Serif", serif' font-size="28" font-weight="normal" text-anchor="middle" fill="#000" >
<text x="7.8 23.3 38.9 54.4" y="0">1612</text>
</g>
<g transform="translate(2110,1613) rotate(-90) scale(0.9,1)" font-family='"Noto Serif CJK SC", "Liberation Serif", serif' font-size="28" font-weight="normal" text-anchor="middle" fill="#000" >
<text x="7.8 23.3 38.9 54.4" y="0">1650</text>
</g>
<g transform="translate(1749.1,1644.5) rotate(-90) scale(0.9,1)" font-family='"Noto Serif CJK SC", "Liberation Serif", serif' font-size="28" font-weight="normal" text-anchor="middle" fill="#000" >
<text x="7.8 23.3 38.9 54.4" y="0">2900</text>
</g>
<g transform="translate(1599.7,1686.5) rotate(-90) scale(0.9,1)" font-family='"Noto Serif CJK SC", "Liberation Serif", serif' font-size="28" font-weight="normal" text-anchor="middle" fill="#000" >
<text x="7.8 23.3 38.9 54.4" y="0">3433</text>
</g>
<g transform="translate(1599.7,1932) rotate(-90) scale(0.9,1)" font-family='"Noto Serif CJK SC", "Liberation Serif", serif' font-size="28" font-weight="normal" text-anchor="middle" fill="#000" >
<text x="7.8 23.3 38.9 54.4" y="0">3433</text>
</g>
<g transform="translate(2106.3,1889.5) rotate(-90) scale(0.9,1)" font-family='"Noto Serif CJK SC", "Liberation Serif", serif' font-size="28" font-weight="normal" text-anchor="middle" fill="#000" >
<text x="7.8 23.3 38.9 54.4" y="0">1633</text>
</g>
<g transform="translate(2239.8,1910.2) rotate(-90) scale(0.9,1)" font-family='"Noto Serif CJK SC", "Liberation Serif", serif' font-size="28" font-weight="normal" text-anchor="middle" fill="#000" >
<text x="7.8 23.3 38.9 54.4" y="0">1142</text>
</g>
<g transform="translate(2388.1,1947.2) rotate(-90) scale(0.9,1)" font-family='"Noto Serif CJK SC", "Liberation Serif", serif' font-size="28" font-weight="normal" text-anchor="middle" fill="#000" >
<text x="7.8 23.3 38.9" y="0">600</text>
</g>
<g transform="translate(1412.5,1761) rotate(-90) scale(0.84,1)" font-family='"Noto Serif CJK SC", "Liberation Serif", serif' font-size="42" font-weight="500" text-anchor="middle" fill="#000" >
<text transform="translate(134.9,0) scale(0.68,1)">m</text>
<text transform="translate(384.9,0) scale(0.68,1)">%</text>
<text x="12.3 36.8 61.3 85.8 110.4 134.9 159.4 183.9 208.5 233 257.5 282 306.5 331.1 362.1 384.9 404.6" y="0">trans ittance ( )</text>
</g>
<g transform="translate(1761.7,2072) scale(0.84,1)" font-family='"Noto Serif CJK SC", "Liberation Serif", serif' font-size="42" font-weight="500" text-anchor="middle" fill="#000" >
<text transform="translate(11.9,0) scale(0.68,1)">w</text>
<text transform="translate(155.3,0) scale(0.68,1)">m</text>
<text x="11.9 35.8 59.7 83.6 107.5 131.4 155.3 179.2 203.1 227" y="0"> avenu ber</text>
</g>
<g font-family='"Noto Serif CJK SC", "Liberation Serif", serif' font-size="42" font-weight="500" text-anchor="middle" fill="#000">
<text transform="translate(2003,2072) scale(0.840,1)">(</text>
<text transform="translate(2021,2072) scale(0.840,1)">c</text>
<text transform="translate(2041.6,2072) scale(0.605,1)">m</text>
<text transform="translate(2086.8,2072) scale(0.840,1)">)</text>
</g>
<g font-family='"Noto Serif CJK SC", "Liberation Serif", serif' font-size="27" font-weight="normal" text-anchor="middle" fill="#000">
<text transform="translate(2056.5,2053.5) scale(1.700,1)">-</text>
</g>
<g font-family='"Noto Serif CJK SC", "Liberation Serif", serif' font-size="27" font-weight="normal" text-anchor="middle" fill="#000">
<text transform="translate(2072,2053.5) scale(0.900,1)">1</text>
</g>
</g>
<text transform="translate(531.3,1092.5) scale(0.92,1)" font-family='"Liberation Serif", "Noto Serif CJK SC", serif' font-size="88" fill="#000">(</text>
<text transform="translate(559.5,1091) scale(1.0,1)" font-family='"Liberation Serif", "Noto Serif CJK SC", serif' font-size="88" font-weight="bold" fill="#000">A</text>
<text transform="translate(624,1092.5) scale(0.92,1)" font-family='"Liberation Serif", "Noto Serif CJK SC", serif' font-size="88" fill="#000">)</text>
<text transform="translate(1860.3,1092.5) scale(0.92,1)" font-family='"Liberation Serif", "Noto Serif CJK SC", serif' font-size="88" fill="#000">(</text>
<text transform="translate(1889,1091) scale(0.87,1)" font-family='"Liberation Serif", "Noto Serif CJK SC", serif' font-size="88" font-weight="bold" fill="#000">B</text>
<text transform="translate(1942.5,1092.5) scale(0.92,1)" font-family='"Liberation Serif", "Noto Serif CJK SC", serif' font-size="88" fill="#000">)</text>
<text transform="translate(533.3,2205.5) scale(0.92,1)" font-family='"Liberation Serif", "Noto Serif CJK SC", serif' font-size="88" fill="#000">(</text>
<text transform="translate(559.5,2204) scale(1.04,1)" font-family='"Liberation Serif", "Noto Serif CJK SC", serif' font-size="88" font-weight="bold" fill="#000">C</text>
<text transform="translate(621,2205.5) scale(0.92,1)" font-family='"Liberation Serif", "Noto Serif CJK SC", serif' font-size="88" fill="#000">)</text>
<text transform="translate(1852.3,2205.5) scale(0.92,1)" font-family='"Liberation Serif", "Noto Serif CJK SC", serif' font-size="88" fill="#000">(</text>
<text transform="translate(1880.5,2204) scale(1.09,1)" font-family='"Liberation Serif", "Noto Serif CJK SC", serif' font-size="88" font-weight="bold" fill="#000">D</text>
<text transform="translate(1950,2205.5) scale(0.92,1)" font-family='"Liberation Serif", "Noto Serif CJK SC", serif' font-size="88" fill="#000">)</text>
</svg>
</body></html>
